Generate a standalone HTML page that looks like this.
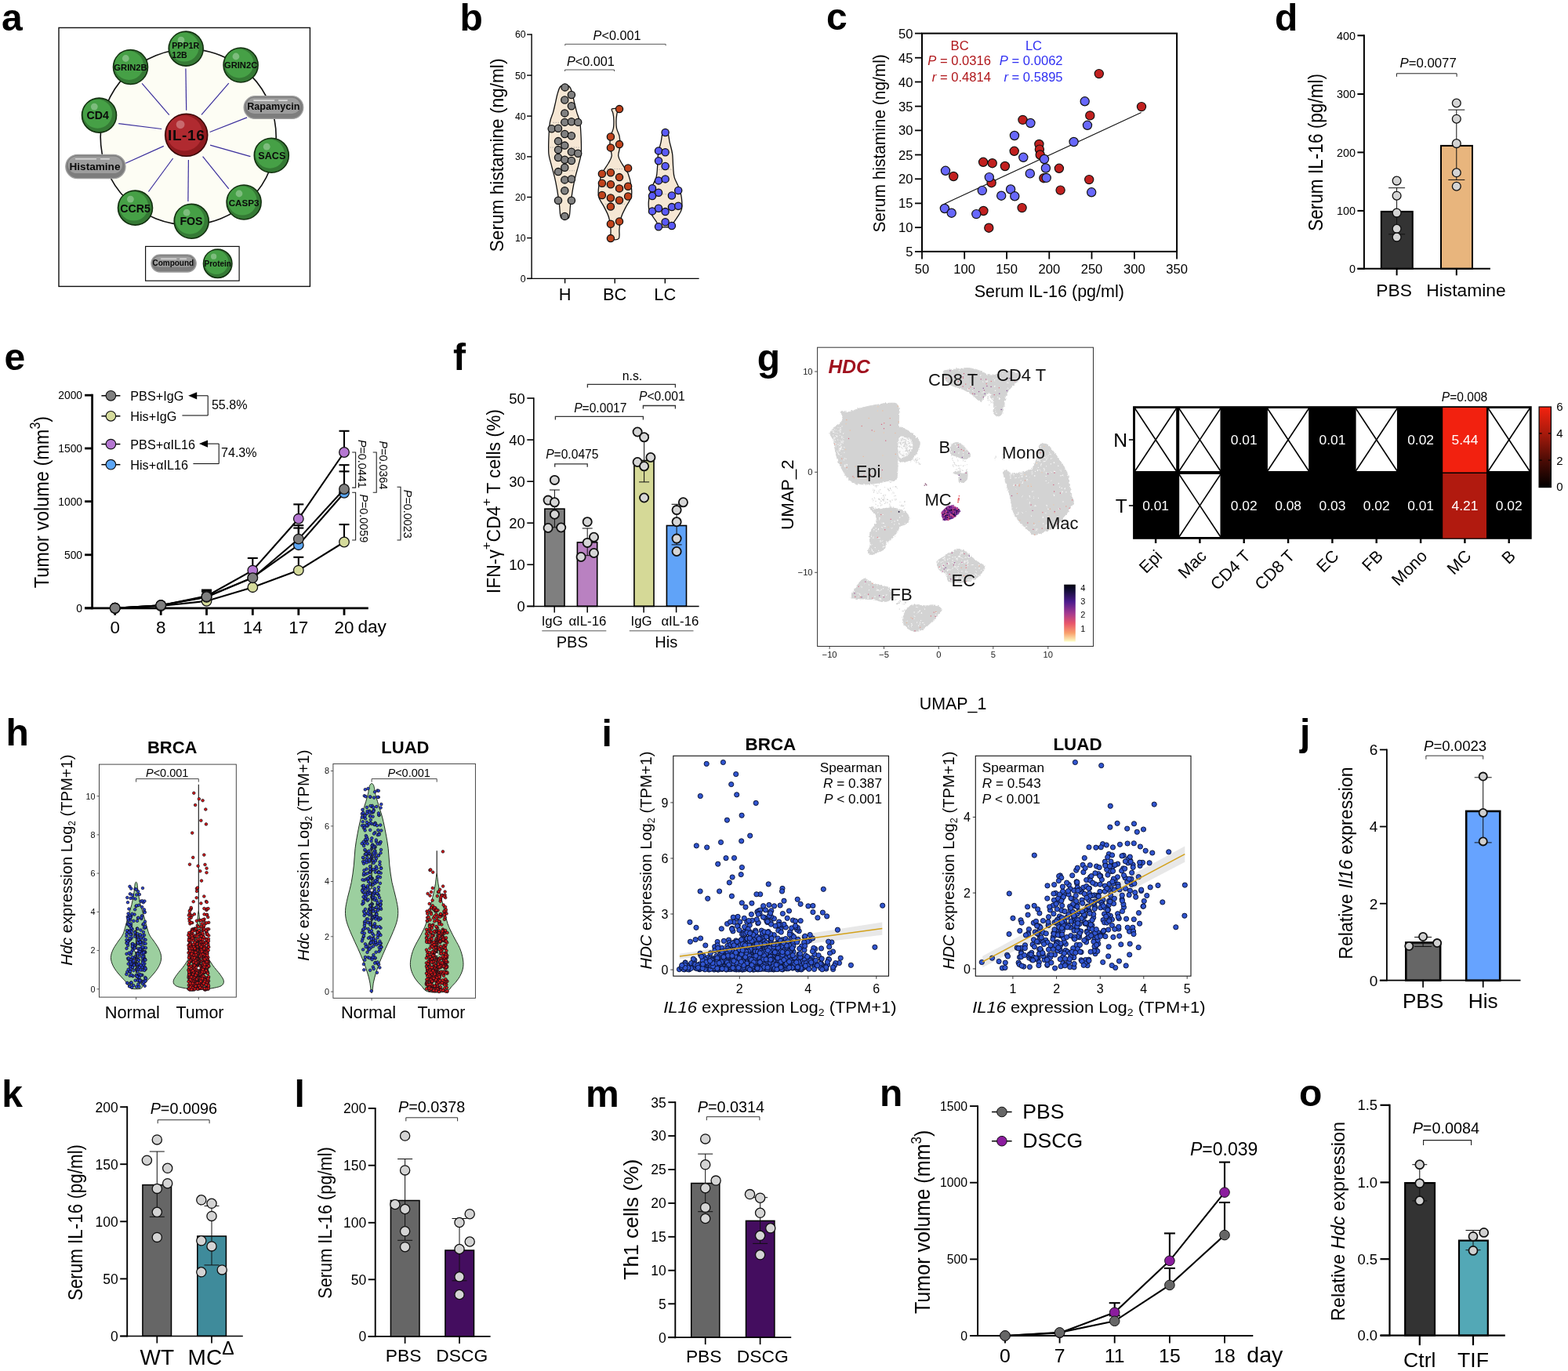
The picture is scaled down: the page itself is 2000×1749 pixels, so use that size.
<!DOCTYPE html>
<html lang="en">
<head>
<meta charset="utf-8">
<title>Figure</title>
<style>
html,body{margin:0;padding:0;background:#fff;}
body{width:2000px;height:1749px;overflow:hidden;}
svg{display:block;font-family:"Liberation Sans",sans-serif;}
svg text{white-space:pre;}
</style>
</head>
<body>
<svg width="2000" height="1749" viewBox="0 0 2000 1749">
<rect x="0" y="0" width="2000" height="1749" fill="#fff"/>
<!-- panel a -->
<g>
<text x="2" y="38.5" font-size="48" font-weight="bold">a</text>
<rect x="75" y="35.4" width="320.4" height="330" fill="none" stroke="#111" stroke-width="1.4"/>
<circle cx="240.2" cy="174.8" r="112" fill="#fdfdf4" stroke="#111" stroke-width="1.6"/>
<line x1="236.9" y1="87.5" x2="237.7" y2="140.8" stroke="#3a2e9c" stroke-width="1.2"/>
<line x1="181.1" y1="106.4" x2="215.8" y2="146.6" stroke="#3a2e9c" stroke-width="1.2"/>
<line x1="291.8" y1="106.1" x2="257" y2="146.4" stroke="#3a2e9c" stroke-width="1.2"/>
<line x1="315.1" y1="149.9" x2="267.6" y2="168.5" stroke="#3a2e9c" stroke-width="1.2"/>
<line x1="151.2" y1="157.7" x2="206.2" y2="164.5" stroke="#3a2e9c" stroke-width="1.2"/>
<line x1="268.1" y1="185.1" x2="319.4" y2="199.7" stroke="#3a2e9c" stroke-width="1.2"/>
<line x1="160.2" y1="208.2" x2="208.8" y2="186.4" stroke="#3a2e9c" stroke-width="1.2"/>
<line x1="189.4" y1="244.5" x2="220.6" y2="202" stroke="#3a2e9c" stroke-width="1.2"/>
<line x1="239.9" y1="257" x2="240.4" y2="204" stroke="#3a2e9c" stroke-width="1.2"/>
<line x1="291.8" y1="240.9" x2="258.6" y2="199.7" stroke="#3a2e9c" stroke-width="1.2"/>
<circle cx="237.2" cy="62.1" r="22" fill="#357a35" stroke="#12300f" stroke-width="1.6"/>
<circle cx="235.2" cy="60.1" r="18.48" fill="#46a046" stroke="none" stroke-width="0"/>
<circle cx="231" cy="51.1" r="4.4" fill="#fff" stroke="none" stroke-width="0" opacity="0.3"/>
<circle cx="166.5" cy="85.5" r="22" fill="#357a35" stroke="#12300f" stroke-width="1.6"/>
<circle cx="164.5" cy="83.5" r="18.48" fill="#46a046" stroke="none" stroke-width="0"/>
<circle cx="160.3" cy="74.5" r="4.4" fill="#fff" stroke="none" stroke-width="0" opacity="0.3"/>
<circle cx="307.1" cy="83" r="22" fill="#357a35" stroke="#12300f" stroke-width="1.6"/>
<circle cx="305.1" cy="81" r="18.48" fill="#46a046" stroke="none" stroke-width="0"/>
<circle cx="300.9" cy="72" r="4.4" fill="#fff" stroke="none" stroke-width="0" opacity="0.3"/>
<circle cx="126.5" cy="147.1" r="22" fill="#357a35" stroke="#12300f" stroke-width="1.6"/>
<circle cx="124.5" cy="145.2" r="18.48" fill="#46a046" stroke="none" stroke-width="0"/>
<circle cx="120.3" cy="136.1" r="4.4" fill="#fff" stroke="none" stroke-width="0" opacity="0.3"/>
<circle cx="346.3" cy="198.2" r="22" fill="#357a35" stroke="#12300f" stroke-width="1.6"/>
<circle cx="344.3" cy="196.2" r="18.48" fill="#46a046" stroke="none" stroke-width="0"/>
<circle cx="340.2" cy="187.2" r="4.4" fill="#fff" stroke="none" stroke-width="0" opacity="0.3"/>
<circle cx="311.1" cy="258" r="22" fill="#357a35" stroke="#12300f" stroke-width="1.6"/>
<circle cx="309.1" cy="256.1" r="18.48" fill="#46a046" stroke="none" stroke-width="0"/>
<circle cx="305" cy="247" r="4.4" fill="#fff" stroke="none" stroke-width="0" opacity="0.3"/>
<circle cx="244.2" cy="282.2" r="22" fill="#357a35" stroke="#12300f" stroke-width="1.6"/>
<circle cx="242.2" cy="280.2" r="18.48" fill="#46a046" stroke="none" stroke-width="0"/>
<circle cx="238.1" cy="271.2" r="4.4" fill="#fff" stroke="none" stroke-width="0" opacity="0.3"/>
<circle cx="172.5" cy="265.1" r="22" fill="#357a35" stroke="#12300f" stroke-width="1.6"/>
<circle cx="170.6" cy="263.1" r="18.48" fill="#46a046" stroke="none" stroke-width="0"/>
<circle cx="166.4" cy="254.1" r="4.4" fill="#fff" stroke="none" stroke-width="0" opacity="0.3"/>
<circle cx="237.7" cy="172.3" r="27" fill="#8f1b1f" stroke="#3a0808" stroke-width="1.6"/>
<circle cx="235.2" cy="169.9" r="22.68" fill="#b02a30" stroke="none" stroke-width="0"/>
<circle cx="230.1" cy="158.8" r="5.4" fill="#fff" stroke="none" stroke-width="0" opacity="0.3"/>
<rect x="311.1" y="122.7" width="75.7" height="28.7" rx="14.3" fill="#7d7d7d" stroke="#a0a0a0" stroke-width="1.3"/>
<rect x="314.1" y="124.7" width="68.7" height="20.2" rx="10.1" fill="#9d9d9d"/>
<rect x="323.1" y="127.3" width="27.3" height="1.6" rx="0.8" fill="#d9d9d9"/>
<rect x="354.9" y="127.3" width="12.1" height="1.6" rx="0.8" fill="#d9d9d9"/>
<rect x="83.8" y="197.4" width="76.2" height="30.2" rx="15.1" fill="#7d7d7d" stroke="#a0a0a0" stroke-width="1.3"/>
<rect x="86.8" y="199.4" width="69.2" height="21.7" rx="10.8" fill="#9d9d9d"/>
<rect x="95.8" y="202" width="27.4" height="1.6" rx="0.8" fill="#d9d9d9"/>
<rect x="127.8" y="202" width="12.2" height="1.6" rx="0.8" fill="#d9d9d9"/>
<rect x="185.6" y="314.4" width="119.5" height="43.8" fill="#fff" stroke="#111" stroke-width="1.2"/>
<rect x="192.9" y="324.9" width="57.3" height="22.1" rx="11.1" fill="#7d7d7d" stroke="#a0a0a0" stroke-width="1.3"/>
<rect x="195.9" y="326.9" width="50.3" height="13.6" rx="6.8" fill="#9d9d9d"/>
<rect x="204.9" y="329.5" width="20.6" height="1.6" rx="0.8" fill="#d9d9d9"/>
<rect x="229" y="329.5" width="9.2" height="1.6" rx="0.8" fill="#d9d9d9"/>
<circle cx="277.7" cy="336.3" r="18.2" fill="#357a35" stroke="#12300f" stroke-width="1.6"/>
<circle cx="276" cy="334.6" r="15.29" fill="#46a046" stroke="none" stroke-width="0"/>
<circle cx="272.6" cy="327.2" r="3.64" fill="#fff" stroke="none" stroke-width="0" opacity="0.3"/>
<text x="219.3" y="62.1" font-size="10.6" font-weight="bold" fill="#0a0a0a">PPP1R</text>
<text x="219.3" y="74.4" font-size="10.6" font-weight="bold" fill="#0a0a0a">12B</text>
<text x="166.5" y="90" font-size="11.2" text-anchor="middle" font-weight="bold" fill="#0a0a0a">GRIN2B</text>
<text x="307.1" y="87.3" font-size="11.2" text-anchor="middle" font-weight="bold" fill="#0a0a0a">GRIN2C</text>
<text x="124.7" y="152.4" font-size="14.2" text-anchor="middle" font-weight="bold" fill="#0a0a0a">CD4</text>
<text x="346.8" y="202.7" font-size="12.6" text-anchor="middle" font-weight="bold" fill="#0a0a0a">SACS</text>
<text x="311.1" y="262.8" font-size="11.6" text-anchor="middle" font-weight="bold" fill="#0a0a0a">CASP3</text>
<text x="244" y="287.2" font-size="14.2" text-anchor="middle" font-weight="bold" fill="#0a0a0a">FOS</text>
<text x="172.5" y="271.1" font-size="14.2" text-anchor="middle" font-weight="bold" fill="#0a0a0a">CCR5</text>
<text x="237.7" y="179.3" font-size="19" text-anchor="middle" font-weight="bold" fill="#0a0a0a" letter-spacing="0.6">IL-16</text>
<text x="348.8" y="140.3" font-size="12.6" text-anchor="middle" font-weight="bold" fill="#0a0a0a">Rapamycin</text>
<text x="121" y="216.5" font-size="13.6" text-anchor="middle" font-weight="bold" fill="#0a0a0a">Histamine</text>
<text x="220.8" y="339.3" font-size="10" text-anchor="middle" font-weight="bold" fill="#0a0a0a">Compound</text>
<text x="277.7" y="339.5" font-size="10" text-anchor="middle" font-weight="bold" fill="#0a0a0a">Protein</text>
</g>
<!-- panel b -->
<g>
<text x="586.5" y="38.5" font-size="48" font-weight="bold">b</text>
<path d="M715.5 109.9C713.2 111.3 712.7 114.7 711.5 118.2C710.3 121.7 709.5 126.6 708.5 130.8C707.5 135 706.7 139.2 705.5 143.4C704.3 147.6 702.4 150.5 701.5 155.9C700.5 161.4 700.2 169.3 699.9 176.1C699.7 182.8 699.4 190.3 699.9 196.2C700.5 202 702.2 206.2 703.5 211.3C704.7 216.3 706.3 221.3 707.5 226.4C708.7 231.4 709.5 235.6 710.5 241.4C711.5 247.3 712.7 255.5 713.5 261.6C714.4 267.6 713.8 275.2 715.8 277.9C717.8 280.6 723.4 280.6 725.4 277.9C727.3 275.2 726.7 267.6 727.6 261.6C728.5 255.5 729.6 247.3 730.6 241.4C731.6 235.6 732.5 231.4 733.7 226.4C734.8 221.3 736.4 216.3 737.7 211.3C738.9 206.2 740.6 202 741.2 196.2C741.8 190.3 741.4 182.8 741.2 176.1C740.9 169.3 740.6 161.4 739.7 155.9C738.8 150.5 736.8 147.6 735.7 143.4C734.5 139.2 733.7 135 732.6 130.8C731.6 126.6 730.8 121.7 729.6 118.2C728.5 114.7 728 111.3 725.6 109.9C723.3 108.5 717.9 108.5 715.5 109.9Z" fill="#f6e7d4" stroke="#111" stroke-width="1.3"/>
<path d="M780.4 139.1C779.3 140 781.5 142.2 781.9 144.6C782.4 147 782.9 150.3 782.9 153.4C783 156.6 783.1 160.1 782.4 163.5C781.8 166.8 779.7 169.8 778.9 173.5C778.2 177.3 777.7 181.9 777.9 186.1C778.1 190.3 780.6 194.9 780.2 198.7C779.8 202.5 777.7 205 775.7 208.8C773.6 212.5 769.9 216.3 767.9 221.3C765.8 226.4 764.3 233.9 763.6 238.9C762.9 244 762.7 247.3 763.8 251.5C765 255.7 768.5 259.9 770.6 264.1C772.7 268.3 775 272 776.4 276.7C777.8 281.3 778.4 287.1 778.9 291.8C779.5 296.4 778 302.2 779.7 304.3C781.4 306.4 787.5 306.4 789.2 304.3C791 302.2 789.4 296.4 790 291.8C790.5 287.1 791.1 281.3 792.5 276.7C793.9 272 796.2 268.3 798.3 264.1C800.4 259.9 803.9 255.7 805.1 251.5C806.3 247.3 806 244 805.3 238.9C804.7 233.9 803.1 226.4 801.1 221.3C799 216.3 795.3 212.5 793.3 208.8C791.2 205 789.1 202.5 788.7 198.7C788.4 194.9 790.8 190.3 791 186.1C791.2 181.9 790.7 177.3 790 173.5C789.2 169.8 787.1 166.8 786.5 163.5C785.8 160.1 785.9 156.6 786 153.4C786 150.3 786.6 147 787 144.6C787.4 142.2 789.6 140 788.5 139.1C787.4 138.2 781.5 138.2 780.4 139.1Z" fill="#f6e7d4" stroke="#111" stroke-width="1.3"/>
<path d="M845.6 169C844.1 171 844.1 176.6 843.1 181.1C842.1 185.6 840.3 190.7 839.5 196.2C838.8 201.6 839 208.8 838.5 213.8C838.1 218.8 838.2 222.2 837 226.4C835.8 230.5 833 234.7 831.5 238.9C830 243.1 828.6 246.9 828 251.5C827.3 256.1 826.9 262.4 827.7 266.6C828.6 270.8 831.3 273.7 833 276.7C834.7 279.6 837.1 282.1 838 284.2C839 286.3 835.1 288.4 838.5 289.2C842 290.1 855.2 290.1 858.7 289.2C862.1 288.4 858.2 286.3 859.2 284.2C860.1 282.1 862.5 279.6 864.2 276.7C865.9 273.7 868.6 270.8 869.5 266.6C870.3 262.4 869.8 256.1 869.2 251.5C868.6 246.9 867.2 243.1 865.7 238.9C864.2 234.7 861.3 230.5 860.2 226.4C859 222.2 859.1 218.8 858.7 213.8C858.2 208.8 858.4 201.6 857.6 196.2C856.9 190.7 855.1 185.6 854.1 181.1C853.1 176.6 853 171 851.6 169C850.2 167 847 167 845.6 169Z" fill="#f6e7d4" stroke="#111" stroke-width="1.3"/>
<line x1="705.5" y1="156.4" x2="735.7" y2="156.4" stroke="#999" stroke-width="0.7" stroke-dasharray="1.5 1.5"/>
<line x1="701.5" y1="188.1" x2="739.7" y2="188.1" stroke="#999" stroke-width="0.7" stroke-dasharray="1.5 1.5"/>
<line x1="708" y1="217.8" x2="733.1" y2="217.8" stroke="#999" stroke-width="0.7" stroke-dasharray="1.5 1.5"/>
<line x1="774.4" y1="215.5" x2="794.5" y2="215.5" stroke="#999" stroke-width="0.7" stroke-dasharray="1.5 1.5"/>
<line x1="766.9" y1="238.4" x2="802.1" y2="238.4" stroke="#999" stroke-width="0.7" stroke-dasharray="1.5 1.5"/>
<line x1="771.9" y1="260.3" x2="797" y2="260.3" stroke="#999" stroke-width="0.7" stroke-dasharray="1.5 1.5"/>
<line x1="840" y1="216.3" x2="857.1" y2="216.3" stroke="#999" stroke-width="0.7" stroke-dasharray="1.5 1.5"/>
<line x1="833.5" y1="247.7" x2="863.7" y2="247.7" stroke="#999" stroke-width="0.7" stroke-dasharray="1.5 1.5"/>
<line x1="831" y1="267.9" x2="866.2" y2="267.9" stroke="#999" stroke-width="0.7" stroke-dasharray="1.5 1.5"/>
<g fill="#808080" stroke="#111" stroke-width="1.3">
<circle cx="720.6" cy="111.4" r="4.6"/>
<circle cx="728.9" cy="121" r="4.6"/>
<circle cx="720.3" cy="127.5" r="4.6"/>
<circle cx="728.9" cy="135.3" r="4.6"/>
<circle cx="720.3" cy="144.4" r="4.6"/>
<circle cx="720.3" cy="155.9" r="4.6"/>
<circle cx="728.9" cy="155.2" r="4.6"/>
<circle cx="737.2" cy="155.9" r="4.6"/>
<circle cx="703.7" cy="164.2" r="4.6"/>
<circle cx="712" cy="163.7" r="4.6"/>
<circle cx="720.3" cy="171" r="4.6"/>
<circle cx="728.9" cy="173.3" r="4.6"/>
<circle cx="712" cy="180.1" r="4.6"/>
<circle cx="720.3" cy="185.6" r="4.6"/>
<circle cx="712" cy="191.1" r="4.6"/>
<circle cx="728.9" cy="193.7" r="4.6"/>
<circle cx="737.2" cy="195.7" r="4.6"/>
<circle cx="712" cy="201" r="4.6"/>
<circle cx="720.3" cy="203.7" r="4.6"/>
<circle cx="728.9" cy="205" r="4.6"/>
<circle cx="720.3" cy="213.8" r="4.6"/>
<circle cx="712" cy="219.1" r="4.6"/>
<circle cx="720.3" cy="229.4" r="4.6"/>
<circle cx="728.9" cy="228.4" r="4.6"/>
<circle cx="720.3" cy="243.2" r="4.6"/>
<circle cx="712" cy="255.8" r="4.6"/>
<circle cx="728.9" cy="255.8" r="4.6"/>
<circle cx="720.3" cy="275.9" r="4.6"/>
</g>
<g fill="#c0431c" stroke="#111" stroke-width="1.3">
<circle cx="790" cy="139.1" r="4.6"/>
<circle cx="778.9" cy="174.5" r="4.6"/>
<circle cx="790" cy="184.1" r="4.6"/>
<circle cx="778.9" cy="188.4" r="4.6"/>
<circle cx="801.1" cy="214.5" r="4.6"/>
<circle cx="767.9" cy="221.8" r="4.6"/>
<circle cx="778.9" cy="220.3" r="4.6"/>
<circle cx="790" cy="226.1" r="4.6"/>
<circle cx="767.9" cy="233.7" r="4.6"/>
<circle cx="778.9" cy="235.2" r="4.6"/>
<circle cx="790" cy="240.4" r="4.6"/>
<circle cx="801.1" cy="237.7" r="4.6"/>
<circle cx="767.9" cy="249" r="4.6"/>
<circle cx="778.9" cy="252.5" r="4.6"/>
<circle cx="790" cy="255.5" r="4.6"/>
<circle cx="801.1" cy="250.5" r="4.6"/>
<circle cx="778.9" cy="263.6" r="4.6"/>
<circle cx="790" cy="282.4" r="4.6"/>
<circle cx="778.9" cy="285.7" r="4.6"/>
<circle cx="778.9" cy="304.1" r="4.6"/>
</g>
<g fill="#5a5af7" stroke="#111" stroke-width="1.3">
<circle cx="848.6" cy="169" r="4.6"/>
<circle cx="840" cy="192.4" r="4.6"/>
<circle cx="848.6" cy="194.2" r="4.6"/>
<circle cx="840" cy="205.2" r="4.6"/>
<circle cx="848.6" cy="212" r="4.6"/>
<circle cx="840" cy="230.4" r="4.6"/>
<circle cx="848.6" cy="228.4" r="4.6"/>
<circle cx="832" cy="240.2" r="4.6"/>
<circle cx="840" cy="245.7" r="4.6"/>
<circle cx="865.2" cy="243" r="4.6"/>
<circle cx="832" cy="250" r="4.6"/>
<circle cx="856.9" cy="249.5" r="4.6"/>
<circle cx="832" cy="269.4" r="4.6"/>
<circle cx="840" cy="265.8" r="4.6"/>
<circle cx="848.6" cy="270.1" r="4.6"/>
<circle cx="856.9" cy="264.1" r="4.6"/>
<circle cx="865.2" cy="262.8" r="4.6"/>
<circle cx="848.6" cy="283.2" r="4.6"/>
<circle cx="840" cy="289.2" r="4.6"/>
<circle cx="856.9" cy="288" r="4.6"/>
</g>
<line x1="678.1" y1="43.3" x2="678.1" y2="356.1" stroke="#000" stroke-width="1.4"/>
<line x1="672.1" y1="44" x2="678.1" y2="44" stroke="#000" stroke-width="1.4"/>
<text x="670.6" y="48.4" font-size="12.3" text-anchor="end">60</text>
<line x1="672.1" y1="96.1" x2="678.1" y2="96.1" stroke="#000" stroke-width="1.4"/>
<text x="670.6" y="100.5" font-size="12.3" text-anchor="end">50</text>
<line x1="672.1" y1="148.1" x2="678.1" y2="148.1" stroke="#000" stroke-width="1.4"/>
<text x="670.6" y="152.6" font-size="12.3" text-anchor="end">40</text>
<line x1="672.1" y1="199.9" x2="678.1" y2="199.9" stroke="#000" stroke-width="1.4"/>
<text x="670.6" y="204.4" font-size="12.3" text-anchor="end">30</text>
<line x1="672.1" y1="251.5" x2="678.1" y2="251.5" stroke="#000" stroke-width="1.4"/>
<text x="670.6" y="255.9" font-size="12.3" text-anchor="end">20</text>
<line x1="672.1" y1="303.6" x2="678.1" y2="303.6" stroke="#000" stroke-width="1.4"/>
<text x="670.6" y="308" font-size="12.3" text-anchor="end">10</text>
<line x1="672.1" y1="355.4" x2="678.1" y2="355.4" stroke="#000" stroke-width="1.4"/>
<text x="670.6" y="359.8" font-size="12.3" text-anchor="end">0</text>
<line x1="672.1" y1="355.4" x2="891.6" y2="355.4" stroke="#000" stroke-width="1.4"/>
<line x1="720.6" y1="355.4" x2="720.6" y2="361.4" stroke="#000" stroke-width="1.4"/>
<line x1="784.2" y1="355.4" x2="784.2" y2="361.4" stroke="#000" stroke-width="1.4"/>
<line x1="848.3" y1="355.4" x2="848.3" y2="361.4" stroke="#000" stroke-width="1.4"/>
<text x="720.6" y="382.8" font-size="21.8" text-anchor="middle">H</text>
<text x="784.2" y="382.8" font-size="21.8" text-anchor="middle">BC</text>
<text x="848.3" y="382.8" font-size="21.8" text-anchor="middle">LC</text>
<text font-size="23.6" text-anchor="middle" transform="translate(641.6 197.9) rotate(-90) scale(0.96 1)">Serum histamine (ng/ml)</text>
<text x="787" y="51.1" font-size="16.2" text-anchor="middle"><tspan font-style="italic">P</tspan>&lt;0.001</text>
<polyline points="720.8,58.3 720.8,56.3 849.1,56.3 849.1,58.3" fill="none" stroke="#555" stroke-width="1"/>
<text x="753.3" y="84.3" font-size="16.2" text-anchor="middle"><tspan font-style="italic">P</tspan>&lt;0.001</text>
<polyline points="720.6,91 720.6,89 783.5,89 783.5,91" fill="none" stroke="#555" stroke-width="1"/>
</g>
<!-- panel c -->
<g>
<text x="1054" y="38" font-size="48" font-weight="bold">c</text>
<line x1="1204.9" y1="259.9" x2="1455.7" y2="143.6" stroke="#111" stroke-width="1.1"/>
<g fill="#c1201f" stroke="#111" stroke-width="1.2">
<circle cx="1401.8" cy="94.1" r="5.6"/>
<circle cx="1456" cy="136.1" r="5.6"/>
<circle cx="1390.3" cy="147.4" r="5.6"/>
<circle cx="1304.5" cy="152.9" r="5.6"/>
<circle cx="1325.4" cy="184" r="5.6"/>
<circle cx="1325.9" cy="190.6" r="5.6"/>
<circle cx="1326.7" cy="197.5" r="5.6"/>
<circle cx="1293.7" cy="192.8" r="5.6"/>
<circle cx="1254.1" cy="206.8" r="5.6"/>
<circle cx="1265.7" cy="208.2" r="5.6"/>
<circle cx="1281.9" cy="212" r="5.6"/>
<circle cx="1216.2" cy="225" r="5.6"/>
<circle cx="1350.9" cy="214.8" r="5.6"/>
<circle cx="1331.4" cy="227.2" r="5.6"/>
<circle cx="1264.6" cy="233.2" r="5.6"/>
<circle cx="1389.2" cy="229.1" r="5.6"/>
<circle cx="1352.6" cy="242.6" r="5.6"/>
<circle cx="1303.6" cy="265.1" r="5.6"/>
<circle cx="1254.4" cy="269" r="5.6"/>
<circle cx="1261.3" cy="290.7" r="5.6"/>
</g>
<g fill="#6868fb" stroke="#111" stroke-width="1.2">
<circle cx="1383.7" cy="129.3" r="5.6"/>
<circle cx="1387" cy="159.8" r="5.6"/>
<circle cx="1314.4" cy="157" r="5.6"/>
<circle cx="1294" cy="173" r="5.6"/>
<circle cx="1369.6" cy="181" r="5.6"/>
<circle cx="1305.3" cy="200.8" r="5.6"/>
<circle cx="1332" cy="203" r="5.6"/>
<circle cx="1333.9" cy="214.5" r="5.6"/>
<circle cx="1206" cy="217.8" r="5.6"/>
<circle cx="1313.8" cy="221.4" r="5.6"/>
<circle cx="1261.8" cy="226.1" r="5.6"/>
<circle cx="1334.7" cy="226.9" r="5.6"/>
<circle cx="1252.8" cy="243.1" r="5.6"/>
<circle cx="1289.1" cy="241.5" r="5.6"/>
<circle cx="1294.3" cy="250.3" r="5.6"/>
<circle cx="1277.2" cy="249.7" r="5.6"/>
<circle cx="1392.2" cy="245.3" r="5.6"/>
<circle cx="1204.9" cy="266" r="5.6"/>
<circle cx="1213.7" cy="271.7" r="5.6"/>
<circle cx="1245.3" cy="273.1" r="5.6"/>
</g>
<rect x="1176" y="42.6" width="325.1" height="278.3" fill="none" stroke="#000" stroke-width="2"/>
<line x1="1167" y1="42.6" x2="1176" y2="42.6" stroke="#000" stroke-width="1.8"/>
<text x="1164.5" y="48.6" font-size="16.6" text-anchor="end">50</text>
<line x1="1167" y1="73.7" x2="1176" y2="73.7" stroke="#000" stroke-width="1.8"/>
<text x="1164.5" y="79.7" font-size="16.6" text-anchor="end">45</text>
<line x1="1167" y1="104.5" x2="1176" y2="104.5" stroke="#000" stroke-width="1.8"/>
<text x="1164.5" y="110.5" font-size="16.6" text-anchor="end">40</text>
<line x1="1167" y1="135.6" x2="1176" y2="135.6" stroke="#000" stroke-width="1.8"/>
<text x="1164.5" y="141.6" font-size="16.6" text-anchor="end">35</text>
<line x1="1167" y1="166.4" x2="1176" y2="166.4" stroke="#000" stroke-width="1.8"/>
<text x="1164.5" y="172.4" font-size="16.6" text-anchor="end">30</text>
<line x1="1167" y1="197.5" x2="1176" y2="197.5" stroke="#000" stroke-width="1.8"/>
<text x="1164.5" y="203.5" font-size="16.6" text-anchor="end">25</text>
<line x1="1167" y1="228.3" x2="1176" y2="228.3" stroke="#000" stroke-width="1.8"/>
<text x="1164.5" y="234.3" font-size="16.6" text-anchor="end">20</text>
<line x1="1167" y1="259.4" x2="1176" y2="259.4" stroke="#000" stroke-width="1.8"/>
<text x="1164.5" y="265.4" font-size="16.6" text-anchor="end">15</text>
<line x1="1167" y1="290.2" x2="1176" y2="290.2" stroke="#000" stroke-width="1.8"/>
<text x="1164.5" y="296.2" font-size="16.6" text-anchor="end">10</text>
<line x1="1167" y1="321" x2="1176" y2="321" stroke="#000" stroke-width="1.8"/>
<text x="1164.5" y="327" font-size="16.6" text-anchor="end">5</text>
<line x1="1176" y1="321" x2="1176" y2="330.5" stroke="#000" stroke-width="1.8"/>
<text x="1176" y="348.7" font-size="16.6" text-anchor="middle">50</text>
<line x1="1230.2" y1="321" x2="1230.2" y2="330.5" stroke="#000" stroke-width="1.8"/>
<text x="1230.2" y="348.7" font-size="16.6" text-anchor="middle">100</text>
<line x1="1284.1" y1="321" x2="1284.1" y2="330.5" stroke="#000" stroke-width="1.8"/>
<text x="1284.1" y="348.7" font-size="16.6" text-anchor="middle">150</text>
<line x1="1338.3" y1="321" x2="1338.3" y2="330.5" stroke="#000" stroke-width="1.8"/>
<text x="1338.3" y="348.7" font-size="16.6" text-anchor="middle">200</text>
<line x1="1392.5" y1="321" x2="1392.5" y2="330.5" stroke="#000" stroke-width="1.8"/>
<text x="1392.5" y="348.7" font-size="16.6" text-anchor="middle">250</text>
<line x1="1446.9" y1="321" x2="1446.9" y2="330.5" stroke="#000" stroke-width="1.8"/>
<text x="1446.9" y="348.7" font-size="16.6" text-anchor="middle">300</text>
<line x1="1501.1" y1="321" x2="1501.1" y2="330.5" stroke="#000" stroke-width="1.8"/>
<text x="1501.1" y="348.7" font-size="16.6" text-anchor="middle">350</text>
<text x="1338.3" y="378.7" font-size="21.5" text-anchor="middle">Serum IL-16 (pg/ml)</text>
<text font-size="22" text-anchor="middle" transform="translate(1128.7 182.9) rotate(-90) scale(0.95 1)">Serum histamine (ng/ml)</text>
<text x="1224.1" y="64.4" font-size="16.6" text-anchor="middle" fill="#b0181c">BC</text>
<text x="1264" y="83.3" font-size="16.6" text-anchor="end" fill="#b0181c"><tspan font-style="italic">P</tspan> = 0.0316</text>
<text x="1264" y="104" font-size="16.6" text-anchor="end" fill="#b0181c"><tspan font-style="italic">r</tspan> = 0.4814</text>
<text x="1318.5" y="64.4" font-size="16.6" text-anchor="middle" fill="#3030f2">LC</text>
<text x="1355.6" y="83.3" font-size="16.6" text-anchor="end" fill="#3030f2"><tspan font-style="italic">P</tspan> = 0.0062</text>
<text x="1355.6" y="104" font-size="16.6" text-anchor="end" fill="#3030f2"><tspan font-style="italic">r</tspan> = 0.5895</text>
</g>
<!-- panel d -->
<g>
<text x="1626" y="38.5" font-size="48" font-weight="bold">d</text>
<rect x="1761.8" y="269.9" width="40" height="72.9" fill="#333333" stroke="#000" stroke-width="2"/>
<rect x="1838" y="185.9" width="40" height="156.9" fill="#e8b57d" stroke="#000" stroke-width="2"/>
<line x1="1781.6" y1="239.7" x2="1781.6" y2="298.8" stroke="#111" stroke-width="1"/>
<line x1="1771.1" y1="239.7" x2="1792.1" y2="239.7" stroke="#111" stroke-width="1"/>
<line x1="1771.1" y1="298.8" x2="1792.1" y2="298.8" stroke="#111" stroke-width="1"/>
<line x1="1857.8" y1="140.1" x2="1857.8" y2="229.4" stroke="#111" stroke-width="1"/>
<line x1="1847.3" y1="140.1" x2="1868.3" y2="140.1" stroke="#111" stroke-width="1"/>
<line x1="1847.3" y1="229.4" x2="1868.3" y2="229.4" stroke="#111" stroke-width="1"/>
<g fill="#d4d4d4" stroke="#111" stroke-width="1.3">
<circle cx="1781.6" cy="230.6" r="5.4"/>
<circle cx="1781.6" cy="249.7" r="5.4"/>
<circle cx="1781.6" cy="271.6" r="5.4"/>
<circle cx="1781.6" cy="291.8" r="5.4"/>
<circle cx="1781.6" cy="302.6" r="5.4"/>
</g>
<g fill="#d4d4d4" stroke="#111" stroke-width="1.3">
<circle cx="1857.8" cy="131.5" r="5.4"/>
<circle cx="1857.8" cy="151.7" r="5.4"/>
<circle cx="1857.8" cy="183.1" r="5.4"/>
<circle cx="1857.8" cy="220.3" r="5.4"/>
<circle cx="1857.8" cy="237.7" r="5.4"/>
</g>
<line x1="1739.9" y1="44.3" x2="1739.9" y2="343.8" stroke="#000" stroke-width="2"/>
<line x1="1731.4" y1="45.3" x2="1739.9" y2="45.3" stroke="#000" stroke-width="2"/>
<text x="1728.9" y="50.5" font-size="14.4" text-anchor="end">400</text>
<line x1="1731.4" y1="120" x2="1739.9" y2="120" stroke="#000" stroke-width="2"/>
<text x="1728.9" y="125.2" font-size="14.4" text-anchor="end">300</text>
<line x1="1731.4" y1="194.4" x2="1739.9" y2="194.4" stroke="#000" stroke-width="2"/>
<text x="1728.9" y="199.6" font-size="14.4" text-anchor="end">200</text>
<line x1="1731.4" y1="268.9" x2="1739.9" y2="268.9" stroke="#000" stroke-width="2"/>
<text x="1728.9" y="274" font-size="14.4" text-anchor="end">100</text>
<line x1="1731.4" y1="342.8" x2="1739.9" y2="342.8" stroke="#000" stroke-width="2"/>
<text x="1728.9" y="348" font-size="14.4" text-anchor="end">0</text>
<line x1="1731.4" y1="342.8" x2="1900.9" y2="342.8" stroke="#000" stroke-width="2"/>
<line x1="1781.6" y1="342.8" x2="1781.6" y2="351.3" stroke="#000" stroke-width="2"/>
<line x1="1857.8" y1="342.8" x2="1857.8" y2="351.3" stroke="#000" stroke-width="2"/>
<text x="1778.1" y="378" font-size="22.8" text-anchor="middle">PBS</text>
<text x="1869.9" y="378" font-size="22.8" text-anchor="middle">Histamine</text>
<text font-size="25.4" text-anchor="middle" transform="translate(1686.6 194.4) rotate(-90) scale(0.89 1)">Serum IL-16 (pg/ml)</text>
<text x="1821.6" y="86.3" font-size="16.8" text-anchor="middle"><tspan font-style="italic">P</tspan>=0.0077</text>
<polyline points="1781.4,97.8 1781.4,93.8 1858.1,93.8 1858.1,97.8" fill="none" stroke="#222" stroke-width="1"/>
</g>
<!-- panel e -->
<g>
<text x="5.5" y="472" font-size="48" font-weight="bold">e</text>
<line x1="263.5" y1="766.8" x2="263.5" y2="759" stroke="#000" stroke-width="2.1"/>
<line x1="257" y1="759" x2="270" y2="759" stroke="#000" stroke-width="2.1"/>
<line x1="322.3" y1="749.2" x2="322.3" y2="738" stroke="#000" stroke-width="2.1"/>
<line x1="315.8" y1="738" x2="328.8" y2="738" stroke="#000" stroke-width="2.1"/>
<line x1="380.8" y1="727.6" x2="380.8" y2="710.8" stroke="#000" stroke-width="2.1"/>
<line x1="374.3" y1="710.8" x2="387.3" y2="710.8" stroke="#000" stroke-width="2.1"/>
<line x1="439" y1="691.5" x2="439" y2="669.1" stroke="#000" stroke-width="2.1"/>
<line x1="432.5" y1="669.1" x2="445.5" y2="669.1" stroke="#000" stroke-width="2.1"/>
<line x1="263.5" y1="761.8" x2="263.5" y2="754.8" stroke="#000" stroke-width="2.1"/>
<line x1="257" y1="754.8" x2="270" y2="754.8" stroke="#000" stroke-width="2.1"/>
<line x1="380.8" y1="695.2" x2="380.8" y2="673.6" stroke="#000" stroke-width="2.1"/>
<line x1="374.3" y1="673.6" x2="387.3" y2="673.6" stroke="#000" stroke-width="2.1"/>
<line x1="439" y1="628.8" x2="439" y2="601.4" stroke="#000" stroke-width="2.1"/>
<line x1="432.5" y1="601.4" x2="445.5" y2="601.4" stroke="#000" stroke-width="2.1"/>
<line x1="263.5" y1="760.4" x2="263.5" y2="752.6" stroke="#000" stroke-width="2.1"/>
<line x1="257" y1="752.6" x2="270" y2="752.6" stroke="#000" stroke-width="2.1"/>
<line x1="322.3" y1="727.6" x2="322.3" y2="712" stroke="#000" stroke-width="2.1"/>
<line x1="315.8" y1="712" x2="328.8" y2="712" stroke="#000" stroke-width="2.1"/>
<line x1="380.8" y1="661.8" x2="380.8" y2="643.4" stroke="#000" stroke-width="2.1"/>
<line x1="374.3" y1="643.4" x2="387.3" y2="643.4" stroke="#000" stroke-width="2.1"/>
<line x1="439" y1="577" x2="439" y2="549.8" stroke="#000" stroke-width="2.1"/>
<line x1="432.5" y1="549.8" x2="445.5" y2="549.8" stroke="#000" stroke-width="2.1"/>
<line x1="263.5" y1="761.2" x2="263.5" y2="753.4" stroke="#000" stroke-width="2.1"/>
<line x1="257" y1="753.4" x2="270" y2="753.4" stroke="#000" stroke-width="2.1"/>
<line x1="380.8" y1="687.6" x2="380.8" y2="670.2" stroke="#000" stroke-width="2.1"/>
<line x1="374.3" y1="670.2" x2="387.3" y2="670.2" stroke="#000" stroke-width="2.1"/>
<line x1="439" y1="624" x2="439" y2="593.2" stroke="#000" stroke-width="2.1"/>
<line x1="432.5" y1="593.2" x2="445.5" y2="593.2" stroke="#000" stroke-width="2.1"/>
<polyline points="146.7,775.8 205.2,773 263.5,766.8 322.3,749.2 380.8,727.6 439,691.5" fill="none" stroke="#000" stroke-width="2.1"/>
<g fill="#d5db9b" stroke="#111" stroke-width="1.3">
<circle cx="146.7" cy="775.8" r="6.3"/>
<circle cx="205.2" cy="773" r="6.3"/>
<circle cx="263.5" cy="766.8" r="6.3"/>
<circle cx="322.3" cy="749.2" r="6.3"/>
<circle cx="380.8" cy="727.6" r="6.3"/>
<circle cx="439" cy="691.5" r="6.3"/>
</g>
<polyline points="146.7,775.8 205.2,772.2 263.5,761.8 322.3,736.6 380.8,695.2 439,628.8" fill="none" stroke="#000" stroke-width="2.1"/>
<g fill="#5ba6f6" stroke="#111" stroke-width="1.3">
<circle cx="146.7" cy="775.8" r="6.3"/>
<circle cx="205.2" cy="772.2" r="6.3"/>
<circle cx="263.5" cy="761.8" r="6.3"/>
<circle cx="322.3" cy="736.6" r="6.3"/>
<circle cx="380.8" cy="695.2" r="6.3"/>
<circle cx="439" cy="628.8" r="6.3"/>
</g>
<polyline points="146.7,775.8 205.2,772.2 263.5,760.4 322.3,727.6 380.8,661.8 439,577" fill="none" stroke="#000" stroke-width="2.1"/>
<g fill="#b577d2" stroke="#111" stroke-width="1.3">
<circle cx="146.7" cy="775.8" r="6.3"/>
<circle cx="205.2" cy="772.2" r="6.3"/>
<circle cx="263.5" cy="760.4" r="6.3"/>
<circle cx="322.3" cy="727.6" r="6.3"/>
<circle cx="380.8" cy="661.8" r="6.3"/>
<circle cx="439" cy="577" r="6.3"/>
</g>
<polyline points="146.7,775.8 205.2,772.2 263.5,761.2 322.3,737.2 380.8,687.6 439,624" fill="none" stroke="#000" stroke-width="2.1"/>
<g fill="#7f7f7f" stroke="#111" stroke-width="1.3">
<circle cx="146.7" cy="775.8" r="6.3"/>
<circle cx="205.2" cy="772.2" r="6.3"/>
<circle cx="263.5" cy="761.2" r="6.3"/>
<circle cx="322.3" cy="737.2" r="6.3"/>
<circle cx="380.8" cy="687.6" r="6.3"/>
<circle cx="439" cy="624" r="6.3"/>
</g>
<line x1="117.6" y1="502.8" x2="117.6" y2="777.2" stroke="#000" stroke-width="2.8"/>
<line x1="108.1" y1="504.2" x2="117.6" y2="504.2" stroke="#000" stroke-width="2.8"/>
<text x="105.1" y="509.2" font-size="13.9" text-anchor="end">2000</text>
<line x1="108.1" y1="572" x2="117.6" y2="572" stroke="#000" stroke-width="2.8"/>
<text x="105.1" y="577" font-size="13.9" text-anchor="end">1500</text>
<line x1="108.1" y1="639.7" x2="117.6" y2="639.7" stroke="#000" stroke-width="2.8"/>
<text x="105.1" y="644.7" font-size="13.9" text-anchor="end">1000</text>
<line x1="108.1" y1="707.8" x2="117.6" y2="707.8" stroke="#000" stroke-width="2.8"/>
<text x="105.1" y="712.8" font-size="13.9" text-anchor="end">500</text>
<line x1="108.1" y1="775.8" x2="117.6" y2="775.8" stroke="#000" stroke-width="2.8"/>
<text x="105.1" y="780.8" font-size="13.9" text-anchor="end">0</text>
<line x1="108.1" y1="775.8" x2="469.8" y2="775.8" stroke="#000" stroke-width="2.8"/>
<line x1="146.7" y1="775.8" x2="146.7" y2="784.8" stroke="#000" stroke-width="2.8"/>
<line x1="205.2" y1="775.8" x2="205.2" y2="784.8" stroke="#000" stroke-width="2.8"/>
<line x1="263.5" y1="775.8" x2="263.5" y2="784.8" stroke="#000" stroke-width="2.8"/>
<line x1="322.3" y1="775.8" x2="322.3" y2="784.8" stroke="#000" stroke-width="2.8"/>
<line x1="380.8" y1="775.8" x2="380.8" y2="784.8" stroke="#000" stroke-width="2.8"/>
<line x1="439" y1="775.8" x2="439" y2="784.8" stroke="#000" stroke-width="2.8"/>
<g fill="#7f7f7f" stroke="#111" stroke-width="1.3">
<circle cx="146.7" cy="775.8" r="6.3"/>
<circle cx="205.2" cy="772.2" r="6.3"/>
</g>
<text x="146.7" y="808.3" font-size="22.4" text-anchor="middle">0</text>
<text x="205.2" y="808.3" font-size="22.4" text-anchor="middle">8</text>
<text x="263.5" y="808.3" font-size="22.4" text-anchor="middle">11</text>
<text x="322.3" y="808.3" font-size="22.4" text-anchor="middle">14</text>
<text x="380.8" y="808.3" font-size="22.4" text-anchor="middle">17</text>
<text x="439" y="808.3" font-size="22.4" text-anchor="middle">20</text>
<text x="456.4" y="806.6" font-size="22.6">day</text>
<text font-size="26.4" text-anchor="middle" transform="translate(61.9 640.6) rotate(-90) scale(0.89 1)">Tumor volume (mm<tspan font-size="18" dy="-11">3</tspan><tspan dy="11">)</tspan></text>
<line x1="129.4" y1="504.8" x2="153.4" y2="504.8" stroke="#000" stroke-width="1.5"/>
<circle cx="141.4" cy="504.8" r="6.3" fill="#7f7f7f" stroke="#111" stroke-width="1.2"/>
<text x="166.3" y="510.6" font-size="16.2">PBS+IgG</text>
<line x1="129.4" y1="530.8" x2="153.4" y2="530.8" stroke="#000" stroke-width="1.5"/>
<circle cx="141.4" cy="530.8" r="6.3" fill="#d5db9b" stroke="#111" stroke-width="1.2"/>
<text x="166.3" y="536.7" font-size="16.2">His+IgG</text>
<line x1="129.4" y1="566.6" x2="153.4" y2="566.6" stroke="#000" stroke-width="1.5"/>
<circle cx="141.4" cy="566.6" r="6.3" fill="#b577d2" stroke="#111" stroke-width="1.2"/>
<text x="166.3" y="572.5" font-size="16.2">PBS+αIL16</text>
<line x1="129.4" y1="592.7" x2="153.4" y2="592.7" stroke="#000" stroke-width="1.5"/>
<circle cx="141.4" cy="592.7" r="6.3" fill="#5ba6f6" stroke="#111" stroke-width="1.2"/>
<text x="166.3" y="598.6" font-size="16.2">His+αIL16</text>
<polyline points="246.4,504.8 265.2,504.8 265.2,530 232.4,530" fill="none" stroke="#000" stroke-width="1"/>
<path d="M240.2 504.8 l11 -4.6 l0 9.2 z" fill="#000"/>
<text x="269.9" y="522.4" font-size="16.1">55.8%</text>
<polyline points="260.4,566.1 279.2,566.1 279.2,591.6 246.4,591.6" fill="none" stroke="#000" stroke-width="1"/>
<path d="M254 566.1 l11 -4.6 l0 9.2 z" fill="#000"/>
<text x="282" y="583.4" font-size="16.1">74.3%</text>
<polyline points="449.1,577 453.6,577 453.6,622.1 449.1,622.1" fill="none" stroke="#222" stroke-width="1.1"/>
<polyline points="449.1,628.2 453.6,628.2 453.6,689 449.1,689" fill="none" stroke="#222" stroke-width="1.1"/>
<polyline points="475.7,577 480.2,577 480.2,628.2 475.7,628.2" fill="none" stroke="#222" stroke-width="1.1"/>
<polyline points="506.5,621.2 511,621.2 511,689 506.5,689" fill="none" stroke="#222" stroke-width="1.1"/>
<text font-size="14.8" text-anchor="middle" transform="translate(457.2 591.8) rotate(90) scale(0.97 1)"><tspan font-style="italic">P</tspan>=0.0441</text>
<text font-size="14.8" text-anchor="middle" transform="translate(483.6 593.5) rotate(90) scale(0.97 1)"><tspan font-style="italic">P</tspan>=0.0364</text>
<text font-size="14.8" text-anchor="middle" transform="translate(458.9 661.3) rotate(90) scale(0.97 1)"><tspan font-style="italic">P</tspan>=0.0059</text>
<text font-size="14.8" text-anchor="middle" transform="translate(514.9 655.7) rotate(90) scale(0.97 1)"><tspan font-style="italic">P</tspan>=0.0023</text>
</g>
<!-- panel f -->
<g>
<text x="578" y="471.5" font-size="48" font-weight="bold">f</text>
<rect x="694.9" y="649.2" width="25.1" height="124.2" fill="#7f7f7f" stroke="#000" stroke-width="1.6"/>
<rect x="736.4" y="691.9" width="25.3" height="81.5" fill="#b981c1" stroke="#000" stroke-width="1.6"/>
<rect x="808.9" y="587.5" width="25.1" height="185.9" fill="#d5d997" stroke="#000" stroke-width="1.6"/>
<rect x="850.4" y="670.5" width="25.1" height="102.8" fill="#60a3f8" stroke="#000" stroke-width="1.6"/>
<line x1="707.4" y1="625" x2="707.4" y2="672.8" stroke="#111" stroke-width="1"/>
<line x1="700.9" y1="625" x2="713.9" y2="625" stroke="#111" stroke-width="1"/>
<line x1="700.9" y1="672.8" x2="713.9" y2="672.8" stroke="#111" stroke-width="1"/>
<line x1="749.2" y1="674" x2="749.2" y2="708.7" stroke="#111" stroke-width="1"/>
<line x1="742.7" y1="674" x2="755.7" y2="674" stroke="#111" stroke-width="1"/>
<line x1="742.7" y1="708.7" x2="755.7" y2="708.7" stroke="#111" stroke-width="1"/>
<line x1="821.6" y1="555" x2="821.6" y2="614.9" stroke="#111" stroke-width="1"/>
<line x1="815.1" y1="555" x2="828.1" y2="555" stroke="#111" stroke-width="1"/>
<line x1="815.1" y1="614.9" x2="828.1" y2="614.9" stroke="#111" stroke-width="1"/>
<line x1="863.1" y1="643.3" x2="863.1" y2="694.9" stroke="#111" stroke-width="1"/>
<line x1="856.6" y1="643.3" x2="869.6" y2="643.3" stroke="#111" stroke-width="1"/>
<line x1="856.6" y1="694.9" x2="869.6" y2="694.9" stroke="#111" stroke-width="1"/>
<g fill="#d6d6d6" stroke="#111" stroke-width="1.8">
<circle cx="707.4" cy="612.4" r="5.6"/>
<circle cx="699.1" cy="638.1" r="5.6"/>
<circle cx="707.4" cy="640.8" r="5.6"/>
<circle cx="707.4" cy="656.2" r="5.6"/>
<circle cx="699.1" cy="673.5" r="5.6"/>
<circle cx="715.7" cy="673" r="5.6"/>
</g>
<g fill="#d6d6d6" stroke="#111" stroke-width="1.8">
<circle cx="749.2" cy="665.7" r="5.6"/>
<circle cx="757.5" cy="685.3" r="5.6"/>
<circle cx="749.2" cy="692.4" r="5.6"/>
<circle cx="757.5" cy="705.5" r="5.6"/>
<circle cx="741.1" cy="710.5" r="5.6"/>
</g>
<g fill="#d6d6d6" stroke="#111" stroke-width="1.8">
<circle cx="813.1" cy="551" r="5.6"/>
<circle cx="821.6" cy="557.8" r="5.6"/>
<circle cx="829.9" cy="583.5" r="5.6"/>
<circle cx="813.1" cy="589.5" r="5.6"/>
<circle cx="821.6" cy="594.8" r="5.6"/>
<circle cx="821.6" cy="635" r="5.6"/>
</g>
<g fill="#d6d6d6" stroke="#111" stroke-width="1.8">
<circle cx="871.4" cy="640.8" r="5.6"/>
<circle cx="863.1" cy="650.6" r="5.6"/>
<circle cx="863.1" cy="665.7" r="5.6"/>
<circle cx="863.1" cy="687.1" r="5.6"/>
<circle cx="863.1" cy="703.5" r="5.6"/>
</g>
<line x1="680.8" y1="507.2" x2="680.8" y2="774.2" stroke="#000" stroke-width="1.6"/>
<line x1="672.3" y1="508" x2="680.8" y2="508" stroke="#000" stroke-width="1.6"/>
<text x="669.8" y="514.6" font-size="18.4" text-anchor="end">50</text>
<line x1="672.3" y1="561.1" x2="680.8" y2="561.1" stroke="#000" stroke-width="1.6"/>
<text x="669.8" y="567.7" font-size="18.4" text-anchor="end">40</text>
<line x1="672.3" y1="614.2" x2="680.8" y2="614.2" stroke="#000" stroke-width="1.6"/>
<text x="669.8" y="620.8" font-size="18.4" text-anchor="end">30</text>
<line x1="672.3" y1="667.2" x2="680.8" y2="667.2" stroke="#000" stroke-width="1.6"/>
<text x="669.8" y="673.9" font-size="18.4" text-anchor="end">20</text>
<line x1="672.3" y1="720.3" x2="680.8" y2="720.3" stroke="#000" stroke-width="1.6"/>
<text x="669.8" y="726.9" font-size="18.4" text-anchor="end">10</text>
<line x1="672.3" y1="773.4" x2="680.8" y2="773.4" stroke="#000" stroke-width="1.6"/>
<text x="669.8" y="780" font-size="18.4" text-anchor="end">0</text>
<line x1="672.3" y1="773.4" x2="891.6" y2="773.4" stroke="#000" stroke-width="1.5"/>
<line x1="707.2" y1="773.4" x2="707.2" y2="781.4" stroke="#000" stroke-width="1.5"/>
<line x1="749.2" y1="773.4" x2="749.2" y2="781.4" stroke="#000" stroke-width="1.5"/>
<line x1="821.1" y1="773.4" x2="821.1" y2="781.4" stroke="#000" stroke-width="1.5"/>
<line x1="862.6" y1="773.4" x2="862.6" y2="781.4" stroke="#000" stroke-width="1.5"/>
<text x="704.2" y="797.5" font-size="16.8" text-anchor="middle">IgG</text>
<text x="749.4" y="797.5" font-size="16.8" text-anchor="middle">αIL-16</text>
<text x="818.1" y="797.5" font-size="16.8" text-anchor="middle">IgG</text>
<text x="867.4" y="797.5" font-size="16.8" text-anchor="middle">αIL-16</text>
<line x1="691.3" y1="804.8" x2="773.3" y2="804.8" stroke="#444" stroke-width="0.9"/>
<line x1="802.8" y1="804.8" x2="884.5" y2="804.8" stroke="#444" stroke-width="0.9"/>
<text x="729.8" y="825.5" font-size="20" text-anchor="middle">PBS</text>
<text x="849.8" y="825.5" font-size="20" text-anchor="middle">His</text>
<text font-size="23.4" text-anchor="middle" transform="translate(637.5 639.6) rotate(-90) scale(0.98 1)">IFN-γ<tspan font-size="17" dy="-12">+</tspan><tspan dy="12">CD4</tspan><tspan font-size="17" dy="-12">+</tspan><tspan dy="12"> T cells (%)</tspan></text>
<text font-size="16.6" text-anchor="middle" transform="translate(806.5 485.3) scale(0.95 1)">n.s.</text>
<polyline points="749.4,494.4 749.4,490.4 861.4,490.4 861.4,494.4" fill="none" stroke="#333" stroke-width="1.3"/>
<text font-size="16.8" text-anchor="middle" transform="translate(844.3 511.3) scale(0.93 1)"><tspan font-style="italic">P</tspan>&lt;0.001</text>
<polyline points="820.4,521.5 820.4,517.5 861.4,517.5 861.4,521.5" fill="none" stroke="#333" stroke-width="1.3"/>
<text font-size="16.8" text-anchor="middle" transform="translate(765.8 525.6) scale(0.93 1)"><tspan font-style="italic">P</tspan>=0.0017</text>
<polyline points="708.4,535.4 708.4,531.4 820.4,531.4 820.4,535.4" fill="none" stroke="#333" stroke-width="1.3"/>
<text font-size="16.8" text-anchor="middle" transform="translate(729.8 585.2) scale(0.93 1)"><tspan font-style="italic">P</tspan>=0.0475</text>
<polyline points="707.7,595.8 707.7,591.8 749.2,591.8 749.2,595.8" fill="none" stroke="#333" stroke-width="1.3"/>
</g>
<!-- panel g -->
<g>
<text x="965.8" y="472.5" font-size="48" font-weight="bold">g</text>
<defs><filter id="rg" x="-5%" y="-5%" width="110%" height="110%"><feTurbulence type="fractalNoise" baseFrequency="0.35" numOctaves="2" seed="3" result="n"/><feDisplacementMap in="SourceGraphic" in2="n" scale="3.2" xChannelSelector="R" yChannelSelector="G"/></filter><linearGradient id="mg" x1="0" y1="0" x2="0" y2="1"><stop offset="0" stop-color="#04030f"/><stop offset="0.1" stop-color="#120d35"/><stop offset="0.3" stop-color="#4b1a8c"/><stop offset="0.5" stop-color="#a2388f"/><stop offset="0.68" stop-color="#e8556a"/><stop offset="0.85" stop-color="#f9a06c"/><stop offset="1" stop-color="#fcfdc4"/></linearGradient></defs>
<g filter="url(#rg)">
<g fill="#d3d3d3" stroke="#d3d3d3" stroke-width="1" stroke-linejoin="round">
<path d="M1072.4 524.6C1073.4 523.6 1077.8 526.5 1081.4 526C1085 525.6 1088.9 523.3 1094 521.9C1099.1 520.5 1104.8 518.7 1112 517.4C1119.2 516.1 1131.6 514.2 1137.2 514.2C1142.7 514.2 1143.7 514.2 1145.3 517.4C1146.9 520.6 1146.6 525.5 1146.6 533.6C1146.5 541.7 1145.2 553.4 1144.8 566C1144.3 578.6 1145.9 601.3 1144 609.2C1142.2 617.1 1138.9 611.8 1133.6 613.2C1128.3 614.5 1118.6 616.6 1112 617.3C1105.4 618 1098.8 618.2 1094 617.3C1089.2 616.4 1086.2 614.4 1083.2 611.9C1080.2 609.3 1078.4 606 1076 602C1073.6 597.9 1070.6 592.4 1068.8 587.6C1067 582.8 1066.1 577.4 1065.2 573.2C1064.3 569 1064.4 565.8 1063.4 562.4C1062.3 558.9 1058.6 555.5 1058.9 552.5C1059.2 549.5 1062.8 546.8 1065.2 544.4C1067.6 542 1071.6 540.2 1073.3 538.1C1074.9 536 1075.2 534 1075.1 531.8C1074.9 529.5 1071.3 525.6 1072.4 524.6Z"/>
<path d="M1204.7 473.3C1207.2 471.7 1214.7 471.6 1220 471C1225.2 470.4 1231.1 469.3 1236.2 469.7C1241.3 470.1 1246.4 471.8 1250.6 473.3C1254.8 474.8 1257.8 477.9 1261.4 478.7C1265 479.4 1269.8 478.5 1272.2 477.8C1274.6 477 1273.4 474.9 1275.8 474.2C1278.2 473.4 1283 473 1286.6 473.3C1290.2 473.6 1295 474.5 1297.4 476C1299.8 477.5 1301.3 480.2 1301 482.3C1300.7 484.4 1297.7 486.3 1295.6 488.6C1293.5 490.8 1290.5 493.1 1288.4 495.8C1286.3 498.5 1284.3 501.2 1283 504.8C1281.6 508.4 1281.2 513.5 1280.3 517.4C1279.4 521.3 1278.9 525.9 1277.6 528.2C1276.2 530.4 1273.9 531.2 1272.2 530.9C1270.5 530.6 1267.9 528.9 1267.2 526.4C1266.4 523.8 1268.1 518.9 1267.7 515.6C1267.3 512.3 1266.2 509.1 1265 506.6C1263.8 504 1262 500.3 1260.5 500.3C1259 500.3 1257.6 504.6 1256 506.6C1254.3 508.5 1252.7 512 1250.6 512C1248.5 512 1245.5 508.2 1243.4 506.6C1241.3 504.9 1240.7 503.8 1238 502.1C1235.3 500.4 1230.9 497.7 1227.2 496.2C1223.4 494.6 1218.9 494.3 1215.5 492.6C1212.1 490.8 1208.8 487.9 1207 485.9C1205.2 483.9 1205.1 482.6 1204.7 480.5C1204.3 478.4 1202.1 474.9 1204.7 473.3Z"/>
<path d="M1215.5 566C1217.3 564.9 1220.7 563.9 1223.6 565.1C1226.4 566.3 1230.2 570.5 1232.6 573.2C1235 575.9 1238.3 579.2 1238 581.3C1237.7 583.4 1233.8 585.6 1230.8 585.8C1227.8 585.9 1223 583.2 1220 582.2C1217 581.1 1214 581.3 1212.8 579.5C1211.6 577.7 1212.3 573.6 1212.8 571.4C1213.2 569.1 1213.7 567 1215.5 566Z"/>
<path d="M1221.8 602C1223.9 602.2 1227 604.3 1229 604.2C1230.9 604 1232.7 600 1233.5 601.1C1234.2 602.2 1234.2 608.6 1233.5 611C1232.7 613.4 1230.8 615 1229 615.5C1227.2 615.9 1223.6 615 1222.7 613.7C1221.8 612.3 1224.6 609.2 1223.6 607.4C1222.5 605.6 1216.7 603.8 1216.4 602.9C1216.1 602 1219.7 601.8 1221.8 602Z"/>
<path d="M1326.2 567.8C1328.2 565.8 1332.2 565.4 1335.2 566.9C1338.2 568.4 1341.2 573 1344.2 576.8C1347.2 580.5 1350.5 585.2 1353.2 589.4C1355.9 593.6 1358.6 597.5 1360.4 602C1362.2 606.5 1363.1 611.6 1364 616.4C1364.9 621.2 1364.9 626.9 1365.8 630.8C1366.7 634.7 1369.7 636.7 1369.4 639.9C1369.1 643.1 1366.1 646.3 1364 649.8C1361.9 653.2 1359.8 657 1356.8 660.6C1353.8 664.2 1350.2 668.4 1346 671.4C1341.8 674.4 1336.1 676.8 1331.6 678.6C1327.1 680.4 1322.6 682.8 1319 682.2C1315.4 681.6 1313.3 678 1310 675C1306.7 672 1302.2 668.1 1299.2 664.2C1296.2 660.3 1293.7 656.1 1292 651.6C1290.3 647.1 1290.2 641.3 1289.3 637.2C1288.4 633.1 1287.8 631.3 1286.6 627.2C1285.4 623.1 1283.1 617.3 1282.1 612.8C1281 608.3 1278.6 601.7 1280.3 600.2C1282 598.7 1288 603.5 1292 603.8C1296 604.1 1300.7 602.9 1304.6 602C1308.5 601.1 1312.7 600.5 1315.4 598.4C1318.1 596.3 1319.5 592.7 1320.8 589.4C1322.1 586.1 1322.6 582.2 1323.5 578.6C1324.4 575 1324.2 569.8 1326.2 567.8Z"/>
<path d="M1109.3 647.1C1110.8 646.8 1116.9 649.6 1121 649.8C1125 649.9 1129.1 648 1133.6 648C1138.1 648 1144.1 648.6 1148 649.8C1151.9 651 1155 653.1 1157 655.2C1158.9 657.3 1160 660.1 1159.7 662.4C1159.4 664.6 1157.1 667.2 1155.2 668.7C1153.2 670.2 1149.8 669.7 1148 671.4C1146.2 673 1146.2 675.9 1144.4 678.6C1142.6 681.3 1139.6 685.2 1137.2 687.6C1134.8 690 1131.5 690.9 1130 693C1128.5 695.1 1129.7 698.4 1128.2 700.2C1126.7 702 1123.7 702.6 1121 703.8C1118.3 705 1114.2 707.4 1112 707.4C1109.7 707.4 1107.8 705.9 1107.5 703.8C1107.2 701.7 1109.9 698.1 1110.2 694.8C1110.5 691.5 1109 687.3 1109.3 684C1109.6 680.7 1110.6 677.7 1112 675C1113.3 672.3 1116.5 670.8 1117.4 667.8C1118.3 664.8 1118.3 659.7 1117.4 657C1116.5 654.3 1113.3 653.2 1112 651.6C1110.6 649.9 1107.8 647.4 1109.3 647.1Z"/>
<path d="M1195.7 715.5C1197.3 713.7 1202.1 711.3 1205.6 709.2C1209 707.1 1212.8 704.1 1216.4 702.9C1220 701.7 1223.9 701.2 1227.2 702C1230.5 702.7 1233.2 705.1 1236.2 707.4C1239.2 709.6 1241.9 712.9 1245.2 715.5C1248.5 718 1254.8 720.1 1256 722.7C1257.2 725.2 1253.9 728.5 1252.4 730.8C1250.9 733 1248.8 734.8 1247 736.2C1245.2 737.5 1244.3 737.8 1241.6 738.9C1238.9 739.9 1235 741.9 1230.8 742.5C1226.6 743.1 1220 742.8 1216.4 742.5C1212.8 742.2 1210.7 742.3 1209.2 740.7C1207.7 739 1209.2 734.8 1207.4 732.6C1205.6 730.3 1200.3 729.3 1198.4 727.2C1196.4 725.1 1196.1 721.9 1195.7 720C1195.2 718 1194 717.3 1195.7 715.5Z"/>
<path d="M1085.9 761.4C1086.2 759 1089.9 752.4 1092.2 748.8C1094.4 745.2 1097.3 741.4 1099.4 739.8C1101.5 738.1 1102.7 738.3 1104.8 738.9C1106.9 739.5 1109 742 1112 743.4C1115 744.7 1119.2 745.9 1122.8 747C1126.4 748 1131.2 748.2 1133.6 749.7C1136 751.2 1136.9 753.4 1137.2 756C1137.5 758.5 1137.2 763 1135.4 765C1133.6 766.9 1129.7 767.7 1126.4 767.7C1123.1 767.7 1119.8 765.6 1115.6 765C1111.4 764.4 1105.4 764.4 1101.2 764.1C1097 763.8 1092.9 763.6 1090.4 763.2C1087.8 762.7 1085.6 763.8 1085.9 761.4Z"/>
<path d="M1151.6 790.2C1152 787.5 1153.4 782.4 1155.2 779.4C1157 776.4 1159.7 773.4 1162.4 772.2C1165.1 771 1168.1 772 1171.4 772.2C1174.7 772.3 1178.6 773.1 1182.2 773.1C1185.8 773.1 1189.8 771.4 1193 772.2C1196.1 772.9 1200.8 775.2 1201.1 777.6C1201.4 780 1197.3 783.6 1194.8 786.6C1192.2 789.6 1188.8 792.9 1185.8 795.6C1182.8 798.3 1180.1 801.1 1176.8 802.8C1173.5 804.4 1169.3 805.8 1166 805.5C1162.7 805.2 1159.2 802.6 1157 801C1154.7 799.3 1153.4 797.4 1152.5 795.6C1151.6 793.8 1151.1 792.9 1151.6 790.2Z"/>
<path d="M1145.8 548C1147.4 542 1151.8 546.8 1155.2 548C1158.6 549.2 1163 552.5 1166 555.2C1169 557.9 1172.6 560.6 1173.2 564.2C1173.8 567.8 1171.4 573.2 1169.6 576.8C1167.8 580.4 1165.4 583.7 1162.4 585.8C1159.4 587.9 1154.4 589.7 1151.6 589.4C1148.8 589.1 1146.8 590.9 1145.8 584C1144.9 577.1 1144.3 554 1145.8 548Z"/>
</g>
<path d="M1146.6 558.8C1148.3 554.7 1154.1 557 1157 557.9C1159.9 558.8 1163.3 561.3 1164.2 564.2C1165.1 567 1163.9 572 1162.4 575C1160.9 578 1157.8 581 1155.2 582.2C1152.6 583.4 1148 586.1 1146.6 582.2C1145.1 578.3 1144.8 562.8 1146.6 558.8Z" fill="#fafafa"/>
<g fill="#d3d3d3">
<rect x="1123.7" y="616.9" width="1.2" height="1.2"/>
<rect x="1135.4" y="614.8" width="1.2" height="1.2"/>
<rect x="1131.3" y="622.7" width="1.2" height="1.2"/>
<rect x="1114.1" y="626.6" width="1.2" height="1.2"/>
<rect x="1113.3" y="624.6" width="1.2" height="1.2"/>
<rect x="1127.3" y="635.3" width="1.2" height="1.2"/>
<rect x="1116.5" y="618.9" width="1.2" height="1.2"/>
<rect x="1134.6" y="638.6" width="1.2" height="1.2"/>
<rect x="1132.8" y="623.6" width="1.2" height="1.2"/>
<rect x="1142.9" y="620.7" width="1.2" height="1.2"/>
<rect x="1123.1" y="635" width="1.2" height="1.2"/>
<rect x="1118.5" y="628.6" width="1.2" height="1.2"/>
<rect x="1135" y="622.9" width="1.2" height="1.2"/>
<rect x="1114.1" y="618.4" width="1.2" height="1.2"/>
<rect x="1136.5" y="624.4" width="1.2" height="1.2"/>
<rect x="1123.3" y="628.7" width="1.2" height="1.2"/>
<rect x="1128.3" y="620.9" width="1.2" height="1.2"/>
<rect x="1140.6" y="631.8" width="1.2" height="1.2"/>
<rect x="1120.8" y="628.4" width="1.2" height="1.2"/>
<rect x="1130.9" y="636.6" width="1.2" height="1.2"/>
<rect x="1138.3" y="620.6" width="1.2" height="1.2"/>
<rect x="1127.1" y="633.4" width="1.2" height="1.2"/>
<rect x="1117.5" y="626.1" width="1.2" height="1.2"/>
<rect x="1139.5" y="628.4" width="1.2" height="1.2"/>
<rect x="1143.5" y="621.3" width="1.2" height="1.2"/>
<rect x="1137" y="629" width="1.2" height="1.2"/>
<rect x="1132.9" y="625.2" width="1.2" height="1.2"/>
<rect x="1129.1" y="630.9" width="1.2" height="1.2"/>
<rect x="1135.3" y="639.8" width="1.2" height="1.2"/>
<rect x="1141.6" y="620.5" width="1.2" height="1.2"/>
<rect x="1125.9" y="631" width="1.2" height="1.2"/>
<rect x="1116.7" y="619.5" width="1.2" height="1.2"/>
<rect x="1126.1" y="636.5" width="1.2" height="1.2"/>
<rect x="1114.9" y="625" width="1.2" height="1.2"/>
<rect x="1131.8" y="636.8" width="1.2" height="1.2"/>
<rect x="1141.5" y="636.3" width="1.2" height="1.2"/>
<rect x="1122" y="624.1" width="1.2" height="1.2"/>
<rect x="1124.9" y="636.8" width="1.2" height="1.2"/>
<rect x="1118.3" y="619.1" width="1.2" height="1.2"/>
<rect x="1120.4" y="626" width="1.2" height="1.2"/>
<rect x="1137.4" y="637.4" width="1.2" height="1.2"/>
<rect x="1112.2" y="639.6" width="1.2" height="1.2"/>
<rect x="1128" y="641.8" width="1.2" height="1.2"/>
<rect x="1153.2" y="643.5" width="1.2" height="1.2"/>
<rect x="1134.3" y="642.5" width="1.2" height="1.2"/>
<rect x="1150.9" y="644.8" width="1.2" height="1.2"/>
<rect x="1149.8" y="645.1" width="1.2" height="1.2"/>
<rect x="1129" y="639.3" width="1.2" height="1.2"/>
<rect x="1116.5" y="642.7" width="1.2" height="1.2"/>
<rect x="1114.7" y="634.6" width="1.2" height="1.2"/>
<rect x="1121" y="635.9" width="1.2" height="1.2"/>
<rect x="1112" y="635.8" width="1.2" height="1.2"/>
<rect x="1116.4" y="638.8" width="1.2" height="1.2"/>
<rect x="1113.1" y="646.2" width="1.2" height="1.2"/>
<rect x="1122.9" y="638.6" width="1.2" height="1.2"/>
<rect x="1132.1" y="640.6" width="1.2" height="1.2"/>
<rect x="1115.7" y="635.1" width="1.2" height="1.2"/>
<rect x="1126.8" y="637.4" width="1.2" height="1.2"/>
<rect x="1149.3" y="643.6" width="1.2" height="1.2"/>
<rect x="1123.3" y="638.9" width="1.2" height="1.2"/>
<rect x="1119.2" y="644.7" width="1.2" height="1.2"/>
<rect x="1135" y="644.8" width="1.2" height="1.2"/>
<rect x="1126.2" y="636.8" width="1.2" height="1.2"/>
<rect x="1148.8" y="645.2" width="1.2" height="1.2"/>
<rect x="1147.4" y="644.3" width="1.2" height="1.2"/>
<rect x="1121.8" y="641.1" width="1.2" height="1.2"/>
<rect x="1113.2" y="637.6" width="1.2" height="1.2"/>
<rect x="1123.2" y="643.6" width="1.2" height="1.2"/>
<rect x="1153.3" y="640" width="1.2" height="1.2"/>
<rect x="1152.5" y="647.8" width="1.2" height="1.2"/>
<rect x="1153.3" y="638.9" width="1.2" height="1.2"/>
<rect x="1121.5" y="636.9" width="1.2" height="1.2"/>
<rect x="1120.5" y="636.5" width="1.2" height="1.2"/>
<rect x="1139" y="646.6" width="1.2" height="1.2"/>
<rect x="1148.3" y="640.5" width="1.2" height="1.2"/>
<rect x="1226.3" y="598.4" width="1.2" height="1.2"/>
<rect x="1232.3" y="598.1" width="1.2" height="1.2"/>
<rect x="1228.6" y="592.6" width="1.2" height="1.2"/>
<rect x="1218.8" y="598.4" width="1.2" height="1.2"/>
<rect x="1220.4" y="601" width="1.2" height="1.2"/>
<rect x="1228" y="587.1" width="1.2" height="1.2"/>
<rect x="1214" y="586.7" width="1.2" height="1.2"/>
<rect x="1232.2" y="598.5" width="1.2" height="1.2"/>
<rect x="1219.2" y="593.9" width="1.2" height="1.2"/>
<rect x="1214.1" y="584.3" width="1.2" height="1.2"/>
<rect x="1223.3" y="600.8" width="1.2" height="1.2"/>
<rect x="1221.1" y="599.7" width="1.2" height="1.2"/>
<rect x="1230.3" y="587.8" width="1.2" height="1.2"/>
<rect x="1216.9" y="589.3" width="1.2" height="1.2"/>
<rect x="1216.6" y="594.6" width="1.2" height="1.2"/>
<rect x="1217.1" y="591.5" width="1.2" height="1.2"/>
<rect x="1219.3" y="592.2" width="1.2" height="1.2"/>
<rect x="1224.6" y="600.3" width="1.2" height="1.2"/>
<rect x="1220.8" y="600.5" width="1.2" height="1.2"/>
<rect x="1222.7" y="593.6" width="1.2" height="1.2"/>
<rect x="1221.3" y="587.3" width="1.2" height="1.2"/>
<rect x="1215" y="592.5" width="1.2" height="1.2"/>
<rect x="1228" y="594" width="1.2" height="1.2"/>
<rect x="1218.6" y="593.3" width="1.2" height="1.2"/>
<rect x="1224" y="598.1" width="1.2" height="1.2"/>
<rect x="1216.8" y="589" width="1.2" height="1.2"/>
<rect x="1229.1" y="593.1" width="1.2" height="1.2"/>
<rect x="1224.1" y="597.7" width="1.2" height="1.2"/>
<rect x="1232.4" y="592" width="1.2" height="1.2"/>
<rect x="1225.3" y="593.1" width="1.2" height="1.2"/>
<rect x="1223" y="596.5" width="1.2" height="1.2"/>
<rect x="1221.6" y="593.6" width="1.2" height="1.2"/>
<rect x="1222.2" y="600.9" width="1.2" height="1.2"/>
<rect x="1227.4" y="599.8" width="1.2" height="1.2"/>
<rect x="1224.1" y="601" width="1.2" height="1.2"/>
<rect x="1160.8" y="586.2" width="1.2" height="1.2"/>
<rect x="1160" y="584.4" width="1.2" height="1.2"/>
<rect x="1171.5" y="590.3" width="1.2" height="1.2"/>
<rect x="1161.3" y="588.6" width="1.2" height="1.2"/>
<rect x="1169.5" y="583.5" width="1.2" height="1.2"/>
<rect x="1173.1" y="590.9" width="1.2" height="1.2"/>
<rect x="1165.3" y="586.6" width="1.2" height="1.2"/>
<rect x="1161.4" y="586.1" width="1.2" height="1.2"/>
<rect x="1167.2" y="585.3" width="1.2" height="1.2"/>
<rect x="1162" y="585.1" width="1.2" height="1.2"/>
<rect x="1167.8" y="586.2" width="1.2" height="1.2"/>
<rect x="1168.9" y="586.8" width="1.2" height="1.2"/>
<rect x="1160.5" y="584.6" width="1.2" height="1.2"/>
<rect x="1163.2" y="583.4" width="1.2" height="1.2"/>
<rect x="1172.1" y="584.5" width="1.2" height="1.2"/>
<rect x="1168" y="588.5" width="1.2" height="1.2"/>
<rect x="1160.2" y="582.7" width="1.2" height="1.2"/>
<rect x="1169.9" y="586" width="1.2" height="1.2"/>
<rect x="1169.1" y="589.4" width="1.2" height="1.2"/>
<rect x="1166.2" y="585.3" width="1.2" height="1.2"/>
<rect x="1163.1" y="583.4" width="1.2" height="1.2"/>
<rect x="1167.3" y="584.3" width="1.2" height="1.2"/>
<rect x="1160.6" y="583.7" width="1.2" height="1.2"/>
<rect x="1159.6" y="584" width="1.2" height="1.2"/>
<rect x="1163.9" y="584.9" width="1.2" height="1.2"/>
<rect x="1264.2" y="506.4" width="1.2" height="1.2"/>
<rect x="1261.4" y="504.4" width="1.2" height="1.2"/>
<rect x="1259.7" y="501.5" width="1.2" height="1.2"/>
<rect x="1258.7" y="501.5" width="1.2" height="1.2"/>
<rect x="1263.9" y="511.1" width="1.2" height="1.2"/>
<rect x="1266.1" y="503.1" width="1.2" height="1.2"/>
<rect x="1264.8" y="509" width="1.2" height="1.2"/>
<rect x="1261.3" y="516.2" width="1.2" height="1.2"/>
<rect x="1260.2" y="510.3" width="1.2" height="1.2"/>
<rect x="1263.6" y="512.6" width="1.2" height="1.2"/>
<rect x="1260.4" y="507.5" width="1.2" height="1.2"/>
<rect x="1256.6" y="503.5" width="1.2" height="1.2"/>
<rect x="1258.8" y="504.1" width="1.2" height="1.2"/>
<rect x="1265.4" y="513.3" width="1.2" height="1.2"/>
<rect x="1259" y="505.6" width="1.2" height="1.2"/>
<rect x="1259.2" y="509.5" width="1.2" height="1.2"/>
<rect x="1266.5" y="511" width="1.2" height="1.2"/>
<rect x="1259.3" y="507.6" width="1.2" height="1.2"/>
<rect x="1261.1" y="510.2" width="1.2" height="1.2"/>
<rect x="1256.4" y="501.6" width="1.2" height="1.2"/>
<rect x="1151.9" y="563.6" width="1.2" height="1.2"/>
<rect x="1156.9" y="570.8" width="1.2" height="1.2"/>
<rect x="1159.8" y="573.9" width="1.2" height="1.2"/>
<rect x="1153.4" y="565.8" width="1.2" height="1.2"/>
<rect x="1159.3" y="573.5" width="1.2" height="1.2"/>
<rect x="1147.3" y="578.2" width="1.2" height="1.2"/>
<rect x="1162.3" y="573.1" width="1.2" height="1.2"/>
<rect x="1159.5" y="577.6" width="1.2" height="1.2"/>
<rect x="1149" y="570.6" width="1.2" height="1.2"/>
<rect x="1155.5" y="578.2" width="1.2" height="1.2"/>
<rect x="1156.9" y="579.6" width="1.2" height="1.2"/>
<rect x="1158.6" y="574.7" width="1.2" height="1.2"/>
<rect x="1150.6" y="558.7" width="1.2" height="1.2"/>
<rect x="1148.9" y="566.7" width="1.2" height="1.2"/>
<rect x="1148.4" y="578.2" width="1.2" height="1.2"/>
<rect x="1156.4" y="573.2" width="1.2" height="1.2"/>
<rect x="1157.6" y="574.4" width="1.2" height="1.2"/>
<rect x="1160.6" y="576.1" width="1.2" height="1.2"/>
<rect x="1155.4" y="570.9" width="1.2" height="1.2"/>
<rect x="1158.2" y="559.5" width="1.2" height="1.2"/>
<rect x="1159.6" y="564" width="1.2" height="1.2"/>
<rect x="1147.9" y="564.4" width="1.2" height="1.2"/>
<rect x="1159.4" y="562.9" width="1.2" height="1.2"/>
<rect x="1155.3" y="567.2" width="1.2" height="1.2"/>
<rect x="1155" y="574.5" width="1.2" height="1.2"/>
<rect x="1160.1" y="572.9" width="1.2" height="1.2"/>
<rect x="1157.9" y="559.8" width="1.2" height="1.2"/>
<rect x="1149.2" y="564.1" width="1.2" height="1.2"/>
<rect x="1159.7" y="565.3" width="1.2" height="1.2"/>
<rect x="1156.6" y="558.2" width="1.2" height="1.2"/>
<rect x="1147.6" y="564.4" width="1.2" height="1.2"/>
<rect x="1158.4" y="574.7" width="1.2" height="1.2"/>
<rect x="1158.5" y="565" width="1.2" height="1.2"/>
<rect x="1155.7" y="569.2" width="1.2" height="1.2"/>
<rect x="1154.8" y="560.8" width="1.2" height="1.2"/>
<rect x="1162.3" y="562.7" width="1.2" height="1.2"/>
<rect x="1146.9" y="569.1" width="1.2" height="1.2"/>
<rect x="1154.5" y="564.4" width="1.2" height="1.2"/>
<rect x="1150.3" y="580.9" width="1.2" height="1.2"/>
<rect x="1150.3" y="572" width="1.2" height="1.2"/>
<rect x="1149.1" y="570.6" width="1.2" height="1.2"/>
<rect x="1161" y="570.3" width="1.2" height="1.2"/>
<rect x="1162.2" y="575" width="1.2" height="1.2"/>
<rect x="1150.6" y="579.7" width="1.2" height="1.2"/>
<rect x="1155.1" y="558.5" width="1.2" height="1.2"/>
<rect x="1146.6" y="569.8" width="1.2" height="1.2"/>
<rect x="1154.5" y="565.2" width="1.2" height="1.2"/>
<rect x="1149" y="566.3" width="1.2" height="1.2"/>
<rect x="1152.1" y="578.3" width="1.2" height="1.2"/>
<rect x="1146.6" y="576.1" width="1.2" height="1.2"/>
<rect x="1162.5" y="564.9" width="1.2" height="1.2"/>
<rect x="1153.1" y="567.4" width="1.2" height="1.2"/>
<rect x="1152.9" y="568.3" width="1.2" height="1.2"/>
<rect x="1151.4" y="559.1" width="1.2" height="1.2"/>
<rect x="1148.4" y="578.2" width="1.2" height="1.2"/>
<rect x="1151.6" y="580.6" width="1.2" height="1.2"/>
<rect x="1151" y="564.4" width="1.2" height="1.2"/>
<rect x="1155.6" y="562.5" width="1.2" height="1.2"/>
<rect x="1153.1" y="581.1" width="1.2" height="1.2"/>
<rect x="1159.5" y="568.9" width="1.2" height="1.2"/>
<rect x="1159.8" y="573.6" width="1.2" height="1.2"/>
<rect x="1151.6" y="559.1" width="1.2" height="1.2"/>
<rect x="1154.9" y="566.2" width="1.2" height="1.2"/>
<rect x="1151.8" y="575.9" width="1.2" height="1.2"/>
<rect x="1163.8" y="564.2" width="1.2" height="1.2"/>
<rect x="1158.1" y="565.2" width="1.2" height="1.2"/>
<rect x="1156.4" y="567.5" width="1.2" height="1.2"/>
<rect x="1149.5" y="561.8" width="1.2" height="1.2"/>
<rect x="1150.2" y="579.9" width="1.2" height="1.2"/>
<rect x="1155.3" y="563.2" width="1.2" height="1.2"/>
<rect x="1154.5" y="561.3" width="1.2" height="1.2"/>
<rect x="1150" y="560.1" width="1.2" height="1.2"/>
<rect x="1152.6" y="560.1" width="1.2" height="1.2"/>
<rect x="1150.8" y="564.2" width="1.2" height="1.2"/>
<rect x="1156.6" y="579.5" width="1.2" height="1.2"/>
<rect x="1159.8" y="567.9" width="1.2" height="1.2"/>
<rect x="1153.9" y="570.6" width="1.2" height="1.2"/>
<rect x="1153.2" y="566.1" width="1.2" height="1.2"/>
<rect x="1147.7" y="564.6" width="1.2" height="1.2"/>
<rect x="1155.4" y="573.2" width="1.2" height="1.2"/>
<rect x="1161.8" y="563.1" width="1.2" height="1.2"/>
<rect x="1151.3" y="563.9" width="1.2" height="1.2"/>
<rect x="1153.6" y="568.7" width="1.2" height="1.2"/>
<rect x="1147.1" y="575.1" width="1.2" height="1.2"/>
<rect x="1162.4" y="569.4" width="1.2" height="1.2"/>
<rect x="1153.5" y="580.4" width="1.2" height="1.2"/>
<rect x="1163.7" y="563.9" width="1.2" height="1.2"/>
<rect x="1148.5" y="561.7" width="1.2" height="1.2"/>
<rect x="1155.8" y="574.5" width="1.2" height="1.2"/>
<rect x="1158" y="576.5" width="1.2" height="1.2"/>
<rect x="1154.6" y="571.3" width="1.2" height="1.2"/>
<rect x="1147.3" y="576.9" width="1.2" height="1.2"/>
<rect x="1150.7" y="580.3" width="1.2" height="1.2"/>
<rect x="1157.9" y="565.3" width="1.2" height="1.2"/>
<rect x="1148.8" y="564" width="1.2" height="1.2"/>
<rect x="1157.8" y="574.9" width="1.2" height="1.2"/>
<rect x="1148.5" y="559.6" width="1.2" height="1.2"/>
<rect x="1155.8" y="572.1" width="1.2" height="1.2"/>
<rect x="1153.4" y="563.3" width="1.2" height="1.2"/>
<rect x="1157.2" y="558.2" width="1.2" height="1.2"/>
<rect x="1151.9" y="569.1" width="1.2" height="1.2"/>
<rect x="1162.1" y="569.4" width="1.2" height="1.2"/>
<rect x="1150.7" y="563.9" width="1.2" height="1.2"/>
<rect x="1152" y="558.4" width="1.2" height="1.2"/>
<rect x="1155.3" y="574.3" width="1.2" height="1.2"/>
<rect x="1154" y="564.2" width="1.2" height="1.2"/>
<rect x="1150.6" y="558.7" width="1.2" height="1.2"/>
<rect x="1152.5" y="568.1" width="1.2" height="1.2"/>
<rect x="1158.6" y="562.7" width="1.2" height="1.2"/>
<rect x="1160.6" y="575.9" width="1.2" height="1.2"/>
<rect x="1148.1" y="766.5" width="1.2" height="1.2"/>
<rect x="1154.8" y="768.2" width="1.2" height="1.2"/>
<rect x="1152.6" y="766.9" width="1.2" height="1.2"/>
<rect x="1147.9" y="766.2" width="1.2" height="1.2"/>
<rect x="1144" y="770" width="1.2" height="1.2"/>
<rect x="1150.4" y="778.6" width="1.2" height="1.2"/>
<rect x="1142.8" y="764" width="1.2" height="1.2"/>
<rect x="1153.7" y="777.5" width="1.2" height="1.2"/>
<rect x="1151.4" y="779.4" width="1.2" height="1.2"/>
<rect x="1154.2" y="768.5" width="1.2" height="1.2"/>
<rect x="1150.4" y="769.3" width="1.2" height="1.2"/>
<rect x="1146.2" y="768.6" width="1.2" height="1.2"/>
<rect x="1144.8" y="768.9" width="1.2" height="1.2"/>
<rect x="1152.6" y="770.2" width="1.2" height="1.2"/>
<rect x="1143.6" y="769.1" width="1.2" height="1.2"/>
<rect x="1146.7" y="776.4" width="1.2" height="1.2"/>
<rect x="1141.3" y="764.2" width="1.2" height="1.2"/>
<rect x="1154" y="767.4" width="1.2" height="1.2"/>
<rect x="1151.6" y="777.8" width="1.2" height="1.2"/>
<rect x="1145.7" y="767.6" width="1.2" height="1.2"/>
<rect x="1278.8" y="585.3" width="1.2" height="1.2"/>
<rect x="1268.8" y="586.3" width="1.2" height="1.2"/>
<rect x="1269.6" y="581.6" width="1.2" height="1.2"/>
<rect x="1278.2" y="585.4" width="1.2" height="1.2"/>
<rect x="1278.6" y="578.9" width="1.2" height="1.2"/>
<rect x="1268.4" y="583.7" width="1.2" height="1.2"/>
</g>
<g fill="#fff" opacity="0.8">
<rect x="1219" y="712.2" width="1.3" height="1.3"/>
<rect x="1221.6" y="722" width="1.3" height="1.3"/>
<rect x="1244.1" y="731.9" width="1.3" height="1.3"/>
<rect x="1245.3" y="733.3" width="1.3" height="1.3"/>
<rect x="1232.3" y="715.3" width="1.3" height="1.3"/>
<rect x="1215" y="716.7" width="1.3" height="1.3"/>
<rect x="1207.6" y="732.5" width="1.3" height="1.3"/>
<rect x="1197.7" y="724.4" width="1.3" height="1.3"/>
<rect x="1215.3" y="741.7" width="1.3" height="1.3"/>
<rect x="1201.5" y="722.2" width="1.3" height="1.3"/>
<rect x="1238.5" y="720.1" width="1.3" height="1.3"/>
<rect x="1209.8" y="718.9" width="1.3" height="1.3"/>
<rect x="1233.1" y="729.3" width="1.3" height="1.3"/>
<rect x="1240.8" y="736.3" width="1.3" height="1.3"/>
<rect x="1229.9" y="717.1" width="1.3" height="1.3"/>
<rect x="1210.6" y="711.9" width="1.3" height="1.3"/>
<rect x="1230.6" y="715.2" width="1.3" height="1.3"/>
<rect x="1219.6" y="742.2" width="1.3" height="1.3"/>
<rect x="1226.3" y="711.4" width="1.3" height="1.3"/>
<rect x="1244.4" y="728.5" width="1.3" height="1.3"/>
<rect x="1224.3" y="735.2" width="1.3" height="1.3"/>
<rect x="1254.4" y="725.6" width="1.3" height="1.3"/>
<rect x="1247.9" y="720.2" width="1.3" height="1.3"/>
<rect x="1211.4" y="733.5" width="1.3" height="1.3"/>
<rect x="1231.6" y="727.1" width="1.3" height="1.3"/>
<rect x="1208.8" y="716.9" width="1.3" height="1.3"/>
<rect x="1204.2" y="710.3" width="1.3" height="1.3"/>
<rect x="1211.1" y="726.3" width="1.3" height="1.3"/>
<rect x="1235" y="710.2" width="1.3" height="1.3"/>
<rect x="1196.4" y="715.3" width="1.3" height="1.3"/>
<rect x="1236.6" y="709.5" width="1.3" height="1.3"/>
<rect x="1214.5" y="710.2" width="1.3" height="1.3"/>
<rect x="1243.7" y="724.2" width="1.3" height="1.3"/>
<rect x="1219.5" y="724.3" width="1.3" height="1.3"/>
<rect x="1205.6" y="730.2" width="1.3" height="1.3"/>
<rect x="1220.4" y="713.5" width="1.3" height="1.3"/>
<rect x="1214.2" y="740.6" width="1.3" height="1.3"/>
<rect x="1214.5" y="724.9" width="1.3" height="1.3"/>
<rect x="1217.2" y="718.9" width="1.3" height="1.3"/>
<rect x="1217.6" y="710" width="1.3" height="1.3"/>
<rect x="1221.3" y="735.2" width="1.3" height="1.3"/>
<rect x="1220.2" y="737.8" width="1.3" height="1.3"/>
<rect x="1223.5" y="708.6" width="1.3" height="1.3"/>
<rect x="1234.3" y="738.8" width="1.3" height="1.3"/>
<rect x="1201.1" y="727.2" width="1.3" height="1.3"/>
<rect x="1218.1" y="722.4" width="1.3" height="1.3"/>
<rect x="1204.5" y="713.5" width="1.3" height="1.3"/>
<rect x="1227.1" y="739.5" width="1.3" height="1.3"/>
<rect x="1202.3" y="721.9" width="1.3" height="1.3"/>
<rect x="1224.8" y="704.2" width="1.3" height="1.3"/>
<rect x="1250.2" y="727.1" width="1.3" height="1.3"/>
<rect x="1220.1" y="736.3" width="1.3" height="1.3"/>
<rect x="1208.9" y="718.2" width="1.3" height="1.3"/>
<rect x="1226.9" y="717.5" width="1.3" height="1.3"/>
<rect x="1203.1" y="712" width="1.3" height="1.3"/>
<rect x="1239.4" y="738.3" width="1.3" height="1.3"/>
<rect x="1198.2" y="724.8" width="1.3" height="1.3"/>
<rect x="1231.8" y="724.3" width="1.3" height="1.3"/>
<rect x="1233.5" y="714.4" width="1.3" height="1.3"/>
<rect x="1221" y="725.6" width="1.3" height="1.3"/>
<rect x="1221.4" y="728.7" width="1.3" height="1.3"/>
<rect x="1222.6" y="719.8" width="1.3" height="1.3"/>
<rect x="1225.2" y="711.5" width="1.3" height="1.3"/>
<rect x="1241.7" y="733.6" width="1.3" height="1.3"/>
<rect x="1223.3" y="709.3" width="1.3" height="1.3"/>
<rect x="1224.2" y="706.3" width="1.3" height="1.3"/>
<rect x="1203.4" y="719.4" width="1.3" height="1.3"/>
<rect x="1201.2" y="719.9" width="1.3" height="1.3"/>
<rect x="1226.5" y="703.7" width="1.3" height="1.3"/>
<rect x="1239.9" y="733.5" width="1.3" height="1.3"/>
<rect x="1226.5" y="704.2" width="1.3" height="1.3"/>
<rect x="1226.1" y="717.3" width="1.3" height="1.3"/>
<rect x="1239.8" y="735" width="1.3" height="1.3"/>
<rect x="1225.4" y="740.7" width="1.3" height="1.3"/>
<rect x="1199.6" y="716.2" width="1.3" height="1.3"/>
<rect x="1226" y="739.3" width="1.3" height="1.3"/>
<rect x="1208.3" y="712.6" width="1.3" height="1.3"/>
<rect x="1226.2" y="714.9" width="1.3" height="1.3"/>
<rect x="1236.7" y="738.3" width="1.3" height="1.3"/>
<rect x="1202.6" y="723.5" width="1.3" height="1.3"/>
<rect x="1234.1" y="716.6" width="1.3" height="1.3"/>
<rect x="1248.3" y="724.5" width="1.3" height="1.3"/>
<rect x="1230.7" y="737.7" width="1.3" height="1.3"/>
<rect x="1233.7" y="718" width="1.3" height="1.3"/>
<rect x="1217.4" y="733" width="1.3" height="1.3"/>
<rect x="1222.4" y="709.2" width="1.3" height="1.3"/>
<rect x="1231" y="728.9" width="1.3" height="1.3"/>
<rect x="1232.8" y="719.5" width="1.3" height="1.3"/>
<rect x="1226.6" y="738.3" width="1.3" height="1.3"/>
<rect x="1203.7" y="711.2" width="1.3" height="1.3"/>
<rect x="1195.9" y="716.4" width="1.3" height="1.3"/>
<rect x="1202.1" y="716.5" width="1.3" height="1.3"/>
<rect x="1209.2" y="725.6" width="1.3" height="1.3"/>
<rect x="1231.2" y="710.3" width="1.3" height="1.3"/>
<rect x="1233.3" y="721.2" width="1.3" height="1.3"/>
<rect x="1210.4" y="708" width="1.3" height="1.3"/>
<rect x="1201.5" y="727.8" width="1.3" height="1.3"/>
<rect x="1248.2" y="733.7" width="1.3" height="1.3"/>
<rect x="1219.9" y="712.7" width="1.3" height="1.3"/>
<rect x="1229.6" y="716.2" width="1.3" height="1.3"/>
<rect x="1234.6" y="720" width="1.3" height="1.3"/>
<rect x="1210.7" y="738.6" width="1.3" height="1.3"/>
<rect x="1198.4" y="723.5" width="1.3" height="1.3"/>
<rect x="1220.2" y="711.6" width="1.3" height="1.3"/>
<rect x="1207.7" y="726.6" width="1.3" height="1.3"/>
<rect x="1226.3" y="728" width="1.3" height="1.3"/>
<rect x="1214.4" y="714.2" width="1.3" height="1.3"/>
<rect x="1242.9" y="731" width="1.3" height="1.3"/>
<rect x="1240.6" y="720.8" width="1.3" height="1.3"/>
<rect x="1240.4" y="720.3" width="1.3" height="1.3"/>
<rect x="1119.3" y="653.4" width="1.3" height="1.3"/>
<rect x="1125" y="692.3" width="1.3" height="1.3"/>
<rect x="1144.6" y="663.1" width="1.3" height="1.3"/>
<rect x="1136.4" y="673.4" width="1.3" height="1.3"/>
<rect x="1121.3" y="685.8" width="1.3" height="1.3"/>
<rect x="1157.9" y="660.2" width="1.3" height="1.3"/>
<rect x="1121.1" y="661.3" width="1.3" height="1.3"/>
<rect x="1146.4" y="666.8" width="1.3" height="1.3"/>
<rect x="1153.4" y="666.9" width="1.3" height="1.3"/>
<rect x="1120" y="701.8" width="1.3" height="1.3"/>
<rect x="1130.3" y="690.8" width="1.3" height="1.3"/>
<rect x="1137.3" y="665.7" width="1.3" height="1.3"/>
<rect x="1118.6" y="684.6" width="1.3" height="1.3"/>
<rect x="1111.6" y="702" width="1.3" height="1.3"/>
<rect x="1115" y="648.7" width="1.3" height="1.3"/>
<rect x="1113.1" y="703.1" width="1.3" height="1.3"/>
<rect x="1125.5" y="655.7" width="1.3" height="1.3"/>
<rect x="1110.9" y="682.7" width="1.3" height="1.3"/>
<rect x="1126.5" y="696.4" width="1.3" height="1.3"/>
<rect x="1110.9" y="699.4" width="1.3" height="1.3"/>
<rect x="1113.3" y="649.2" width="1.3" height="1.3"/>
<rect x="1140.5" y="664.4" width="1.3" height="1.3"/>
<rect x="1147" y="659.5" width="1.3" height="1.3"/>
<rect x="1124.2" y="672.7" width="1.3" height="1.3"/>
<rect x="1122.3" y="690.3" width="1.3" height="1.3"/>
<rect x="1126.7" y="666.4" width="1.3" height="1.3"/>
<rect x="1125.6" y="689.6" width="1.3" height="1.3"/>
<rect x="1135.6" y="660.2" width="1.3" height="1.3"/>
<rect x="1152.5" y="652.6" width="1.3" height="1.3"/>
<rect x="1150.3" y="657.4" width="1.3" height="1.3"/>
<rect x="1117.1" y="676.9" width="1.3" height="1.3"/>
<rect x="1125.6" y="697.3" width="1.3" height="1.3"/>
<rect x="1122.3" y="660" width="1.3" height="1.3"/>
<rect x="1144" y="677.1" width="1.3" height="1.3"/>
<rect x="1113.2" y="685.5" width="1.3" height="1.3"/>
<rect x="1111.7" y="694.6" width="1.3" height="1.3"/>
<rect x="1140.3" y="668.5" width="1.3" height="1.3"/>
<rect x="1128.4" y="670.9" width="1.3" height="1.3"/>
<rect x="1118.3" y="663" width="1.3" height="1.3"/>
<rect x="1127.3" y="700.4" width="1.3" height="1.3"/>
<rect x="1119.7" y="674.9" width="1.3" height="1.3"/>
<rect x="1125.7" y="666.8" width="1.3" height="1.3"/>
<rect x="1115.6" y="697.9" width="1.3" height="1.3"/>
<rect x="1116.3" y="673.6" width="1.3" height="1.3"/>
<rect x="1114.1" y="675" width="1.3" height="1.3"/>
<rect x="1095.7" y="747.6" width="1.3" height="1.3"/>
<rect x="1122" y="763.2" width="1.3" height="1.3"/>
<rect x="1098.6" y="748.3" width="1.3" height="1.3"/>
<rect x="1102.7" y="744.4" width="1.3" height="1.3"/>
<rect x="1135.9" y="759.9" width="1.3" height="1.3"/>
<rect x="1123.5" y="751.4" width="1.3" height="1.3"/>
<rect x="1096" y="757.3" width="1.3" height="1.3"/>
<rect x="1105.8" y="739.9" width="1.3" height="1.3"/>
<rect x="1106.4" y="761.7" width="1.3" height="1.3"/>
<rect x="1121.5" y="753.3" width="1.3" height="1.3"/>
<rect x="1118.3" y="752.2" width="1.3" height="1.3"/>
<rect x="1093.2" y="756.3" width="1.3" height="1.3"/>
<rect x="1106.7" y="760.2" width="1.3" height="1.3"/>
<rect x="1132.5" y="751.3" width="1.3" height="1.3"/>
<rect x="1115.3" y="760.5" width="1.3" height="1.3"/>
<rect x="1107.5" y="745.5" width="1.3" height="1.3"/>
<rect x="1122.9" y="764.2" width="1.3" height="1.3"/>
<rect x="1125.6" y="759.1" width="1.3" height="1.3"/>
<rect x="1129.6" y="758.5" width="1.3" height="1.3"/>
<rect x="1118.8" y="752" width="1.3" height="1.3"/>
<rect x="1102" y="757" width="1.3" height="1.3"/>
<rect x="1126" y="759.4" width="1.3" height="1.3"/>
<rect x="1118.2" y="746.1" width="1.3" height="1.3"/>
<rect x="1107.6" y="752" width="1.3" height="1.3"/>
<rect x="1117.8" y="750.7" width="1.3" height="1.3"/>
<rect x="1120.5" y="765.7" width="1.3" height="1.3"/>
<rect x="1095.3" y="757.7" width="1.3" height="1.3"/>
<rect x="1125.8" y="750.1" width="1.3" height="1.3"/>
<rect x="1094.2" y="761.4" width="1.3" height="1.3"/>
<rect x="1134.2" y="753.9" width="1.3" height="1.3"/>
<rect x="1156.6" y="791.3" width="1.3" height="1.3"/>
<rect x="1178.4" y="796.1" width="1.3" height="1.3"/>
<rect x="1177" y="793.5" width="1.3" height="1.3"/>
<rect x="1171.9" y="803.8" width="1.3" height="1.3"/>
<rect x="1162" y="795" width="1.3" height="1.3"/>
<rect x="1171" y="797.6" width="1.3" height="1.3"/>
<rect x="1169.2" y="774.1" width="1.3" height="1.3"/>
<rect x="1165.2" y="785.5" width="1.3" height="1.3"/>
<rect x="1172.4" y="795.5" width="1.3" height="1.3"/>
<rect x="1169" y="781" width="1.3" height="1.3"/>
<rect x="1162.7" y="796.9" width="1.3" height="1.3"/>
<rect x="1162.4" y="798.9" width="1.3" height="1.3"/>
<rect x="1171" y="779.3" width="1.3" height="1.3"/>
<rect x="1158" y="798.1" width="1.3" height="1.3"/>
<rect x="1174.8" y="790.9" width="1.3" height="1.3"/>
<rect x="1169.1" y="793.5" width="1.3" height="1.3"/>
<rect x="1174.8" y="782" width="1.3" height="1.3"/>
<rect x="1178.7" y="776.4" width="1.3" height="1.3"/>
<rect x="1192.9" y="784" width="1.3" height="1.3"/>
<rect x="1193.7" y="781.1" width="1.3" height="1.3"/>
<rect x="1170.2" y="780.6" width="1.3" height="1.3"/>
<rect x="1172.7" y="778.4" width="1.3" height="1.3"/>
<rect x="1165.5" y="780.4" width="1.3" height="1.3"/>
<rect x="1166.5" y="788.2" width="1.3" height="1.3"/>
<rect x="1172.8" y="793.4" width="1.3" height="1.3"/>
<rect x="1268.2" y="491.9" width="1.3" height="1.3"/>
<rect x="1267.9" y="485" width="1.3" height="1.3"/>
<rect x="1214.5" y="478.4" width="1.3" height="1.3"/>
<rect x="1238.1" y="479" width="1.3" height="1.3"/>
<rect x="1269.1" y="524.4" width="1.3" height="1.3"/>
<rect x="1258.2" y="485.9" width="1.3" height="1.3"/>
<rect x="1227.2" y="478.2" width="1.3" height="1.3"/>
<rect x="1249.7" y="478.5" width="1.3" height="1.3"/>
<rect x="1252" y="500.2" width="1.3" height="1.3"/>
<rect x="1249.8" y="504.1" width="1.3" height="1.3"/>
<rect x="1268.8" y="521.1" width="1.3" height="1.3"/>
<rect x="1240.8" y="495.3" width="1.3" height="1.3"/>
<rect x="1266" y="508.6" width="1.3" height="1.3"/>
<rect x="1270.4" y="526.7" width="1.3" height="1.3"/>
<rect x="1253.9" y="499.4" width="1.3" height="1.3"/>
<rect x="1273.9" y="508" width="1.3" height="1.3"/>
<rect x="1240" y="498.7" width="1.3" height="1.3"/>
<rect x="1245.4" y="503.6" width="1.3" height="1.3"/>
<rect x="1284.3" y="487.6" width="1.3" height="1.3"/>
<rect x="1284.4" y="494.4" width="1.3" height="1.3"/>
<rect x="1253.2" y="486.3" width="1.3" height="1.3"/>
<rect x="1267.7" y="518.2" width="1.3" height="1.3"/>
<rect x="1236.6" y="489.1" width="1.3" height="1.3"/>
<rect x="1205.3" y="481.3" width="1.3" height="1.3"/>
<rect x="1268.1" y="518" width="1.3" height="1.3"/>
<rect x="1271.8" y="506.2" width="1.3" height="1.3"/>
<rect x="1270.3" y="482.7" width="1.3" height="1.3"/>
<rect x="1268.9" y="497.7" width="1.3" height="1.3"/>
<rect x="1278.1" y="475.9" width="1.3" height="1.3"/>
<rect x="1222.2" y="472" width="1.3" height="1.3"/>
<rect x="1267.8" y="492.3" width="1.3" height="1.3"/>
<rect x="1258.8" y="485.5" width="1.3" height="1.3"/>
<rect x="1233.8" y="495.5" width="1.3" height="1.3"/>
<rect x="1235.4" y="496.1" width="1.3" height="1.3"/>
<rect x="1208.5" y="477" width="1.3" height="1.3"/>
<rect x="1282.7" y="504.9" width="1.3" height="1.3"/>
<rect x="1244.4" y="475.9" width="1.3" height="1.3"/>
<rect x="1266.8" y="482.7" width="1.3" height="1.3"/>
<rect x="1274" y="484.5" width="1.3" height="1.3"/>
<rect x="1275.3" y="481.2" width="1.3" height="1.3"/>
<rect x="1343.9" y="665.5" width="1.3" height="1.3"/>
<rect x="1336.3" y="648.7" width="1.3" height="1.3"/>
<rect x="1321.3" y="674.4" width="1.3" height="1.3"/>
<rect x="1308" y="651" width="1.3" height="1.3"/>
<rect x="1313.1" y="633.2" width="1.3" height="1.3"/>
<rect x="1319.4" y="644.9" width="1.3" height="1.3"/>
<rect x="1312.7" y="641.3" width="1.3" height="1.3"/>
<rect x="1336.4" y="615.1" width="1.3" height="1.3"/>
<rect x="1314.7" y="657.6" width="1.3" height="1.3"/>
<rect x="1330.8" y="600.6" width="1.3" height="1.3"/>
<rect x="1343" y="662.3" width="1.3" height="1.3"/>
<rect x="1309.9" y="636.8" width="1.3" height="1.3"/>
<rect x="1333.9" y="602.5" width="1.3" height="1.3"/>
<rect x="1318.5" y="669.3" width="1.3" height="1.3"/>
<rect x="1313.9" y="645.9" width="1.3" height="1.3"/>
<rect x="1333.9" y="670.2" width="1.3" height="1.3"/>
<rect x="1352.2" y="599.6" width="1.3" height="1.3"/>
<rect x="1317.9" y="634.5" width="1.3" height="1.3"/>
<rect x="1331.3" y="598.5" width="1.3" height="1.3"/>
<rect x="1356.1" y="660" width="1.3" height="1.3"/>
<rect x="1341.3" y="672.3" width="1.3" height="1.3"/>
<rect x="1329.6" y="658.8" width="1.3" height="1.3"/>
<rect x="1298.2" y="653.4" width="1.3" height="1.3"/>
<rect x="1334.4" y="645" width="1.3" height="1.3"/>
<rect x="1321.8" y="590.7" width="1.3" height="1.3"/>
<rect x="1303" y="653.5" width="1.3" height="1.3"/>
<rect x="1350.8" y="619.9" width="1.3" height="1.3"/>
<rect x="1349.1" y="593.7" width="1.3" height="1.3"/>
<rect x="1331.9" y="670.3" width="1.3" height="1.3"/>
<rect x="1359.2" y="627.1" width="1.3" height="1.3"/>
<rect x="1322.8" y="634.8" width="1.3" height="1.3"/>
<rect x="1296.4" y="647.7" width="1.3" height="1.3"/>
<rect x="1312.6" y="632" width="1.3" height="1.3"/>
<rect x="1316.2" y="626.5" width="1.3" height="1.3"/>
<rect x="1333.5" y="606.7" width="1.3" height="1.3"/>
<rect x="1326.6" y="569.3" width="1.3" height="1.3"/>
<rect x="1357.5" y="623" width="1.3" height="1.3"/>
<rect x="1330.8" y="597.1" width="1.3" height="1.3"/>
<rect x="1349.7" y="616" width="1.3" height="1.3"/>
<rect x="1330" y="667.3" width="1.3" height="1.3"/>
<rect x="1321.1" y="676.1" width="1.3" height="1.3"/>
<rect x="1333.6" y="612.7" width="1.3" height="1.3"/>
<rect x="1303.2" y="632" width="1.3" height="1.3"/>
<rect x="1340" y="612.2" width="1.3" height="1.3"/>
<rect x="1303.1" y="607.5" width="1.3" height="1.3"/>
<rect x="1350.4" y="648.7" width="1.3" height="1.3"/>
<rect x="1340.6" y="601.4" width="1.3" height="1.3"/>
<rect x="1333" y="654.3" width="1.3" height="1.3"/>
<rect x="1289.7" y="604.2" width="1.3" height="1.3"/>
<rect x="1323.2" y="586.3" width="1.3" height="1.3"/>
<rect x="1344.2" y="589.4" width="1.3" height="1.3"/>
<rect x="1292.8" y="618.5" width="1.3" height="1.3"/>
<rect x="1355.3" y="639.4" width="1.3" height="1.3"/>
<rect x="1320.6" y="606.1" width="1.3" height="1.3"/>
<rect x="1353.6" y="622" width="1.3" height="1.3"/>
<rect x="1336.3" y="583.4" width="1.3" height="1.3"/>
<rect x="1343.9" y="630.7" width="1.3" height="1.3"/>
<rect x="1304" y="614.4" width="1.3" height="1.3"/>
<rect x="1355.1" y="605.5" width="1.3" height="1.3"/>
<rect x="1295.3" y="623.5" width="1.3" height="1.3"/>
<rect x="1308.6" y="671" width="1.3" height="1.3"/>
<rect x="1339.8" y="591.2" width="1.3" height="1.3"/>
<rect x="1322.8" y="599.9" width="1.3" height="1.3"/>
<rect x="1345" y="600.7" width="1.3" height="1.3"/>
<rect x="1352.2" y="606.2" width="1.3" height="1.3"/>
<rect x="1354.5" y="627.6" width="1.3" height="1.3"/>
<rect x="1296.9" y="617.1" width="1.3" height="1.3"/>
<rect x="1331.2" y="582.8" width="1.3" height="1.3"/>
<rect x="1296.3" y="655.7" width="1.3" height="1.3"/>
<rect x="1343.7" y="589.6" width="1.3" height="1.3"/>
<rect x="1228.1" y="575.4" width="1.3" height="1.3"/>
<rect x="1219.7" y="569.4" width="1.3" height="1.3"/>
<rect x="1228.2" y="579.7" width="1.3" height="1.3"/>
<rect x="1233.3" y="577.2" width="1.3" height="1.3"/>
<rect x="1217.9" y="566.5" width="1.3" height="1.3"/>
<rect x="1231.3" y="573.5" width="1.3" height="1.3"/>
<rect x="1234" y="583" width="1.3" height="1.3"/>
<rect x="1222" y="568.5" width="1.3" height="1.3"/>
<rect x="1222.2" y="577.4" width="1.3" height="1.3"/>
<rect x="1212.9" y="575.9" width="1.3" height="1.3"/>
<rect x="1069.4" y="572.4" width="1.1" height="1.1"/>
<rect x="1077.4" y="593.8" width="1.1" height="1.1"/>
<rect x="1070.9" y="573.3" width="1.1" height="1.1"/>
<rect x="1063.7" y="547.1" width="1.1" height="1.1"/>
<rect x="1074.9" y="552.7" width="1.1" height="1.1"/>
<rect x="1072.3" y="572.8" width="1.1" height="1.1"/>
<rect x="1078.6" y="584.7" width="1.1" height="1.1"/>
<rect x="1060.8" y="548.3" width="1.1" height="1.1"/>
<rect x="1070.5" y="571.4" width="1.1" height="1.1"/>
<rect x="1065.8" y="548.3" width="1.1" height="1.1"/>
<rect x="1068.6" y="549.2" width="1.1" height="1.1"/>
<rect x="1068.2" y="566.5" width="1.1" height="1.1"/>
<rect x="1065" y="561.3" width="1.1" height="1.1"/>
<rect x="1077.4" y="592.7" width="1.1" height="1.1"/>
<rect x="1080.5" y="598" width="1.1" height="1.1"/>
<rect x="1065.2" y="566.6" width="1.1" height="1.1"/>
<rect x="1073.5" y="563.1" width="1.1" height="1.1"/>
<rect x="1071.3" y="545" width="1.1" height="1.1"/>
<rect x="1069.2" y="571.7" width="1.1" height="1.1"/>
<rect x="1060.2" y="549.3" width="1.1" height="1.1"/>
<rect x="1077.3" y="594.9" width="1.1" height="1.1"/>
<rect x="1073.7" y="557.1" width="1.1" height="1.1"/>
<rect x="1074.5" y="557.5" width="1.1" height="1.1"/>
<rect x="1073.2" y="556.1" width="1.1" height="1.1"/>
<rect x="1071" y="567.3" width="1.1" height="1.1"/>
<rect x="1065.6" y="569.3" width="1.1" height="1.1"/>
<rect x="1071.3" y="549.9" width="1.1" height="1.1"/>
<rect x="1062.5" y="548.8" width="1.1" height="1.1"/>
<rect x="1066.1" y="565.7" width="1.1" height="1.1"/>
<rect x="1066" y="555.7" width="1.1" height="1.1"/>
<rect x="1072.1" y="580.6" width="1.1" height="1.1"/>
<rect x="1069.8" y="574.3" width="1.1" height="1.1"/>
<rect x="1073" y="569.5" width="1.1" height="1.1"/>
<rect x="1066.5" y="555.6" width="1.1" height="1.1"/>
<rect x="1068.1" y="576.6" width="1.1" height="1.1"/>
<rect x="1071.8" y="570.9" width="1.1" height="1.1"/>
<rect x="1062.2" y="554.6" width="1.1" height="1.1"/>
<rect x="1063.1" y="561.4" width="1.1" height="1.1"/>
<rect x="1075.8" y="586.3" width="1.1" height="1.1"/>
<rect x="1076.2" y="569.9" width="1.1" height="1.1"/>
<rect x="1076.8" y="584.2" width="1.1" height="1.1"/>
<rect x="1076.3" y="576.7" width="1.1" height="1.1"/>
<rect x="1072.2" y="566.4" width="1.1" height="1.1"/>
<rect x="1076.7" y="594.2" width="1.1" height="1.1"/>
<rect x="1072.9" y="564" width="1.1" height="1.1"/>
<rect x="1069.6" y="568.8" width="1.1" height="1.1"/>
<rect x="1075.4" y="558.7" width="1.1" height="1.1"/>
<rect x="1068.2" y="574.8" width="1.1" height="1.1"/>
<rect x="1068.1" y="560.5" width="1.1" height="1.1"/>
<rect x="1076.8" y="592.8" width="1.1" height="1.1"/>
<rect x="1070.6" y="568" width="1.1" height="1.1"/>
<rect x="1063.8" y="559.4" width="1.1" height="1.1"/>
<rect x="1072.4" y="546.2" width="1.1" height="1.1"/>
<rect x="1078" y="592.1" width="1.1" height="1.1"/>
<rect x="1072" y="571.2" width="1.1" height="1.1"/>
<rect x="1071" y="572.5" width="1.1" height="1.1"/>
<rect x="1074.6" y="564.6" width="1.1" height="1.1"/>
<rect x="1067.5" y="577.2" width="1.1" height="1.1"/>
<rect x="1074.4" y="572.9" width="1.1" height="1.1"/>
<rect x="1068.5" y="575.2" width="1.1" height="1.1"/>
<rect x="1069.3" y="579" width="1.1" height="1.1"/>
<rect x="1063.5" y="560.3" width="1.1" height="1.1"/>
<rect x="1070.9" y="547.6" width="1.1" height="1.1"/>
<rect x="1063.2" y="558.5" width="1.1" height="1.1"/>
<rect x="1070.9" y="571.7" width="1.1" height="1.1"/>
<rect x="1063.9" y="552" width="1.1" height="1.1"/>
<rect x="1073.4" y="577.7" width="1.1" height="1.1"/>
<rect x="1073.5" y="543.4" width="1.1" height="1.1"/>
<rect x="1074.2" y="552.8" width="1.1" height="1.1"/>
<rect x="1070.6" y="574.7" width="1.1" height="1.1"/>
<rect x="1072.2" y="566" width="1.1" height="1.1"/>
<rect x="1062.4" y="550.4" width="1.1" height="1.1"/>
<rect x="1062" y="551.2" width="1.1" height="1.1"/>
<rect x="1075.3" y="562.5" width="1.1" height="1.1"/>
<rect x="1063.5" y="557.1" width="1.1" height="1.1"/>
<rect x="1072.4" y="562.2" width="1.1" height="1.1"/>
<rect x="1069.5" y="564.4" width="1.1" height="1.1"/>
<rect x="1069.3" y="578.8" width="1.1" height="1.1"/>
<rect x="1079.9" y="593.1" width="1.1" height="1.1"/>
<rect x="1065" y="564.7" width="1.1" height="1.1"/>
<rect x="1065.1" y="551.4" width="1.1" height="1.1"/>
<rect x="1067.5" y="552.2" width="1.1" height="1.1"/>
<rect x="1071.9" y="547.8" width="1.1" height="1.1"/>
<rect x="1071.3" y="564.4" width="1.1" height="1.1"/>
<rect x="1068.5" y="544.8" width="1.1" height="1.1"/>
<rect x="1067.4" y="555.8" width="1.1" height="1.1"/>
<rect x="1063.9" y="558.2" width="1.1" height="1.1"/>
<rect x="1074.1" y="561.7" width="1.1" height="1.1"/>
<rect x="1070.7" y="554.7" width="1.1" height="1.1"/>
<rect x="1069.6" y="548.8" width="1.1" height="1.1"/>
<rect x="1325.7" y="580.9" width="1.1" height="1.1"/>
<rect x="1336.2" y="574.9" width="1.1" height="1.1"/>
<rect x="1298.2" y="602.9" width="1.1" height="1.1"/>
<rect x="1292.4" y="606.4" width="1.1" height="1.1"/>
<rect x="1323" y="584.8" width="1.1" height="1.1"/>
<rect x="1325.3" y="580.3" width="1.1" height="1.1"/>
<rect x="1334.5" y="584.8" width="1.1" height="1.1"/>
<rect x="1288.5" y="609" width="1.1" height="1.1"/>
<rect x="1327.4" y="600.4" width="1.1" height="1.1"/>
<rect x="1334.1" y="594.2" width="1.1" height="1.1"/>
<rect x="1326.3" y="580.6" width="1.1" height="1.1"/>
<rect x="1288.2" y="603.8" width="1.1" height="1.1"/>
<rect x="1294.4" y="609.1" width="1.1" height="1.1"/>
<rect x="1325" y="586.6" width="1.1" height="1.1"/>
<rect x="1320.8" y="589.2" width="1.1" height="1.1"/>
<rect x="1325.7" y="598.6" width="1.1" height="1.1"/>
<rect x="1340.2" y="584.8" width="1.1" height="1.1"/>
<rect x="1300.1" y="607.8" width="1.1" height="1.1"/>
<rect x="1302.2" y="604.8" width="1.1" height="1.1"/>
<rect x="1315.7" y="602.5" width="1.1" height="1.1"/>
<rect x="1282.9" y="603.1" width="1.1" height="1.1"/>
<rect x="1334.1" y="582.4" width="1.1" height="1.1"/>
<rect x="1291.8" y="603.5" width="1.1" height="1.1"/>
<rect x="1333.2" y="583.4" width="1.1" height="1.1"/>
<rect x="1304.5" y="605.5" width="1.1" height="1.1"/>
<rect x="1316.9" y="596.7" width="1.1" height="1.1"/>
<rect x="1309.1" y="611.5" width="1.1" height="1.1"/>
<rect x="1330.8" y="588" width="1.1" height="1.1"/>
<rect x="1338.1" y="576.7" width="1.1" height="1.1"/>
<rect x="1323.8" y="595.9" width="1.1" height="1.1"/>
<rect x="1302.8" y="607.8" width="1.1" height="1.1"/>
<rect x="1324" y="588.9" width="1.1" height="1.1"/>
<rect x="1288.3" y="606.8" width="1.1" height="1.1"/>
<rect x="1308.9" y="606.9" width="1.1" height="1.1"/>
<rect x="1315.9" y="600.5" width="1.1" height="1.1"/>
<rect x="1287.6" y="605.5" width="1.1" height="1.1"/>
<rect x="1330" y="575.5" width="1.1" height="1.1"/>
<rect x="1325.8" y="588" width="1.1" height="1.1"/>
<rect x="1291.8" y="601.8" width="1.1" height="1.1"/>
<rect x="1302.7" y="602.6" width="1.1" height="1.1"/>
<rect x="1315.8" y="604.3" width="1.1" height="1.1"/>
<rect x="1288.3" y="609.6" width="1.1" height="1.1"/>
<rect x="1323.7" y="580.6" width="1.1" height="1.1"/>
<rect x="1288.2" y="604.2" width="1.1" height="1.1"/>
<rect x="1312.8" y="607.3" width="1.1" height="1.1"/>
<rect x="1292.7" y="604.9" width="1.1" height="1.1"/>
<rect x="1324" y="586.6" width="1.1" height="1.1"/>
<rect x="1334.4" y="586.6" width="1.1" height="1.1"/>
<rect x="1294.8" y="608.2" width="1.1" height="1.1"/>
<rect x="1310.1" y="612.2" width="1.1" height="1.1"/>
<rect x="1323.5" y="581.4" width="1.1" height="1.1"/>
<rect x="1316.5" y="602.9" width="1.1" height="1.1"/>
<rect x="1321.1" y="597" width="1.1" height="1.1"/>
<rect x="1300.3" y="602.6" width="1.1" height="1.1"/>
<rect x="1327.8" y="591.6" width="1.1" height="1.1"/>
<rect x="1301.6" y="612.3" width="1.1" height="1.1"/>
<rect x="1327" y="593.4" width="1.1" height="1.1"/>
<rect x="1340.3" y="584.3" width="1.1" height="1.1"/>
<rect x="1303.7" y="603.1" width="1.1" height="1.1"/>
<rect x="1308.2" y="607.1" width="1.1" height="1.1"/>
<rect x="1337.8" y="581.5" width="1.1" height="1.1"/>
<rect x="1325.6" y="579" width="1.1" height="1.1"/>
<rect x="1319.2" y="606.9" width="1.1" height="1.1"/>
<rect x="1339.3" y="578.8" width="1.1" height="1.1"/>
<rect x="1301.8" y="602" width="1.1" height="1.1"/>
<rect x="1322.1" y="587.1" width="1.1" height="1.1"/>
<rect x="1324" y="584.2" width="1.1" height="1.1"/>
<rect x="1319.9" y="600.9" width="1.1" height="1.1"/>
<rect x="1332.5" y="587.9" width="1.1" height="1.1"/>
<rect x="1316.2" y="598" width="1.1" height="1.1"/>
</g>
</g>
<rect x="1111.6" y="548.3" width="1.2" height="1.2" fill="#d6456c" opacity="0.8"/>
<rect x="1123.9" y="540.8" width="1.2" height="1.2" fill="#d6456c" opacity="0.8"/>
<rect x="1121.3" y="592.9" width="1.2" height="1.2" fill="#f4a07a" opacity="0.8"/>
<rect x="1126.9" y="546.1" width="1.2" height="1.2" fill="#d6456c" opacity="0.8"/>
<rect x="1098.6" y="542.9" width="1.2" height="1.2" fill="#e8606e" opacity="0.8"/>
<rect x="1104.8" y="611.2" width="1.2" height="1.2" fill="#f3c6a0" opacity="0.8"/>
<rect x="1100.6" y="581.8" width="1.2" height="1.2" fill="#f6b38a" opacity="0.8"/>
<rect x="1126.8" y="551.5" width="1.2" height="1.2" fill="#f3c6a0" opacity="0.8"/>
<rect x="1145.6" y="537.7" width="1.2" height="1.2" fill="#f6b38a" opacity="0.8"/>
<rect x="1125.2" y="523.4" width="1.2" height="1.2" fill="#f6b38a" opacity="0.8"/>
<rect x="1064.2" y="565.9" width="1.2" height="1.2" fill="#ef8a72" opacity="0.8"/>
<rect x="1107.6" y="532.9" width="1.2" height="1.2" fill="#f6b38a" opacity="0.8"/>
<rect x="1141.3" y="551.9" width="1.2" height="1.2" fill="#f6b38a" opacity="0.8"/>
<rect x="1123.6" y="609.2" width="1.2" height="1.2" fill="#f6b38a" opacity="0.8"/>
<rect x="1127.1" y="539.2" width="1.2" height="1.2" fill="#e8606e" opacity="0.8"/>
<rect x="1114.7" y="549.7" width="1.2" height="1.2" fill="#f4a07a" opacity="0.8"/>
<rect x="1129.1" y="561.6" width="1.2" height="1.2" fill="#d6456c" opacity="0.8"/>
<rect x="1087.3" y="607.3" width="1.2" height="1.2" fill="#e8606e" opacity="0.8"/>
<rect x="1094.1" y="603.3" width="1.2" height="1.2" fill="#f6b38a" opacity="0.8"/>
<rect x="1094.8" y="609" width="1.2" height="1.2" fill="#f4a07a" opacity="0.8"/>
<rect x="1141.7" y="578.8" width="1.2" height="1.2" fill="#f4a07a" opacity="0.8"/>
<rect x="1078.5" y="540.1" width="1.2" height="1.2" fill="#f3c6a0" opacity="0.8"/>
<rect x="1081.9" y="558.9" width="1.2" height="1.2" fill="#d6456c" opacity="0.8"/>
<rect x="1079.2" y="535.1" width="1.2" height="1.2" fill="#f4a07a" opacity="0.8"/>
<rect x="1125.4" y="580.4" width="1.2" height="1.2" fill="#f3c6a0" opacity="0.8"/>
<rect x="1077.9" y="572.9" width="1.2" height="1.2" fill="#f3c6a0" opacity="0.8"/>
<rect x="1135.1" y="541.7" width="1.2" height="1.2" fill="#d6456c" opacity="0.8"/>
<rect x="1124.8" y="599" width="1.2" height="1.2" fill="#d6456c" opacity="0.8"/>
<rect x="1083.7" y="548.4" width="1.2" height="1.2" fill="#f6b38a" opacity="0.8"/>
<rect x="1101.5" y="606.1" width="1.2" height="1.2" fill="#d6456c" opacity="0.8"/>
<rect x="1073.1" y="584.6" width="1.2" height="1.2" fill="#ef8a72" opacity="0.8"/>
<rect x="1111.3" y="560.9" width="1.2" height="1.2" fill="#f0d0b0" opacity="0.8"/>
<rect x="1109.7" y="605.2" width="1.2" height="1.2" fill="#e8606e" opacity="0.8"/>
<rect x="1090.5" y="594.6" width="1.2" height="1.2" fill="#f6b38a" opacity="0.8"/>
<rect x="1134.6" y="533" width="1.2" height="1.2" fill="#ef8a72" opacity="0.8"/>
<rect x="1072.1" y="590.1" width="1.2" height="1.2" fill="#f4a07a" opacity="0.8"/>
<rect x="1118.8" y="523.5" width="1.2" height="1.2" fill="#f0d0b0" opacity="0.8"/>
<rect x="1088.7" y="608.9" width="1.2" height="1.2" fill="#f4a07a" opacity="0.8"/>
<rect x="1121.7" y="605.1" width="1.2" height="1.2" fill="#f3c6a0" opacity="0.8"/>
<rect x="1144.8" y="517.6" width="1.2" height="1.2" fill="#f6b38a" opacity="0.8"/>
<rect x="1079.5" y="595.9" width="1.2" height="1.2" fill="#ef8a72" opacity="0.8"/>
<rect x="1119.3" y="518.1" width="1.2" height="1.2" fill="#f3c6a0" opacity="0.8"/>
<rect x="1221.8" y="485.9" width="1.2" height="1.2" fill="#e8606e" opacity="0.8"/>
<rect x="1211.3" y="472.3" width="1.2" height="1.2" fill="#8c2981" opacity="0.8"/>
<rect x="1253.7" y="494.7" width="1.2" height="1.2" fill="#6a1f86" opacity="0.8"/>
<rect x="1258.3" y="491.9" width="1.2" height="1.2" fill="#8c2981" opacity="0.8"/>
<rect x="1267.6" y="503" width="1.2" height="1.2" fill="#d6456c" opacity="0.8"/>
<rect x="1273.8" y="494.1" width="1.2" height="1.2" fill="#e8606e" opacity="0.8"/>
<rect x="1235.3" y="495.4" width="1.2" height="1.2" fill="#e8606e" opacity="0.8"/>
<rect x="1241.8" y="494.8" width="1.2" height="1.2" fill="#8c2981" opacity="0.8"/>
<rect x="1293.9" y="485.3" width="1.2" height="1.2" fill="#d6456c" opacity="0.8"/>
<rect x="1263.5" y="492.8" width="1.2" height="1.2" fill="#8c2981" opacity="0.8"/>
<rect x="1227.9" y="481.8" width="1.2" height="1.2" fill="#e8606e" opacity="0.8"/>
<rect x="1257.6" y="489" width="1.2" height="1.2" fill="#e8606e" opacity="0.8"/>
<rect x="1276.6" y="521.9" width="1.2" height="1.2" fill="#6a1f86" opacity="0.8"/>
<rect x="1253.8" y="505.9" width="1.2" height="1.2" fill="#8c2981" opacity="0.8"/>
<rect x="1242.6" y="501.9" width="1.2" height="1.2" fill="#8c2981" opacity="0.8"/>
<rect x="1257" y="483.4" width="1.2" height="1.2" fill="#b5367a" opacity="0.8"/>
<rect x="1263.7" y="485.9" width="1.2" height="1.2" fill="#e8606e" opacity="0.8"/>
<rect x="1274.2" y="501.6" width="1.2" height="1.2" fill="#6a1f86" opacity="0.8"/>
<rect x="1250.6" y="483.2" width="1.2" height="1.2" fill="#b5367a" opacity="0.8"/>
<rect x="1255.6" y="501.8" width="1.2" height="1.2" fill="#6a1f86" opacity="0.8"/>
<rect x="1227.7" y="480.2" width="1.2" height="1.2" fill="#b5367a" opacity="0.8"/>
<rect x="1283.8" y="497.9" width="1.2" height="1.2" fill="#6a1f86" opacity="0.8"/>
<rect x="1216.5" y="479.1" width="1.2" height="1.2" fill="#8c2981" opacity="0.8"/>
<rect x="1228.9" y="476" width="1.2" height="1.2" fill="#d6456c" opacity="0.8"/>
<rect x="1254.9" y="497.4" width="1.2" height="1.2" fill="#b5367a" opacity="0.8"/>
<rect x="1248" y="499" width="1.2" height="1.2" fill="#8c2981" opacity="0.8"/>
<rect x="1240" y="501.6" width="1.2" height="1.2" fill="#d6456c" opacity="0.8"/>
<rect x="1227.6" y="492.4" width="1.2" height="1.2" fill="#d6456c" opacity="0.8"/>
<rect x="1237.4" y="493" width="1.2" height="1.2" fill="#e8606e" opacity="0.8"/>
<rect x="1206.4" y="482" width="1.2" height="1.2" fill="#e8606e" opacity="0.8"/>
<rect x="1231.1" y="489.5" width="1.2" height="1.2" fill="#e8606e" opacity="0.8"/>
<rect x="1287.4" y="482" width="1.2" height="1.2" fill="#6a1f86" opacity="0.8"/>
<rect x="1317.3" y="674.8" width="1.2" height="1.2" fill="#d6456c" opacity="0.8"/>
<rect x="1337.6" y="658.2" width="1.2" height="1.2" fill="#f3c6a0" opacity="0.8"/>
<rect x="1289.9" y="631.9" width="1.2" height="1.2" fill="#b5367a" opacity="0.8"/>
<rect x="1363.6" y="647.7" width="1.2" height="1.2" fill="#e8606e" opacity="0.8"/>
<rect x="1319.2" y="681.6" width="1.2" height="1.2" fill="#ef8a72" opacity="0.8"/>
<rect x="1328.6" y="673.6" width="1.2" height="1.2" fill="#e8606e" opacity="0.8"/>
<rect x="1306.5" y="605" width="1.2" height="1.2" fill="#f0d0b0" opacity="0.8"/>
<rect x="1314.8" y="619.9" width="1.2" height="1.2" fill="#f6b38a" opacity="0.8"/>
<rect x="1331.2" y="568.7" width="1.2" height="1.2" fill="#f3c6a0" opacity="0.8"/>
<rect x="1324.6" y="664.7" width="1.2" height="1.2" fill="#f0d0b0" opacity="0.8"/>
<rect x="1299.5" y="619.3" width="1.2" height="1.2" fill="#ef8a72" opacity="0.8"/>
<rect x="1310.2" y="666.4" width="1.2" height="1.2" fill="#d6456c" opacity="0.8"/>
<rect x="1329.3" y="653.1" width="1.2" height="1.2" fill="#e8606e" opacity="0.8"/>
<rect x="1336.1" y="603.9" width="1.2" height="1.2" fill="#b5367a" opacity="0.8"/>
<rect x="1296.9" y="629" width="1.2" height="1.2" fill="#f4a07a" opacity="0.8"/>
<rect x="1326.6" y="576.9" width="1.2" height="1.2" fill="#e8606e" opacity="0.8"/>
<rect x="1314.5" y="643.5" width="1.2" height="1.2" fill="#d6456c" opacity="0.8"/>
<rect x="1306.9" y="612.4" width="1.2" height="1.2" fill="#ef8a72" opacity="0.8"/>
<rect x="1359.2" y="645.4" width="1.2" height="1.2" fill="#ef8a72" opacity="0.8"/>
<rect x="1314.2" y="617.2" width="1.2" height="1.2" fill="#f0d0b0" opacity="0.8"/>
<rect x="1328.4" y="602.1" width="1.2" height="1.2" fill="#f3c6a0" opacity="0.8"/>
<rect x="1338.4" y="674.4" width="1.2" height="1.2" fill="#f0d0b0" opacity="0.8"/>
<rect x="1338.8" y="648.7" width="1.2" height="1.2" fill="#f4a07a" opacity="0.8"/>
<rect x="1310.8" y="619.5" width="1.2" height="1.2" fill="#f6b38a" opacity="0.8"/>
<rect x="1343.3" y="643.4" width="1.2" height="1.2" fill="#f3c6a0" opacity="0.8"/>
<rect x="1299.9" y="617.5" width="1.2" height="1.2" fill="#f4a07a" opacity="0.8"/>
<rect x="1367" y="637.3" width="1.2" height="1.2" fill="#e8606e" opacity="0.8"/>
<rect x="1316.5" y="650.8" width="1.2" height="1.2" fill="#b5367a" opacity="0.8"/>
<rect x="1344.6" y="651.9" width="1.2" height="1.2" fill="#b5367a" opacity="0.8"/>
<rect x="1344.5" y="653.2" width="1.2" height="1.2" fill="#f4a07a" opacity="0.8"/>
<rect x="1351.8" y="628.5" width="1.2" height="1.2" fill="#d6456c" opacity="0.8"/>
<rect x="1344" y="626.4" width="1.2" height="1.2" fill="#d6456c" opacity="0.8"/>
<rect x="1321.8" y="590.1" width="1.2" height="1.2" fill="#f3c6a0" opacity="0.8"/>
<rect x="1300.2" y="663" width="1.2" height="1.2" fill="#f6b38a" opacity="0.8"/>
<rect x="1343.2" y="617.9" width="1.2" height="1.2" fill="#d6456c" opacity="0.8"/>
<rect x="1318.1" y="667" width="1.2" height="1.2" fill="#f4a07a" opacity="0.8"/>
<rect x="1294.6" y="618.4" width="1.2" height="1.2" fill="#e8606e" opacity="0.8"/>
<rect x="1347.9" y="667.8" width="1.2" height="1.2" fill="#d6456c" opacity="0.8"/>
<rect x="1351.3" y="648.4" width="1.2" height="1.2" fill="#d6456c" opacity="0.8"/>
<rect x="1344.4" y="602.6" width="1.2" height="1.2" fill="#d6456c" opacity="0.8"/>
<rect x="1231.7" y="723.9" width="1.2" height="1.2" fill="#e8606e" opacity="0.8"/>
<rect x="1212.1" y="738.2" width="1.2" height="1.2" fill="#8c2981" opacity="0.8"/>
<rect x="1231.8" y="741.2" width="1.2" height="1.2" fill="#e8606e" opacity="0.8"/>
<rect x="1216.5" y="740.2" width="1.2" height="1.2" fill="#e8606e" opacity="0.8"/>
<rect x="1215.8" y="720.2" width="1.2" height="1.2" fill="#b5367a" opacity="0.8"/>
<rect x="1210.6" y="732.1" width="1.2" height="1.2" fill="#d6456c" opacity="0.8"/>
<rect x="1213.7" y="704.8" width="1.2" height="1.2" fill="#b5367a" opacity="0.8"/>
<rect x="1229.4" y="705.9" width="1.2" height="1.2" fill="#d6456c" opacity="0.8"/>
<rect x="1229" y="733.9" width="1.2" height="1.2" fill="#ef8a72" opacity="0.8"/>
<rect x="1231.6" y="720.7" width="1.2" height="1.2" fill="#e8606e" opacity="0.8"/>
<rect x="1197.7" y="722.8" width="1.2" height="1.2" fill="#e8606e" opacity="0.8"/>
<rect x="1201.6" y="728.2" width="1.2" height="1.2" fill="#b5367a" opacity="0.8"/>
<rect x="1203.7" y="725.4" width="1.2" height="1.2" fill="#8c2981" opacity="0.8"/>
<rect x="1217" y="717.2" width="1.2" height="1.2" fill="#8c2981" opacity="0.8"/>
<rect x="1235.7" y="708.6" width="1.2" height="1.2" fill="#6a1f86" opacity="0.8"/>
<rect x="1215.7" y="736.1" width="1.2" height="1.2" fill="#d6456c" opacity="0.8"/>
<rect x="1248.4" y="721.4" width="1.2" height="1.2" fill="#f4a07a" opacity="0.8"/>
<rect x="1225.6" y="723.7" width="1.2" height="1.2" fill="#f4a07a" opacity="0.8"/>
<rect x="1202.8" y="720.9" width="1.2" height="1.2" fill="#b5367a" opacity="0.8"/>
<rect x="1205.6" y="723.7" width="1.2" height="1.2" fill="#6a1f86" opacity="0.8"/>
<rect x="1226.3" y="716.9" width="1.2" height="1.2" fill="#b5367a" opacity="0.8"/>
<rect x="1207.6" y="718.3" width="1.2" height="1.2" fill="#b5367a" opacity="0.8"/>
<rect x="1098.4" y="761.2" width="1.2" height="1.2" fill="#8c2981" opacity="0.8"/>
<rect x="1112.2" y="762.5" width="1.2" height="1.2" fill="#e8606e" opacity="0.8"/>
<rect x="1103.2" y="741.7" width="1.2" height="1.2" fill="#b5367a" opacity="0.8"/>
<rect x="1096.9" y="761.2" width="1.2" height="1.2" fill="#ef8a72" opacity="0.8"/>
<rect x="1094.9" y="747.6" width="1.2" height="1.2" fill="#d6456c" opacity="0.8"/>
<rect x="1090.2" y="760.8" width="1.2" height="1.2" fill="#d6456c" opacity="0.8"/>
<rect x="1112.1" y="743.7" width="1.2" height="1.2" fill="#ef8a72" opacity="0.8"/>
<rect x="1126.8" y="761.1" width="1.2" height="1.2" fill="#b5367a" opacity="0.8"/>
<rect x="1121.1" y="759.3" width="1.2" height="1.2" fill="#8c2981" opacity="0.8"/>
<rect x="1112.9" y="748.4" width="1.2" height="1.2" fill="#d6456c" opacity="0.8"/>
<rect x="1089.4" y="756.3" width="1.2" height="1.2" fill="#8c2981" opacity="0.8"/>
<rect x="1107" y="757.6" width="1.2" height="1.2" fill="#d6456c" opacity="0.8"/>
<rect x="1173.1" y="799.7" width="1.2" height="1.2" fill="#ef8a72" opacity="0.8"/>
<rect x="1166.4" y="804.2" width="1.2" height="1.2" fill="#d6456c" opacity="0.8"/>
<rect x="1190.6" y="780.6" width="1.2" height="1.2" fill="#e8606e" opacity="0.8"/>
<rect x="1193.1" y="779.9" width="1.2" height="1.2" fill="#ef8a72" opacity="0.8"/>
<rect x="1161.4" y="787.4" width="1.2" height="1.2" fill="#f6b38a" opacity="0.8"/>
<rect x="1163.3" y="788.6" width="1.2" height="1.2" fill="#ef8a72" opacity="0.8"/>
<rect x="1186.8" y="785.3" width="1.2" height="1.2" fill="#e8606e" opacity="0.8"/>
<rect x="1192.5" y="785.7" width="1.2" height="1.2" fill="#d6456c" opacity="0.8"/>
<rect x="1155.9" y="793.9" width="1.2" height="1.2" fill="#f6b38a" opacity="0.8"/>
<rect x="1132.3" y="671.9" width="1.2" height="1.2" fill="#f3c6a0" opacity="0.8"/>
<rect x="1123.1" y="655.9" width="1.2" height="1.2" fill="#e8606e" opacity="0.8"/>
<rect x="1136" y="652.1" width="1.2" height="1.2" fill="#f3c6a0" opacity="0.8"/>
<rect x="1128.1" y="675.2" width="1.2" height="1.2" fill="#d6456c" opacity="0.8"/>
<rect x="1135.6" y="661.7" width="1.2" height="1.2" fill="#d6456c" opacity="0.8"/>
<rect x="1118.8" y="684.9" width="1.2" height="1.2" fill="#e8606e" opacity="0.8"/>
<rect x="1221.9" y="569.7" width="1.2" height="1.2" fill="#8c2981" opacity="0.8"/>
<rect x="1235.2" y="577.7" width="1.2" height="1.2" fill="#8c2981" opacity="0.8"/>
<rect x="1216.9" y="576" width="1.2" height="1.2" fill="#8c2981" opacity="0.8"/>
<rect x="1221.7" y="567.2" width="1.2" height="1.2" fill="#e8606e" opacity="0.8"/>
<rect x="1226.7" y="582.9" width="1.2" height="1.2" fill="#6a1f86" opacity="0.8"/>
<rect x="1225.7" y="572.9" width="1.2" height="1.2" fill="#d6456c" opacity="0.8"/>
<rect x="1228.5" y="574.3" width="1.2" height="1.2" fill="#e8606e" opacity="0.8"/>
<rect x="1224.8" y="611.1" width="1.2" height="1.2" fill="#6a1f86" opacity="0.8"/>
<rect x="1231.6" y="602.8" width="1.2" height="1.2" fill="#b5367a" opacity="0.8"/>
<rect x="1222.8" y="605.6" width="1.2" height="1.2" fill="#6a1f86" opacity="0.8"/>
<path d="M1199.8 654.8C1200.4 653.2 1202.7 650.7 1204.7 648.9C1206.7 647.1 1209.8 644.5 1211.9 644C1214 643.5 1215.6 645.2 1217.3 645.8C1219 646.5 1221 647 1222.2 648C1223.3 649 1224.3 650.5 1224 652C1223.6 653.5 1221.9 655.5 1220 657C1218.1 658.5 1215 659.8 1212.8 661C1210.5 662.1 1208.2 663.6 1206.5 663.8C1204.8 664.1 1203.3 663.2 1202.4 662.4C1201.5 661.6 1201.5 660.1 1201.1 658.8C1200.7 657.5 1199.2 656.5 1199.8 654.8Z" fill="#8e3296" filter="url(#rg)"/>
<rect x="1203.3" y="655.7" width="1.6" height="1.6" fill="#6a1f86"/>
<rect x="1213.8" y="645" width="1.6" height="1.6" fill="#a2388f"/>
<rect x="1209.3" y="658.8" width="1.6" height="1.6" fill="#c43c7e"/>
<rect x="1215.3" y="649.6" width="1.6" height="1.6" fill="#4b1a8c"/>
<rect x="1218.2" y="649.8" width="1.6" height="1.6" fill="#4b1a8c"/>
<rect x="1213" y="652.4" width="1.6" height="1.6" fill="#7a2a94"/>
<rect x="1217" y="657.7" width="1.6" height="1.6" fill="#7a2a94"/>
<rect x="1213.7" y="660.4" width="1.6" height="1.6" fill="#a2388f"/>
<rect x="1219" y="650.9" width="1.6" height="1.6" fill="#2a0f5a"/>
<rect x="1203.2" y="654.3" width="1.6" height="1.6" fill="#b04a9a"/>
<rect x="1217.6" y="647.4" width="1.6" height="1.6" fill="#3b0f70"/>
<rect x="1207" y="651.6" width="1.6" height="1.6" fill="#b04a9a"/>
<rect x="1204.4" y="650.2" width="1.6" height="1.6" fill="#3b0f70"/>
<rect x="1207.6" y="652.7" width="1.6" height="1.6" fill="#7a2a94"/>
<rect x="1209.3" y="651.7" width="1.6" height="1.6" fill="#3b0f70"/>
<rect x="1204.8" y="662" width="1.6" height="1.6" fill="#b04a9a"/>
<rect x="1210.7" y="660.6" width="1.6" height="1.6" fill="#6a1f86"/>
<rect x="1215.2" y="659.5" width="1.6" height="1.6" fill="#7a2a94"/>
<rect x="1218.1" y="653.4" width="1.6" height="1.6" fill="#e0608a"/>
<rect x="1213.3" y="657.3" width="1.6" height="1.6" fill="#2a0f5a"/>
<rect x="1218" y="649.5" width="1.6" height="1.6" fill="#c43c7e"/>
<rect x="1208.6" y="662.2" width="1.6" height="1.6" fill="#2a0f5a"/>
<rect x="1212.6" y="649.7" width="1.6" height="1.6" fill="#14092e"/>
<rect x="1215" y="649.2" width="1.6" height="1.6" fill="#c43c7e"/>
<rect x="1219.8" y="655.3" width="1.6" height="1.6" fill="#3b0f70"/>
<rect x="1208.4" y="662.7" width="1.6" height="1.6" fill="#c43c7e"/>
<rect x="1206.2" y="648.9" width="1.6" height="1.6" fill="#2a0f5a"/>
<rect x="1201.5" y="654.9" width="1.6" height="1.6" fill="#6a1f86"/>
<rect x="1218" y="657.5" width="1.6" height="1.6" fill="#3b0f70"/>
<rect x="1209.8" y="660" width="1.6" height="1.6" fill="#e0608a"/>
<rect x="1215.1" y="657.7" width="1.6" height="1.6" fill="#7a2a94"/>
<rect x="1218.5" y="651.9" width="1.6" height="1.6" fill="#4b1a8c"/>
<rect x="1208.1" y="651.8" width="1.6" height="1.6" fill="#7a2a94"/>
<rect x="1219.3" y="651" width="1.6" height="1.6" fill="#6a1f86"/>
<rect x="1204.3" y="661.3" width="1.6" height="1.6" fill="#3b0f70"/>
<rect x="1212.7" y="654.4" width="1.6" height="1.6" fill="#a2388f"/>
<rect x="1212" y="660.9" width="1.6" height="1.6" fill="#7a2a94"/>
<rect x="1215.9" y="655.5" width="1.6" height="1.6" fill="#2a0f5a"/>
<rect x="1209.6" y="655.4" width="1.6" height="1.6" fill="#6a1f86"/>
<rect x="1206.4" y="660.8" width="1.6" height="1.6" fill="#a2388f"/>
<rect x="1203.5" y="657.3" width="1.6" height="1.6" fill="#c43c7e"/>
<rect x="1218" y="654" width="1.6" height="1.6" fill="#e0608a"/>
<rect x="1203" y="658" width="1.6" height="1.6" fill="#6a1f86"/>
<rect x="1216.8" y="656.2" width="1.6" height="1.6" fill="#4b1a8c"/>
<rect x="1206.4" y="648.3" width="1.6" height="1.6" fill="#14092e"/>
<rect x="1219.2" y="651.2" width="1.6" height="1.6" fill="#3b0f70"/>
<rect x="1220.1" y="650.5" width="1.6" height="1.6" fill="#2a0f5a"/>
<rect x="1213.2" y="660" width="1.6" height="1.6" fill="#3b0f70"/>
<rect x="1215" y="650.8" width="1.6" height="1.6" fill="#c43c7e"/>
<rect x="1207.8" y="655.3" width="1.6" height="1.6" fill="#7a2a94"/>
<rect x="1205.1" y="659.8" width="1.6" height="1.6" fill="#6a1f86"/>
<rect x="1204.9" y="660.7" width="1.6" height="1.6" fill="#4b1a8c"/>
<rect x="1219.3" y="654.7" width="1.6" height="1.6" fill="#7a2a94"/>
<rect x="1200.5" y="654" width="1.6" height="1.6" fill="#c43c7e"/>
<rect x="1210.1" y="645.3" width="1.6" height="1.6" fill="#b04a9a"/>
<rect x="1215" y="658.4" width="1.6" height="1.6" fill="#7a2a94"/>
<rect x="1213.9" y="652" width="1.6" height="1.6" fill="#6a1f86"/>
<rect x="1212.2" y="655.7" width="1.6" height="1.6" fill="#e0608a"/>
<rect x="1205.3" y="661.2" width="1.6" height="1.6" fill="#6a1f86"/>
<rect x="1223" y="650.6" width="1.6" height="1.6" fill="#6a1f86"/>
<rect x="1211.4" y="646.7" width="1.6" height="1.6" fill="#7a2a94"/>
<rect x="1210.8" y="657.6" width="1.6" height="1.6" fill="#6a1f86"/>
<rect x="1216.9" y="653" width="1.6" height="1.6" fill="#a2388f"/>
<rect x="1208.1" y="647.8" width="1.6" height="1.6" fill="#7a2a94"/>
<rect x="1209.6" y="649.6" width="1.6" height="1.6" fill="#a2388f"/>
<rect x="1204.5" y="658.6" width="1.6" height="1.6" fill="#6a1f86"/>
<rect x="1212.3" y="652.7" width="1.6" height="1.6" fill="#c43c7e"/>
<rect x="1204.6" y="658" width="1.6" height="1.6" fill="#3b0f70"/>
<rect x="1204.6" y="649.3" width="1.6" height="1.6" fill="#14092e"/>
<rect x="1213.4" y="657.9" width="1.6" height="1.6" fill="#2a0f5a"/>
<rect x="1217.3" y="658.3" width="1.6" height="1.6" fill="#c43c7e"/>
<rect x="1217.3" y="656.5" width="1.6" height="1.6" fill="#14092e"/>
<rect x="1206.2" y="651.1" width="1.6" height="1.6" fill="#3b0f70"/>
<rect x="1203.8" y="656.6" width="1.6" height="1.6" fill="#e0608a"/>
<rect x="1208.4" y="661.8" width="1.6" height="1.6" fill="#c43c7e"/>
<rect x="1219.2" y="653" width="1.6" height="1.6" fill="#2a0f5a"/>
<rect x="1203.6" y="659.4" width="1.6" height="1.6" fill="#6a1f86"/>
<rect x="1211.3" y="660.3" width="1.6" height="1.6" fill="#3b0f70"/>
<rect x="1213.4" y="654.1" width="1.6" height="1.6" fill="#2a0f5a"/>
<rect x="1204.9" y="649" width="1.6" height="1.6" fill="#e0608a"/>
<rect x="1217.5" y="651.6" width="1.6" height="1.6" fill="#a2388f"/>
<rect x="1205" y="655.6" width="1.6" height="1.6" fill="#e0608a"/>
<rect x="1211" y="644.9" width="1.6" height="1.6" fill="#7a2a94"/>
<rect x="1221.3" y="654.6" width="1.6" height="1.6" fill="#7a2a94"/>
<rect x="1211.5" y="656.7" width="1.6" height="1.6" fill="#b04a9a"/>
<rect x="1204.8" y="648.9" width="1.6" height="1.6" fill="#b04a9a"/>
<rect x="1221.7" y="651.6" width="1.6" height="1.6" fill="#14092e"/>
<rect x="1202.3" y="655.7" width="1.6" height="1.6" fill="#2a0f5a"/>
<rect x="1210.8" y="655.6" width="1.6" height="1.6" fill="#a2388f"/>
<rect x="1215.2" y="658" width="1.6" height="1.6" fill="#6a1f86"/>
<rect x="1210.4" y="645.4" width="1.6" height="1.6" fill="#b04a9a"/>
<rect x="1211.2" y="652" width="1.6" height="1.6" fill="#4b1a8c"/>
<rect x="1216.1" y="658.2" width="1.6" height="1.6" fill="#a2388f"/>
<rect x="1205.6" y="656.9" width="1.6" height="1.6" fill="#14092e"/>
<rect x="1216.5" y="653.4" width="1.6" height="1.6" fill="#2a0f5a"/>
<rect x="1203.3" y="662" width="1.6" height="1.6" fill="#2a0f5a"/>
<rect x="1214.3" y="645.3" width="1.6" height="1.6" fill="#b04a9a"/>
<rect x="1205.4" y="651.8" width="1.6" height="1.6" fill="#2a0f5a"/>
<rect x="1215.1" y="658.7" width="1.6" height="1.6" fill="#e0608a"/>
<rect x="1205.6" y="662.5" width="1.6" height="1.6" fill="#c43c7e"/>
<rect x="1205.1" y="657.3" width="1.6" height="1.6" fill="#3b0f70"/>
<rect x="1222" y="649.2" width="1.6" height="1.6" fill="#2a0f5a"/>
<rect x="1204.3" y="660" width="1.6" height="1.6" fill="#6a1f86"/>
<rect x="1203.8" y="654.2" width="1.6" height="1.6" fill="#14092e"/>
<rect x="1202.4" y="659.6" width="1.6" height="1.6" fill="#2a0f5a"/>
<rect x="1213.2" y="660.3" width="1.6" height="1.6" fill="#4b1a8c"/>
<rect x="1212" y="656.3" width="1.6" height="1.6" fill="#e0608a"/>
<rect x="1214.2" y="659.9" width="1.6" height="1.6" fill="#7a2a94"/>
<rect x="1213" y="649.8" width="1.6" height="1.6" fill="#14092e"/>
<rect x="1210.9" y="646.5" width="1.6" height="1.6" fill="#a2388f"/>
<rect x="1215.5" y="648.1" width="1.6" height="1.6" fill="#e0608a"/>
<rect x="1210.2" y="646.2" width="1.6" height="1.6" fill="#6a1f86"/>
<rect x="1208.7" y="650" width="1.6" height="1.6" fill="#2a0f5a"/>
<rect x="1218.2" y="647" width="1.6" height="1.6" fill="#a2388f"/>
<rect x="1216.5" y="655.9" width="1.6" height="1.6" fill="#14092e"/>
<rect x="1212.4" y="653.1" width="1.6" height="1.6" fill="#4b1a8c"/>
<rect x="1209.7" y="656.1" width="1.6" height="1.6" fill="#3b0f70"/>
<rect x="1210.2" y="661.4" width="1.6" height="1.6" fill="#14092e"/>
<rect x="1204.2" y="662.7" width="1.6" height="1.6" fill="#4b1a8c"/>
<rect x="1210.5" y="658" width="1.6" height="1.6" fill="#3b0f70"/>
<rect x="1205.9" y="650" width="1.6" height="1.6" fill="#a2388f"/>
<rect x="1208.2" y="650.5" width="1.6" height="1.6" fill="#4b1a8c"/>
<rect x="1202.1" y="652.8" width="1.6" height="1.6" fill="#a2388f"/>
<rect x="1218" y="649.5" width="1.6" height="1.6" fill="#2a0f5a"/>
<rect x="1205.9" y="652.2" width="1.6" height="1.6" fill="#2a0f5a"/>
<rect x="1207.8" y="659.3" width="1.6" height="1.6" fill="#14092e"/>
<rect x="1219" y="654.6" width="1.6" height="1.6" fill="#4b1a8c"/>
<rect x="1202.4" y="660.4" width="1.6" height="1.6" fill="#b04a9a"/>
<rect x="1207.4" y="656.5" width="1.6" height="1.6" fill="#14092e"/>
<rect x="1208.7" y="654.7" width="1.6" height="1.6" fill="#a2388f"/>
<rect x="1212.6" y="656.9" width="1.6" height="1.6" fill="#b04a9a"/>
<rect x="1209.7" y="662.1" width="1.6" height="1.6" fill="#e0608a"/>
<rect x="1206.8" y="662" width="1.6" height="1.6" fill="#4b1a8c"/>
<rect x="1204.1" y="652.7" width="1.6" height="1.6" fill="#7a2a94"/>
<rect x="1216.4" y="657.7" width="1.6" height="1.6" fill="#6a1f86"/>
<rect x="1205.8" y="649.1" width="1.6" height="1.6" fill="#7a2a94"/>
<rect x="1204.9" y="649.2" width="1.6" height="1.6" fill="#b04a9a"/>
<rect x="1214.1" y="657" width="1.6" height="1.6" fill="#e0608a"/>
<rect x="1214.3" y="657.8" width="1.6" height="1.6" fill="#c43c7e"/>
<rect x="1208.6" y="646.9" width="1.6" height="1.6" fill="#b04a9a"/>
<rect x="1202.6" y="653.8" width="1.6" height="1.6" fill="#b04a9a"/>
<rect x="1206.4" y="659.3" width="1.6" height="1.6" fill="#6a1f86"/>
<rect x="1207.2" y="652.1" width="1.6" height="1.6" fill="#14092e"/>
<rect x="1216.5" y="652.8" width="1.6" height="1.6" fill="#4b1a8c"/>
<rect x="1217.4" y="645.9" width="1.6" height="1.6" fill="#e0608a"/>
<rect x="1222.3" y="650.8" width="1.6" height="1.6" fill="#a2388f"/>
<rect x="1219.8" y="648.5" width="1.6" height="1.6" fill="#e0608a"/>
<rect x="1216" y="649.5" width="1.6" height="1.6" fill="#14092e"/>
<rect x="1215.7" y="655.7" width="1.6" height="1.6" fill="#2a0f5a"/>
<rect x="1215.8" y="647.6" width="1.6" height="1.6" fill="#a2388f"/>
<rect x="1223.5" y="651.6" width="1.6" height="1.6" fill="#6a1f86"/>
<rect x="1215.6" y="655.3" width="1.6" height="1.6" fill="#14092e"/>
<rect x="1208.6" y="658.3" width="1.6" height="1.6" fill="#c43c7e"/>
<rect x="1203.2" y="659.6" width="1.6" height="1.6" fill="#b04a9a"/>
<rect x="1205.9" y="651.3" width="1.6" height="1.6" fill="#a2388f"/>
<rect x="1212.5" y="646.2" width="1.6" height="1.6" fill="#4b1a8c"/>
<rect x="1205.8" y="659.8" width="1.6" height="1.6" fill="#3b0f70"/>
<rect x="1206.7" y="651.6" width="1.6" height="1.6" fill="#e0608a"/>
<rect x="1218.3" y="648.5" width="1.6" height="1.6" fill="#7a2a94"/>
<rect x="1209.1" y="651.3" width="1.6" height="1.6" fill="#6a1f86"/>
<rect x="1215.3" y="653.4" width="1.6" height="1.6" fill="#c43c7e"/>
<rect x="1210.4" y="646.3" width="1.6" height="1.6" fill="#3b0f70"/>
<rect x="1210.9" y="658.1" width="1.6" height="1.6" fill="#7a2a94"/>
<rect x="1211.4" y="647.5" width="1.6" height="1.6" fill="#7a2a94"/>
<rect x="1205.4" y="652.8" width="1.6" height="1.6" fill="#c43c7e"/>
<rect x="1208.5" y="653.3" width="1.6" height="1.6" fill="#2a0f5a"/>
<rect x="1217.8" y="655.2" width="1.6" height="1.6" fill="#7a2a94"/>
<rect x="1220.7" y="648.2" width="1.6" height="1.6" fill="#c43c7e"/>
<rect x="1222.1" y="653.2" width="1.6" height="1.6" fill="#6a1f86"/>
<rect x="1210.8" y="650.3" width="1.6" height="1.6" fill="#14092e"/>
<rect x="1221.8" y="636.3" width="1.5" height="1.5" fill="#e8606e"/>
<rect x="1221.1" y="640" width="1.5" height="1.5" fill="#f4a07a"/>
<rect x="1221.1" y="637.4" width="1.5" height="1.5" fill="#f4a07a"/>
<rect x="1222.2" y="637.1" width="1.5" height="1.5" fill="#d6456c"/>
<rect x="1221.8" y="635.6" width="1.5" height="1.5" fill="#f4a07a"/>
<rect x="1222.6" y="635.2" width="1.5" height="1.5" fill="#f4a07a"/>
<rect x="1222.1" y="635" width="1.5" height="1.5" fill="#d6456c"/>
<rect x="1221.4" y="639.5" width="1.5" height="1.5" fill="#e8606e"/>
<rect x="1222.7" y="632" width="1.5" height="1.5" fill="#e8606e"/>
<rect x="1180.4" y="617.3" width="1.3" height="1.3" fill="#8c5a7a"/>
<rect x="1179.7" y="616.4" width="1.3" height="1.3" fill="#8c5a7a"/>
<rect x="1181.1" y="618.2" width="1.3" height="1.3" fill="#8c5a7a"/>
<rect x="1178.6" y="618.6" width="1.3" height="1.3" fill="#8c5a7a"/>
<rect x="1145.8" y="652.1" width="1.6" height="1.6" fill="#14092e"/>
<rect x="1042.6" y="443.2" width="351.9" height="381.3" fill="none" stroke="#333" stroke-width="1"/>
<line x1="1039.1" y1="474" x2="1042.6" y2="474" stroke="#333" stroke-width="0.9"/>
<text x="1036.6" y="477.6" font-size="11.2" text-anchor="end" fill="#222">10</text>
<line x1="1039.1" y1="602.3" x2="1042.6" y2="602.3" stroke="#333" stroke-width="0.9"/>
<text x="1036.6" y="605.9" font-size="11.2" text-anchor="end" fill="#222">0</text>
<line x1="1039.1" y1="730.3" x2="1042.6" y2="730.3" stroke="#333" stroke-width="0.9"/>
<text x="1036.6" y="733.9" font-size="11.2" text-anchor="end" fill="#222">−10</text>
<line x1="1058.1" y1="824.4" x2="1058.1" y2="827.9" stroke="#333" stroke-width="0.9"/>
<text x="1058.1" y="838.7" font-size="11.2" text-anchor="middle" fill="#222">−10</text>
<line x1="1127.5" y1="824.4" x2="1127.5" y2="827.9" stroke="#333" stroke-width="0.9"/>
<text x="1127.5" y="838.7" font-size="11.2" text-anchor="middle" fill="#222">−5</text>
<line x1="1197.3" y1="824.4" x2="1197.3" y2="827.9" stroke="#333" stroke-width="0.9"/>
<text x="1197.3" y="838.7" font-size="11.2" text-anchor="middle" fill="#222">0</text>
<line x1="1266.8" y1="824.4" x2="1266.8" y2="827.9" stroke="#333" stroke-width="0.9"/>
<text x="1266.8" y="838.7" font-size="11.2" text-anchor="middle" fill="#222">5</text>
<line x1="1336.8" y1="824.4" x2="1336.8" y2="827.9" stroke="#333" stroke-width="0.9"/>
<text x="1336.8" y="838.7" font-size="11.2" text-anchor="middle" fill="#222">10</text>
<text font-size="22.4" text-anchor="middle" transform="translate(1011.8 631.1) rotate(-90)">UMAP_2</text>
<text x="1215.5" y="905.4" font-size="21.4" text-anchor="middle">UMAP_1</text>
<text x="1056.6" y="475.7" font-size="24.6" font-weight="bold" font-style="italic" fill="#a0121f">HDC</text>
<text x="1184.1" y="492.2" font-size="22" fill="#111">CD8 T</text>
<text x="1271" y="485.5" font-size="22" fill="#111">CD4 T</text>
<text x="1197.6" y="577.9" font-size="22" fill="#111">B</text>
<text x="1278" y="584.9" font-size="22" fill="#111">Mono</text>
<text x="1091.7" y="609.3" font-size="22" fill="#111">Epi</text>
<text x="1179.4" y="645.2" font-size="22" fill="#111">MC</text>
<text x="1334" y="674.6" font-size="22" fill="#111">Mac</text>
<text x="1213.5" y="748" font-size="22" fill="#111">EC</text>
<text x="1135.6" y="766.2" font-size="22" fill="#111">FB</text>
<rect x="1357.2" y="745.7" width="14.6" height="72.8" fill="url(#mg)"/>
<text x="1378.3" y="754" font-size="11" fill="#111">4</text>
<text x="1378.3" y="770.8" font-size="11" fill="#111">3</text>
<text x="1378.3" y="788.2" font-size="11" fill="#111">2</text>
<text x="1378.3" y="805.6" font-size="11" fill="#111">1</text>
</g>
<!-- panel g2 -->
<g>
<defs><linearGradient id="hg" x1="0" y1="0" x2="0" y2="1"><stop offset="0" stop-color="#f5220f"/><stop offset="0.33" stop-color="#a81a0c"/><stop offset="0.66" stop-color="#4d0c05"/><stop offset="1" stop-color="#000"/></linearGradient></defs>
<rect x="1445.9" y="519" width="507" height="168" fill="#000" stroke="#000" stroke-width="1.6"/>
<rect x="1447.1" y="520.2" width="53.9" height="81.6" fill="#fff" stroke="#000" stroke-width="1.6"/>
<line x1="1447.1" y1="520.2" x2="1501" y2="601.8" stroke="#000" stroke-width="1.6"/>
<line x1="1447.1" y1="601.8" x2="1501" y2="520.2" stroke="#000" stroke-width="1.6"/>
<rect x="1503.4" y="520.2" width="53.9" height="81.6" fill="#fff" stroke="#000" stroke-width="1.6"/>
<line x1="1503.4" y1="520.2" x2="1557.4" y2="601.8" stroke="#000" stroke-width="1.6"/>
<line x1="1503.4" y1="601.8" x2="1557.4" y2="520.2" stroke="#000" stroke-width="1.6"/>
<text x="1586.7" y="567.2" font-size="17.4" text-anchor="middle" fill="#fff">0.01</text>
<rect x="1616.1" y="520.2" width="53.9" height="81.6" fill="#fff" stroke="#000" stroke-width="1.6"/>
<line x1="1616.1" y1="520.2" x2="1670" y2="601.8" stroke="#000" stroke-width="1.6"/>
<line x1="1616.1" y1="601.8" x2="1670" y2="520.2" stroke="#000" stroke-width="1.6"/>
<text x="1699.4" y="567.2" font-size="17.4" text-anchor="middle" fill="#fff">0.01</text>
<rect x="1728.8" y="520.2" width="53.9" height="81.6" fill="#fff" stroke="#000" stroke-width="1.6"/>
<line x1="1728.8" y1="520.2" x2="1782.7" y2="601.8" stroke="#000" stroke-width="1.6"/>
<line x1="1728.8" y1="601.8" x2="1782.7" y2="520.2" stroke="#000" stroke-width="1.6"/>
<text x="1812.1" y="567.2" font-size="17.4" text-anchor="middle" fill="#fff">0.02</text>
<rect x="1840.2" y="520" width="55.8" height="82.5" fill="#f2210f"/>
<text x="1868.4" y="567.2" font-size="17.4" text-anchor="middle" fill="#fff">5.44</text>
<rect x="1897.8" y="520.2" width="53.9" height="81.6" fill="#fff" stroke="#000" stroke-width="1.6"/>
<line x1="1897.8" y1="520.2" x2="1951.7" y2="601.8" stroke="#000" stroke-width="1.6"/>
<line x1="1897.8" y1="601.8" x2="1951.7" y2="520.2" stroke="#000" stroke-width="1.6"/>
<text x="1474.1" y="651.2" font-size="17.4" text-anchor="middle" fill="#fff">0.01</text>
<rect x="1503.4" y="604.2" width="53.9" height="81.6" fill="#fff" stroke="#000" stroke-width="1.6"/>
<line x1="1503.4" y1="604.2" x2="1557.4" y2="685.8" stroke="#000" stroke-width="1.6"/>
<line x1="1503.4" y1="685.8" x2="1557.4" y2="604.2" stroke="#000" stroke-width="1.6"/>
<text x="1586.7" y="651.2" font-size="17.4" text-anchor="middle" fill="#fff">0.02</text>
<text x="1643.1" y="651.2" font-size="17.4" text-anchor="middle" fill="#fff">0.08</text>
<text x="1699.4" y="651.2" font-size="17.4" text-anchor="middle" fill="#fff">0.03</text>
<text x="1755.7" y="651.2" font-size="17.4" text-anchor="middle" fill="#fff">0.02</text>
<text x="1812.1" y="651.2" font-size="17.4" text-anchor="middle" fill="#fff">0.01</text>
<rect x="1840.2" y="604" width="55.8" height="82.5" fill="#b11a0f"/>
<text x="1868.4" y="651.2" font-size="17.4" text-anchor="middle" fill="#fff">4.21</text>
<text x="1924.7" y="651.2" font-size="17.4" text-anchor="middle" fill="#fff">0.02</text>
<line x1="1474.1" y1="687" x2="1474.1" y2="693" stroke="#000" stroke-width="2.4"/>
<line x1="1530.4" y1="687" x2="1530.4" y2="693" stroke="#000" stroke-width="2.4"/>
<line x1="1586.7" y1="687" x2="1586.7" y2="693" stroke="#000" stroke-width="2.4"/>
<line x1="1643.1" y1="687" x2="1643.1" y2="693" stroke="#000" stroke-width="2.4"/>
<line x1="1699.4" y1="687" x2="1699.4" y2="693" stroke="#000" stroke-width="2.4"/>
<line x1="1755.7" y1="687" x2="1755.7" y2="693" stroke="#000" stroke-width="2.4"/>
<line x1="1812.1" y1="687" x2="1812.1" y2="693" stroke="#000" stroke-width="2.4"/>
<line x1="1868.4" y1="687" x2="1868.4" y2="693" stroke="#000" stroke-width="2.4"/>
<line x1="1924.7" y1="687" x2="1924.7" y2="693" stroke="#000" stroke-width="2.4"/>
<text font-size="21.4" text-anchor="end" transform="translate(1483.7 710.6) rotate(-45)">Epi</text>
<text font-size="21.4" text-anchor="end" transform="translate(1540 710.6) rotate(-45)">Mac</text>
<text font-size="21.4" text-anchor="end" transform="translate(1596.3 710.6) rotate(-45)">CD4 T</text>
<text font-size="21.4" text-anchor="end" transform="translate(1652.7 710.6) rotate(-45)">CD8 T</text>
<text font-size="21.4" text-anchor="end" transform="translate(1709 710.6) rotate(-45)">EC</text>
<text font-size="21.4" text-anchor="end" transform="translate(1765.3 710.6) rotate(-45)">FB</text>
<text font-size="21.4" text-anchor="end" transform="translate(1821.7 710.6) rotate(-45)">Mono</text>
<text font-size="21.4" text-anchor="end" transform="translate(1878 710.6) rotate(-45)">MC</text>
<text font-size="21.4" text-anchor="end" transform="translate(1934.3 710.6) rotate(-45)">B</text>
<line x1="1439.9" y1="561" x2="1445.9" y2="561" stroke="#000" stroke-width="1.6"/>
<text x="1437.9" y="569.8" font-size="24.6" text-anchor="end">N</text>
<line x1="1439.9" y1="645" x2="1445.9" y2="645" stroke="#000" stroke-width="1.6"/>
<text x="1437.9" y="653.8" font-size="24.6" text-anchor="end">T</text>
<text x="1868" y="511.5" font-size="15.6" text-anchor="middle"><tspan font-style="italic">P</tspan>=0.008</text>
<rect x="1963.1" y="519" width="15.3" height="102.6" fill="url(#hg)" stroke="#000" stroke-width="1.2"/>
<text x="1985.3" y="524.4" font-size="15">6</text>
<text x="1985.3" y="558.3" font-size="15">4</text>
<text x="1985.3" y="592.5" font-size="15">2</text>
<text x="1985.3" y="626.4" font-size="15">0</text>
<line x1="1963.1" y1="552.9" x2="1966.6" y2="552.9" stroke="#000" stroke-width="1.2"/>
<line x1="1974.9" y1="552.9" x2="1978.4" y2="552.9" stroke="#000" stroke-width="1.2"/>
<line x1="1963.1" y1="587.1" x2="1966.6" y2="587.1" stroke="#000" stroke-width="1.2"/>
<line x1="1974.9" y1="587.1" x2="1978.4" y2="587.1" stroke="#000" stroke-width="1.2"/>
</g>
<!-- panel h -->
<g>
<text x="7.6" y="951" font-size="48" font-weight="bold">h</text>
<text x="219.7" y="960.5" font-size="22" text-anchor="middle" font-weight="bold">BRCA</text>
<path d="M172.4 1126.9C171.7 1129.1 171.4 1135.5 170.7 1140.1C169.9 1144.7 169 1149.7 167.8 1154.5C166.6 1159.3 164.8 1164.1 163.5 1168.9C162.1 1173.7 160.8 1179.3 159.6 1183.3C158.4 1187.3 158 1189.7 156.3 1192.9C154.6 1196.1 151.6 1199.3 149.6 1202.5C147.5 1205.7 145.2 1208.9 143.8 1212.1C142.4 1215.3 141.4 1218.5 141.4 1221.7C141.4 1224.9 142.4 1228.1 143.8 1231.3C145.2 1234.5 147.6 1237.7 150 1240.9C152.5 1244.1 156.2 1247.7 158.7 1250.5C161.2 1253.3 163.4 1255.9 164.9 1257.7C166.4 1259.5 165.4 1260.7 167.8 1261.3C170.2 1261.9 176.9 1261.9 179.3 1261.3C181.7 1260.7 180.7 1259.5 182.2 1257.7C183.7 1255.9 186 1253.3 188.4 1250.5C190.9 1247.7 194.6 1244.1 197.1 1240.9C199.6 1237.7 201.9 1234.5 203.3 1231.3C204.8 1228.1 205.7 1224.9 205.7 1221.7C205.7 1218.5 204.7 1215.3 203.3 1212.1C202 1208.9 199.7 1205.7 197.6 1202.5C195.5 1199.3 192.5 1196.1 190.8 1192.9C189.2 1189.7 188.7 1187.3 187.5 1183.3C186.3 1179.3 185 1173.7 183.6 1168.9C182.3 1164.1 180.5 1159.3 179.3 1154.5C178.1 1149.7 177.2 1144.7 176.4 1140.1C175.7 1135.5 175.4 1129.1 174.8 1126.9C174.1 1124.7 173 1124.7 172.4 1126.9Z" fill="#9ccf9f" stroke="#101810" stroke-width="0.9"/>
<g fill="#2b42d2" stroke="#0c0c14" stroke-width="0.7">
<circle cx="166.3" cy="1232.5" r="1.8"/>
<circle cx="182.6" cy="1201.8" r="1.8"/>
<circle cx="184" cy="1193" r="1.8"/>
<circle cx="179.1" cy="1231.7" r="1.8"/>
<circle cx="178.5" cy="1200.6" r="1.8"/>
<circle cx="166.3" cy="1173.5" r="1.8"/>
<circle cx="185.6" cy="1236.5" r="1.8"/>
<circle cx="163.6" cy="1187.8" r="1.8"/>
<circle cx="182.1" cy="1225.5" r="1.8"/>
<circle cx="173.6" cy="1156" r="1.8"/>
<circle cx="181.3" cy="1237.5" r="1.8"/>
<circle cx="184.4" cy="1163.2" r="1.8"/>
<circle cx="162.8" cy="1169.6" r="1.8"/>
<circle cx="169.2" cy="1245.1" r="1.8"/>
<circle cx="175.6" cy="1195.7" r="1.8"/>
<circle cx="181.4" cy="1243.9" r="1.8"/>
<circle cx="172.6" cy="1134.2" r="1.8"/>
<circle cx="174.5" cy="1231.1" r="1.8"/>
<circle cx="183.4" cy="1251.5" r="1.8"/>
<circle cx="182.4" cy="1179.5" r="1.8"/>
<circle cx="171.6" cy="1166.6" r="1.8"/>
<circle cx="178.2" cy="1219.8" r="1.8"/>
<circle cx="162.9" cy="1188.8" r="1.8"/>
<circle cx="168.9" cy="1234.2" r="1.8"/>
<circle cx="167.3" cy="1168.6" r="1.8"/>
<circle cx="172.1" cy="1208.2" r="1.8"/>
<circle cx="178.3" cy="1202.1" r="1.8"/>
<circle cx="181.9" cy="1222.2" r="1.8"/>
<circle cx="168" cy="1192.1" r="1.8"/>
<circle cx="161.8" cy="1202.5" r="1.8"/>
<circle cx="183.6" cy="1219.7" r="1.8"/>
<circle cx="185.9" cy="1248.3" r="1.8"/>
<circle cx="174.4" cy="1243.6" r="1.8"/>
<circle cx="184.7" cy="1223.2" r="1.8"/>
<circle cx="163.6" cy="1165.5" r="1.8"/>
<circle cx="163.7" cy="1229.6" r="1.8"/>
<circle cx="172.2" cy="1160.3" r="1.8"/>
<circle cx="166.1" cy="1192.1" r="1.8"/>
<circle cx="166" cy="1186.9" r="1.8"/>
<circle cx="164.3" cy="1223" r="1.8"/>
<circle cx="163.1" cy="1222.7" r="1.8"/>
<circle cx="184.7" cy="1223.9" r="1.8"/>
<circle cx="170.5" cy="1238" r="1.8"/>
<circle cx="179.1" cy="1237.4" r="1.8"/>
<circle cx="184.2" cy="1215.2" r="1.8"/>
<circle cx="165.5" cy="1181.4" r="1.8"/>
<circle cx="170.5" cy="1222" r="1.8"/>
<circle cx="172.6" cy="1146.7" r="1.8"/>
<circle cx="176.8" cy="1243.9" r="1.8"/>
<circle cx="178.2" cy="1192.9" r="1.8"/>
<circle cx="165.5" cy="1130.9" r="1.8"/>
<circle cx="166.4" cy="1233.7" r="1.8"/>
<circle cx="161.4" cy="1199.4" r="1.8"/>
<circle cx="169" cy="1212.1" r="1.8"/>
<circle cx="161.3" cy="1242.9" r="1.8"/>
<circle cx="166.4" cy="1198" r="1.8"/>
<circle cx="176.2" cy="1137.3" r="1.8"/>
<circle cx="176.8" cy="1203.8" r="1.8"/>
<circle cx="167.5" cy="1188.3" r="1.8"/>
<circle cx="181.3" cy="1213.6" r="1.8"/>
<circle cx="168.6" cy="1204.4" r="1.8"/>
<circle cx="182" cy="1133" r="1.8"/>
<circle cx="180.5" cy="1212.6" r="1.8"/>
<circle cx="174.8" cy="1245.8" r="1.8"/>
<circle cx="172.9" cy="1192.4" r="1.8"/>
<circle cx="170.2" cy="1257" r="1.8"/>
<circle cx="182.3" cy="1226.8" r="1.8"/>
<circle cx="181.8" cy="1193.8" r="1.8"/>
<circle cx="164.5" cy="1200" r="1.8"/>
<circle cx="165.8" cy="1237.4" r="1.8"/>
<circle cx="174.2" cy="1141.5" r="1.8"/>
<circle cx="170.1" cy="1209.5" r="1.8"/>
<circle cx="174.3" cy="1222.6" r="1.8"/>
<circle cx="178.6" cy="1211.2" r="1.8"/>
<circle cx="184.2" cy="1237.9" r="1.8"/>
<circle cx="164.1" cy="1224.3" r="1.8"/>
<circle cx="176.3" cy="1255.6" r="1.8"/>
<circle cx="170.9" cy="1231.1" r="1.8"/>
<circle cx="178.5" cy="1200" r="1.8"/>
<circle cx="167.9" cy="1196.4" r="1.8"/>
<circle cx="167.1" cy="1178.5" r="1.8"/>
<circle cx="184.4" cy="1229.4" r="1.8"/>
<circle cx="164.3" cy="1222.5" r="1.8"/>
<circle cx="180.9" cy="1210" r="1.8"/>
<circle cx="167.3" cy="1133.6" r="1.8"/>
<circle cx="173.3" cy="1212.8" r="1.8"/>
<circle cx="183.7" cy="1203.9" r="1.8"/>
<circle cx="185.6" cy="1198.9" r="1.8"/>
<circle cx="165.6" cy="1244.8" r="1.8"/>
<circle cx="177.3" cy="1217" r="1.8"/>
<circle cx="185" cy="1175.7" r="1.8"/>
<circle cx="181.2" cy="1211.1" r="1.8"/>
<circle cx="185.3" cy="1183.4" r="1.8"/>
<circle cx="183.1" cy="1178.6" r="1.8"/>
<circle cx="174.2" cy="1258.9" r="1.8"/>
<circle cx="182.1" cy="1255.1" r="1.8"/>
<circle cx="176.4" cy="1210.2" r="1.8"/>
<circle cx="161.5" cy="1216.9" r="1.8"/>
<circle cx="174.3" cy="1215.9" r="1.8"/>
<circle cx="173" cy="1219.7" r="1.8"/>
<circle cx="175.4" cy="1191.2" r="1.8"/>
<circle cx="182.2" cy="1233.7" r="1.8"/>
<circle cx="167.8" cy="1223.4" r="1.8"/>
<circle cx="172.6" cy="1250.8" r="1.8"/>
<circle cx="162.3" cy="1239.8" r="1.8"/>
<circle cx="180.4" cy="1172" r="1.8"/>
<circle cx="175.3" cy="1238.9" r="1.8"/>
<circle cx="165.7" cy="1240" r="1.8"/>
<circle cx="174.5" cy="1222" r="1.8"/>
<circle cx="166.4" cy="1170.3" r="1.8"/>
<circle cx="162.9" cy="1179.2" r="1.8"/>
<circle cx="177" cy="1224.6" r="1.8"/>
<circle cx="177" cy="1248.1" r="1.8"/>
<circle cx="166.6" cy="1224.7" r="1.8"/>
<circle cx="166.9" cy="1254.2" r="1.8"/>
<circle cx="163.2" cy="1206.1" r="1.8"/>
<circle cx="163.1" cy="1203.4" r="1.8"/>
<circle cx="180.8" cy="1215.1" r="1.8"/>
<circle cx="183" cy="1231.2" r="1.8"/>
<circle cx="171.5" cy="1207.1" r="1.8"/>
<circle cx="185" cy="1234.2" r="1.8"/>
<circle cx="161.5" cy="1209.9" r="1.8"/>
<circle cx="179.5" cy="1205" r="1.8"/>
<circle cx="162.6" cy="1254.4" r="1.8"/>
<circle cx="162.2" cy="1253.9" r="1.8"/>
<circle cx="176.7" cy="1233.9" r="1.8"/>
<circle cx="185.3" cy="1224.7" r="1.8"/>
<circle cx="175.1" cy="1223.9" r="1.8"/>
<circle cx="164.6" cy="1188.9" r="1.8"/>
<circle cx="185.3" cy="1214.9" r="1.8"/>
<circle cx="176.4" cy="1250.3" r="1.8"/>
<circle cx="183.1" cy="1197.3" r="1.8"/>
<circle cx="184.7" cy="1257.8" r="1.8"/>
<circle cx="169.4" cy="1145.6" r="1.8"/>
<circle cx="163" cy="1201.2" r="1.8"/>
<circle cx="176.7" cy="1199.9" r="1.8"/>
<circle cx="183.9" cy="1160.4" r="1.8"/>
<circle cx="167.3" cy="1216.8" r="1.8"/>
<circle cx="181.2" cy="1210" r="1.8"/>
<circle cx="168.5" cy="1165.8" r="1.8"/>
<circle cx="184.8" cy="1214.1" r="1.8"/>
<circle cx="171.1" cy="1228.5" r="1.8"/>
<circle cx="179.5" cy="1209.7" r="1.8"/>
<circle cx="177.7" cy="1242.6" r="1.8"/>
<circle cx="179.3" cy="1197.4" r="1.8"/>
<circle cx="164" cy="1174.2" r="1.8"/>
<circle cx="173.1" cy="1193.6" r="1.8"/>
<circle cx="185.3" cy="1224.5" r="1.8"/>
<circle cx="176.2" cy="1212.7" r="1.8"/>
<circle cx="176.1" cy="1236.3" r="1.8"/>
<circle cx="183.8" cy="1183.7" r="1.8"/>
<circle cx="167.3" cy="1253.5" r="1.8"/>
<circle cx="176.1" cy="1245.8" r="1.8"/>
<circle cx="181.2" cy="1157.1" r="1.8"/>
<circle cx="181" cy="1168.3" r="1.8"/>
<circle cx="172.4" cy="1188.7" r="1.8"/>
<circle cx="183.6" cy="1209" r="1.8"/>
<circle cx="169.9" cy="1204.5" r="1.8"/>
<circle cx="165.6" cy="1167.8" r="1.8"/>
<circle cx="176.7" cy="1197.3" r="1.8"/>
<circle cx="182.9" cy="1189.1" r="1.8"/>
<circle cx="178.1" cy="1234" r="1.8"/>
<circle cx="179.4" cy="1202" r="1.8"/>
<circle cx="176" cy="1250.7" r="1.8"/>
<circle cx="162" cy="1187.2" r="1.8"/>
<circle cx="183.7" cy="1214.2" r="1.8"/>
<circle cx="168.7" cy="1185.3" r="1.8"/>
<circle cx="179.5" cy="1149.7" r="1.8"/>
<circle cx="184.7" cy="1164" r="1.8"/>
<circle cx="173.7" cy="1230.3" r="1.8"/>
<circle cx="176.4" cy="1230.2" r="1.8"/>
<circle cx="179.5" cy="1186.6" r="1.8"/>
<circle cx="182.8" cy="1151.3" r="1.8"/>
<circle cx="177" cy="1154.8" r="1.8"/>
<circle cx="182.5" cy="1217.7" r="1.8"/>
<circle cx="164.4" cy="1159.5" r="1.8"/>
<circle cx="166" cy="1198.4" r="1.8"/>
<circle cx="175" cy="1184.5" r="1.8"/>
<circle cx="173.6" cy="1228.5" r="1.8"/>
<circle cx="173.7" cy="1134.6" r="1.8"/>
<circle cx="174" cy="1155.4" r="1.8"/>
<circle cx="169.4" cy="1231" r="1.8"/>
<circle cx="165.9" cy="1140.4" r="1.8"/>
<circle cx="178.7" cy="1252.6" r="1.8"/>
<circle cx="178.6" cy="1250.7" r="1.8"/>
<circle cx="168.3" cy="1229.6" r="1.8"/>
<circle cx="166.5" cy="1236" r="1.8"/>
<circle cx="176" cy="1171.1" r="1.8"/>
<circle cx="170" cy="1227" r="1.8"/>
<circle cx="169.6" cy="1245.1" r="1.8"/>
<circle cx="165.5" cy="1196.9" r="1.8"/>
<circle cx="174" cy="1229.4" r="1.8"/>
<circle cx="163.3" cy="1178.1" r="1.8"/>
<circle cx="168.2" cy="1259.6" r="1.8"/>
<circle cx="171.1" cy="1231.3" r="1.8"/>
<circle cx="170.5" cy="1225.7" r="1.8"/>
<circle cx="177.6" cy="1247" r="1.8"/>
<circle cx="174.5" cy="1224.2" r="1.8"/>
<circle cx="174.8" cy="1230.5" r="1.8"/>
<circle cx="161.5" cy="1194.5" r="1.8"/>
<circle cx="172.2" cy="1189.5" r="1.8"/>
<circle cx="173.9" cy="1236.4" r="1.8"/>
<circle cx="179.7" cy="1251" r="1.8"/>
<circle cx="176.8" cy="1198.8" r="1.8"/>
<circle cx="177" cy="1224.8" r="1.8"/>
<circle cx="161.6" cy="1203.3" r="1.8"/>
<circle cx="167.5" cy="1243.8" r="1.8"/>
<circle cx="183.5" cy="1253" r="1.8"/>
<circle cx="178.8" cy="1201.8" r="1.8"/>
<circle cx="167" cy="1181" r="1.8"/>
<circle cx="164" cy="1170" r="1.8"/>
<circle cx="165.9" cy="1226.9" r="1.8"/>
<circle cx="185.6" cy="1203.8" r="1.8"/>
<circle cx="173.9" cy="1244.3" r="1.8"/>
<circle cx="167.1" cy="1229.5" r="1.8"/>
<circle cx="166" cy="1239.3" r="1.8"/>
<circle cx="165.9" cy="1217.5" r="1.8"/>
<circle cx="165.1" cy="1258.1" r="1.8"/>
<circle cx="178.6" cy="1252.3" r="1.8"/>
<circle cx="169.2" cy="1204.1" r="1.8"/>
<circle cx="175.4" cy="1216.9" r="1.8"/>
<circle cx="177.1" cy="1229.3" r="1.8"/>
<circle cx="185.2" cy="1247" r="1.8"/>
<circle cx="176.4" cy="1170.8" r="1.8"/>
<circle cx="169.1" cy="1233.9" r="1.8"/>
<circle cx="186" cy="1248.4" r="1.8"/>
<circle cx="167.5" cy="1253.6" r="1.8"/>
<circle cx="168.9" cy="1221.2" r="1.8"/>
<circle cx="175" cy="1174.8" r="1.8"/>
<circle cx="182" cy="1208.4" r="1.8"/>
<circle cx="185.9" cy="1209.2" r="1.8"/>
<circle cx="185.2" cy="1182.3" r="1.8"/>
<circle cx="166.4" cy="1170.5" r="1.8"/>
<circle cx="178.9" cy="1192.4" r="1.8"/>
<circle cx="175.6" cy="1202.7" r="1.8"/>
<circle cx="177.4" cy="1258.7" r="1.8"/>
<circle cx="174.9" cy="1246" r="1.8"/>
<circle cx="175.4" cy="1184.9" r="1.8"/>
<circle cx="163.3" cy="1172.1" r="1.8"/>
<circle cx="172.3" cy="1194.7" r="1.8"/>
<circle cx="172.1" cy="1209.5" r="1.8"/>
<circle cx="181.1" cy="1216.2" r="1.8"/>
<circle cx="166.6" cy="1145.9" r="1.8"/>
<circle cx="180.5" cy="1170.5" r="1.8"/>
<circle cx="178.3" cy="1213.7" r="1.8"/>
<circle cx="182.4" cy="1220.4" r="1.8"/>
<circle cx="167.5" cy="1183.8" r="1.8"/>
<circle cx="165.3" cy="1258.3" r="1.8"/>
<circle cx="180.2" cy="1243.9" r="1.8"/>
<circle cx="165.8" cy="1181.6" r="1.8"/>
<circle cx="169" cy="1208.2" r="1.8"/>
<circle cx="179.5" cy="1243.9" r="1.8"/>
<circle cx="181.4" cy="1233.7" r="1.8"/>
<circle cx="183.2" cy="1215.3" r="1.8"/>
<circle cx="185.6" cy="1251.5" r="1.8"/>
<circle cx="170.4" cy="1174.9" r="1.8"/>
<circle cx="181.4" cy="1149.3" r="1.8"/>
<circle cx="168.8" cy="1207.1" r="1.8"/>
<circle cx="164.6" cy="1189.2" r="1.8"/>
<circle cx="178.4" cy="1250.8" r="1.8"/>
<circle cx="163.7" cy="1236.8" r="1.8"/>
<circle cx="178.8" cy="1210.9" r="1.8"/>
<circle cx="164.4" cy="1179.5" r="1.8"/>
<circle cx="182.1" cy="1228.6" r="1.8"/>
<circle cx="162.3" cy="1145.1" r="1.8"/>
<circle cx="179.6" cy="1231.5" r="1.8"/>
<circle cx="164.6" cy="1215.6" r="1.8"/>
<circle cx="184.4" cy="1149.6" r="1.8"/>
<circle cx="166.2" cy="1227.2" r="1.8"/>
<circle cx="167.6" cy="1214.4" r="1.8"/>
<circle cx="173.1" cy="1205.6" r="1.8"/>
<circle cx="168.8" cy="1141.7" r="1.8"/>
<circle cx="161.6" cy="1191.3" r="1.8"/>
<circle cx="177.9" cy="1141.1" r="1.8"/>
<circle cx="163" cy="1151.2" r="1.8"/>
<circle cx="185.6" cy="1235.5" r="1.8"/>
</g>
<line x1="173.6" y1="1183.3" x2="173.6" y2="1240.9" stroke="#1a1a1a" stroke-width="1.2"/>
<circle cx="173.6" cy="1212.6" r="1.7" fill="#fff" stroke="#333" stroke-width="0.4"/>
<line x1="253.3" y1="1000.8" x2="253.3" y2="1166.5" stroke="#111" stroke-width="1.1"/>
<path d="M252.9 1164.1C252.6 1166.1 252 1172.1 251.6 1176.1C251.2 1180.1 251 1183.7 250.4 1188.1C249.8 1192.5 249.1 1197.7 248 1202.5C246.9 1207.3 245.8 1212.1 243.7 1216.9C241.5 1221.7 238.3 1226.9 235.3 1231.3C232.3 1235.7 228 1239.9 225.7 1243.3C223.3 1246.7 221.3 1249.3 221.1 1251.7C220.9 1254.1 221.9 1256.2 224.5 1257.7C227 1259.2 232.1 1260 236.5 1260.8C240.8 1261.6 247.1 1262.2 250.4 1262.5C253.7 1262.8 252.9 1262.8 256.1 1262.5C259.4 1262.2 265.7 1261.6 270.1 1260.8C274.4 1260 279.5 1259.2 282.1 1257.7C284.6 1256.2 285.6 1254.1 285.4 1251.7C285.2 1249.3 283.2 1246.7 280.9 1243.3C278.5 1239.9 274.3 1235.7 271.3 1231.3C268.3 1226.9 265 1221.7 262.9 1216.9C260.7 1212.1 259.7 1207.3 258.5 1202.5C257.4 1197.7 256.7 1192.5 256.1 1188.1C255.5 1183.7 255.4 1180.1 254.9 1176.1C254.5 1172.1 254 1166.1 253.6 1164.1C253.3 1162.1 253.2 1162.1 252.9 1164.1Z" fill="#9ccf9f" stroke="#101810" stroke-width="0.9"/>
<g fill="#d81818" stroke="#0c0c14" stroke-width="0.7">
<circle cx="245.6" cy="1185.4" r="1.8"/>
<circle cx="261.7" cy="1233.3" r="1.8"/>
<circle cx="253.1" cy="1260.2" r="1.8"/>
<circle cx="261.4" cy="1213.8" r="1.8"/>
<circle cx="244.8" cy="1259.6" r="1.8"/>
<circle cx="247.4" cy="1246.8" r="1.8"/>
<circle cx="249.2" cy="1195.1" r="1.8"/>
<circle cx="244.7" cy="1262.4" r="1.8"/>
<circle cx="245.7" cy="1256.3" r="1.8"/>
<circle cx="248" cy="1244" r="1.8"/>
<circle cx="257.8" cy="1178.4" r="1.8"/>
<circle cx="241.7" cy="1204.1" r="1.8"/>
<circle cx="262.4" cy="1225.5" r="1.8"/>
<circle cx="255.6" cy="1254.5" r="1.8"/>
<circle cx="256.2" cy="1243.5" r="1.8"/>
<circle cx="243.8" cy="1159.2" r="1.8"/>
<circle cx="264.9" cy="1232.2" r="1.8"/>
<circle cx="243.7" cy="1157.9" r="1.8"/>
<circle cx="264.5" cy="1249.8" r="1.8"/>
<circle cx="241.5" cy="1215.2" r="1.8"/>
<circle cx="242.1" cy="1261.8" r="1.8"/>
<circle cx="245.6" cy="1262.3" r="1.8"/>
<circle cx="253.7" cy="1211.8" r="1.8"/>
<circle cx="244.3" cy="1247.4" r="1.8"/>
<circle cx="264.5" cy="1261.5" r="1.8"/>
<circle cx="250.5" cy="1259.8" r="1.8"/>
<circle cx="246.4" cy="1258.5" r="1.8"/>
<circle cx="254.2" cy="1203.8" r="1.8"/>
<circle cx="246.8" cy="1216.6" r="1.8"/>
<circle cx="261.5" cy="1253.9" r="1.8"/>
<circle cx="258.2" cy="1209.6" r="1.8"/>
<circle cx="248.1" cy="1241.8" r="1.8"/>
<circle cx="257" cy="1123.6" r="1.8"/>
<circle cx="245.7" cy="1256.2" r="1.8"/>
<circle cx="245.5" cy="1247" r="1.8"/>
<circle cx="255" cy="1200" r="1.8"/>
<circle cx="251.2" cy="1253.8" r="1.8"/>
<circle cx="253.8" cy="1245.4" r="1.8"/>
<circle cx="252" cy="1232.6" r="1.8"/>
<circle cx="254.8" cy="1217.2" r="1.8"/>
<circle cx="246.3" cy="1262.3" r="1.8"/>
<circle cx="249.2" cy="1221.6" r="1.8"/>
<circle cx="251.2" cy="1259.7" r="1.8"/>
<circle cx="246.8" cy="1228.1" r="1.8"/>
<circle cx="244" cy="1208.9" r="1.8"/>
<circle cx="263.9" cy="1237.5" r="1.8"/>
<circle cx="253.8" cy="1250" r="1.8"/>
<circle cx="250.8" cy="1233.8" r="1.8"/>
<circle cx="241.8" cy="1240.9" r="1.8"/>
<circle cx="241" cy="1192.8" r="1.8"/>
<circle cx="256.2" cy="1236.9" r="1.8"/>
<circle cx="245.1" cy="1232.6" r="1.8"/>
<circle cx="254.4" cy="1226.8" r="1.8"/>
<circle cx="263.9" cy="1202.3" r="1.8"/>
<circle cx="243.9" cy="1241.2" r="1.8"/>
<circle cx="264.7" cy="1210.3" r="1.8"/>
<circle cx="247" cy="1217.4" r="1.8"/>
<circle cx="253.8" cy="1203.7" r="1.8"/>
<circle cx="245" cy="1223.8" r="1.8"/>
<circle cx="254.9" cy="1237.9" r="1.8"/>
<circle cx="242.7" cy="1254.2" r="1.8"/>
<circle cx="253.8" cy="1229.9" r="1.8"/>
<circle cx="244.9" cy="1168" r="1.8"/>
<circle cx="266.2" cy="1233" r="1.8"/>
<circle cx="254.8" cy="1215.7" r="1.8"/>
<circle cx="266.2" cy="1176.9" r="1.8"/>
<circle cx="251" cy="1136.9" r="1.8"/>
<circle cx="256.3" cy="1254.1" r="1.8"/>
<circle cx="242" cy="1227.8" r="1.8"/>
<circle cx="257.3" cy="1248.1" r="1.8"/>
<circle cx="259.4" cy="1225.7" r="1.8"/>
<circle cx="251" cy="1250.9" r="1.8"/>
<circle cx="243" cy="1210.8" r="1.8"/>
<circle cx="263.2" cy="1247.5" r="1.8"/>
<circle cx="249.8" cy="1228.5" r="1.8"/>
<circle cx="245.6" cy="1210" r="1.8"/>
<circle cx="251.2" cy="1210.3" r="1.8"/>
<circle cx="255.6" cy="1226" r="1.8"/>
<circle cx="255.5" cy="1236" r="1.8"/>
<circle cx="254.4" cy="1256.2" r="1.8"/>
<circle cx="260.2" cy="1253.8" r="1.8"/>
<circle cx="257.1" cy="1217.4" r="1.8"/>
<circle cx="240.7" cy="1247.4" r="1.8"/>
<circle cx="250.7" cy="1226.3" r="1.8"/>
<circle cx="260.3" cy="1090.6" r="1.8"/>
<circle cx="241.2" cy="1190.9" r="1.8"/>
<circle cx="262.9" cy="1262.1" r="1.8"/>
<circle cx="263.5" cy="1200.3" r="1.8"/>
<circle cx="246.5" cy="1238.9" r="1.8"/>
<circle cx="244.9" cy="1186.1" r="1.8"/>
<circle cx="249.1" cy="1255" r="1.8"/>
<circle cx="249.7" cy="1185.7" r="1.8"/>
<circle cx="263.2" cy="1239" r="1.8"/>
<circle cx="242" cy="1196.5" r="1.8"/>
<circle cx="255.7" cy="1238.9" r="1.8"/>
<circle cx="258.8" cy="1186.9" r="1.8"/>
<circle cx="259" cy="1194.6" r="1.8"/>
<circle cx="243.9" cy="1215.9" r="1.8"/>
<circle cx="262.9" cy="1253.7" r="1.8"/>
<circle cx="256.3" cy="1231.9" r="1.8"/>
<circle cx="244" cy="1247" r="1.8"/>
<circle cx="248.6" cy="1237.2" r="1.8"/>
<circle cx="240.9" cy="1210.7" r="1.8"/>
<circle cx="244.3" cy="1243.6" r="1.8"/>
<circle cx="264.3" cy="1255.7" r="1.8"/>
<circle cx="260.8" cy="1215.5" r="1.8"/>
<circle cx="259.2" cy="1186.7" r="1.8"/>
<circle cx="247.4" cy="1221.7" r="1.8"/>
<circle cx="257.4" cy="1206.3" r="1.8"/>
<circle cx="247.3" cy="1212.7" r="1.8"/>
<circle cx="242.7" cy="1262.5" r="1.8"/>
<circle cx="248.2" cy="1217" r="1.8"/>
<circle cx="248.2" cy="1247.4" r="1.8"/>
<circle cx="265.4" cy="1230.2" r="1.8"/>
<circle cx="263.2" cy="1210.3" r="1.8"/>
<circle cx="258" cy="1248" r="1.8"/>
<circle cx="244.5" cy="1241.1" r="1.8"/>
<circle cx="255.1" cy="1191.1" r="1.8"/>
<circle cx="240.8" cy="1231.4" r="1.8"/>
<circle cx="265.9" cy="1258.8" r="1.8"/>
<circle cx="250" cy="1225.1" r="1.8"/>
<circle cx="258.3" cy="1256.9" r="1.8"/>
<circle cx="263.1" cy="1238.8" r="1.8"/>
<circle cx="243.3" cy="1244.3" r="1.8"/>
<circle cx="256.4" cy="1152.4" r="1.8"/>
<circle cx="244.2" cy="1241" r="1.8"/>
<circle cx="252" cy="1219.6" r="1.8"/>
<circle cx="247.2" cy="1246" r="1.8"/>
<circle cx="243" cy="1213.5" r="1.8"/>
<circle cx="259.9" cy="1174.7" r="1.8"/>
<circle cx="244.2" cy="1233.3" r="1.8"/>
<circle cx="242.1" cy="1238" r="1.8"/>
<circle cx="246.2" cy="1257.1" r="1.8"/>
<circle cx="250.8" cy="1174.8" r="1.8"/>
<circle cx="262.5" cy="1234.8" r="1.8"/>
<circle cx="243.1" cy="1255.6" r="1.8"/>
<circle cx="253" cy="1249" r="1.8"/>
<circle cx="254.4" cy="1173.8" r="1.8"/>
<circle cx="260" cy="1212.6" r="1.8"/>
<circle cx="256.4" cy="1244.2" r="1.8"/>
<circle cx="242.9" cy="1192.2" r="1.8"/>
<circle cx="260.9" cy="1262.4" r="1.8"/>
<circle cx="265.6" cy="1207" r="1.8"/>
<circle cx="264.2" cy="1192.2" r="1.8"/>
<circle cx="244.2" cy="1210.6" r="1.8"/>
<circle cx="257.1" cy="1250.1" r="1.8"/>
<circle cx="261.2" cy="1252.1" r="1.8"/>
<circle cx="258.3" cy="1258.3" r="1.8"/>
<circle cx="250.2" cy="1244.6" r="1.8"/>
<circle cx="264.3" cy="1216.3" r="1.8"/>
<circle cx="257.6" cy="1204.3" r="1.8"/>
<circle cx="247.3" cy="1011.7" r="1.8"/>
<circle cx="259" cy="1221.9" r="1.8"/>
<circle cx="256.7" cy="1245.4" r="1.8"/>
<circle cx="263.9" cy="1213.4" r="1.8"/>
<circle cx="246.4" cy="1211.4" r="1.8"/>
<circle cx="254.4" cy="1207.1" r="1.8"/>
<circle cx="247.9" cy="1166.2" r="1.8"/>
<circle cx="241.1" cy="1197.5" r="1.8"/>
<circle cx="243.4" cy="1189.1" r="1.8"/>
<circle cx="241.5" cy="1218.7" r="1.8"/>
<circle cx="259.5" cy="1218.5" r="1.8"/>
<circle cx="241.5" cy="1250.8" r="1.8"/>
<circle cx="263.2" cy="1230.7" r="1.8"/>
<circle cx="263.3" cy="1227.5" r="1.8"/>
<circle cx="265.5" cy="1204.5" r="1.8"/>
<circle cx="257.8" cy="1217.3" r="1.8"/>
<circle cx="258.2" cy="1201" r="1.8"/>
<circle cx="258.6" cy="1021.2" r="1.8"/>
<circle cx="260.8" cy="1235.9" r="1.8"/>
<circle cx="254.8" cy="1239.7" r="1.8"/>
<circle cx="242.3" cy="1210.9" r="1.8"/>
<circle cx="261.2" cy="1225.8" r="1.8"/>
<circle cx="251.5" cy="1203.1" r="1.8"/>
<circle cx="255.7" cy="1218.4" r="1.8"/>
<circle cx="248.7" cy="1229.5" r="1.8"/>
<circle cx="259.6" cy="1205.3" r="1.8"/>
<circle cx="249.8" cy="1255.3" r="1.8"/>
<circle cx="253.6" cy="1228.4" r="1.8"/>
<circle cx="252.8" cy="1250.6" r="1.8"/>
<circle cx="259.3" cy="1245.9" r="1.8"/>
<circle cx="247" cy="1245.2" r="1.8"/>
<circle cx="253" cy="1246.5" r="1.8"/>
<circle cx="240.4" cy="1261.4" r="1.8"/>
<circle cx="252.4" cy="1233.4" r="1.8"/>
<circle cx="263.3" cy="1253.7" r="1.8"/>
<circle cx="253.9" cy="1212.3" r="1.8"/>
<circle cx="260.4" cy="1221.1" r="1.8"/>
<circle cx="262.9" cy="1261.8" r="1.8"/>
<circle cx="266" cy="1251.6" r="1.8"/>
<circle cx="263.5" cy="1210.8" r="1.8"/>
<circle cx="249.8" cy="1258.1" r="1.8"/>
<circle cx="248.5" cy="1240.6" r="1.8"/>
<circle cx="255.2" cy="1251.2" r="1.8"/>
<circle cx="264.9" cy="1253.6" r="1.8"/>
<circle cx="247.2" cy="1253.6" r="1.8"/>
<circle cx="256.3" cy="1246.8" r="1.8"/>
<circle cx="242" cy="1208.9" r="1.8"/>
<circle cx="257.1" cy="1244.9" r="1.8"/>
<circle cx="254.3" cy="1187.6" r="1.8"/>
<circle cx="245.1" cy="1213" r="1.8"/>
<circle cx="244.3" cy="1245.9" r="1.8"/>
<circle cx="246.4" cy="1192.1" r="1.8"/>
<circle cx="244" cy="1225.9" r="1.8"/>
<circle cx="251.7" cy="1256.1" r="1.8"/>
<circle cx="253.4" cy="1247.7" r="1.8"/>
<circle cx="244.8" cy="1252.4" r="1.8"/>
<circle cx="264.6" cy="1224.1" r="1.8"/>
<circle cx="257.7" cy="1212.2" r="1.8"/>
<circle cx="265.1" cy="1241.8" r="1.8"/>
<circle cx="263.6" cy="1255.3" r="1.8"/>
<circle cx="257.9" cy="1249.3" r="1.8"/>
<circle cx="252.1" cy="1202.2" r="1.8"/>
<circle cx="247.9" cy="1184.8" r="1.8"/>
<circle cx="263.6" cy="1197.9" r="1.8"/>
<circle cx="243" cy="1221" r="1.8"/>
<circle cx="248.5" cy="1194.6" r="1.8"/>
<circle cx="248.2" cy="1204.2" r="1.8"/>
<circle cx="240.9" cy="1200.2" r="1.8"/>
<circle cx="257.2" cy="1235.5" r="1.8"/>
<circle cx="249.4" cy="1240.3" r="1.8"/>
<circle cx="242" cy="1240.8" r="1.8"/>
<circle cx="257.1" cy="1217.3" r="1.8"/>
<circle cx="243.3" cy="1214.6" r="1.8"/>
<circle cx="243.3" cy="1239.3" r="1.8"/>
<circle cx="258.6" cy="1184.7" r="1.8"/>
<circle cx="266.2" cy="1208.2" r="1.8"/>
<circle cx="261.7" cy="1248.7" r="1.8"/>
<circle cx="263.3" cy="1238.1" r="1.8"/>
<circle cx="253.5" cy="1244.2" r="1.8"/>
<circle cx="241.6" cy="1222.1" r="1.8"/>
<circle cx="249.4" cy="1242.6" r="1.8"/>
<circle cx="250.4" cy="1243.4" r="1.8"/>
<circle cx="246.6" cy="1196.7" r="1.8"/>
<circle cx="246.6" cy="1237.3" r="1.8"/>
<circle cx="246.5" cy="1253.6" r="1.8"/>
<circle cx="245.5" cy="1225.3" r="1.8"/>
<circle cx="247.7" cy="1213.2" r="1.8"/>
<circle cx="243.5" cy="1244.6" r="1.8"/>
<circle cx="247.6" cy="1262.5" r="1.8"/>
<circle cx="246.7" cy="1197.5" r="1.8"/>
<circle cx="247.4" cy="1209.3" r="1.8"/>
<circle cx="245.8" cy="1260.1" r="1.8"/>
<circle cx="255.4" cy="1243.3" r="1.8"/>
<circle cx="254.3" cy="1259.1" r="1.8"/>
<circle cx="265.3" cy="1254.9" r="1.8"/>
<circle cx="245.2" cy="1187.7" r="1.8"/>
<circle cx="264.9" cy="1240.2" r="1.8"/>
<circle cx="253.6" cy="1215.1" r="1.8"/>
<circle cx="262.8" cy="1238.6" r="1.8"/>
<circle cx="256.2" cy="1260.5" r="1.8"/>
<circle cx="262.9" cy="1051.4" r="1.8"/>
<circle cx="251.2" cy="1199.4" r="1.8"/>
<circle cx="253.3" cy="1201.9" r="1.8"/>
<circle cx="251" cy="1133.6" r="1.8"/>
<circle cx="245.8" cy="1221.2" r="1.8"/>
<circle cx="246.2" cy="1093.9" r="1.8"/>
<circle cx="248" cy="1206.6" r="1.8"/>
<circle cx="252.7" cy="1189.3" r="1.8"/>
<circle cx="248.1" cy="1226.7" r="1.8"/>
<circle cx="249" cy="1252.6" r="1.8"/>
<circle cx="256.6" cy="1182.1" r="1.8"/>
<circle cx="251.9" cy="1132.5" r="1.8"/>
<circle cx="253.6" cy="1191.5" r="1.8"/>
<circle cx="255.6" cy="1248.3" r="1.8"/>
<circle cx="254.9" cy="1203.5" r="1.8"/>
<circle cx="248.4" cy="1202.3" r="1.8"/>
<circle cx="265.5" cy="1250.9" r="1.8"/>
<circle cx="259" cy="1201.4" r="1.8"/>
<circle cx="256.4" cy="1219.1" r="1.8"/>
<circle cx="243.9" cy="1259.8" r="1.8"/>
<circle cx="250.3" cy="1220.3" r="1.8"/>
<circle cx="248.1" cy="1236.2" r="1.8"/>
<circle cx="246.2" cy="1199.6" r="1.8"/>
<circle cx="261" cy="1240.4" r="1.8"/>
<circle cx="246" cy="1253" r="1.8"/>
<circle cx="261.9" cy="1232.6" r="1.8"/>
<circle cx="246.9" cy="1242.5" r="1.8"/>
<circle cx="242.3" cy="1253.2" r="1.8"/>
<circle cx="261.6" cy="1253.3" r="1.8"/>
<circle cx="261.3" cy="1249.4" r="1.8"/>
<circle cx="245.6" cy="1225.6" r="1.8"/>
<circle cx="262.3" cy="1032.5" r="1.8"/>
<circle cx="259.5" cy="1241.5" r="1.8"/>
<circle cx="262" cy="1261.3" r="1.8"/>
<circle cx="249.3" cy="1241.6" r="1.8"/>
<circle cx="245.4" cy="1245.8" r="1.8"/>
<circle cx="260.1" cy="1214" r="1.8"/>
<circle cx="258.9" cy="1233.4" r="1.8"/>
<circle cx="250.6" cy="1242.2" r="1.8"/>
<circle cx="262.3" cy="1230" r="1.8"/>
<circle cx="263.1" cy="1228.1" r="1.8"/>
<circle cx="250.1" cy="1243.9" r="1.8"/>
<circle cx="242.7" cy="1225.4" r="1.8"/>
<circle cx="249.4" cy="1241.9" r="1.8"/>
<circle cx="242" cy="1165.5" r="1.8"/>
<circle cx="262" cy="1262.5" r="1.8"/>
<circle cx="259.1" cy="1210" r="1.8"/>
<circle cx="244.6" cy="1207" r="1.8"/>
<circle cx="256" cy="1258.4" r="1.8"/>
<circle cx="248.3" cy="1234" r="1.8"/>
<circle cx="251.7" cy="1191.3" r="1.8"/>
<circle cx="254.8" cy="1205.4" r="1.8"/>
<circle cx="261.2" cy="1223.6" r="1.8"/>
<circle cx="249.9" cy="1244.7" r="1.8"/>
<circle cx="245.9" cy="1253" r="1.8"/>
<circle cx="257.6" cy="1243.7" r="1.8"/>
<circle cx="246.6" cy="1210.3" r="1.8"/>
<circle cx="254" cy="1222.9" r="1.8"/>
<circle cx="254.4" cy="1248.8" r="1.8"/>
<circle cx="258.1" cy="1245.2" r="1.8"/>
<circle cx="245.1" cy="1254" r="1.8"/>
<circle cx="243.7" cy="1192.4" r="1.8"/>
<circle cx="252.6" cy="1104.7" r="1.8"/>
<circle cx="240.7" cy="1246" r="1.8"/>
<circle cx="248.4" cy="1222.9" r="1.8"/>
<circle cx="254.4" cy="1210" r="1.8"/>
<circle cx="260" cy="1229.9" r="1.8"/>
<circle cx="247.8" cy="1218.1" r="1.8"/>
<circle cx="254.9" cy="1261" r="1.8"/>
<circle cx="246" cy="1215.9" r="1.8"/>
<circle cx="258.5" cy="1217.4" r="1.8"/>
<circle cx="264" cy="1239" r="1.8"/>
<circle cx="249" cy="1211.5" r="1.8"/>
<circle cx="245.7" cy="1256.9" r="1.8"/>
<circle cx="241.7" cy="1175.1" r="1.8"/>
<circle cx="248.3" cy="1232.5" r="1.8"/>
<circle cx="255.8" cy="1195" r="1.8"/>
<circle cx="263.4" cy="1161" r="1.8"/>
<circle cx="260.2" cy="1220.5" r="1.8"/>
<circle cx="262" cy="1224.1" r="1.8"/>
<circle cx="260.3" cy="1143.5" r="1.8"/>
<circle cx="256.9" cy="1215.1" r="1.8"/>
<circle cx="263.2" cy="1189.8" r="1.8"/>
<circle cx="248" cy="1208.2" r="1.8"/>
<circle cx="255.7" cy="1208.8" r="1.8"/>
<circle cx="242" cy="1220.8" r="1.8"/>
<circle cx="256.4" cy="1210.9" r="1.8"/>
<circle cx="241.7" cy="1219.9" r="1.8"/>
<circle cx="257.2" cy="1260.7" r="1.8"/>
<circle cx="264.6" cy="1202.4" r="1.8"/>
<circle cx="255.3" cy="1208.1" r="1.8"/>
<circle cx="243.4" cy="1207.6" r="1.8"/>
<circle cx="256.1" cy="1206.4" r="1.8"/>
<circle cx="250" cy="1216.5" r="1.8"/>
<circle cx="245.8" cy="1216.4" r="1.8"/>
<circle cx="248.6" cy="1223.4" r="1.8"/>
<circle cx="260.5" cy="1203.7" r="1.8"/>
<circle cx="262.1" cy="1221.9" r="1.8"/>
<circle cx="252.7" cy="1228.7" r="1.8"/>
<circle cx="245.3" cy="1177.2" r="1.8"/>
<circle cx="262.3" cy="1219.3" r="1.8"/>
<circle cx="263.8" cy="1192.1" r="1.8"/>
<circle cx="255.2" cy="1204.2" r="1.8"/>
<circle cx="245.7" cy="1221.6" r="1.8"/>
<circle cx="247.3" cy="1225.7" r="1.8"/>
<circle cx="248.7" cy="1214" r="1.8"/>
<circle cx="265.9" cy="1247" r="1.8"/>
<circle cx="264.1" cy="1229.8" r="1.8"/>
<circle cx="264.1" cy="1250.4" r="1.8"/>
<circle cx="247.4" cy="1221.1" r="1.8"/>
<circle cx="242.2" cy="1212.9" r="1.8"/>
<circle cx="244.4" cy="1189.2" r="1.8"/>
<circle cx="243.7" cy="1210.4" r="1.8"/>
<circle cx="256.9" cy="1194.3" r="1.8"/>
<circle cx="256.2" cy="1174.2" r="1.8"/>
<circle cx="263.1" cy="1235.8" r="1.8"/>
<circle cx="257.6" cy="1205.6" r="1.8"/>
<circle cx="254.3" cy="1222.1" r="1.8"/>
<circle cx="260.5" cy="1253.3" r="1.8"/>
<circle cx="241" cy="1209.1" r="1.8"/>
<circle cx="258.2" cy="1231.4" r="1.8"/>
<circle cx="259.6" cy="1205.2" r="1.8"/>
<circle cx="263.6" cy="1214.7" r="1.8"/>
<circle cx="265.4" cy="1221.3" r="1.8"/>
<circle cx="241.7" cy="1214.4" r="1.8"/>
<circle cx="253" cy="1261.5" r="1.8"/>
<circle cx="261.2" cy="1261" r="1.8"/>
<circle cx="249.6" cy="1261.2" r="1.8"/>
<circle cx="244.3" cy="1238" r="1.8"/>
<circle cx="259.5" cy="1229.9" r="1.8"/>
<circle cx="260.2" cy="1218.4" r="1.8"/>
<circle cx="252.3" cy="1222.9" r="1.8"/>
<circle cx="249.7" cy="1194.2" r="1.8"/>
<circle cx="264.6" cy="1223.7" r="1.8"/>
<circle cx="263.8" cy="1253.6" r="1.8"/>
<circle cx="255.9" cy="1199.6" r="1.8"/>
<circle cx="248.7" cy="1239.8" r="1.8"/>
<circle cx="253.2" cy="1207" r="1.8"/>
<circle cx="249.8" cy="1228.1" r="1.8"/>
<circle cx="240.5" cy="1206.1" r="1.8"/>
<circle cx="264" cy="1257.8" r="1.8"/>
<circle cx="258.5" cy="1211.5" r="1.8"/>
<circle cx="245.2" cy="1223.3" r="1.8"/>
<circle cx="260.8" cy="1234.3" r="1.8"/>
<circle cx="265.3" cy="1170.1" r="1.8"/>
<circle cx="261.5" cy="1103" r="1.8"/>
<circle cx="242.5" cy="1239.7" r="1.8"/>
<circle cx="255.5" cy="1249.2" r="1.8"/>
<circle cx="243.4" cy="1257.8" r="1.8"/>
<circle cx="242.6" cy="1259.8" r="1.8"/>
<circle cx="245.6" cy="1211.7" r="1.8"/>
<circle cx="254.3" cy="1239" r="1.8"/>
<circle cx="250.3" cy="1239.2" r="1.8"/>
<circle cx="254.3" cy="1231.3" r="1.8"/>
<circle cx="266.2" cy="1185.3" r="1.8"/>
<circle cx="255.3" cy="1111.3" r="1.8"/>
<circle cx="261.1" cy="1247.8" r="1.8"/>
<circle cx="265.2" cy="1201.6" r="1.8"/>
<circle cx="259.7" cy="1182.4" r="1.8"/>
<circle cx="253.8" cy="1234.3" r="1.8"/>
<circle cx="242.3" cy="1236.9" r="1.8"/>
<circle cx="245.6" cy="1255" r="1.8"/>
<circle cx="257.1" cy="1245.9" r="1.8"/>
<circle cx="251.8" cy="1232.1" r="1.8"/>
<circle cx="244.8" cy="1213.7" r="1.8"/>
<circle cx="244.1" cy="1196.7" r="1.8"/>
<circle cx="249.2" cy="1249.8" r="1.8"/>
<circle cx="246.5" cy="1254.6" r="1.8"/>
<circle cx="256.2" cy="1219.2" r="1.8"/>
<circle cx="251.7" cy="1233" r="1.8"/>
<circle cx="247.9" cy="1209.6" r="1.8"/>
<circle cx="254.7" cy="1233.6" r="1.8"/>
<circle cx="243.6" cy="1170.8" r="1.8"/>
<circle cx="263.4" cy="1198.5" r="1.8"/>
<circle cx="242" cy="1102.7" r="1.8"/>
<circle cx="251.7" cy="1229.2" r="1.8"/>
<circle cx="246.2" cy="1219.5" r="1.8"/>
<circle cx="260.6" cy="1218.3" r="1.8"/>
<circle cx="245.1" cy="1234.3" r="1.8"/>
<circle cx="251.3" cy="1235.4" r="1.8"/>
<circle cx="240.9" cy="1244.3" r="1.8"/>
<circle cx="245.8" cy="1248" r="1.8"/>
<circle cx="240.7" cy="1236.9" r="1.8"/>
<circle cx="244.7" cy="1251.4" r="1.8"/>
<circle cx="260.4" cy="1246.4" r="1.8"/>
<circle cx="255.9" cy="1201.4" r="1.8"/>
<circle cx="258.6" cy="1217.3" r="1.8"/>
<circle cx="251" cy="1223.7" r="1.8"/>
<circle cx="241.7" cy="1194.6" r="1.8"/>
<circle cx="247.1" cy="1214.6" r="1.8"/>
<circle cx="260.8" cy="1246.2" r="1.8"/>
<circle cx="246.9" cy="1208" r="1.8"/>
<circle cx="243" cy="1202.7" r="1.8"/>
<circle cx="263.1" cy="1222.5" r="1.8"/>
<circle cx="254.3" cy="1228.3" r="1.8"/>
<circle cx="261" cy="1215" r="1.8"/>
<circle cx="241.8" cy="1262.5" r="1.8"/>
<circle cx="244.9" cy="1206.9" r="1.8"/>
<circle cx="248.3" cy="1187.2" r="1.8"/>
<circle cx="252.7" cy="1253.3" r="1.8"/>
<circle cx="253.5" cy="1203.1" r="1.8"/>
<circle cx="257.3" cy="1257" r="1.8"/>
<circle cx="243.1" cy="1256.9" r="1.8"/>
<circle cx="265.5" cy="1228.4" r="1.8"/>
<circle cx="261.3" cy="1240.8" r="1.8"/>
<circle cx="251.3" cy="1240.3" r="1.8"/>
<circle cx="261.8" cy="1249.7" r="1.8"/>
<circle cx="252" cy="1215.4" r="1.8"/>
<circle cx="246.7" cy="1150.2" r="1.8"/>
<circle cx="246.9" cy="1227" r="1.8"/>
<circle cx="252.3" cy="1210.7" r="1.8"/>
<circle cx="243.2" cy="1245.5" r="1.8"/>
<circle cx="251.9" cy="1261.7" r="1.8"/>
<circle cx="251.8" cy="1180.7" r="1.8"/>
<circle cx="264.2" cy="1257.3" r="1.8"/>
<circle cx="263.8" cy="1159.5" r="1.8"/>
<circle cx="265.9" cy="1197.7" r="1.8"/>
<circle cx="245.5" cy="1238" r="1.8"/>
<circle cx="250.6" cy="1254.3" r="1.8"/>
<circle cx="250.7" cy="1145.3" r="1.8"/>
<circle cx="258.2" cy="1231.2" r="1.8"/>
<circle cx="244" cy="1259.9" r="1.8"/>
<circle cx="262.2" cy="1261.1" r="1.8"/>
<circle cx="248.6" cy="1209" r="1.8"/>
<circle cx="246.7" cy="1261.5" r="1.8"/>
<circle cx="240.8" cy="1256.9" r="1.8"/>
<circle cx="258.8" cy="1224.6" r="1.8"/>
<circle cx="245.3" cy="1220.6" r="1.8"/>
<circle cx="246.9" cy="1241.9" r="1.8"/>
<circle cx="246.6" cy="1209.8" r="1.8"/>
<circle cx="253.7" cy="1220.6" r="1.8"/>
<circle cx="259.1" cy="1253.9" r="1.8"/>
<circle cx="264.3" cy="1185.3" r="1.8"/>
<circle cx="263.6" cy="1212.8" r="1.8"/>
<circle cx="263" cy="1150" r="1.8"/>
<circle cx="250.9" cy="1212.9" r="1.8"/>
<circle cx="266.2" cy="1193.5" r="1.8"/>
<circle cx="260.4" cy="1185.2" r="1.8"/>
<circle cx="260.6" cy="1172.5" r="1.8"/>
<circle cx="242.8" cy="1252.6" r="1.8"/>
<circle cx="245.2" cy="1062.6" r="1.8"/>
<circle cx="261.2" cy="1204.9" r="1.8"/>
<circle cx="253.7" cy="1225.2" r="1.8"/>
<circle cx="259.6" cy="1233.9" r="1.8"/>
<circle cx="254.1" cy="1240.4" r="1.8"/>
<circle cx="255.7" cy="1259" r="1.8"/>
<circle cx="246.8" cy="1218.4" r="1.8"/>
<circle cx="258.3" cy="1236.9" r="1.8"/>
<circle cx="241.2" cy="1242.6" r="1.8"/>
<circle cx="251" cy="1250.1" r="1.8"/>
<circle cx="254.5" cy="1232.5" r="1.8"/>
<circle cx="240.5" cy="1215.5" r="1.8"/>
<circle cx="256.2" cy="1215.4" r="1.8"/>
<circle cx="247.4" cy="1224" r="1.8"/>
<circle cx="249" cy="1215.4" r="1.8"/>
<circle cx="263.1" cy="1202.4" r="1.8"/>
<circle cx="243.4" cy="1256.1" r="1.8"/>
<circle cx="264.8" cy="1234.2" r="1.8"/>
<circle cx="261.6" cy="1208.3" r="1.8"/>
<circle cx="256.5" cy="1198.5" r="1.8"/>
<circle cx="250.8" cy="1204.8" r="1.8"/>
<circle cx="259.1" cy="1192.1" r="1.8"/>
<circle cx="261.5" cy="1254.6" r="1.8"/>
<circle cx="251.1" cy="1214.1" r="1.8"/>
<circle cx="253.4" cy="1218.7" r="1.8"/>
<circle cx="245.8" cy="1250.5" r="1.8"/>
<circle cx="249.3" cy="1215.8" r="1.8"/>
<circle cx="247" cy="1232.6" r="1.8"/>
<circle cx="247.3" cy="1218.6" r="1.8"/>
<circle cx="246" cy="1260.3" r="1.8"/>
<circle cx="254.8" cy="1243" r="1.8"/>
<circle cx="241.2" cy="1189.9" r="1.8"/>
<circle cx="246.7" cy="1234.3" r="1.8"/>
<circle cx="244.4" cy="1216.7" r="1.8"/>
<circle cx="264.3" cy="1215" r="1.8"/>
<circle cx="263.9" cy="1233.3" r="1.8"/>
<circle cx="244.7" cy="1213.7" r="1.8"/>
<circle cx="243.2" cy="1204" r="1.8"/>
<circle cx="255.6" cy="1252.9" r="1.8"/>
<circle cx="260" cy="1223.4" r="1.8"/>
<circle cx="264.7" cy="1259.8" r="1.8"/>
<circle cx="262.5" cy="1256.5" r="1.8"/>
<circle cx="249" cy="1184.6" r="1.8"/>
<circle cx="264.1" cy="1166.9" r="1.8"/>
<circle cx="251.9" cy="1188.8" r="1.8"/>
<circle cx="243.8" cy="1239.3" r="1.8"/>
<circle cx="242.8" cy="1257.1" r="1.8"/>
<circle cx="260.5" cy="1208.7" r="1.8"/>
<circle cx="248.7" cy="1236.5" r="1.8"/>
<circle cx="252.1" cy="1189.1" r="1.8"/>
<circle cx="249.7" cy="1229" r="1.8"/>
<circle cx="262.2" cy="1177.9" r="1.8"/>
<circle cx="249" cy="1260.6" r="1.8"/>
<circle cx="261" cy="1249.6" r="1.8"/>
<circle cx="265.6" cy="1256.6" r="1.8"/>
<circle cx="259.9" cy="1254" r="1.8"/>
<circle cx="249.5" cy="1239.8" r="1.8"/>
<circle cx="258.8" cy="1173.2" r="1.8"/>
<circle cx="244.5" cy="1220.1" r="1.8"/>
<circle cx="242.1" cy="1240.3" r="1.8"/>
<circle cx="263.6" cy="1188.1" r="1.8"/>
<circle cx="253" cy="1216.6" r="1.8"/>
<circle cx="258.5" cy="1246.6" r="1.8"/>
<circle cx="245" cy="1208.3" r="1.8"/>
<circle cx="250.1" cy="1233.2" r="1.8"/>
<circle cx="247.8" cy="1247.1" r="1.8"/>
<circle cx="245.7" cy="1260" r="1.8"/>
<circle cx="256.3" cy="1220.4" r="1.8"/>
<circle cx="251.5" cy="1242.2" r="1.8"/>
<circle cx="254.1" cy="1199.7" r="1.8"/>
<circle cx="246.1" cy="1242.7" r="1.8"/>
<circle cx="252.5" cy="1234.5" r="1.8"/>
<circle cx="250.9" cy="1224.7" r="1.8"/>
<circle cx="242.5" cy="1245.9" r="1.8"/>
<circle cx="253.1" cy="1242.1" r="1.8"/>
<circle cx="265.6" cy="1261.8" r="1.8"/>
<circle cx="242.4" cy="1178.4" r="1.8"/>
<circle cx="257.2" cy="1239.1" r="1.8"/>
<circle cx="249.4" cy="1225.5" r="1.8"/>
<circle cx="243.6" cy="1208.6" r="1.8"/>
<circle cx="254.6" cy="1251.3" r="1.8"/>
<circle cx="246.2" cy="1248.7" r="1.8"/>
<circle cx="250.2" cy="1218.2" r="1.8"/>
<circle cx="249.1" cy="1027" r="1.8"/>
<circle cx="254.7" cy="1213.6" r="1.8"/>
<circle cx="266" cy="1227.1" r="1.8"/>
<circle cx="251.6" cy="1223.3" r="1.8"/>
<circle cx="258.8" cy="1254.6" r="1.8"/>
<circle cx="247.6" cy="1210.5" r="1.8"/>
<circle cx="262.1" cy="1214.9" r="1.8"/>
<circle cx="248.6" cy="1239.7" r="1.8"/>
<circle cx="263.5" cy="1260.7" r="1.8"/>
<circle cx="242" cy="1213.7" r="1.8"/>
<circle cx="264.7" cy="1213.2" r="1.8"/>
<circle cx="253.1" cy="1223.8" r="1.8"/>
<circle cx="259.2" cy="1230.7" r="1.8"/>
<circle cx="260.6" cy="1196.7" r="1.8"/>
<circle cx="258.3" cy="1198.5" r="1.8"/>
<circle cx="252.5" cy="1192.5" r="1.8"/>
<circle cx="254.1" cy="1228.1" r="1.8"/>
<circle cx="248.5" cy="1261.4" r="1.8"/>
<circle cx="246.9" cy="1227.3" r="1.8"/>
<circle cx="244.7" cy="1249.4" r="1.8"/>
<circle cx="265.6" cy="1159.1" r="1.8"/>
<circle cx="241.3" cy="1172" r="1.8"/>
<circle cx="262.6" cy="1234.5" r="1.8"/>
<circle cx="248.7" cy="1221" r="1.8"/>
<circle cx="257.4" cy="1241.6" r="1.8"/>
<circle cx="249" cy="1185.2" r="1.8"/>
<circle cx="253.9" cy="1199.3" r="1.8"/>
<circle cx="263.7" cy="1215" r="1.8"/>
<circle cx="261.9" cy="1224.9" r="1.8"/>
<circle cx="246.7" cy="1231.1" r="1.8"/>
<circle cx="243.3" cy="1199.3" r="1.8"/>
<circle cx="263.9" cy="1234" r="1.8"/>
<circle cx="254.6" cy="1213.3" r="1.8"/>
<circle cx="251.3" cy="1207.7" r="1.8"/>
<circle cx="256.8" cy="1211.8" r="1.8"/>
<circle cx="260.2" cy="1240.2" r="1.8"/>
<circle cx="244.8" cy="1238.3" r="1.8"/>
<circle cx="243.8" cy="1257.3" r="1.8"/>
<circle cx="252.6" cy="1212.6" r="1.8"/>
<circle cx="264.3" cy="1216.9" r="1.8"/>
<circle cx="251.7" cy="1204.2" r="1.8"/>
<circle cx="251" cy="1237.3" r="1.8"/>
<circle cx="251.1" cy="1249.1" r="1.8"/>
<circle cx="251.5" cy="1194.4" r="1.8"/>
<circle cx="263.7" cy="1167" r="1.8"/>
<circle cx="261.6" cy="1250.5" r="1.8"/>
<circle cx="252.5" cy="1228.7" r="1.8"/>
<circle cx="250.4" cy="1234.2" r="1.8"/>
<circle cx="244.7" cy="1194" r="1.8"/>
<circle cx="260.2" cy="1238.8" r="1.8"/>
<circle cx="252.8" cy="1198.1" r="1.8"/>
<circle cx="264.9" cy="1227" r="1.8"/>
<circle cx="260.9" cy="1252.2" r="1.8"/>
<circle cx="253.1" cy="1219.5" r="1.8"/>
<circle cx="264.3" cy="1240" r="1.8"/>
<circle cx="243.7" cy="1238.4" r="1.8"/>
<circle cx="247.4" cy="1240.1" r="1.8"/>
<circle cx="247.3" cy="1255.3" r="1.8"/>
<circle cx="245.6" cy="1188.1" r="1.8"/>
<circle cx="243.9" cy="1176.9" r="1.8"/>
<circle cx="253.8" cy="1257.6" r="1.8"/>
<circle cx="255.6" cy="1248.4" r="1.8"/>
<circle cx="252.8" cy="1212.4" r="1.8"/>
<circle cx="263.8" cy="1150.9" r="1.8"/>
<circle cx="262.9" cy="1203" r="1.8"/>
<circle cx="242.6" cy="1167.7" r="1.8"/>
<circle cx="240.5" cy="1237.9" r="1.8"/>
<circle cx="261.8" cy="1262" r="1.8"/>
<circle cx="265.7" cy="1212.2" r="1.8"/>
<circle cx="245.4" cy="1196.7" r="1.8"/>
<circle cx="260.3" cy="1180.5" r="1.8"/>
<circle cx="242" cy="1261" r="1.8"/>
<circle cx="241.2" cy="1261.3" r="1.8"/>
<circle cx="245.1" cy="1252.5" r="1.8"/>
<circle cx="258.1" cy="1245.5" r="1.8"/>
<circle cx="259.4" cy="1245.2" r="1.8"/>
<circle cx="245.7" cy="1221.9" r="1.8"/>
<circle cx="249.9" cy="1255.2" r="1.8"/>
<circle cx="249.8" cy="1244.9" r="1.8"/>
<circle cx="256.4" cy="1046.8" r="1.8"/>
<circle cx="240.5" cy="1230.3" r="1.8"/>
<circle cx="241.9" cy="1242" r="1.8"/>
<circle cx="255.5" cy="1253.5" r="1.8"/>
<circle cx="259.9" cy="1195.5" r="1.8"/>
<circle cx="265.7" cy="1260.6" r="1.8"/>
<circle cx="241.4" cy="1243.4" r="1.8"/>
<circle cx="243.7" cy="1235.7" r="1.8"/>
<circle cx="253.9" cy="1019.2" r="1.8"/>
<circle cx="244.2" cy="1262.3" r="1.8"/>
<circle cx="262.9" cy="1187.1" r="1.8"/>
<circle cx="246.7" cy="1240.2" r="1.8"/>
<circle cx="249.5" cy="1215" r="1.8"/>
<circle cx="241.3" cy="1227" r="1.8"/>
<circle cx="260.4" cy="1210.3" r="1.8"/>
<circle cx="263.6" cy="1227.1" r="1.8"/>
<circle cx="242.6" cy="1251.2" r="1.8"/>
<circle cx="254.2" cy="1253.4" r="1.8"/>
<circle cx="243.4" cy="1232.6" r="1.8"/>
<circle cx="261.1" cy="1228.5" r="1.8"/>
<circle cx="244.7" cy="1210.1" r="1.8"/>
<circle cx="264.4" cy="1218.9" r="1.8"/>
<circle cx="247.2" cy="1251.9" r="1.8"/>
<circle cx="266" cy="1257.6" r="1.8"/>
<circle cx="258" cy="1248.4" r="1.8"/>
<circle cx="251" cy="1241.4" r="1.8"/>
<circle cx="259.8" cy="1254.6" r="1.8"/>
<circle cx="260.3" cy="1240" r="1.8"/>
<circle cx="258.9" cy="1235.5" r="1.8"/>
<circle cx="263" cy="1261.2" r="1.8"/>
<circle cx="253.2" cy="1227.6" r="1.8"/>
<circle cx="253.6" cy="1225.7" r="1.8"/>
<circle cx="253.2" cy="1237.6" r="1.8"/>
<circle cx="241.1" cy="1240" r="1.8"/>
<circle cx="244.7" cy="1238.8" r="1.8"/>
<circle cx="259.2" cy="1228" r="1.8"/>
<circle cx="240.9" cy="1221.7" r="1.8"/>
<circle cx="253.1" cy="1247.6" r="1.8"/>
<circle cx="245.8" cy="1251.7" r="1.8"/>
<circle cx="249.2" cy="1258.7" r="1.8"/>
<circle cx="254.5" cy="1205.8" r="1.8"/>
<circle cx="250.3" cy="1228.4" r="1.8"/>
<circle cx="255.1" cy="1259.8" r="1.8"/>
<circle cx="256" cy="1218.6" r="1.8"/>
<circle cx="242.6" cy="1249" r="1.8"/>
<circle cx="253" cy="1227.1" r="1.8"/>
<circle cx="266.1" cy="1246.1" r="1.8"/>
<circle cx="247.6" cy="1232.9" r="1.8"/>
<circle cx="246" cy="1238.3" r="1.8"/>
<circle cx="250.1" cy="1257.3" r="1.8"/>
<circle cx="243.9" cy="1217.9" r="1.8"/>
<circle cx="261.5" cy="1233.3" r="1.8"/>
<circle cx="240.8" cy="1167.7" r="1.8"/>
<circle cx="248" cy="1231.6" r="1.8"/>
<circle cx="248.2" cy="1209.5" r="1.8"/>
<circle cx="263.5" cy="1113.2" r="1.8"/>
<circle cx="259.5" cy="1228.7" r="1.8"/>
<circle cx="242.2" cy="1210.7" r="1.8"/>
<circle cx="242" cy="1249.5" r="1.8"/>
<circle cx="243.9" cy="1253.8" r="1.8"/>
<circle cx="250.1" cy="1184.9" r="1.8"/>
<circle cx="260.9" cy="1261" r="1.8"/>
<circle cx="245.5" cy="1254.6" r="1.8"/>
<circle cx="240.6" cy="1252.2" r="1.8"/>
<circle cx="260.5" cy="1233.4" r="1.8"/>
<circle cx="246.7" cy="1204.8" r="1.8"/>
<circle cx="260.4" cy="1159" r="1.8"/>
<circle cx="242.7" cy="1160.8" r="1.8"/>
<circle cx="241.1" cy="1199.3" r="1.8"/>
<circle cx="256.1" cy="1251.8" r="1.8"/>
<circle cx="247.3" cy="1208" r="1.8"/>
<circle cx="253.1" cy="1182.2" r="1.8"/>
<circle cx="256.8" cy="1207.7" r="1.8"/>
<circle cx="257.4" cy="1213.7" r="1.8"/>
<circle cx="260.6" cy="1166.4" r="1.8"/>
<circle cx="244" cy="1251" r="1.8"/>
<circle cx="261.1" cy="1230.5" r="1.8"/>
<circle cx="242.8" cy="1246.6" r="1.8"/>
<circle cx="241.4" cy="1234.2" r="1.8"/>
<circle cx="241.8" cy="1162.2" r="1.8"/>
<circle cx="242.5" cy="1254.4" r="1.8"/>
<circle cx="253" cy="1238.4" r="1.8"/>
<circle cx="242.2" cy="1205.2" r="1.8"/>
<circle cx="255.5" cy="1197.7" r="1.8"/>
<circle cx="263.4" cy="1177.4" r="1.8"/>
<circle cx="265.1" cy="1241.9" r="1.8"/>
<circle cx="242.8" cy="1249.7" r="1.8"/>
<circle cx="249.5" cy="1258" r="1.8"/>
<circle cx="244.5" cy="1216.9" r="1.8"/>
<circle cx="263" cy="1238" r="1.8"/>
<circle cx="258.1" cy="1239.8" r="1.8"/>
<circle cx="262.9" cy="1256.4" r="1.8"/>
<circle cx="261.2" cy="1223.6" r="1.8"/>
<circle cx="240.4" cy="1193.1" r="1.8"/>
<circle cx="258.8" cy="1236.9" r="1.8"/>
<circle cx="249.6" cy="1244.1" r="1.8"/>
<circle cx="247.9" cy="1222" r="1.8"/>
<circle cx="248.5" cy="1210.1" r="1.8"/>
<circle cx="265.9" cy="1200.4" r="1.8"/>
<circle cx="242.9" cy="1259.3" r="1.8"/>
<circle cx="251.6" cy="1254" r="1.8"/>
<circle cx="242.3" cy="1213.2" r="1.8"/>
<circle cx="258.2" cy="1190.2" r="1.8"/>
<circle cx="263.6" cy="1107.7" r="1.8"/>
<circle cx="252.4" cy="1207.7" r="1.8"/>
<circle cx="244.2" cy="1246.4" r="1.8"/>
<circle cx="254" cy="1187" r="1.8"/>
<circle cx="264.6" cy="1191.4" r="1.8"/>
<circle cx="266.2" cy="1232.2" r="1.8"/>
<circle cx="265.4" cy="1248.6" r="1.8"/>
<circle cx="254.2" cy="1220" r="1.8"/>
</g>
<line x1="253.3" y1="1200.1" x2="253.3" y2="1252.9" stroke="#1a1a1a" stroke-width="1.2"/>
<circle cx="253.3" cy="1234.9" r="1.7" fill="#fff" stroke="#333" stroke-width="0.4"/>
<rect x="126.5" y="975.1" width="174.8" height="297" fill="none" stroke="#333" stroke-width="0.9"/>
<line x1="123.5" y1="1015.7" x2="126.5" y2="1015.7" stroke="#333" stroke-width="0.8"/>
<text x="121.5" y="1019.5" font-size="10.8" text-anchor="end" fill="#111">10</text>
<line x1="123.5" y1="1064.9" x2="126.5" y2="1064.9" stroke="#333" stroke-width="0.8"/>
<text x="121.5" y="1068.7" font-size="10.8" text-anchor="end" fill="#111">8</text>
<line x1="123.5" y1="1114.1" x2="126.5" y2="1114.1" stroke="#333" stroke-width="0.8"/>
<text x="121.5" y="1117.9" font-size="10.8" text-anchor="end" fill="#111">6</text>
<line x1="123.5" y1="1163.3" x2="126.5" y2="1163.3" stroke="#333" stroke-width="0.8"/>
<text x="121.5" y="1167.1" font-size="10.8" text-anchor="end" fill="#111">4</text>
<line x1="123.5" y1="1212.6" x2="126.5" y2="1212.6" stroke="#333" stroke-width="0.8"/>
<text x="121.5" y="1216.4" font-size="10.8" text-anchor="end" fill="#111">2</text>
<line x1="123.5" y1="1261.8" x2="126.5" y2="1261.8" stroke="#333" stroke-width="0.8"/>
<text x="121.5" y="1265.6" font-size="10.8" text-anchor="end" fill="#111">0</text>
<line x1="173.6" y1="1272.1" x2="173.6" y2="1275.1" stroke="#333" stroke-width="0.8"/>
<line x1="253.3" y1="1272.1" x2="253.3" y2="1275.1" stroke="#333" stroke-width="0.8"/>
<text x="168.8" y="1299" font-size="21.8" text-anchor="middle">Normal</text>
<text x="254.9" y="1299" font-size="21.4" text-anchor="middle">Tumor</text>
<text font-size="21" text-anchor="middle" transform="translate(91.9 1097.1) rotate(-90) scale(0.96 1)"><tspan font-style="italic">Hdc</tspan> expression Log<tspan font-size="12" dy="4">2</tspan><tspan dy="-4"> (TPM+1)</tspan></text>
<text x="213.2" y="990.7" font-size="14.5" text-anchor="middle"><tspan font-style="italic">P</tspan>&lt;0.001</text>
<polyline points="173.6,997.6 173.6,993.6 253.3,993.6 253.3,997.6" fill="none" stroke="#333" stroke-width="0.9"/>
<text x="516.9" y="960.5" font-size="22" text-anchor="middle" font-weight="bold">LUAD</text>
<path d="M472 1001.3C470.7 1003.6 470.1 1010.5 468.8 1015.2C467.6 1020 466 1024.8 464.5 1029.6C463.1 1034.4 461.6 1038.4 460.2 1044C458.8 1049.6 457.3 1056.8 456.1 1063.2C454.9 1069.6 453.8 1075.6 453 1082.4C452.2 1089.2 452.1 1096.9 451.3 1104.1C450.5 1111.3 449.5 1118.9 448.2 1125.7C446.9 1132.5 444.7 1138.9 443.4 1144.9C442.1 1150.9 440.7 1156.5 440.5 1161.7C440.3 1166.9 440.8 1170.9 442.2 1176.1C443.6 1181.3 446.3 1187.3 448.7 1192.9C451 1198.5 453.9 1204.1 456.4 1209.7C458.8 1215.3 461.5 1221.3 463.6 1226.5C465.6 1231.7 467.2 1236.5 468.6 1240.9C470 1245.3 470.9 1248.8 471.7 1252.9C472.5 1256.9 472.9 1263.1 473.4 1265.1C473.9 1267.2 474.3 1267.2 474.8 1265.1C475.4 1263.1 475.7 1256.9 476.5 1252.9C477.3 1248.8 478.3 1245.3 479.6 1240.9C481 1236.5 482.6 1231.7 484.7 1226.5C486.7 1221.3 489.4 1215.3 491.9 1209.7C494.4 1204.1 497.2 1198.5 499.6 1192.9C501.9 1187.3 504.7 1181.3 506 1176.1C507.4 1170.9 507.9 1166.9 507.7 1161.7C507.5 1156.5 506.1 1150.9 504.8 1144.9C503.6 1138.9 501.4 1132.5 500 1125.7C498.7 1118.9 497.7 1111.3 496.9 1104.1C496.1 1096.9 496 1089.2 495.2 1082.4C494.4 1075.6 493.3 1069.6 492.1 1063.2C490.9 1056.8 489.4 1049.6 488 1044C486.6 1038.4 485.2 1034.4 483.7 1029.6C482.3 1024.8 480.6 1020 479.4 1015.2C478.2 1010.5 477.5 1003.6 476.3 1001.3C475 999 473.2 999 472 1001.3Z" fill="#9ccf9f" stroke="#101810" stroke-width="0.9"/>
<g fill="#2b42d2" stroke="#0c0c14" stroke-width="0.7">
<circle cx="485.4" cy="1172.4" r="1.8"/>
<circle cx="477.7" cy="1179.6" r="1.8"/>
<circle cx="479.1" cy="1163.1" r="1.8"/>
<circle cx="478.4" cy="1085.3" r="1.8"/>
<circle cx="462.3" cy="1153.4" r="1.8"/>
<circle cx="474.9" cy="1120.6" r="1.8"/>
<circle cx="471.2" cy="1034.6" r="1.8"/>
<circle cx="466.9" cy="1132.8" r="1.8"/>
<circle cx="484.4" cy="1154.8" r="1.8"/>
<circle cx="463.1" cy="1138.4" r="1.8"/>
<circle cx="480" cy="1205.2" r="1.8"/>
<circle cx="462.8" cy="1134.5" r="1.8"/>
<circle cx="464.6" cy="1168" r="1.8"/>
<circle cx="471.5" cy="1188.6" r="1.8"/>
<circle cx="466.6" cy="1071.7" r="1.8"/>
<circle cx="477.9" cy="1170.3" r="1.8"/>
<circle cx="475" cy="1153.4" r="1.8"/>
<circle cx="484.4" cy="1075.6" r="1.8"/>
<circle cx="483" cy="1173.6" r="1.8"/>
<circle cx="485.6" cy="1183.7" r="1.8"/>
<circle cx="471.3" cy="1177" r="1.8"/>
<circle cx="467" cy="1147.3" r="1.8"/>
<circle cx="476.8" cy="1033.6" r="1.8"/>
<circle cx="465.6" cy="1084.8" r="1.8"/>
<circle cx="476.6" cy="1100.9" r="1.8"/>
<circle cx="466.8" cy="1066.1" r="1.8"/>
<circle cx="480.9" cy="1240.8" r="1.8"/>
<circle cx="478" cy="1168.7" r="1.8"/>
<circle cx="475.7" cy="1160.6" r="1.8"/>
<circle cx="485" cy="1119.1" r="1.8"/>
<circle cx="467.2" cy="1121.5" r="1.8"/>
<circle cx="481.7" cy="1196.2" r="1.8"/>
<circle cx="484.9" cy="1074.7" r="1.8"/>
<circle cx="464.7" cy="1132.5" r="1.8"/>
<circle cx="469.6" cy="1221.4" r="1.8"/>
<circle cx="461.8" cy="1189.8" r="1.8"/>
<circle cx="484.3" cy="1191.9" r="1.8"/>
<circle cx="464.8" cy="1015.2" r="1.8"/>
<circle cx="474.9" cy="1198" r="1.8"/>
<circle cx="467.8" cy="1072.4" r="1.8"/>
<circle cx="471.9" cy="1041.2" r="1.8"/>
<circle cx="470.3" cy="1162.2" r="1.8"/>
<circle cx="476.4" cy="1218.1" r="1.8"/>
<circle cx="476.4" cy="1146.6" r="1.8"/>
<circle cx="484.5" cy="1099.5" r="1.8"/>
<circle cx="474.3" cy="1069.3" r="1.8"/>
<circle cx="461.8" cy="1038.1" r="1.8"/>
<circle cx="463.1" cy="1211.4" r="1.8"/>
<circle cx="482.9" cy="1091.2" r="1.8"/>
<circle cx="474" cy="1028.7" r="1.8"/>
<circle cx="484" cy="1145.2" r="1.8"/>
<circle cx="464.3" cy="1237.3" r="1.8"/>
<circle cx="483.5" cy="1213.8" r="1.8"/>
<circle cx="464.1" cy="1162.6" r="1.8"/>
<circle cx="482.8" cy="1141.9" r="1.8"/>
<circle cx="478.3" cy="1062.1" r="1.8"/>
<circle cx="475.1" cy="1181.8" r="1.8"/>
<circle cx="484.9" cy="1154.8" r="1.8"/>
<circle cx="484.3" cy="1234.4" r="1.8"/>
<circle cx="469.4" cy="1121.8" r="1.8"/>
<circle cx="463.9" cy="1116.3" r="1.8"/>
<circle cx="482.1" cy="1229.7" r="1.8"/>
<circle cx="472" cy="1112.7" r="1.8"/>
<circle cx="465.2" cy="1075.8" r="1.8"/>
<circle cx="464.5" cy="1110.2" r="1.8"/>
<circle cx="463.1" cy="1099.2" r="1.8"/>
<circle cx="472" cy="1154.9" r="1.8"/>
<circle cx="478.6" cy="1222.4" r="1.8"/>
<circle cx="485.7" cy="1153.4" r="1.8"/>
<circle cx="472.1" cy="1105.2" r="1.8"/>
<circle cx="474.6" cy="1157.9" r="1.8"/>
<circle cx="461.9" cy="1053.3" r="1.8"/>
<circle cx="479.6" cy="1214.7" r="1.8"/>
<circle cx="472.1" cy="1237.8" r="1.8"/>
<circle cx="465" cy="1145.9" r="1.8"/>
<circle cx="470.9" cy="1099.2" r="1.8"/>
<circle cx="463.5" cy="1094.6" r="1.8"/>
<circle cx="485.6" cy="1074.1" r="1.8"/>
<circle cx="465.9" cy="1143.6" r="1.8"/>
<circle cx="464.5" cy="1122.8" r="1.8"/>
<circle cx="473" cy="1166.2" r="1.8"/>
<circle cx="463.6" cy="1137.8" r="1.8"/>
<circle cx="483.8" cy="1192.8" r="1.8"/>
<circle cx="482.5" cy="1113.2" r="1.8"/>
<circle cx="475.2" cy="1036.2" r="1.8"/>
<circle cx="483.5" cy="1040" r="1.8"/>
<circle cx="469.5" cy="1006" r="1.8"/>
<circle cx="484.4" cy="1076.6" r="1.8"/>
<circle cx="486.3" cy="1059.5" r="1.8"/>
<circle cx="479.2" cy="1157.9" r="1.8"/>
<circle cx="476.1" cy="1182.4" r="1.8"/>
<circle cx="465" cy="1176.4" r="1.8"/>
<circle cx="480.6" cy="1124.8" r="1.8"/>
<circle cx="467.9" cy="1138.4" r="1.8"/>
<circle cx="472.2" cy="1058.9" r="1.8"/>
<circle cx="476.4" cy="1170.5" r="1.8"/>
<circle cx="479.5" cy="1183.5" r="1.8"/>
<circle cx="475.5" cy="1127.7" r="1.8"/>
<circle cx="476.6" cy="1137.1" r="1.8"/>
<circle cx="478.4" cy="1080.9" r="1.8"/>
<circle cx="479.9" cy="1073.6" r="1.8"/>
<circle cx="479.7" cy="1105.6" r="1.8"/>
<circle cx="467.2" cy="1071" r="1.8"/>
<circle cx="478.3" cy="1221.8" r="1.8"/>
<circle cx="471.6" cy="1119.8" r="1.8"/>
<circle cx="466" cy="1159.8" r="1.8"/>
<circle cx="480.6" cy="1182.3" r="1.8"/>
<circle cx="475.6" cy="1128.9" r="1.8"/>
<circle cx="466.1" cy="1145.7" r="1.8"/>
<circle cx="464.7" cy="1042.8" r="1.8"/>
<circle cx="466.2" cy="1115.1" r="1.8"/>
<circle cx="481.6" cy="1076.6" r="1.8"/>
<circle cx="463.9" cy="1230" r="1.8"/>
<circle cx="469.8" cy="1089.4" r="1.8"/>
<circle cx="478.8" cy="1112.7" r="1.8"/>
<circle cx="481.5" cy="1140.3" r="1.8"/>
<circle cx="471.1" cy="1159.5" r="1.8"/>
<circle cx="465.6" cy="1175.5" r="1.8"/>
<circle cx="478" cy="1178.2" r="1.8"/>
<circle cx="477.1" cy="1017.6" r="1.8"/>
<circle cx="470.4" cy="1120" r="1.8"/>
<circle cx="482.4" cy="1203.7" r="1.8"/>
<circle cx="485.2" cy="1052.6" r="1.8"/>
<circle cx="482.8" cy="1017" r="1.8"/>
<circle cx="478.5" cy="1080.3" r="1.8"/>
<circle cx="478.5" cy="1049.8" r="1.8"/>
<circle cx="474.1" cy="1153.3" r="1.8"/>
<circle cx="481.2" cy="1118.9" r="1.8"/>
<circle cx="482.5" cy="1188.8" r="1.8"/>
<circle cx="474" cy="1144.2" r="1.8"/>
<circle cx="481.4" cy="1153.6" r="1.8"/>
<circle cx="467.3" cy="1097.2" r="1.8"/>
<circle cx="467.6" cy="1108.6" r="1.8"/>
<circle cx="477.5" cy="1203.4" r="1.8"/>
<circle cx="475" cy="1190.9" r="1.8"/>
<circle cx="471.4" cy="1222.1" r="1.8"/>
<circle cx="478.3" cy="1126.8" r="1.8"/>
<circle cx="465.3" cy="1224.7" r="1.8"/>
<circle cx="477.4" cy="1124.5" r="1.8"/>
<circle cx="479.5" cy="1171.6" r="1.8"/>
<circle cx="478.9" cy="1201.4" r="1.8"/>
<circle cx="468" cy="1089.9" r="1.8"/>
<circle cx="468.7" cy="1076.3" r="1.8"/>
<circle cx="471.7" cy="1112.2" r="1.8"/>
<circle cx="465.6" cy="1090" r="1.8"/>
<circle cx="474.7" cy="1027.9" r="1.8"/>
<circle cx="478.8" cy="1228" r="1.8"/>
<circle cx="486" cy="1107.2" r="1.8"/>
<circle cx="476.2" cy="1202.3" r="1.8"/>
<circle cx="473.9" cy="1162.2" r="1.8"/>
<circle cx="485.2" cy="1154.5" r="1.8"/>
<circle cx="462.4" cy="1032.9" r="1.8"/>
<circle cx="482.9" cy="1131.9" r="1.8"/>
<circle cx="482.8" cy="1190.5" r="1.8"/>
<circle cx="468.9" cy="1208.5" r="1.8"/>
<circle cx="474.3" cy="1051" r="1.8"/>
<circle cx="478.8" cy="1098.2" r="1.8"/>
<circle cx="484.3" cy="1200.7" r="1.8"/>
<circle cx="485.4" cy="1209.4" r="1.8"/>
<circle cx="478" cy="1140.2" r="1.8"/>
<circle cx="478.7" cy="1109.1" r="1.8"/>
<circle cx="478.1" cy="1168.9" r="1.8"/>
<circle cx="467.8" cy="1172.3" r="1.8"/>
<circle cx="483.5" cy="1190.4" r="1.8"/>
<circle cx="469.1" cy="1131.3" r="1.8"/>
<circle cx="466.6" cy="1165.7" r="1.8"/>
<circle cx="467.9" cy="1048.9" r="1.8"/>
<circle cx="461.7" cy="1076.1" r="1.8"/>
<circle cx="465.6" cy="1059.4" r="1.8"/>
<circle cx="474.9" cy="1146.3" r="1.8"/>
<circle cx="468.8" cy="1148.8" r="1.8"/>
<circle cx="480.3" cy="1029" r="1.8"/>
<circle cx="476.2" cy="1197.1" r="1.8"/>
<circle cx="478" cy="1010.3" r="1.8"/>
<circle cx="479.2" cy="1088.4" r="1.8"/>
<circle cx="471.7" cy="1204.1" r="1.8"/>
<circle cx="470.9" cy="1088.5" r="1.8"/>
<circle cx="478.2" cy="1228.7" r="1.8"/>
<circle cx="482.1" cy="1152.8" r="1.8"/>
<circle cx="472.4" cy="1112.2" r="1.8"/>
<circle cx="474.5" cy="1110" r="1.8"/>
<circle cx="466.6" cy="1134.2" r="1.8"/>
<circle cx="472.7" cy="1155.3" r="1.8"/>
<circle cx="480.5" cy="1148.9" r="1.8"/>
<circle cx="472.5" cy="1049.8" r="1.8"/>
<circle cx="480" cy="1165.4" r="1.8"/>
<circle cx="465.8" cy="1007.2" r="1.8"/>
<circle cx="473.2" cy="1208.7" r="1.8"/>
<circle cx="477.3" cy="1138.9" r="1.8"/>
<circle cx="465.9" cy="1221" r="1.8"/>
<circle cx="472.4" cy="1016.7" r="1.8"/>
<circle cx="486.1" cy="1159.8" r="1.8"/>
<circle cx="477" cy="1063.6" r="1.8"/>
<circle cx="468.5" cy="1214.9" r="1.8"/>
<circle cx="472.7" cy="1095.4" r="1.8"/>
<circle cx="467.7" cy="1088.3" r="1.8"/>
<circle cx="474.3" cy="1222.4" r="1.8"/>
<circle cx="471.9" cy="1195.5" r="1.8"/>
<circle cx="485.7" cy="1113.8" r="1.8"/>
<circle cx="465.1" cy="1039.6" r="1.8"/>
<circle cx="470.8" cy="1167.1" r="1.8"/>
<circle cx="483" cy="1136" r="1.8"/>
<circle cx="477.7" cy="1052" r="1.8"/>
<circle cx="466.1" cy="1070.9" r="1.8"/>
<circle cx="484.9" cy="1126.8" r="1.8"/>
<circle cx="463.7" cy="1152" r="1.8"/>
<circle cx="475.6" cy="1041.7" r="1.8"/>
<circle cx="474.2" cy="1172.8" r="1.8"/>
<circle cx="468.6" cy="1034.9" r="1.8"/>
<circle cx="464" cy="1101.7" r="1.8"/>
<circle cx="461.9" cy="1136.2" r="1.8"/>
<circle cx="463.7" cy="1073.7" r="1.8"/>
<circle cx="486.1" cy="1107.9" r="1.8"/>
<circle cx="476.3" cy="1030.1" r="1.8"/>
<circle cx="481.6" cy="1227.5" r="1.8"/>
<circle cx="486" cy="1084" r="1.8"/>
<circle cx="461.8" cy="1042.6" r="1.8"/>
<circle cx="468.8" cy="1088.4" r="1.8"/>
<circle cx="475.3" cy="1077.4" r="1.8"/>
<circle cx="482.7" cy="1159.7" r="1.8"/>
<circle cx="465.5" cy="1084" r="1.8"/>
<circle cx="462.7" cy="1048.3" r="1.8"/>
<circle cx="485.9" cy="1149.6" r="1.8"/>
<circle cx="482.5" cy="1170.7" r="1.8"/>
<circle cx="471.1" cy="1097.2" r="1.8"/>
<circle cx="469.8" cy="1147.5" r="1.8"/>
<circle cx="465.3" cy="1099.2" r="1.8"/>
<circle cx="470" cy="1124.9" r="1.8"/>
<circle cx="465.9" cy="1204.3" r="1.8"/>
<circle cx="478.7" cy="1050.4" r="1.8"/>
<circle cx="465.2" cy="1178.5" r="1.8"/>
<circle cx="473.9" cy="1120.6" r="1.8"/>
<circle cx="472.5" cy="1028" r="1.8"/>
<circle cx="473.7" cy="1167.6" r="1.8"/>
<circle cx="462.5" cy="1130.3" r="1.8"/>
<circle cx="473.7" cy="1036.5" r="1.8"/>
<circle cx="473.2" cy="1201.4" r="1.8"/>
<circle cx="468.4" cy="1207.1" r="1.8"/>
<circle cx="462.6" cy="1197.7" r="1.8"/>
<circle cx="474.7" cy="1170.5" r="1.8"/>
<circle cx="472.7" cy="1177.4" r="1.8"/>
<circle cx="482.1" cy="1161.3" r="1.8"/>
<circle cx="485.5" cy="1193" r="1.8"/>
<circle cx="470.2" cy="1137.4" r="1.8"/>
<circle cx="483.1" cy="1112.1" r="1.8"/>
<circle cx="480.2" cy="1169.6" r="1.8"/>
<circle cx="475.9" cy="1036.1" r="1.8"/>
<circle cx="484.9" cy="1211.6" r="1.8"/>
<circle cx="477.3" cy="1145.3" r="1.8"/>
<circle cx="464.1" cy="1114.1" r="1.8"/>
<circle cx="463.7" cy="1194.8" r="1.8"/>
<circle cx="472.6" cy="1128.4" r="1.8"/>
<circle cx="480.2" cy="1157.4" r="1.8"/>
<circle cx="485.6" cy="1207.2" r="1.8"/>
<circle cx="464.8" cy="1190.6" r="1.8"/>
<circle cx="479.1" cy="1201.9" r="1.8"/>
<circle cx="463.3" cy="1036.8" r="1.8"/>
<circle cx="483.3" cy="1113" r="1.8"/>
<circle cx="483.1" cy="1230.3" r="1.8"/>
<circle cx="464.3" cy="1053.1" r="1.8"/>
<circle cx="468.6" cy="1114.2" r="1.8"/>
<circle cx="464.1" cy="1079.1" r="1.8"/>
<circle cx="475.8" cy="1141.9" r="1.8"/>
<circle cx="464.8" cy="1180.9" r="1.8"/>
<circle cx="485.6" cy="1030.5" r="1.8"/>
<circle cx="486.3" cy="1208.3" r="1.8"/>
<circle cx="486.3" cy="1026" r="1.8"/>
<circle cx="469.3" cy="1139.1" r="1.8"/>
<circle cx="481.7" cy="1016.8" r="1.8"/>
<circle cx="472.8" cy="1045.8" r="1.8"/>
<circle cx="465.7" cy="1184.2" r="1.8"/>
<circle cx="474.6" cy="1224.1" r="1.8"/>
<circle cx="476.4" cy="1034.8" r="1.8"/>
<circle cx="461.8" cy="1200.5" r="1.8"/>
<circle cx="484" cy="1182.2" r="1.8"/>
<circle cx="465.7" cy="1040.6" r="1.8"/>
<circle cx="476.3" cy="1197.7" r="1.8"/>
<circle cx="464" cy="1194" r="1.8"/>
<circle cx="468.3" cy="1093.9" r="1.8"/>
<circle cx="483.2" cy="1039.6" r="1.8"/>
<circle cx="479.3" cy="1172.4" r="1.8"/>
<circle cx="469.1" cy="1132.5" r="1.8"/>
<circle cx="473.2" cy="1090.8" r="1.8"/>
<circle cx="469.4" cy="1165" r="1.8"/>
<circle cx="484.4" cy="1103" r="1.8"/>
<circle cx="477.6" cy="1079.6" r="1.8"/>
<circle cx="481.2" cy="1122" r="1.8"/>
<circle cx="466.6" cy="1207.9" r="1.8"/>
<circle cx="475.8" cy="1233.5" r="1.8"/>
<circle cx="469.4" cy="1086.5" r="1.8"/>
<circle cx="473.7" cy="1197.8" r="1.8"/>
<circle cx="470" cy="1196.7" r="1.8"/>
<circle cx="466.9" cy="1143.4" r="1.8"/>
<circle cx="470.6" cy="1051.2" r="1.8"/>
<circle cx="485.4" cy="1158.1" r="1.8"/>
<circle cx="464.1" cy="1056.5" r="1.8"/>
<circle cx="475.3" cy="1144.7" r="1.8"/>
<circle cx="469.3" cy="1177.1" r="1.8"/>
<circle cx="473.5" cy="1072.9" r="1.8"/>
<circle cx="482.8" cy="1091.4" r="1.8"/>
<circle cx="473.7" cy="1264.2" r="1.8"/>
<circle cx="481.7" cy="1192.6" r="1.8"/>
<circle cx="469.6" cy="1140.8" r="1.8"/>
<circle cx="483.7" cy="1208.9" r="1.8"/>
<circle cx="477.8" cy="1148.1" r="1.8"/>
<circle cx="473.9" cy="1187.3" r="1.8"/>
<circle cx="473.4" cy="1120.4" r="1.8"/>
<circle cx="475.7" cy="1079.6" r="1.8"/>
<circle cx="485.8" cy="1203.4" r="1.8"/>
<circle cx="477.6" cy="1090.6" r="1.8"/>
<circle cx="466.5" cy="1016.2" r="1.8"/>
<circle cx="479.8" cy="1071.6" r="1.8"/>
<circle cx="472.7" cy="1203.5" r="1.8"/>
<circle cx="479.2" cy="1093.7" r="1.8"/>
<circle cx="474" cy="1082.8" r="1.8"/>
<circle cx="467.7" cy="1100.4" r="1.8"/>
<circle cx="462.5" cy="1122.4" r="1.8"/>
<circle cx="475.8" cy="1162.6" r="1.8"/>
<circle cx="471.2" cy="1188.8" r="1.8"/>
<circle cx="472.5" cy="1041.1" r="1.8"/>
<circle cx="475.1" cy="1097.8" r="1.8"/>
<circle cx="475.4" cy="1159" r="1.8"/>
<circle cx="469.3" cy="1172.5" r="1.8"/>
<circle cx="480.8" cy="1125" r="1.8"/>
<circle cx="472.4" cy="1179.8" r="1.8"/>
<circle cx="468.8" cy="1053.6" r="1.8"/>
<circle cx="467.7" cy="1067.9" r="1.8"/>
<circle cx="470.3" cy="1211.6" r="1.8"/>
<circle cx="476.3" cy="1109" r="1.8"/>
<circle cx="463" cy="1093.9" r="1.8"/>
<circle cx="473.3" cy="1139.5" r="1.8"/>
<circle cx="481.8" cy="1151.8" r="1.8"/>
<circle cx="481.8" cy="1065.2" r="1.8"/>
<circle cx="463.3" cy="1149.6" r="1.8"/>
<circle cx="476.5" cy="1080.6" r="1.8"/>
<circle cx="474.5" cy="1094.3" r="1.8"/>
<circle cx="485.5" cy="1088.2" r="1.8"/>
<circle cx="485.2" cy="1171.3" r="1.8"/>
<circle cx="469.6" cy="1120.3" r="1.8"/>
<circle cx="464.2" cy="1132.1" r="1.8"/>
<circle cx="484.6" cy="1203.6" r="1.8"/>
<circle cx="464.9" cy="1164.4" r="1.8"/>
<circle cx="469.6" cy="1185" r="1.8"/>
<circle cx="472.1" cy="1139.7" r="1.8"/>
<circle cx="477.8" cy="1085.8" r="1.8"/>
<circle cx="478.8" cy="1123.4" r="1.8"/>
<circle cx="483.6" cy="1063.3" r="1.8"/>
<circle cx="465.5" cy="1141.3" r="1.8"/>
<circle cx="471.9" cy="1016.5" r="1.8"/>
<circle cx="462.9" cy="1186.5" r="1.8"/>
<circle cx="479.1" cy="1199.7" r="1.8"/>
<circle cx="477.7" cy="1051.9" r="1.8"/>
<circle cx="476.7" cy="1235.9" r="1.8"/>
<circle cx="472.3" cy="1159.8" r="1.8"/>
<circle cx="468" cy="1029.9" r="1.8"/>
<circle cx="482.6" cy="1118.2" r="1.8"/>
<circle cx="477.8" cy="1133.6" r="1.8"/>
<circle cx="473.8" cy="1120.3" r="1.8"/>
<circle cx="465.3" cy="1055.7" r="1.8"/>
<circle cx="471.4" cy="1036.4" r="1.8"/>
<circle cx="481.4" cy="1008.5" r="1.8"/>
<circle cx="480.6" cy="1169.5" r="1.8"/>
<circle cx="471.9" cy="1135.4" r="1.8"/>
<circle cx="476.8" cy="1088.2" r="1.8"/>
<circle cx="481" cy="1053.2" r="1.8"/>
<circle cx="486.3" cy="1208.2" r="1.8"/>
<circle cx="463.5" cy="1144.2" r="1.8"/>
<circle cx="468.2" cy="1037.7" r="1.8"/>
<circle cx="478.8" cy="1145.7" r="1.8"/>
<circle cx="482.3" cy="1059" r="1.8"/>
<circle cx="476.1" cy="1207.2" r="1.8"/>
<circle cx="463.6" cy="1185.3" r="1.8"/>
<circle cx="482.9" cy="1037.4" r="1.8"/>
<circle cx="481.1" cy="1139.9" r="1.8"/>
<circle cx="480" cy="1095.2" r="1.8"/>
<circle cx="476.6" cy="1193" r="1.8"/>
<circle cx="466.9" cy="1089.2" r="1.8"/>
<circle cx="471.4" cy="1210.6" r="1.8"/>
<circle cx="480.2" cy="1166.9" r="1.8"/>
<circle cx="472.4" cy="1127.4" r="1.8"/>
<circle cx="472.3" cy="1118.1" r="1.8"/>
<circle cx="473.2" cy="1202.8" r="1.8"/>
<circle cx="463.9" cy="1129.7" r="1.8"/>
<circle cx="474.4" cy="1079.1" r="1.8"/>
<circle cx="472.2" cy="1108.6" r="1.8"/>
<circle cx="470.6" cy="1085.6" r="1.8"/>
<circle cx="483.6" cy="1064.8" r="1.8"/>
<circle cx="468.7" cy="1070.4" r="1.8"/>
<circle cx="482.8" cy="1008.8" r="1.8"/>
<circle cx="480.4" cy="1166.3" r="1.8"/>
<circle cx="475.7" cy="1221.2" r="1.8"/>
<circle cx="466.1" cy="1044.3" r="1.8"/>
<circle cx="469" cy="1130.2" r="1.8"/>
<circle cx="478.1" cy="1137.2" r="1.8"/>
<circle cx="467.7" cy="1052.8" r="1.8"/>
<circle cx="480.7" cy="1107.8" r="1.8"/>
<circle cx="473.1" cy="1159.4" r="1.8"/>
<circle cx="474.3" cy="1093" r="1.8"/>
</g>
<line x1="474.1" y1="1078.8" x2="474.1" y2="1185.7" stroke="#1a1a1a" stroke-width="1.2"/>
<circle cx="474.1" cy="1135.7" r="1.7" fill="#fff" stroke="#333" stroke-width="0.4"/>
<line x1="557.2" y1="1085.3" x2="557.2" y2="1118.5" stroke="#111" stroke-width="1.1"/>
<path d="M556.8 1116.1C556.4 1118.1 555.9 1124.1 555.3 1128.1C554.6 1132.1 554.1 1134.9 552.9 1140.1C551.7 1145.3 549.7 1152.9 548.1 1159.3C546.5 1165.7 545.1 1172.9 543.3 1178.5C541.4 1184.1 539.3 1187.7 536.8 1192.9C534.2 1198.1 530.1 1204.5 527.9 1209.7C525.7 1214.9 524.5 1219.7 523.8 1224.1C523.2 1228.5 523.1 1232.1 524.1 1236.1C525 1240.1 527.1 1244.5 529.3 1248.1C531.6 1251.7 534.7 1254.9 537.5 1257.7C540.3 1260.5 541 1263.9 546.1 1265.1C551.3 1266.4 563.1 1266.4 568.2 1265.1C573.3 1263.9 574.1 1260.5 576.9 1257.7C579.7 1254.9 582.8 1251.7 585 1248.1C587.3 1244.5 589.4 1240.1 590.3 1236.1C591.2 1232.1 591.2 1228.5 590.5 1224.1C589.9 1219.7 588.6 1214.9 586.5 1209.7C584.3 1204.5 580.1 1198.1 577.6 1192.9C575 1187.7 573 1184.1 571.1 1178.5C569.2 1172.9 567.9 1165.7 566.3 1159.3C564.7 1152.9 562.7 1145.3 561.5 1140.1C560.3 1134.9 559.8 1132.1 559.1 1128.1C558.4 1124.1 557.9 1118.1 557.5 1116.1C557.2 1114.1 557.2 1114.1 556.8 1116.1Z" fill="#9ccf9f" stroke="#101810" stroke-width="0.9"/>
<g fill="#d81818" stroke="#0c0c14" stroke-width="0.7">
<circle cx="569.9" cy="1260" r="1.8"/>
<circle cx="565.5" cy="1199.3" r="1.8"/>
<circle cx="551.8" cy="1132.9" r="1.8"/>
<circle cx="559" cy="1223.6" r="1.8"/>
<circle cx="559" cy="1138" r="1.8"/>
<circle cx="552.8" cy="1225.5" r="1.8"/>
<circle cx="550.8" cy="1224.6" r="1.8"/>
<circle cx="563.7" cy="1231" r="1.8"/>
<circle cx="556.5" cy="1215.2" r="1.8"/>
<circle cx="569.6" cy="1165.5" r="1.8"/>
<circle cx="559.2" cy="1240.9" r="1.8"/>
<circle cx="551.9" cy="1205.6" r="1.8"/>
<circle cx="554" cy="1233.8" r="1.8"/>
<circle cx="543.9" cy="1254.6" r="1.8"/>
<circle cx="554" cy="1215.6" r="1.8"/>
<circle cx="554.8" cy="1217.2" r="1.8"/>
<circle cx="561.1" cy="1229.7" r="1.8"/>
<circle cx="566.5" cy="1163.5" r="1.8"/>
<circle cx="552.3" cy="1258.7" r="1.8"/>
<circle cx="558.2" cy="1255.4" r="1.8"/>
<circle cx="556.3" cy="1200.2" r="1.8"/>
<circle cx="552" cy="1228.2" r="1.8"/>
<circle cx="565.1" cy="1223.3" r="1.8"/>
<circle cx="567.7" cy="1207.2" r="1.8"/>
<circle cx="568.4" cy="1231.5" r="1.8"/>
<circle cx="561.1" cy="1134.8" r="1.8"/>
<circle cx="544.9" cy="1188.8" r="1.8"/>
<circle cx="553.4" cy="1240" r="1.8"/>
<circle cx="555.4" cy="1162.3" r="1.8"/>
<circle cx="545.3" cy="1220.3" r="1.8"/>
<circle cx="564.1" cy="1193.5" r="1.8"/>
<circle cx="548.7" cy="1200.6" r="1.8"/>
<circle cx="556" cy="1214.4" r="1.8"/>
<circle cx="545.1" cy="1170.6" r="1.8"/>
<circle cx="548.5" cy="1142.6" r="1.8"/>
<circle cx="555.5" cy="1216.1" r="1.8"/>
<circle cx="559.5" cy="1189.7" r="1.8"/>
<circle cx="563.1" cy="1168.4" r="1.8"/>
<circle cx="570" cy="1221.7" r="1.8"/>
<circle cx="560.9" cy="1175.8" r="1.8"/>
<circle cx="565.6" cy="1263.3" r="1.8"/>
<circle cx="548.9" cy="1224.6" r="1.8"/>
<circle cx="558.3" cy="1200.6" r="1.8"/>
<circle cx="563.3" cy="1179.5" r="1.8"/>
<circle cx="548" cy="1179.8" r="1.8"/>
<circle cx="556.6" cy="1236.9" r="1.8"/>
<circle cx="544.4" cy="1252.7" r="1.8"/>
<circle cx="555.5" cy="1226.3" r="1.8"/>
<circle cx="563.7" cy="1232.5" r="1.8"/>
<circle cx="545.3" cy="1175.1" r="1.8"/>
<circle cx="546.9" cy="1227.7" r="1.8"/>
<circle cx="548" cy="1224.7" r="1.8"/>
<circle cx="550.7" cy="1215.7" r="1.8"/>
<circle cx="565.6" cy="1251.2" r="1.8"/>
<circle cx="566" cy="1196.9" r="1.8"/>
<circle cx="565" cy="1195.3" r="1.8"/>
<circle cx="555.5" cy="1216.7" r="1.8"/>
<circle cx="546.1" cy="1215.8" r="1.8"/>
<circle cx="561.6" cy="1149.6" r="1.8"/>
<circle cx="570.5" cy="1251.9" r="1.8"/>
<circle cx="551.8" cy="1257.9" r="1.8"/>
<circle cx="568.9" cy="1240.3" r="1.8"/>
<circle cx="557.9" cy="1183.8" r="1.8"/>
<circle cx="549.1" cy="1190.1" r="1.8"/>
<circle cx="544.7" cy="1231.7" r="1.8"/>
<circle cx="559.7" cy="1259.8" r="1.8"/>
<circle cx="558.3" cy="1240.6" r="1.8"/>
<circle cx="553.9" cy="1245.2" r="1.8"/>
<circle cx="556.5" cy="1251.1" r="1.8"/>
<circle cx="543.9" cy="1222.2" r="1.8"/>
<circle cx="568" cy="1197.6" r="1.8"/>
<circle cx="566.7" cy="1254.1" r="1.8"/>
<circle cx="551.5" cy="1207" r="1.8"/>
<circle cx="556.8" cy="1247" r="1.8"/>
<circle cx="563.9" cy="1192.7" r="1.8"/>
<circle cx="554.2" cy="1248.9" r="1.8"/>
<circle cx="547.9" cy="1263.2" r="1.8"/>
<circle cx="551.9" cy="1219.1" r="1.8"/>
<circle cx="547.4" cy="1219.8" r="1.8"/>
<circle cx="560" cy="1262.2" r="1.8"/>
<circle cx="544.7" cy="1250" r="1.8"/>
<circle cx="559.5" cy="1250.4" r="1.8"/>
<circle cx="548.9" cy="1239.8" r="1.8"/>
<circle cx="570.6" cy="1227.4" r="1.8"/>
<circle cx="568.5" cy="1162.5" r="1.8"/>
<circle cx="564.1" cy="1141.8" r="1.8"/>
<circle cx="564.9" cy="1086.4" r="1.8"/>
<circle cx="556.5" cy="1166.6" r="1.8"/>
<circle cx="555.4" cy="1187.6" r="1.8"/>
<circle cx="549.6" cy="1244.5" r="1.8"/>
<circle cx="556.4" cy="1241.1" r="1.8"/>
<circle cx="567.9" cy="1188.6" r="1.8"/>
<circle cx="560.7" cy="1259.6" r="1.8"/>
<circle cx="551.8" cy="1221.3" r="1.8"/>
<circle cx="560.3" cy="1250.6" r="1.8"/>
<circle cx="559.5" cy="1241.1" r="1.8"/>
<circle cx="560.6" cy="1222.9" r="1.8"/>
<circle cx="551.7" cy="1225.4" r="1.8"/>
<circle cx="546.7" cy="1257.9" r="1.8"/>
<circle cx="554" cy="1221.4" r="1.8"/>
<circle cx="557.2" cy="1239.6" r="1.8"/>
<circle cx="556.6" cy="1260.2" r="1.8"/>
<circle cx="546.5" cy="1226.4" r="1.8"/>
<circle cx="545.4" cy="1250.3" r="1.8"/>
<circle cx="544.2" cy="1195.7" r="1.8"/>
<circle cx="545.6" cy="1201.8" r="1.8"/>
<circle cx="557" cy="1237.2" r="1.8"/>
<circle cx="557.5" cy="1233.6" r="1.8"/>
<circle cx="545" cy="1237.9" r="1.8"/>
<circle cx="558.6" cy="1209.4" r="1.8"/>
<circle cx="556.8" cy="1162.3" r="1.8"/>
<circle cx="567.2" cy="1232.6" r="1.8"/>
<circle cx="560.6" cy="1247.2" r="1.8"/>
<circle cx="568.7" cy="1231.2" r="1.8"/>
<circle cx="558" cy="1188.5" r="1.8"/>
<circle cx="545.4" cy="1254.9" r="1.8"/>
<circle cx="568.1" cy="1200.7" r="1.8"/>
<circle cx="556" cy="1236.5" r="1.8"/>
<circle cx="543.9" cy="1255.7" r="1.8"/>
<circle cx="547.6" cy="1185.2" r="1.8"/>
<circle cx="548.5" cy="1260.3" r="1.8"/>
<circle cx="559.4" cy="1197.8" r="1.8"/>
<circle cx="568.8" cy="1216.1" r="1.8"/>
<circle cx="550.8" cy="1225.9" r="1.8"/>
<circle cx="556.9" cy="1235" r="1.8"/>
<circle cx="558.6" cy="1193.6" r="1.8"/>
<circle cx="566.4" cy="1233.4" r="1.8"/>
<circle cx="563" cy="1192.8" r="1.8"/>
<circle cx="568.7" cy="1231.3" r="1.8"/>
<circle cx="550.9" cy="1202" r="1.8"/>
<circle cx="552.9" cy="1193.6" r="1.8"/>
<circle cx="565.9" cy="1226.2" r="1.8"/>
<circle cx="568.7" cy="1216.2" r="1.8"/>
<circle cx="560.6" cy="1242.5" r="1.8"/>
<circle cx="562.1" cy="1167.6" r="1.8"/>
<circle cx="567.9" cy="1253.6" r="1.8"/>
<circle cx="565.4" cy="1223.3" r="1.8"/>
<circle cx="550" cy="1236.2" r="1.8"/>
<circle cx="553.6" cy="1232.3" r="1.8"/>
<circle cx="556.1" cy="1246" r="1.8"/>
<circle cx="562" cy="1194.3" r="1.8"/>
<circle cx="550.1" cy="1137.9" r="1.8"/>
<circle cx="564.5" cy="1195.9" r="1.8"/>
<circle cx="555.9" cy="1206.5" r="1.8"/>
<circle cx="563.4" cy="1231.3" r="1.8"/>
<circle cx="554.5" cy="1259.3" r="1.8"/>
<circle cx="567.1" cy="1196.9" r="1.8"/>
<circle cx="568.9" cy="1221.3" r="1.8"/>
<circle cx="552" cy="1220.2" r="1.8"/>
<circle cx="554.7" cy="1189.7" r="1.8"/>
<circle cx="560.5" cy="1240.2" r="1.8"/>
<circle cx="547.7" cy="1152.9" r="1.8"/>
<circle cx="568.2" cy="1145.1" r="1.8"/>
<circle cx="545.5" cy="1201.9" r="1.8"/>
<circle cx="549.9" cy="1246" r="1.8"/>
<circle cx="567" cy="1209.5" r="1.8"/>
<circle cx="543.9" cy="1197" r="1.8"/>
<circle cx="544" cy="1233" r="1.8"/>
<circle cx="568" cy="1220.7" r="1.8"/>
<circle cx="562" cy="1240.6" r="1.8"/>
<circle cx="557.4" cy="1253.2" r="1.8"/>
<circle cx="556.6" cy="1199.2" r="1.8"/>
<circle cx="551.8" cy="1264" r="1.8"/>
<circle cx="544.7" cy="1174.6" r="1.8"/>
<circle cx="546" cy="1239.4" r="1.8"/>
<circle cx="553.3" cy="1248.5" r="1.8"/>
<circle cx="564.9" cy="1254.4" r="1.8"/>
<circle cx="544.7" cy="1256.5" r="1.8"/>
<circle cx="550.5" cy="1258.4" r="1.8"/>
<circle cx="562.8" cy="1166.6" r="1.8"/>
<circle cx="567.3" cy="1228.7" r="1.8"/>
<circle cx="556" cy="1237.5" r="1.8"/>
<circle cx="557" cy="1198.1" r="1.8"/>
<circle cx="549.5" cy="1252.4" r="1.8"/>
<circle cx="547" cy="1249.9" r="1.8"/>
<circle cx="559.2" cy="1243.7" r="1.8"/>
<circle cx="546.8" cy="1244.3" r="1.8"/>
<circle cx="562.2" cy="1216.6" r="1.8"/>
<circle cx="562.4" cy="1222.8" r="1.8"/>
<circle cx="569.1" cy="1250.6" r="1.8"/>
<circle cx="545.1" cy="1214.4" r="1.8"/>
<circle cx="553" cy="1171.1" r="1.8"/>
<circle cx="554.2" cy="1239.2" r="1.8"/>
<circle cx="557.7" cy="1205.2" r="1.8"/>
<circle cx="550.2" cy="1248" r="1.8"/>
<circle cx="554.2" cy="1203.4" r="1.8"/>
<circle cx="557.9" cy="1242.2" r="1.8"/>
<circle cx="570.5" cy="1241.8" r="1.8"/>
<circle cx="548" cy="1231.1" r="1.8"/>
<circle cx="557.9" cy="1246.6" r="1.8"/>
<circle cx="556.7" cy="1263.1" r="1.8"/>
<circle cx="562" cy="1233.8" r="1.8"/>
<circle cx="569.3" cy="1240.6" r="1.8"/>
<circle cx="568.6" cy="1254.8" r="1.8"/>
<circle cx="560.2" cy="1234.1" r="1.8"/>
<circle cx="563.9" cy="1198.4" r="1.8"/>
<circle cx="568.3" cy="1249.1" r="1.8"/>
<circle cx="558.9" cy="1168.7" r="1.8"/>
<circle cx="565.7" cy="1228.6" r="1.8"/>
<circle cx="568.5" cy="1226" r="1.8"/>
<circle cx="552.6" cy="1226.9" r="1.8"/>
<circle cx="557.1" cy="1248.6" r="1.8"/>
<circle cx="566.5" cy="1206.1" r="1.8"/>
<circle cx="566.6" cy="1162.2" r="1.8"/>
<circle cx="553.8" cy="1218.5" r="1.8"/>
<circle cx="563.5" cy="1142.3" r="1.8"/>
<circle cx="549.4" cy="1225.3" r="1.8"/>
<circle cx="569.8" cy="1234.2" r="1.8"/>
<circle cx="567.6" cy="1170.1" r="1.8"/>
<circle cx="564.9" cy="1185.6" r="1.8"/>
<circle cx="562" cy="1259.3" r="1.8"/>
<circle cx="562" cy="1254.5" r="1.8"/>
<circle cx="553.9" cy="1230.2" r="1.8"/>
<circle cx="563.7" cy="1211.9" r="1.8"/>
<circle cx="556.2" cy="1217" r="1.8"/>
<circle cx="560.2" cy="1249.9" r="1.8"/>
<circle cx="551.4" cy="1257.4" r="1.8"/>
<circle cx="569.5" cy="1212.8" r="1.8"/>
<circle cx="556.5" cy="1261.7" r="1.8"/>
<circle cx="555.9" cy="1216.9" r="1.8"/>
<circle cx="544.9" cy="1253.6" r="1.8"/>
<circle cx="551.6" cy="1241.6" r="1.8"/>
<circle cx="562.2" cy="1213.7" r="1.8"/>
<circle cx="569" cy="1226.7" r="1.8"/>
<circle cx="566.7" cy="1190.7" r="1.8"/>
<circle cx="548.3" cy="1201.2" r="1.8"/>
<circle cx="567.5" cy="1141.8" r="1.8"/>
<circle cx="544.6" cy="1162.6" r="1.8"/>
<circle cx="549.5" cy="1261.7" r="1.8"/>
<circle cx="557.7" cy="1259.4" r="1.8"/>
<circle cx="559.5" cy="1137.5" r="1.8"/>
<circle cx="549.4" cy="1243.5" r="1.8"/>
<circle cx="548.1" cy="1246.2" r="1.8"/>
<circle cx="553" cy="1250.2" r="1.8"/>
<circle cx="567.1" cy="1200.5" r="1.8"/>
<circle cx="568.8" cy="1160.4" r="1.8"/>
<circle cx="546.6" cy="1170" r="1.8"/>
<circle cx="558" cy="1236.5" r="1.8"/>
<circle cx="547.7" cy="1215.1" r="1.8"/>
<circle cx="554.3" cy="1175.3" r="1.8"/>
<circle cx="544" cy="1185.8" r="1.8"/>
<circle cx="557.6" cy="1231.9" r="1.8"/>
<circle cx="562.7" cy="1233.4" r="1.8"/>
<circle cx="552.7" cy="1205.8" r="1.8"/>
<circle cx="555.5" cy="1218.2" r="1.8"/>
<circle cx="570.5" cy="1189.9" r="1.8"/>
<circle cx="559.4" cy="1209.2" r="1.8"/>
<circle cx="568.2" cy="1252.6" r="1.8"/>
<circle cx="556.3" cy="1245.7" r="1.8"/>
<circle cx="559.7" cy="1262.7" r="1.8"/>
<circle cx="560.6" cy="1194.1" r="1.8"/>
<circle cx="561.2" cy="1169.7" r="1.8"/>
<circle cx="566.5" cy="1225" r="1.8"/>
<circle cx="544.3" cy="1200.2" r="1.8"/>
<circle cx="545" cy="1235.4" r="1.8"/>
<circle cx="570.4" cy="1265" r="1.8"/>
<circle cx="548.4" cy="1110.1" r="1.8"/>
<circle cx="564.3" cy="1200" r="1.8"/>
<circle cx="557" cy="1212" r="1.8"/>
<circle cx="569.1" cy="1227.2" r="1.8"/>
<circle cx="561.8" cy="1166.6" r="1.8"/>
<circle cx="561.3" cy="1191.8" r="1.8"/>
<circle cx="560.7" cy="1222.4" r="1.8"/>
<circle cx="569.6" cy="1232.2" r="1.8"/>
<circle cx="570.2" cy="1202.5" r="1.8"/>
<circle cx="546.7" cy="1220.8" r="1.8"/>
<circle cx="556.7" cy="1236.1" r="1.8"/>
<circle cx="567" cy="1217" r="1.8"/>
<circle cx="544.2" cy="1201.8" r="1.8"/>
<circle cx="545.3" cy="1244" r="1.8"/>
<circle cx="561.3" cy="1227.3" r="1.8"/>
<circle cx="551.8" cy="1155.4" r="1.8"/>
<circle cx="548.8" cy="1187.7" r="1.8"/>
<circle cx="545.3" cy="1218.2" r="1.8"/>
<circle cx="547" cy="1242.6" r="1.8"/>
<circle cx="557.3" cy="1248.3" r="1.8"/>
<circle cx="549.8" cy="1206.6" r="1.8"/>
<circle cx="566" cy="1244.8" r="1.8"/>
<circle cx="554.5" cy="1214.6" r="1.8"/>
<circle cx="547.9" cy="1245.1" r="1.8"/>
<circle cx="568.4" cy="1231.5" r="1.8"/>
<circle cx="553.8" cy="1221.5" r="1.8"/>
<circle cx="555.2" cy="1162" r="1.8"/>
<circle cx="568.5" cy="1264.8" r="1.8"/>
<circle cx="567" cy="1223.2" r="1.8"/>
<circle cx="562.1" cy="1165.9" r="1.8"/>
<circle cx="557.1" cy="1258.4" r="1.8"/>
<circle cx="545.4" cy="1245.3" r="1.8"/>
<circle cx="564.1" cy="1198.4" r="1.8"/>
<circle cx="561.6" cy="1210.4" r="1.8"/>
<circle cx="555.5" cy="1158.5" r="1.8"/>
<circle cx="558.3" cy="1244.1" r="1.8"/>
<circle cx="561.5" cy="1243" r="1.8"/>
<circle cx="548.8" cy="1259.1" r="1.8"/>
<circle cx="546.4" cy="1238.1" r="1.8"/>
<circle cx="553.2" cy="1209.7" r="1.8"/>
<circle cx="552.4" cy="1213.8" r="1.8"/>
<circle cx="558.5" cy="1161.2" r="1.8"/>
<circle cx="569.1" cy="1196.4" r="1.8"/>
<circle cx="550.7" cy="1261.5" r="1.8"/>
<circle cx="558.1" cy="1231.6" r="1.8"/>
<circle cx="566" cy="1199.1" r="1.8"/>
<circle cx="552.3" cy="1179.8" r="1.8"/>
<circle cx="545.9" cy="1248.7" r="1.8"/>
<circle cx="549.4" cy="1236.5" r="1.8"/>
<circle cx="555.8" cy="1261.5" r="1.8"/>
<circle cx="566.7" cy="1261.3" r="1.8"/>
<circle cx="555.8" cy="1231.5" r="1.8"/>
<circle cx="567" cy="1241.7" r="1.8"/>
<circle cx="554.1" cy="1234.6" r="1.8"/>
<circle cx="549.9" cy="1252.4" r="1.8"/>
<circle cx="554.5" cy="1264.2" r="1.8"/>
<circle cx="557.3" cy="1171.9" r="1.8"/>
<circle cx="566.5" cy="1230" r="1.8"/>
<circle cx="550.2" cy="1158.1" r="1.8"/>
<circle cx="566.7" cy="1221.7" r="1.8"/>
<circle cx="556.7" cy="1256.4" r="1.8"/>
<circle cx="547.9" cy="1181.7" r="1.8"/>
<circle cx="564.9" cy="1241.9" r="1.8"/>
<circle cx="548.9" cy="1255.4" r="1.8"/>
<circle cx="565.6" cy="1208.7" r="1.8"/>
<circle cx="564.8" cy="1220.4" r="1.8"/>
<circle cx="566.7" cy="1143.6" r="1.8"/>
<circle cx="549.7" cy="1164.3" r="1.8"/>
<circle cx="557" cy="1202.6" r="1.8"/>
<circle cx="561.1" cy="1244.4" r="1.8"/>
<circle cx="558.6" cy="1198.1" r="1.8"/>
<circle cx="568.1" cy="1187" r="1.8"/>
<circle cx="557.6" cy="1174.3" r="1.8"/>
<circle cx="552.2" cy="1233.7" r="1.8"/>
<circle cx="566.2" cy="1252.5" r="1.8"/>
<circle cx="545.3" cy="1255.1" r="1.8"/>
<circle cx="557.8" cy="1261.3" r="1.8"/>
<circle cx="551.5" cy="1234.7" r="1.8"/>
<circle cx="564.9" cy="1189.9" r="1.8"/>
<circle cx="568.5" cy="1205.7" r="1.8"/>
<circle cx="559.2" cy="1224.5" r="1.8"/>
<circle cx="562.2" cy="1232.2" r="1.8"/>
<circle cx="558.3" cy="1251.6" r="1.8"/>
<circle cx="566.3" cy="1230.7" r="1.8"/>
<circle cx="551.5" cy="1203.4" r="1.8"/>
<circle cx="552.8" cy="1159.7" r="1.8"/>
<circle cx="557.3" cy="1255.1" r="1.8"/>
<circle cx="553.3" cy="1158.6" r="1.8"/>
<circle cx="559.6" cy="1195.9" r="1.8"/>
<circle cx="556.6" cy="1258.9" r="1.8"/>
<circle cx="569.3" cy="1256.3" r="1.8"/>
<circle cx="562.8" cy="1239.6" r="1.8"/>
<circle cx="545.6" cy="1260.8" r="1.8"/>
<circle cx="562.3" cy="1213.1" r="1.8"/>
<circle cx="565.8" cy="1216.1" r="1.8"/>
<circle cx="568.2" cy="1235.8" r="1.8"/>
<circle cx="560.4" cy="1177.4" r="1.8"/>
<circle cx="551.4" cy="1180.9" r="1.8"/>
<circle cx="560.8" cy="1234.6" r="1.8"/>
<circle cx="548.7" cy="1220.6" r="1.8"/>
<circle cx="561" cy="1200.6" r="1.8"/>
<circle cx="559.8" cy="1244.4" r="1.8"/>
<circle cx="551.1" cy="1242.9" r="1.8"/>
<circle cx="568.1" cy="1157.1" r="1.8"/>
<circle cx="561.9" cy="1146.8" r="1.8"/>
<circle cx="560.3" cy="1179" r="1.8"/>
<circle cx="544" cy="1211.7" r="1.8"/>
<circle cx="562" cy="1200.5" r="1.8"/>
<circle cx="546.3" cy="1229.9" r="1.8"/>
<circle cx="547.8" cy="1161" r="1.8"/>
<circle cx="557.3" cy="1246.7" r="1.8"/>
<circle cx="562.2" cy="1262.2" r="1.8"/>
<circle cx="566.3" cy="1208.4" r="1.8"/>
<circle cx="547.4" cy="1202.4" r="1.8"/>
<circle cx="550.2" cy="1189.1" r="1.8"/>
<circle cx="551.4" cy="1193.1" r="1.8"/>
<circle cx="557" cy="1222.9" r="1.8"/>
<circle cx="549" cy="1224.6" r="1.8"/>
<circle cx="548.6" cy="1233.7" r="1.8"/>
<circle cx="565.4" cy="1239.7" r="1.8"/>
<circle cx="567" cy="1255.4" r="1.8"/>
<circle cx="550" cy="1224.2" r="1.8"/>
<circle cx="551.9" cy="1240.8" r="1.8"/>
<circle cx="559.5" cy="1252.9" r="1.8"/>
<circle cx="553.8" cy="1240.3" r="1.8"/>
<circle cx="543.9" cy="1228.5" r="1.8"/>
<circle cx="554" cy="1188" r="1.8"/>
<circle cx="556.2" cy="1208.8" r="1.8"/>
<circle cx="550.7" cy="1234.2" r="1.8"/>
<circle cx="563.9" cy="1189.6" r="1.8"/>
<circle cx="545.2" cy="1165.6" r="1.8"/>
<circle cx="547.7" cy="1262.9" r="1.8"/>
<circle cx="548.6" cy="1259.5" r="1.8"/>
<circle cx="548.6" cy="1173.5" r="1.8"/>
<circle cx="545.9" cy="1229.8" r="1.8"/>
<circle cx="547.9" cy="1257.3" r="1.8"/>
<circle cx="570.4" cy="1219.1" r="1.8"/>
<circle cx="547.4" cy="1201.5" r="1.8"/>
<circle cx="544.1" cy="1261.4" r="1.8"/>
<circle cx="551.4" cy="1252.2" r="1.8"/>
<circle cx="555.6" cy="1250.3" r="1.8"/>
<circle cx="549.6" cy="1261.6" r="1.8"/>
<circle cx="552.3" cy="1238.1" r="1.8"/>
<circle cx="556" cy="1204.9" r="1.8"/>
<circle cx="565.1" cy="1230.2" r="1.8"/>
<circle cx="557.6" cy="1257.8" r="1.8"/>
<circle cx="567.2" cy="1234.3" r="1.8"/>
<circle cx="570.3" cy="1233.1" r="1.8"/>
<circle cx="559.2" cy="1233.6" r="1.8"/>
<circle cx="551" cy="1223.1" r="1.8"/>
<circle cx="560.2" cy="1187.5" r="1.8"/>
<circle cx="547.8" cy="1198.6" r="1.8"/>
<circle cx="562.3" cy="1263.3" r="1.8"/>
<circle cx="555.3" cy="1257.8" r="1.8"/>
<circle cx="556.3" cy="1198.9" r="1.8"/>
<circle cx="556.8" cy="1182.6" r="1.8"/>
<circle cx="554.3" cy="1168.7" r="1.8"/>
<circle cx="569" cy="1225.2" r="1.8"/>
<circle cx="555.1" cy="1251.2" r="1.8"/>
<circle cx="544.5" cy="1241.6" r="1.8"/>
<circle cx="554.5" cy="1258.4" r="1.8"/>
<circle cx="549.7" cy="1249.8" r="1.8"/>
<circle cx="566.7" cy="1240.1" r="1.8"/>
<circle cx="550.8" cy="1217.2" r="1.8"/>
<circle cx="557.3" cy="1247.3" r="1.8"/>
<circle cx="565.1" cy="1263.6" r="1.8"/>
<circle cx="550.1" cy="1254.8" r="1.8"/>
<circle cx="566.1" cy="1251.7" r="1.8"/>
<circle cx="546.9" cy="1242.6" r="1.8"/>
<circle cx="561.4" cy="1202.2" r="1.8"/>
<circle cx="554.6" cy="1242.7" r="1.8"/>
<circle cx="553.3" cy="1201.8" r="1.8"/>
<circle cx="551.9" cy="1247.6" r="1.8"/>
<circle cx="553.6" cy="1219.2" r="1.8"/>
<circle cx="552.2" cy="1112.7" r="1.8"/>
<circle cx="556" cy="1249.8" r="1.8"/>
<circle cx="560.6" cy="1233.3" r="1.8"/>
<circle cx="548.3" cy="1238" r="1.8"/>
<circle cx="564.9" cy="1187.1" r="1.8"/>
<circle cx="563.8" cy="1253.8" r="1.8"/>
<circle cx="545.1" cy="1235.2" r="1.8"/>
<circle cx="552.2" cy="1238.4" r="1.8"/>
<circle cx="547.6" cy="1258.7" r="1.8"/>
<circle cx="550.6" cy="1256.2" r="1.8"/>
<circle cx="570.4" cy="1264.1" r="1.8"/>
<circle cx="548.4" cy="1209.7" r="1.8"/>
<circle cx="547.4" cy="1240.1" r="1.8"/>
<circle cx="565.1" cy="1130.6" r="1.8"/>
<circle cx="570.4" cy="1240.4" r="1.8"/>
<circle cx="558.7" cy="1228.5" r="1.8"/>
<circle cx="561.1" cy="1251.1" r="1.8"/>
<circle cx="546" cy="1256.1" r="1.8"/>
<circle cx="569.3" cy="1234" r="1.8"/>
<circle cx="551.2" cy="1251.8" r="1.8"/>
<circle cx="556.9" cy="1224.7" r="1.8"/>
<circle cx="546" cy="1193.4" r="1.8"/>
<circle cx="567.6" cy="1137.6" r="1.8"/>
<circle cx="566.7" cy="1166.9" r="1.8"/>
<circle cx="560.3" cy="1246.2" r="1.8"/>
<circle cx="544.5" cy="1249.4" r="1.8"/>
<circle cx="551.6" cy="1148.6" r="1.8"/>
<circle cx="553.7" cy="1205.2" r="1.8"/>
<circle cx="555.8" cy="1231.9" r="1.8"/>
<circle cx="547.2" cy="1260.5" r="1.8"/>
<circle cx="549.6" cy="1240.6" r="1.8"/>
<circle cx="550.8" cy="1184.1" r="1.8"/>
<circle cx="556.4" cy="1263.8" r="1.8"/>
<circle cx="560.8" cy="1202" r="1.8"/>
<circle cx="552.4" cy="1219" r="1.8"/>
<circle cx="555.7" cy="1161.5" r="1.8"/>
<circle cx="566.4" cy="1232.5" r="1.8"/>
<circle cx="568.6" cy="1218" r="1.8"/>
<circle cx="553.3" cy="1159.4" r="1.8"/>
<circle cx="562.6" cy="1216.4" r="1.8"/>
<circle cx="549.6" cy="1196.6" r="1.8"/>
<circle cx="564.6" cy="1250.4" r="1.8"/>
<circle cx="568.4" cy="1220.4" r="1.8"/>
<circle cx="558.9" cy="1230.2" r="1.8"/>
<circle cx="566.9" cy="1172.9" r="1.8"/>
<circle cx="569.1" cy="1200.6" r="1.8"/>
<circle cx="548.6" cy="1255.7" r="1.8"/>
<circle cx="569.1" cy="1241.2" r="1.8"/>
<circle cx="565.3" cy="1198.4" r="1.8"/>
<circle cx="553.3" cy="1248" r="1.8"/>
<circle cx="557.1" cy="1187.8" r="1.8"/>
<circle cx="565.7" cy="1154.6" r="1.8"/>
<circle cx="559.8" cy="1190" r="1.8"/>
<circle cx="554.4" cy="1257.9" r="1.8"/>
<circle cx="550.8" cy="1197.8" r="1.8"/>
<circle cx="551" cy="1193.7" r="1.8"/>
<circle cx="565.8" cy="1232.6" r="1.8"/>
<circle cx="543.9" cy="1191.4" r="1.8"/>
<circle cx="544" cy="1241.8" r="1.8"/>
<circle cx="560.4" cy="1210.9" r="1.8"/>
<circle cx="553.1" cy="1263.5" r="1.8"/>
<circle cx="563.9" cy="1228.4" r="1.8"/>
<circle cx="554.4" cy="1157.9" r="1.8"/>
<circle cx="564.3" cy="1187.8" r="1.8"/>
<circle cx="551.3" cy="1207.5" r="1.8"/>
<circle cx="556.1" cy="1212.9" r="1.8"/>
<circle cx="560.5" cy="1194.1" r="1.8"/>
<circle cx="551.4" cy="1214.5" r="1.8"/>
<circle cx="567.3" cy="1256.8" r="1.8"/>
<circle cx="545.6" cy="1140" r="1.8"/>
<circle cx="560.1" cy="1175.4" r="1.8"/>
<circle cx="556.3" cy="1212.3" r="1.8"/>
<circle cx="556.6" cy="1197.2" r="1.8"/>
<circle cx="561.3" cy="1201" r="1.8"/>
<circle cx="549.2" cy="1109.5" r="1.8"/>
<circle cx="562.1" cy="1207.2" r="1.8"/>
<circle cx="550.3" cy="1227.3" r="1.8"/>
<circle cx="556.7" cy="1161.1" r="1.8"/>
<circle cx="568" cy="1209.8" r="1.8"/>
<circle cx="560" cy="1265.1" r="1.8"/>
<circle cx="562.4" cy="1144.5" r="1.8"/>
<circle cx="549.9" cy="1166.2" r="1.8"/>
<circle cx="557.8" cy="1143.1" r="1.8"/>
<circle cx="556.5" cy="1182.1" r="1.8"/>
</g>
<line x1="557.2" y1="1185.7" x2="557.2" y2="1243.3" stroke="#1a1a1a" stroke-width="1.2"/>
<circle cx="557.2" cy="1217.4" r="1.7" fill="#fff" stroke="#333" stroke-width="0.4"/>
<rect x="424.9" y="974.4" width="181.5" height="298.9" fill="none" stroke="#333" stroke-width="0.9"/>
<line x1="421.9" y1="983.5" x2="424.9" y2="983.5" stroke="#333" stroke-width="0.8"/>
<text x="419.9" y="987.3" font-size="10.8" text-anchor="end" fill="#111">8</text>
<line x1="421.9" y1="1053.9" x2="424.9" y2="1053.9" stroke="#333" stroke-width="0.8"/>
<text x="419.9" y="1057.7" font-size="10.8" text-anchor="end" fill="#111">6</text>
<line x1="421.9" y1="1124.5" x2="424.9" y2="1124.5" stroke="#333" stroke-width="0.8"/>
<text x="419.9" y="1128.3" font-size="10.8" text-anchor="end" fill="#111">4</text>
<line x1="421.9" y1="1194.8" x2="424.9" y2="1194.8" stroke="#333" stroke-width="0.8"/>
<text x="419.9" y="1198.6" font-size="10.8" text-anchor="end" fill="#111">2</text>
<line x1="421.9" y1="1265.1" x2="424.9" y2="1265.1" stroke="#333" stroke-width="0.8"/>
<text x="419.9" y="1268.9" font-size="10.8" text-anchor="end" fill="#111">0</text>
<line x1="474.1" y1="1273.3" x2="474.1" y2="1276.3" stroke="#333" stroke-width="0.8"/>
<line x1="557.2" y1="1273.3" x2="557.2" y2="1276.3" stroke="#333" stroke-width="0.8"/>
<text x="470" y="1299" font-size="21.8" text-anchor="middle">Normal</text>
<text x="562.9" y="1299" font-size="21.4" text-anchor="middle">Tumor</text>
<text font-size="21" text-anchor="middle" transform="translate(393.9 1091.1) rotate(-90) scale(0.96 1)"><tspan font-style="italic">Hdc</tspan> expression Log<tspan font-size="12" dy="4">2</tspan><tspan dy="-4"> (TPM+1)</tspan></text>
<text x="521.7" y="990.7" font-size="14.5" text-anchor="middle"><tspan font-style="italic">P</tspan>&lt;0.001</text>
<polyline points="474.1,997.6 474.1,993.6 557.2,993.6 557.2,997.6" fill="none" stroke="#333" stroke-width="0.9"/>
</g>
<!-- panel i -->
<g>
<text x="767.6" y="951.5" font-size="48" font-weight="bold">i</text>
<text x="982.9" y="956.7" font-size="22.4" text-anchor="middle" font-weight="bold">BRCA</text>
<path d="M866.9 1216.7 L1125.3 1176.4 L1125.3 1192.7 L866.9 1223.4 Z" fill="#d8d8d8" opacity="0.6"/>
<g fill="#3055d0" stroke="#0a1234" stroke-width="0.95">
<circle cx="958.4" cy="1166.4" r="3.1"/>
<circle cx="923.2" cy="1225" r="3.1"/>
<circle cx="982.1" cy="1164.4" r="3.1"/>
<circle cx="1011.7" cy="1226.2" r="3.1"/>
<circle cx="998.5" cy="1216.6" r="3.1"/>
<circle cx="1005.1" cy="1232.2" r="3.1"/>
<circle cx="967.4" cy="1236.3" r="3.1"/>
<circle cx="866.4" cy="1236.6" r="3.1"/>
<circle cx="1062.6" cy="1236.5" r="3.1"/>
<circle cx="967.2" cy="1202" r="3.1"/>
<circle cx="912.2" cy="1210.7" r="3.1"/>
<circle cx="998.1" cy="1236.9" r="3.1"/>
<circle cx="951.3" cy="1213.6" r="3.1"/>
<circle cx="908.2" cy="1233" r="3.1"/>
<circle cx="1000.6" cy="1223.8" r="3.1"/>
<circle cx="948.7" cy="1229.2" r="3.1"/>
<circle cx="915.9" cy="1231" r="3.1"/>
<circle cx="1012.4" cy="1221.4" r="3.1"/>
<circle cx="900.3" cy="1226.4" r="3.1"/>
<circle cx="1008" cy="1233.8" r="3.1"/>
<circle cx="927.4" cy="1046.2" r="3.1"/>
<circle cx="949.4" cy="1232.9" r="3.1"/>
<circle cx="996.7" cy="1223" r="3.1"/>
<circle cx="943.8" cy="1234" r="3.1"/>
<circle cx="956.8" cy="1189" r="3.1"/>
<circle cx="954.1" cy="1232.9" r="3.1"/>
<circle cx="896" cy="1234.9" r="3.1"/>
<circle cx="958.8" cy="1233.4" r="3.1"/>
<circle cx="934.6" cy="1218.7" r="3.1"/>
<circle cx="951.6" cy="1185.5" r="3.1"/>
<circle cx="929.5" cy="1199.1" r="3.1"/>
<circle cx="930.5" cy="1218.1" r="3.1"/>
<circle cx="1018.9" cy="1217.3" r="3.1"/>
<circle cx="966.8" cy="1236.8" r="3.1"/>
<circle cx="937.2" cy="1221.3" r="3.1"/>
<circle cx="983.2" cy="1199.4" r="3.1"/>
<circle cx="984.9" cy="1232.3" r="3.1"/>
<circle cx="910.9" cy="1237" r="3.1"/>
<circle cx="978.3" cy="1235.2" r="3.1"/>
<circle cx="921.4" cy="1216.8" r="3.1"/>
<circle cx="896.3" cy="1224.2" r="3.1"/>
<circle cx="999.6" cy="1216.5" r="3.1"/>
<circle cx="962.1" cy="1228.5" r="3.1"/>
<circle cx="1006.4" cy="1230.1" r="3.1"/>
<circle cx="990.7" cy="1235.2" r="3.1"/>
<circle cx="949.3" cy="1171.4" r="3.1"/>
<circle cx="917.4" cy="1222.1" r="3.1"/>
<circle cx="990.6" cy="1209.9" r="3.1"/>
<circle cx="934.1" cy="1219.7" r="3.1"/>
<circle cx="961.8" cy="1207.8" r="3.1"/>
<circle cx="1011.4" cy="1174" r="3.1"/>
<circle cx="893.3" cy="1015.5" r="3.1"/>
<circle cx="1009.3" cy="1195.2" r="3.1"/>
<circle cx="930.6" cy="1227.8" r="3.1"/>
<circle cx="892.5" cy="1233" r="3.1"/>
<circle cx="914" cy="1219.6" r="3.1"/>
<circle cx="1003.2" cy="1210.5" r="3.1"/>
<circle cx="997.5" cy="1220.7" r="3.1"/>
<circle cx="979.4" cy="1209.1" r="3.1"/>
<circle cx="931.2" cy="1228.2" r="3.1"/>
<circle cx="908.5" cy="1222.5" r="3.1"/>
<circle cx="964.7" cy="1207.6" r="3.1"/>
<circle cx="907.2" cy="1235.5" r="3.1"/>
<circle cx="925.2" cy="1227.9" r="3.1"/>
<circle cx="997.8" cy="1198.8" r="3.1"/>
<circle cx="971.3" cy="1194.6" r="3.1"/>
<circle cx="963.1" cy="1233.3" r="3.1"/>
<circle cx="939.2" cy="1229.1" r="3.1"/>
<circle cx="919.5" cy="1074.5" r="3.1"/>
<circle cx="918.3" cy="1235.5" r="3.1"/>
<circle cx="919.7" cy="1228.5" r="3.1"/>
<circle cx="979" cy="1203.8" r="3.1"/>
<circle cx="991.1" cy="1212.7" r="3.1"/>
<circle cx="952.3" cy="1226.9" r="3.1"/>
<circle cx="940" cy="1229.2" r="3.1"/>
<circle cx="952.4" cy="1235.1" r="3.1"/>
<circle cx="933.4" cy="1233.3" r="3.1"/>
<circle cx="916.5" cy="1227" r="3.1"/>
<circle cx="941.3" cy="1180.9" r="3.1"/>
<circle cx="969.7" cy="1140.8" r="3.1"/>
<circle cx="963.1" cy="1211.5" r="3.1"/>
<circle cx="1005.4" cy="1234.5" r="3.1"/>
<circle cx="920" cy="1232.9" r="3.1"/>
<circle cx="947.8" cy="1236.5" r="3.1"/>
<circle cx="986.9" cy="1207.6" r="3.1"/>
<circle cx="1068.4" cy="1186.2" r="3.1"/>
<circle cx="1013" cy="1228.9" r="3.1"/>
<circle cx="932.3" cy="1223.5" r="3.1"/>
<circle cx="1009.1" cy="1208.1" r="3.1"/>
<circle cx="946.2" cy="1223.4" r="3.1"/>
<circle cx="1022.8" cy="1233.2" r="3.1"/>
<circle cx="951.3" cy="1224.4" r="3.1"/>
<circle cx="989" cy="1223.9" r="3.1"/>
<circle cx="976.5" cy="1221" r="3.1"/>
<circle cx="951.3" cy="1225.5" r="3.1"/>
<circle cx="946.1" cy="1221.8" r="3.1"/>
<circle cx="981.4" cy="1218" r="3.1"/>
<circle cx="938.9" cy="1220.2" r="3.1"/>
<circle cx="977.8" cy="1218.9" r="3.1"/>
<circle cx="916.6" cy="1211.9" r="3.1"/>
<circle cx="1027.3" cy="1218.8" r="3.1"/>
<circle cx="921.2" cy="1236.3" r="3.1"/>
<circle cx="977.9" cy="1213.7" r="3.1"/>
<circle cx="1009.8" cy="1202.2" r="3.1"/>
<circle cx="968.7" cy="1220.3" r="3.1"/>
<circle cx="1017.5" cy="1236.9" r="3.1"/>
<circle cx="1019.2" cy="1187.8" r="3.1"/>
<circle cx="1022.7" cy="1236.1" r="3.1"/>
<circle cx="963.3" cy="1219" r="3.1"/>
<circle cx="965.2" cy="1216.6" r="3.1"/>
<circle cx="967.3" cy="1230" r="3.1"/>
<circle cx="960.9" cy="1220.2" r="3.1"/>
<circle cx="893.1" cy="1230.3" r="3.1"/>
<circle cx="1012" cy="1214.2" r="3.1"/>
<circle cx="1000.6" cy="1205.6" r="3.1"/>
<circle cx="977.5" cy="1216.5" r="3.1"/>
<circle cx="1021.9" cy="1230" r="3.1"/>
<circle cx="985.1" cy="1208" r="3.1"/>
<circle cx="935.7" cy="1202.5" r="3.1"/>
<circle cx="937.5" cy="1235" r="3.1"/>
<circle cx="941.3" cy="1232.7" r="3.1"/>
<circle cx="953.1" cy="1210.5" r="3.1"/>
<circle cx="920.8" cy="1209.4" r="3.1"/>
<circle cx="982.4" cy="1218.7" r="3.1"/>
<circle cx="939.4" cy="1171.5" r="3.1"/>
<circle cx="922.4" cy="972.5" r="3.1"/>
<circle cx="965" cy="1222.7" r="3.1"/>
<circle cx="936.1" cy="1230.8" r="3.1"/>
<circle cx="913.3" cy="1224.3" r="3.1"/>
<circle cx="1018.7" cy="1224.7" r="3.1"/>
<circle cx="953.7" cy="1198.9" r="3.1"/>
<circle cx="959.5" cy="1201.3" r="3.1"/>
<circle cx="990.2" cy="1235" r="3.1"/>
<circle cx="1000.3" cy="1228.6" r="3.1"/>
<circle cx="981" cy="1233.7" r="3.1"/>
<circle cx="958" cy="1218.8" r="3.1"/>
<circle cx="1032.7" cy="1199.5" r="3.1"/>
<circle cx="946.9" cy="1198.2" r="3.1"/>
<circle cx="966.7" cy="1217.3" r="3.1"/>
<circle cx="922.9" cy="1231.5" r="3.1"/>
<circle cx="1010.1" cy="1219.9" r="3.1"/>
<circle cx="960.9" cy="1227.5" r="3.1"/>
<circle cx="944.7" cy="1212" r="3.1"/>
<circle cx="993.6" cy="1235.8" r="3.1"/>
<circle cx="892.4" cy="1236.6" r="3.1"/>
<circle cx="912.4" cy="1228.6" r="3.1"/>
<circle cx="997.4" cy="1211.6" r="3.1"/>
<circle cx="944.4" cy="1228.3" r="3.1"/>
<circle cx="977.8" cy="1218.3" r="3.1"/>
<circle cx="942.8" cy="1230.2" r="3.1"/>
<circle cx="955.7" cy="1220" r="3.1"/>
<circle cx="957.7" cy="1215.1" r="3.1"/>
<circle cx="927.5" cy="1178.5" r="3.1"/>
<circle cx="986.7" cy="1229.7" r="3.1"/>
<circle cx="903.7" cy="1226.3" r="3.1"/>
<circle cx="948.4" cy="1234.9" r="3.1"/>
<circle cx="1010.3" cy="1193" r="3.1"/>
<circle cx="1001.6" cy="1234.8" r="3.1"/>
<circle cx="1017.2" cy="1147.3" r="3.1"/>
<circle cx="1021.1" cy="1221.4" r="3.1"/>
<circle cx="965.9" cy="1163.2" r="3.1"/>
<circle cx="948.5" cy="1198.6" r="3.1"/>
<circle cx="983.2" cy="1197.2" r="3.1"/>
<circle cx="880.4" cy="1201.3" r="3.1"/>
<circle cx="880" cy="1231.5" r="3.1"/>
<circle cx="921.3" cy="1235.4" r="3.1"/>
<circle cx="899.7" cy="1232.6" r="3.1"/>
<circle cx="1039" cy="1217.4" r="3.1"/>
<circle cx="983.5" cy="1210.5" r="3.1"/>
<circle cx="971.8" cy="1196.8" r="3.1"/>
<circle cx="976.5" cy="1225.8" r="3.1"/>
<circle cx="938.7" cy="1236.4" r="3.1"/>
<circle cx="879.3" cy="1231.9" r="3.1"/>
<circle cx="956.4" cy="1229.4" r="3.1"/>
<circle cx="948.4" cy="1233.5" r="3.1"/>
<circle cx="1011.4" cy="1223.7" r="3.1"/>
<circle cx="935.6" cy="1216" r="3.1"/>
<circle cx="939.1" cy="1226.1" r="3.1"/>
<circle cx="927.5" cy="1226.6" r="3.1"/>
<circle cx="903.9" cy="1236.7" r="3.1"/>
<circle cx="945.3" cy="1232.1" r="3.1"/>
<circle cx="904.6" cy="1236.9" r="3.1"/>
<circle cx="980.9" cy="1154.4" r="3.1"/>
<circle cx="956.9" cy="1236.9" r="3.1"/>
<circle cx="983.1" cy="1229.1" r="3.1"/>
<circle cx="941.3" cy="1233.3" r="3.1"/>
<circle cx="964.2" cy="1223.2" r="3.1"/>
<circle cx="929.8" cy="1210.7" r="3.1"/>
<circle cx="968.8" cy="1205.4" r="3.1"/>
<circle cx="972.1" cy="1201.9" r="3.1"/>
<circle cx="950.2" cy="1232.7" r="3.1"/>
<circle cx="961.1" cy="1226.2" r="3.1"/>
<circle cx="961.7" cy="1199.2" r="3.1"/>
<circle cx="893.7" cy="1234.8" r="3.1"/>
<circle cx="978.4" cy="1203.5" r="3.1"/>
<circle cx="922.1" cy="1235.7" r="3.1"/>
<circle cx="915.3" cy="1234" r="3.1"/>
<circle cx="1000.8" cy="1214.1" r="3.1"/>
<circle cx="1013.6" cy="1234" r="3.1"/>
<circle cx="971.3" cy="1187.1" r="3.1"/>
<circle cx="932.5" cy="1212.2" r="3.1"/>
<circle cx="1022.6" cy="1207" r="3.1"/>
<circle cx="930.7" cy="1207.5" r="3.1"/>
<circle cx="948.7" cy="1230.1" r="3.1"/>
<circle cx="944.2" cy="1220.7" r="3.1"/>
<circle cx="1019.8" cy="1210.1" r="3.1"/>
<circle cx="946.5" cy="1191.7" r="3.1"/>
<circle cx="963" cy="1211.8" r="3.1"/>
<circle cx="935.3" cy="1235.3" r="3.1"/>
<circle cx="952.5" cy="1214.7" r="3.1"/>
<circle cx="939.7" cy="1013.8" r="3.1"/>
<circle cx="921.9" cy="1221.6" r="3.1"/>
<circle cx="1036.9" cy="1163.6" r="3.1"/>
<circle cx="937" cy="1222.3" r="3.1"/>
<circle cx="968.1" cy="1224.7" r="3.1"/>
<circle cx="963.6" cy="1187.1" r="3.1"/>
<circle cx="919.5" cy="1236" r="3.1"/>
<circle cx="931" cy="1213.3" r="3.1"/>
<circle cx="1062.5" cy="1214" r="3.1"/>
<circle cx="960.6" cy="1234.8" r="3.1"/>
<circle cx="923.5" cy="1232.4" r="3.1"/>
<circle cx="997.5" cy="1219.3" r="3.1"/>
<circle cx="945.7" cy="1072.9" r="3.1"/>
<circle cx="959.5" cy="1233.5" r="3.1"/>
<circle cx="977.3" cy="1211.2" r="3.1"/>
<circle cx="944.9" cy="1216.4" r="3.1"/>
<circle cx="1023.5" cy="1226.2" r="3.1"/>
<circle cx="1052.5" cy="1232.5" r="3.1"/>
<circle cx="905.6" cy="1231.9" r="3.1"/>
<circle cx="997" cy="1232.8" r="3.1"/>
<circle cx="915.1" cy="1201.5" r="3.1"/>
<circle cx="987.3" cy="1192.7" r="3.1"/>
<circle cx="982.8" cy="1213.5" r="3.1"/>
<circle cx="960.1" cy="1226.7" r="3.1"/>
<circle cx="958.1" cy="1229.7" r="3.1"/>
<circle cx="899.8" cy="1235.1" r="3.1"/>
<circle cx="973.2" cy="1212" r="3.1"/>
<circle cx="1005.4" cy="1220.6" r="3.1"/>
<circle cx="972.5" cy="1190.4" r="3.1"/>
<circle cx="953" cy="1221.8" r="3.1"/>
<circle cx="958.9" cy="1152.2" r="3.1"/>
<circle cx="897.2" cy="1227" r="3.1"/>
<circle cx="876.1" cy="1233.7" r="3.1"/>
<circle cx="995.9" cy="1234.8" r="3.1"/>
<circle cx="1009.4" cy="1232.1" r="3.1"/>
<circle cx="1006.5" cy="1162" r="3.1"/>
<circle cx="977.5" cy="1234.9" r="3.1"/>
<circle cx="932.6" cy="1236.4" r="3.1"/>
<circle cx="952.3" cy="1197.3" r="3.1"/>
<circle cx="918.7" cy="1217.6" r="3.1"/>
<circle cx="981.3" cy="1227.9" r="3.1"/>
<circle cx="1026.5" cy="1224.4" r="3.1"/>
<circle cx="985.2" cy="1217.1" r="3.1"/>
<circle cx="913.3" cy="1226" r="3.1"/>
<circle cx="1034.7" cy="1229.6" r="3.1"/>
<circle cx="972.8" cy="1233.2" r="3.1"/>
<circle cx="953.7" cy="1236" r="3.1"/>
<circle cx="941.3" cy="1230.2" r="3.1"/>
<circle cx="948.1" cy="1236.3" r="3.1"/>
<circle cx="956.3" cy="1180.2" r="3.1"/>
<circle cx="955.6" cy="1235.4" r="3.1"/>
<circle cx="978.8" cy="1176.6" r="3.1"/>
<circle cx="943.1" cy="1217.5" r="3.1"/>
<circle cx="961" cy="1237.1" r="3.1"/>
<circle cx="947.9" cy="1229.4" r="3.1"/>
<circle cx="976.4" cy="1160.9" r="3.1"/>
<circle cx="943.8" cy="1176" r="3.1"/>
<circle cx="1006.4" cy="1231.5" r="3.1"/>
<circle cx="939.3" cy="1236.9" r="3.1"/>
<circle cx="961.7" cy="1234" r="3.1"/>
<circle cx="907.8" cy="1232.6" r="3.1"/>
<circle cx="949.6" cy="1182.5" r="3.1"/>
<circle cx="934.7" cy="1226.1" r="3.1"/>
<circle cx="996.8" cy="1180.5" r="3.1"/>
<circle cx="969.5" cy="1213.5" r="3.1"/>
<circle cx="944.5" cy="1224.7" r="3.1"/>
<circle cx="1026" cy="1212" r="3.1"/>
<circle cx="981.1" cy="1169.8" r="3.1"/>
<circle cx="987" cy="1210.3" r="3.1"/>
<circle cx="926.5" cy="1213.1" r="3.1"/>
<circle cx="882.8" cy="1229.7" r="3.1"/>
<circle cx="1017.1" cy="1227.2" r="3.1"/>
<circle cx="1015.5" cy="1228.6" r="3.1"/>
<circle cx="1056.8" cy="1223.7" r="3.1"/>
<circle cx="975.8" cy="1215" r="3.1"/>
<circle cx="947" cy="1215.7" r="3.1"/>
<circle cx="1070.5" cy="1228.5" r="3.1"/>
<circle cx="1000.7" cy="1230.4" r="3.1"/>
<circle cx="937.6" cy="1229.4" r="3.1"/>
<circle cx="913.2" cy="1235.7" r="3.1"/>
<circle cx="948.7" cy="1188.9" r="3.1"/>
<circle cx="974.6" cy="1206.4" r="3.1"/>
<circle cx="1053.8" cy="1236" r="3.1"/>
<circle cx="888.8" cy="1233.7" r="3.1"/>
<circle cx="1009" cy="1212.8" r="3.1"/>
<circle cx="878.9" cy="1236.9" r="3.1"/>
<circle cx="885.9" cy="1224.8" r="3.1"/>
<circle cx="991.7" cy="1202.8" r="3.1"/>
<circle cx="898.2" cy="1231.6" r="3.1"/>
<circle cx="933.7" cy="1232" r="3.1"/>
<circle cx="926.9" cy="1226.2" r="3.1"/>
<circle cx="1005.5" cy="1213.7" r="3.1"/>
<circle cx="884.3" cy="1223.4" r="3.1"/>
<circle cx="926.1" cy="1220.1" r="3.1"/>
<circle cx="932.7" cy="1234" r="3.1"/>
<circle cx="959.5" cy="1221.6" r="3.1"/>
<circle cx="961" cy="1226.9" r="3.1"/>
<circle cx="983" cy="1195" r="3.1"/>
<circle cx="967.6" cy="1221.5" r="3.1"/>
<circle cx="907.7" cy="1225.3" r="3.1"/>
<circle cx="934.3" cy="1231.6" r="3.1"/>
<circle cx="932.4" cy="1204" r="3.1"/>
<circle cx="958" cy="1230.1" r="3.1"/>
<circle cx="1047" cy="1230" r="3.1"/>
<circle cx="987.6" cy="1224.5" r="3.1"/>
<circle cx="998.4" cy="1209.9" r="3.1"/>
<circle cx="909.6" cy="1232.4" r="3.1"/>
<circle cx="985.1" cy="1229.1" r="3.1"/>
<circle cx="983.6" cy="1236.6" r="3.1"/>
<circle cx="936.5" cy="1094.5" r="3.1"/>
<circle cx="933.2" cy="1213.7" r="3.1"/>
<circle cx="991.2" cy="1227.3" r="3.1"/>
<circle cx="987.6" cy="1155.8" r="3.1"/>
<circle cx="872.1" cy="1235.2" r="3.1"/>
<circle cx="893.6" cy="1197" r="3.1"/>
<circle cx="954.9" cy="1222" r="3.1"/>
<circle cx="919.9" cy="1216.2" r="3.1"/>
<circle cx="1050.3" cy="1134.3" r="3.1"/>
<circle cx="951.8" cy="1204.5" r="3.1"/>
<circle cx="971.9" cy="1228.3" r="3.1"/>
<circle cx="947.6" cy="1235.9" r="3.1"/>
<circle cx="945.8" cy="1231.2" r="3.1"/>
<circle cx="1007.2" cy="1220.8" r="3.1"/>
<circle cx="941.1" cy="1169.4" r="3.1"/>
<circle cx="987.6" cy="1223.3" r="3.1"/>
<circle cx="972.2" cy="1227.1" r="3.1"/>
<circle cx="1047.5" cy="1209.9" r="3.1"/>
<circle cx="937.2" cy="1236.6" r="3.1"/>
<circle cx="1007.6" cy="1227.7" r="3.1"/>
<circle cx="987.4" cy="1233.6" r="3.1"/>
<circle cx="935.8" cy="1222" r="3.1"/>
<circle cx="974.1" cy="1228.5" r="3.1"/>
<circle cx="961.9" cy="1221" r="3.1"/>
<circle cx="948.4" cy="1191.4" r="3.1"/>
<circle cx="975.1" cy="1232.6" r="3.1"/>
<circle cx="992.6" cy="1227.9" r="3.1"/>
<circle cx="963.8" cy="1202.6" r="3.1"/>
<circle cx="996.5" cy="1230.3" r="3.1"/>
<circle cx="998.4" cy="1227.7" r="3.1"/>
<circle cx="934.1" cy="1215.8" r="3.1"/>
<circle cx="958.9" cy="1220.7" r="3.1"/>
<circle cx="983.1" cy="1176.7" r="3.1"/>
<circle cx="969.3" cy="1236.2" r="3.1"/>
<circle cx="929.4" cy="1215.9" r="3.1"/>
<circle cx="971.8" cy="1220.6" r="3.1"/>
<circle cx="957.8" cy="1212.6" r="3.1"/>
<circle cx="988.9" cy="1218" r="3.1"/>
<circle cx="980.5" cy="1217.9" r="3.1"/>
<circle cx="909" cy="1230.8" r="3.1"/>
<circle cx="907.9" cy="1235.1" r="3.1"/>
<circle cx="965.9" cy="1213.1" r="3.1"/>
<circle cx="980.9" cy="1214.8" r="3.1"/>
<circle cx="953.8" cy="1221.9" r="3.1"/>
<circle cx="943.8" cy="1233.6" r="3.1"/>
<circle cx="934.4" cy="1221.9" r="3.1"/>
<circle cx="950.7" cy="1218.4" r="3.1"/>
<circle cx="936" cy="1216.7" r="3.1"/>
<circle cx="980" cy="1188.5" r="3.1"/>
<circle cx="976.7" cy="1216.1" r="3.1"/>
<circle cx="958.9" cy="1227.4" r="3.1"/>
<circle cx="945.3" cy="1229.8" r="3.1"/>
<circle cx="925.5" cy="1223.8" r="3.1"/>
<circle cx="996.9" cy="1204.8" r="3.1"/>
<circle cx="975" cy="1211.2" r="3.1"/>
<circle cx="969" cy="1213.7" r="3.1"/>
<circle cx="916.1" cy="1234.7" r="3.1"/>
<circle cx="882.7" cy="1233" r="3.1"/>
<circle cx="985.4" cy="1233.8" r="3.1"/>
<circle cx="895.7" cy="1233.5" r="3.1"/>
<circle cx="923.9" cy="1234" r="3.1"/>
<circle cx="1047.1" cy="1222.9" r="3.1"/>
<circle cx="971.8" cy="1223.6" r="3.1"/>
<circle cx="962.5" cy="1233.7" r="3.1"/>
<circle cx="987.4" cy="1171.8" r="3.1"/>
<circle cx="992" cy="1227.9" r="3.1"/>
<circle cx="934.3" cy="1216.5" r="3.1"/>
<circle cx="888.3" cy="1078.9" r="3.1"/>
<circle cx="966.8" cy="1177.8" r="3.1"/>
<circle cx="948.4" cy="1204.4" r="3.1"/>
<circle cx="972.9" cy="1229.8" r="3.1"/>
<circle cx="911.6" cy="1224" r="3.1"/>
<circle cx="1048.3" cy="1233.2" r="3.1"/>
<circle cx="995.4" cy="1233.6" r="3.1"/>
<circle cx="930.5" cy="1229.5" r="3.1"/>
<circle cx="957.6" cy="1236" r="3.1"/>
<circle cx="1012.5" cy="1195.1" r="3.1"/>
<circle cx="941.7" cy="1229.1" r="3.1"/>
<circle cx="964.2" cy="1024.4" r="3.1"/>
<circle cx="958.9" cy="1224.4" r="3.1"/>
<circle cx="912.8" cy="1234.2" r="3.1"/>
<circle cx="963.5" cy="1223" r="3.1"/>
<circle cx="915.7" cy="1232.8" r="3.1"/>
<circle cx="896.8" cy="1218.9" r="3.1"/>
<circle cx="926.7" cy="1224.7" r="3.1"/>
<circle cx="940.4" cy="1235.7" r="3.1"/>
<circle cx="1065.7" cy="1228.6" r="3.1"/>
<circle cx="898.9" cy="1233.3" r="3.1"/>
<circle cx="976.3" cy="1235.3" r="3.1"/>
<circle cx="888.4" cy="1231.4" r="3.1"/>
<circle cx="1051.7" cy="1233.2" r="3.1"/>
<circle cx="1018.7" cy="1234.9" r="3.1"/>
<circle cx="979.9" cy="1212.3" r="3.1"/>
<circle cx="978.9" cy="1219.6" r="3.1"/>
<circle cx="906" cy="1230.5" r="3.1"/>
<circle cx="1000.6" cy="1206.4" r="3.1"/>
<circle cx="893.7" cy="1218.5" r="3.1"/>
<circle cx="970.1" cy="1230.9" r="3.1"/>
<circle cx="1011.1" cy="1235.1" r="3.1"/>
<circle cx="975.1" cy="1200.7" r="3.1"/>
<circle cx="944.1" cy="1212.3" r="3.1"/>
<circle cx="961" cy="1222" r="3.1"/>
<circle cx="903.5" cy="1224.2" r="3.1"/>
<circle cx="965.6" cy="1195.5" r="3.1"/>
<circle cx="970.4" cy="1224.8" r="3.1"/>
<circle cx="944.5" cy="1230.1" r="3.1"/>
<circle cx="956.8" cy="1203.4" r="3.1"/>
<circle cx="942.9" cy="1214.3" r="3.1"/>
<circle cx="1016.7" cy="1186.1" r="3.1"/>
<circle cx="915.1" cy="1230.7" r="3.1"/>
<circle cx="995.2" cy="1234.5" r="3.1"/>
<circle cx="1049.4" cy="1164.1" r="3.1"/>
<circle cx="975" cy="1188.8" r="3.1"/>
<circle cx="968.3" cy="1235.6" r="3.1"/>
<circle cx="970.3" cy="1215.9" r="3.1"/>
<circle cx="987.7" cy="1219.4" r="3.1"/>
<circle cx="957.6" cy="1211.2" r="3.1"/>
<circle cx="974.3" cy="1236.1" r="3.1"/>
<circle cx="930.6" cy="1203.3" r="3.1"/>
<circle cx="1004.2" cy="1171.3" r="3.1"/>
<circle cx="933.2" cy="1219.7" r="3.1"/>
<circle cx="910.9" cy="1224" r="3.1"/>
<circle cx="928.2" cy="1225.1" r="3.1"/>
<circle cx="977.3" cy="1202.5" r="3.1"/>
<circle cx="983.3" cy="1221.4" r="3.1"/>
<circle cx="872.2" cy="1234.5" r="3.1"/>
<circle cx="967.1" cy="1225.7" r="3.1"/>
<circle cx="1000" cy="1218.5" r="3.1"/>
<circle cx="935.3" cy="1229" r="3.1"/>
<circle cx="1006.2" cy="1231" r="3.1"/>
<circle cx="902.8" cy="1221.7" r="3.1"/>
<circle cx="930.2" cy="1236.5" r="3.1"/>
<circle cx="1036.5" cy="1197" r="3.1"/>
<circle cx="940.5" cy="1181.4" r="3.1"/>
<circle cx="963" cy="1210.9" r="3.1"/>
<circle cx="957.4" cy="1234" r="3.1"/>
<circle cx="1030.3" cy="1234.3" r="3.1"/>
<circle cx="1013" cy="1233.5" r="3.1"/>
<circle cx="990.9" cy="1181" r="3.1"/>
<circle cx="869.3" cy="1234.8" r="3.1"/>
<circle cx="900.8" cy="1234.6" r="3.1"/>
<circle cx="905.2" cy="1231.9" r="3.1"/>
<circle cx="1001.3" cy="1231.1" r="3.1"/>
<circle cx="888" cy="1183.3" r="3.1"/>
<circle cx="932.6" cy="1213.6" r="3.1"/>
<circle cx="951.1" cy="1225.9" r="3.1"/>
<circle cx="973.6" cy="1205.2" r="3.1"/>
<circle cx="957.2" cy="1192.3" r="3.1"/>
<circle cx="997.9" cy="1228.2" r="3.1"/>
<circle cx="956.8" cy="1228.4" r="3.1"/>
<circle cx="947.7" cy="1203.5" r="3.1"/>
<circle cx="984.3" cy="1197.2" r="3.1"/>
<circle cx="969.6" cy="1197.5" r="3.1"/>
<circle cx="962.9" cy="1225.8" r="3.1"/>
<circle cx="986.8" cy="1237" r="3.1"/>
<circle cx="968.7" cy="1208.3" r="3.1"/>
<circle cx="1042.9" cy="1170.8" r="3.1"/>
<circle cx="964.1" cy="1236.2" r="3.1"/>
<circle cx="970.1" cy="1221.7" r="3.1"/>
<circle cx="988" cy="1224.6" r="3.1"/>
<circle cx="1011.1" cy="1221.5" r="3.1"/>
<circle cx="999.4" cy="1215.9" r="3.1"/>
<circle cx="1025.5" cy="1234.2" r="3.1"/>
<circle cx="905.9" cy="1223.1" r="3.1"/>
<circle cx="896.9" cy="1226.6" r="3.1"/>
<circle cx="915.5" cy="1236.9" r="3.1"/>
<circle cx="1008.2" cy="1225.2" r="3.1"/>
<circle cx="940" cy="1236.2" r="3.1"/>
<circle cx="988.9" cy="1232.1" r="3.1"/>
<circle cx="1025.4" cy="1228.8" r="3.1"/>
<circle cx="920.6" cy="1231.3" r="3.1"/>
<circle cx="933.8" cy="1184.4" r="3.1"/>
<circle cx="929.5" cy="1221.9" r="3.1"/>
<circle cx="949" cy="1235" r="3.1"/>
<circle cx="977.6" cy="1195.1" r="3.1"/>
<circle cx="950.7" cy="1191" r="3.1"/>
<circle cx="919.5" cy="1234.6" r="3.1"/>
<circle cx="985.6" cy="1212.3" r="3.1"/>
<circle cx="995.4" cy="1231.6" r="3.1"/>
<circle cx="1030.9" cy="1226.2" r="3.1"/>
<circle cx="910.6" cy="1235.3" r="3.1"/>
<circle cx="930.3" cy="1202.5" r="3.1"/>
<circle cx="987" cy="1208" r="3.1"/>
<circle cx="947.7" cy="1222.2" r="3.1"/>
<circle cx="940.7" cy="1223.4" r="3.1"/>
<circle cx="952.1" cy="1224.7" r="3.1"/>
<circle cx="953" cy="1197.3" r="3.1"/>
<circle cx="1007.6" cy="1213.1" r="3.1"/>
<circle cx="994.7" cy="1200.5" r="3.1"/>
<circle cx="967.2" cy="1221.3" r="3.1"/>
<circle cx="877.4" cy="1236.6" r="3.1"/>
<circle cx="977.9" cy="1172.1" r="3.1"/>
<circle cx="965" cy="1233.2" r="3.1"/>
<circle cx="899.8" cy="1206" r="3.1"/>
<circle cx="985.5" cy="1235.7" r="3.1"/>
<circle cx="975.5" cy="1220.6" r="3.1"/>
<circle cx="972.3" cy="1229" r="3.1"/>
<circle cx="965.3" cy="1194.7" r="3.1"/>
<circle cx="954.2" cy="1185.2" r="3.1"/>
<circle cx="944.8" cy="1210.2" r="3.1"/>
<circle cx="974.3" cy="1218.5" r="3.1"/>
<circle cx="934.6" cy="1235.3" r="3.1"/>
<circle cx="938.4" cy="1232.2" r="3.1"/>
<circle cx="957.6" cy="1234.1" r="3.1"/>
<circle cx="973.2" cy="1215.4" r="3.1"/>
<circle cx="1023.7" cy="1234.9" r="3.1"/>
<circle cx="949.2" cy="1230.8" r="3.1"/>
<circle cx="881.7" cy="1228.6" r="3.1"/>
<circle cx="983.1" cy="1232.3" r="3.1"/>
<circle cx="926" cy="1094.7" r="3.1"/>
<circle cx="942.8" cy="1236.8" r="3.1"/>
<circle cx="960.7" cy="1233.6" r="3.1"/>
<circle cx="983.6" cy="1222.4" r="3.1"/>
<circle cx="992.8" cy="1218.3" r="3.1"/>
<circle cx="946.4" cy="1106.5" r="3.1"/>
<circle cx="1012.6" cy="1221.5" r="3.1"/>
<circle cx="957" cy="1236.3" r="3.1"/>
<circle cx="1039.7" cy="1230.7" r="3.1"/>
<circle cx="946.1" cy="1040.2" r="3.1"/>
<circle cx="975" cy="1204.7" r="3.1"/>
<circle cx="960.5" cy="1220.2" r="3.1"/>
<circle cx="989.1" cy="1236.2" r="3.1"/>
<circle cx="1039" cy="1233.3" r="3.1"/>
<circle cx="1035.5" cy="1222.2" r="3.1"/>
<circle cx="953" cy="1208.4" r="3.1"/>
<circle cx="983.5" cy="1179.1" r="3.1"/>
<circle cx="982.8" cy="1226.3" r="3.1"/>
<circle cx="1034.5" cy="1224.6" r="3.1"/>
<circle cx="955.7" cy="1234.9" r="3.1"/>
<circle cx="1006.6" cy="1204" r="3.1"/>
<circle cx="998" cy="1133.4" r="3.1"/>
<circle cx="923.8" cy="1234.9" r="3.1"/>
<circle cx="1006.1" cy="1203.5" r="3.1"/>
<circle cx="1019.5" cy="1235.9" r="3.1"/>
<circle cx="907.6" cy="1229.1" r="3.1"/>
<circle cx="1011.7" cy="1203.8" r="3.1"/>
<circle cx="1005.8" cy="1234.5" r="3.1"/>
<circle cx="1002.4" cy="1229.8" r="3.1"/>
<circle cx="930.4" cy="1215.1" r="3.1"/>
<circle cx="1018.6" cy="1224.5" r="3.1"/>
<circle cx="982.4" cy="1220.2" r="3.1"/>
<circle cx="962.5" cy="1213.5" r="3.1"/>
<circle cx="937.6" cy="1219.8" r="3.1"/>
<circle cx="933.1" cy="1220.7" r="3.1"/>
<circle cx="1029.8" cy="1220.5" r="3.1"/>
<circle cx="942.1" cy="1228.5" r="3.1"/>
<circle cx="956.7" cy="1066.1" r="3.1"/>
<circle cx="982.4" cy="1220" r="3.1"/>
<circle cx="964.9" cy="1140.8" r="3.1"/>
<circle cx="1040.7" cy="1230" r="3.1"/>
<circle cx="995.6" cy="1214.3" r="3.1"/>
<circle cx="963.1" cy="1234" r="3.1"/>
<circle cx="1003.6" cy="1235.8" r="3.1"/>
<circle cx="1012" cy="1207" r="3.1"/>
<circle cx="926.7" cy="1217.3" r="3.1"/>
<circle cx="944.8" cy="1199.5" r="3.1"/>
<circle cx="964.5" cy="1234.1" r="3.1"/>
<circle cx="908.6" cy="1224.4" r="3.1"/>
<circle cx="992.5" cy="1236.2" r="3.1"/>
<circle cx="899.3" cy="1223.9" r="3.1"/>
<circle cx="955.5" cy="1219.1" r="3.1"/>
<circle cx="1044.1" cy="1218.8" r="3.1"/>
<circle cx="907.5" cy="1234.4" r="3.1"/>
<circle cx="933.2" cy="1225.8" r="3.1"/>
<circle cx="998.4" cy="1165.5" r="3.1"/>
<circle cx="1060.9" cy="1202" r="3.1"/>
<circle cx="938.7" cy="987.6" r="3.1"/>
<circle cx="1033.7" cy="1225.5" r="3.1"/>
<circle cx="1009.8" cy="1229.1" r="3.1"/>
<circle cx="976.7" cy="1233.5" r="3.1"/>
<circle cx="963.5" cy="1223.6" r="3.1"/>
<circle cx="981.6" cy="1213.9" r="3.1"/>
<circle cx="993" cy="1213.7" r="3.1"/>
<circle cx="1038.2" cy="1226.9" r="3.1"/>
<circle cx="995.9" cy="1185.6" r="3.1"/>
<circle cx="916.7" cy="1235.6" r="3.1"/>
<circle cx="993.7" cy="1176" r="3.1"/>
<circle cx="934.3" cy="1210" r="3.1"/>
<circle cx="870.4" cy="1231.2" r="3.1"/>
<circle cx="979.8" cy="1210" r="3.1"/>
<circle cx="939.4" cy="1221.2" r="3.1"/>
<circle cx="961.4" cy="1235.6" r="3.1"/>
<circle cx="995.1" cy="1155" r="3.1"/>
<circle cx="927.8" cy="1218.2" r="3.1"/>
<circle cx="998.1" cy="1225.2" r="3.1"/>
<circle cx="919.8" cy="1233.5" r="3.1"/>
<circle cx="901.2" cy="974.4" r="3.1"/>
<circle cx="927.9" cy="1230.6" r="3.1"/>
<circle cx="917.8" cy="1229.6" r="3.1"/>
<circle cx="915.7" cy="1102.2" r="3.1"/>
<circle cx="917.6" cy="1137" r="3.1"/>
<circle cx="963.5" cy="1189.7" r="3.1"/>
<circle cx="933" cy="1225.6" r="3.1"/>
<circle cx="943.8" cy="1206.4" r="3.1"/>
<circle cx="990.4" cy="1224.5" r="3.1"/>
<circle cx="992.1" cy="1197" r="3.1"/>
<circle cx="931.8" cy="1231.1" r="3.1"/>
<circle cx="1028.7" cy="1229.4" r="3.1"/>
<circle cx="918" cy="1230" r="3.1"/>
<circle cx="969.4" cy="1211.4" r="3.1"/>
<circle cx="976.6" cy="1226.3" r="3.1"/>
<circle cx="996.6" cy="1217.9" r="3.1"/>
<circle cx="994.8" cy="1211.1" r="3.1"/>
<circle cx="1002.1" cy="1197.6" r="3.1"/>
<circle cx="916.2" cy="1237" r="3.1"/>
<circle cx="952.8" cy="1176.2" r="3.1"/>
<circle cx="997" cy="1236.5" r="3.1"/>
<circle cx="955.8" cy="1205.2" r="3.1"/>
<circle cx="953.8" cy="1235.8" r="3.1"/>
<circle cx="1055.6" cy="1230.8" r="3.1"/>
<circle cx="924" cy="1231.9" r="3.1"/>
<circle cx="1000.5" cy="1226.4" r="3.1"/>
<circle cx="1007.7" cy="1189" r="3.1"/>
<circle cx="948.3" cy="1213.8" r="3.1"/>
<circle cx="983.5" cy="1169.3" r="3.1"/>
<circle cx="1057.7" cy="1207.9" r="3.1"/>
<circle cx="1039.7" cy="1210.5" r="3.1"/>
<circle cx="945.6" cy="1198.7" r="3.1"/>
<circle cx="934.2" cy="1234.5" r="3.1"/>
<circle cx="974" cy="1213.2" r="3.1"/>
<circle cx="964.3" cy="1227.1" r="3.1"/>
<circle cx="1011.3" cy="1228.5" r="3.1"/>
<circle cx="926.5" cy="1222.5" r="3.1"/>
<circle cx="921" cy="1234.6" r="3.1"/>
<circle cx="911.6" cy="1207.7" r="3.1"/>
<circle cx="1012.1" cy="1234.3" r="3.1"/>
<circle cx="892" cy="1236.4" r="3.1"/>
<circle cx="921.1" cy="1227.2" r="3.1"/>
<circle cx="948.7" cy="1226.4" r="3.1"/>
<circle cx="997.5" cy="1137" r="3.1"/>
<circle cx="936.8" cy="1220.6" r="3.1"/>
<circle cx="976" cy="1214.5" r="3.1"/>
<circle cx="959.5" cy="1174.3" r="3.1"/>
<circle cx="1030.1" cy="1201.2" r="3.1"/>
<circle cx="1047.4" cy="1229" r="3.1"/>
<circle cx="967.2" cy="1177.1" r="3.1"/>
<circle cx="1037.8" cy="1209.4" r="3.1"/>
<circle cx="964.9" cy="1231.8" r="3.1"/>
<circle cx="938.8" cy="1200" r="3.1"/>
<circle cx="931.7" cy="1228.8" r="3.1"/>
<circle cx="959.9" cy="1223.8" r="3.1"/>
<circle cx="934.9" cy="1187.9" r="3.1"/>
<circle cx="901.7" cy="1081" r="3.1"/>
<circle cx="940.8" cy="1226.9" r="3.1"/>
<circle cx="1038.6" cy="1236.4" r="3.1"/>
<circle cx="892.4" cy="1236.2" r="3.1"/>
<circle cx="980.8" cy="1223.2" r="3.1"/>
<circle cx="935.9" cy="1230.6" r="3.1"/>
<circle cx="952.4" cy="1234.8" r="3.1"/>
<circle cx="991.1" cy="1221.4" r="3.1"/>
<circle cx="1028.2" cy="1228.7" r="3.1"/>
<circle cx="932.4" cy="1234.2" r="3.1"/>
<circle cx="1033.2" cy="1192.5" r="3.1"/>
<circle cx="964.2" cy="1189" r="3.1"/>
<circle cx="1036.4" cy="1213.6" r="3.1"/>
<circle cx="923.7" cy="1221.9" r="3.1"/>
<circle cx="982.4" cy="1232.5" r="3.1"/>
<circle cx="920.7" cy="1236" r="3.1"/>
<circle cx="960.4" cy="1224.2" r="3.1"/>
<circle cx="977.8" cy="1174.7" r="3.1"/>
<circle cx="962.5" cy="1232.8" r="3.1"/>
<circle cx="944.3" cy="1220.2" r="3.1"/>
<circle cx="948.1" cy="1222.9" r="3.1"/>
<circle cx="952.2" cy="1234" r="3.1"/>
<circle cx="927.8" cy="1206.5" r="3.1"/>
<circle cx="928.3" cy="1232" r="3.1"/>
<circle cx="946.9" cy="1237.1" r="3.1"/>
<circle cx="951.3" cy="1235.7" r="3.1"/>
<circle cx="951" cy="1157.2" r="3.1"/>
<circle cx="954.4" cy="1213.8" r="3.1"/>
<circle cx="928.4" cy="1209.9" r="3.1"/>
<circle cx="985.3" cy="1226.6" r="3.1"/>
<circle cx="960.5" cy="1220.3" r="3.1"/>
<circle cx="974.6" cy="1230.6" r="3.1"/>
<circle cx="974.9" cy="1170.4" r="3.1"/>
<circle cx="939.1" cy="1216" r="3.1"/>
<circle cx="1002.3" cy="1183" r="3.1"/>
<circle cx="982.6" cy="1191.3" r="3.1"/>
<circle cx="914.2" cy="1229.4" r="3.1"/>
<circle cx="939.8" cy="1208.1" r="3.1"/>
<circle cx="1007.2" cy="1192.1" r="3.1"/>
<circle cx="935.2" cy="1170.2" r="3.1"/>
<circle cx="946.3" cy="1216.1" r="3.1"/>
<circle cx="987.2" cy="1230.8" r="3.1"/>
<circle cx="1021.1" cy="1153.3" r="3.1"/>
<circle cx="961.2" cy="1236.1" r="3.1"/>
<circle cx="1017.8" cy="1198.3" r="3.1"/>
<circle cx="978.6" cy="1209.9" r="3.1"/>
<circle cx="977" cy="1223.9" r="3.1"/>
<circle cx="949.3" cy="1209.8" r="3.1"/>
<circle cx="945.2" cy="1115.6" r="3.1"/>
<circle cx="996.2" cy="1213.3" r="3.1"/>
<circle cx="980.2" cy="1127.9" r="3.1"/>
<circle cx="969.6" cy="1204.7" r="3.1"/>
<circle cx="951.1" cy="1218.2" r="3.1"/>
<circle cx="981.4" cy="1209.5" r="3.1"/>
<circle cx="939.1" cy="1234.2" r="3.1"/>
<circle cx="932.9" cy="1214.3" r="3.1"/>
<circle cx="1006.6" cy="1205.6" r="3.1"/>
<circle cx="876.6" cy="1232.4" r="3.1"/>
<circle cx="893.1" cy="1137" r="3.1"/>
<circle cx="874.1" cy="1227.9" r="3.1"/>
<circle cx="984.7" cy="1223.3" r="3.1"/>
<circle cx="986.3" cy="1225" r="3.1"/>
<circle cx="945.7" cy="1214.5" r="3.1"/>
<circle cx="1058.5" cy="1216" r="3.1"/>
<circle cx="955.2" cy="1217.8" r="3.1"/>
<circle cx="994.7" cy="1230.7" r="3.1"/>
<circle cx="982.6" cy="1220.4" r="3.1"/>
<circle cx="979" cy="1175.6" r="3.1"/>
<circle cx="977" cy="1216.7" r="3.1"/>
<circle cx="943.6" cy="1234.7" r="3.1"/>
<circle cx="1013.5" cy="1221.6" r="3.1"/>
<circle cx="896.2" cy="1225.2" r="3.1"/>
<circle cx="946.1" cy="1212.4" r="3.1"/>
<circle cx="1004.3" cy="1224.8" r="3.1"/>
<circle cx="986.6" cy="1226.3" r="3.1"/>
<circle cx="963.5" cy="1199.8" r="3.1"/>
<circle cx="967.6" cy="1208.2" r="3.1"/>
<circle cx="892.1" cy="1230" r="3.1"/>
<circle cx="974.5" cy="1218.9" r="3.1"/>
<circle cx="967.7" cy="1161.8" r="3.1"/>
<circle cx="951.7" cy="1214" r="3.1"/>
<circle cx="907.6" cy="1224.9" r="3.1"/>
<circle cx="872.9" cy="1236.8" r="3.1"/>
<circle cx="962.8" cy="1236.6" r="3.1"/>
<circle cx="900.4" cy="1232.2" r="3.1"/>
<circle cx="991.8" cy="1227.9" r="3.1"/>
<circle cx="955.8" cy="1222.7" r="3.1"/>
<circle cx="988.9" cy="1231.5" r="3.1"/>
<circle cx="917.4" cy="1236.1" r="3.1"/>
<circle cx="986.6" cy="1236" r="3.1"/>
<circle cx="977.3" cy="1228.5" r="3.1"/>
<circle cx="938.4" cy="1223.8" r="3.1"/>
<circle cx="965.3" cy="1204.5" r="3.1"/>
<circle cx="881.5" cy="1235.3" r="3.1"/>
<circle cx="933.4" cy="1212.4" r="3.1"/>
<circle cx="960.8" cy="1192.5" r="3.1"/>
<circle cx="958.3" cy="1233.5" r="3.1"/>
<circle cx="955.5" cy="1206" r="3.1"/>
<circle cx="1016.8" cy="1231.4" r="3.1"/>
<circle cx="977.4" cy="1236.4" r="3.1"/>
<circle cx="1030.2" cy="1231.5" r="3.1"/>
<circle cx="996.9" cy="1207.3" r="3.1"/>
<circle cx="1047.8" cy="1230.3" r="3.1"/>
<circle cx="1010.3" cy="1210.4" r="3.1"/>
<circle cx="893" cy="1216.2" r="3.1"/>
<circle cx="973.9" cy="1224" r="3.1"/>
<circle cx="933" cy="1219.9" r="3.1"/>
<circle cx="906.2" cy="1215.9" r="3.1"/>
<circle cx="928.8" cy="1230.4" r="3.1"/>
<circle cx="1022" cy="1236.9" r="3.1"/>
<circle cx="973.4" cy="1231.9" r="3.1"/>
<circle cx="1125.7" cy="1155.2" r="3.1"/>
<circle cx="887.4" cy="1235.1" r="3.1"/>
<circle cx="973.6" cy="1155.7" r="3.1"/>
<circle cx="932.8" cy="1217.7" r="3.1"/>
<circle cx="941.9" cy="1236.7" r="3.1"/>
<circle cx="872.2" cy="1236.6" r="3.1"/>
<circle cx="910.8" cy="1235" r="3.1"/>
<circle cx="1015" cy="1233.8" r="3.1"/>
<circle cx="964" cy="1219.8" r="3.1"/>
<circle cx="924.1" cy="1221.9" r="3.1"/>
<circle cx="898.3" cy="1236" r="3.1"/>
<circle cx="947.9" cy="1230.2" r="3.1"/>
<circle cx="955.9" cy="1220.7" r="3.1"/>
<circle cx="971.2" cy="1236.2" r="3.1"/>
<circle cx="993" cy="1207.6" r="3.1"/>
<circle cx="928" cy="1235.6" r="3.1"/>
<circle cx="968.8" cy="1229.9" r="3.1"/>
<circle cx="1045.4" cy="1231.6" r="3.1"/>
<circle cx="939.3" cy="1201.7" r="3.1"/>
<circle cx="1046.3" cy="1229.5" r="3.1"/>
<circle cx="968.5" cy="1229.3" r="3.1"/>
<circle cx="909.2" cy="1231.7" r="3.1"/>
<circle cx="947.9" cy="1229.4" r="3.1"/>
<circle cx="1025.7" cy="1202" r="3.1"/>
<circle cx="1057.5" cy="1224" r="3.1"/>
<circle cx="961.5" cy="1198.9" r="3.1"/>
<circle cx="914.9" cy="1222.2" r="3.1"/>
<circle cx="969.1" cy="1228.5" r="3.1"/>
<circle cx="938.6" cy="1234.2" r="3.1"/>
<circle cx="930.3" cy="1125.9" r="3.1"/>
<circle cx="946.3" cy="1151.8" r="3.1"/>
<circle cx="984.2" cy="1234.3" r="3.1"/>
<circle cx="976.5" cy="1230.9" r="3.1"/>
<circle cx="1046.7" cy="1235" r="3.1"/>
<circle cx="923.3" cy="1200.4" r="3.1"/>
<circle cx="962.1" cy="1228.8" r="3.1"/>
<circle cx="974.4" cy="1230.7" r="3.1"/>
<circle cx="988.4" cy="1215.7" r="3.1"/>
<circle cx="1021.7" cy="1235.2" r="3.1"/>
<circle cx="915.3" cy="1205.8" r="3.1"/>
<circle cx="950.6" cy="1234.2" r="3.1"/>
<circle cx="906.7" cy="1228.4" r="3.1"/>
<circle cx="918.9" cy="1232.5" r="3.1"/>
<circle cx="902.2" cy="1230.4" r="3.1"/>
<circle cx="924.7" cy="1226.3" r="3.1"/>
<circle cx="877.8" cy="1234.6" r="3.1"/>
<circle cx="874" cy="1228.6" r="3.1"/>
<circle cx="987" cy="1236" r="3.1"/>
<circle cx="947.4" cy="1204.5" r="3.1"/>
<circle cx="1017.5" cy="1183.5" r="3.1"/>
<circle cx="958" cy="1226.2" r="3.1"/>
<circle cx="1026.3" cy="1195.2" r="3.1"/>
<circle cx="942.7" cy="1235.3" r="3.1"/>
<circle cx="1056.6" cy="1201.3" r="3.1"/>
<circle cx="940.1" cy="1234.4" r="3.1"/>
<circle cx="969.7" cy="1161.1" r="3.1"/>
<circle cx="914.4" cy="1227.4" r="3.1"/>
<circle cx="924.7" cy="1212.7" r="3.1"/>
<circle cx="972.9" cy="1232.5" r="3.1"/>
<circle cx="983.8" cy="1161.8" r="3.1"/>
<circle cx="1005.7" cy="1227.4" r="3.1"/>
<circle cx="1034.7" cy="1227.7" r="3.1"/>
<circle cx="940.6" cy="1231.1" r="3.1"/>
<circle cx="920.9" cy="1226.9" r="3.1"/>
<circle cx="922.8" cy="1234.5" r="3.1"/>
<circle cx="1053.7" cy="1234" r="3.1"/>
<circle cx="956.2" cy="1200.5" r="3.1"/>
<circle cx="899.2" cy="1236.8" r="3.1"/>
<circle cx="940" cy="1201.3" r="3.1"/>
<circle cx="931.8" cy="1205" r="3.1"/>
<circle cx="995.4" cy="1220.9" r="3.1"/>
<circle cx="1055.4" cy="1227.3" r="3.1"/>
<circle cx="950.3" cy="1205.9" r="3.1"/>
<circle cx="1014" cy="1231" r="3.1"/>
<circle cx="973.4" cy="1169.9" r="3.1"/>
<circle cx="1004.6" cy="1215.4" r="3.1"/>
<circle cx="1064.5" cy="1231.6" r="3.1"/>
<circle cx="921.2" cy="1225.1" r="3.1"/>
<circle cx="972.9" cy="1235.6" r="3.1"/>
<circle cx="963.5" cy="1213.7" r="3.1"/>
<circle cx="969.5" cy="1236.2" r="3.1"/>
<circle cx="965.3" cy="1172.9" r="3.1"/>
<circle cx="913.2" cy="1229.7" r="3.1"/>
<circle cx="944" cy="1223" r="3.1"/>
<circle cx="948.6" cy="1227.9" r="3.1"/>
<circle cx="952.1" cy="1235.3" r="3.1"/>
<circle cx="925.7" cy="1234.6" r="3.1"/>
<circle cx="955.1" cy="1174.6" r="3.1"/>
<circle cx="887.1" cy="1198.7" r="3.1"/>
<circle cx="992.4" cy="1209" r="3.1"/>
<circle cx="969.1" cy="1165.4" r="3.1"/>
<circle cx="946.1" cy="1236" r="3.1"/>
<circle cx="982.7" cy="1228.2" r="3.1"/>
<circle cx="979.4" cy="1212.5" r="3.1"/>
<circle cx="990.6" cy="1204.4" r="3.1"/>
<circle cx="896.7" cy="1230.3" r="3.1"/>
<circle cx="1115.9" cy="1208.3" r="3.1"/>
<circle cx="966.4" cy="1214" r="3.1"/>
<circle cx="986.9" cy="1204.6" r="3.1"/>
<circle cx="961.8" cy="1220.4" r="3.1"/>
<circle cx="949.3" cy="1236.6" r="3.1"/>
<circle cx="1014.6" cy="1175" r="3.1"/>
<circle cx="1017.8" cy="1234.6" r="3.1"/>
<circle cx="992.5" cy="1225.7" r="3.1"/>
<circle cx="1062.5" cy="1234" r="3.1"/>
<circle cx="1018.6" cy="1227.4" r="3.1"/>
<circle cx="962" cy="1224.2" r="3.1"/>
<circle cx="885.7" cy="1229.7" r="3.1"/>
<circle cx="986.4" cy="1230" r="3.1"/>
<circle cx="980.5" cy="1236.9" r="3.1"/>
<circle cx="1054.7" cy="1168.9" r="3.1"/>
<circle cx="952.6" cy="1229" r="3.1"/>
<circle cx="1000.8" cy="1223.3" r="3.1"/>
<circle cx="952.8" cy="1189.5" r="3.1"/>
<circle cx="958.7" cy="1234.9" r="3.1"/>
<circle cx="869.6" cy="1233.5" r="3.1"/>
<circle cx="1005.2" cy="1232.1" r="3.1"/>
<circle cx="978.8" cy="1236.4" r="3.1"/>
<circle cx="1048.2" cy="1223.1" r="3.1"/>
<circle cx="1021.2" cy="1174.7" r="3.1"/>
<circle cx="1014.9" cy="1182.9" r="3.1"/>
<circle cx="923.7" cy="1233.6" r="3.1"/>
<circle cx="873.7" cy="1231.2" r="3.1"/>
<circle cx="947.6" cy="1235.6" r="3.1"/>
<circle cx="928.3" cy="1215.6" r="3.1"/>
<circle cx="1026.7" cy="1206.7" r="3.1"/>
<circle cx="993.7" cy="1227.3" r="3.1"/>
<circle cx="938" cy="1220.5" r="3.1"/>
<circle cx="948.9" cy="1234" r="3.1"/>
<circle cx="920.2" cy="1227.2" r="3.1"/>
<circle cx="934.2" cy="1222.1" r="3.1"/>
<circle cx="943.1" cy="1211.7" r="3.1"/>
<circle cx="995.6" cy="1200" r="3.1"/>
<circle cx="953.9" cy="1234.5" r="3.1"/>
<circle cx="981.2" cy="1168.3" r="3.1"/>
<circle cx="998.1" cy="1227.6" r="3.1"/>
<circle cx="938.6" cy="1215.3" r="3.1"/>
<circle cx="970.3" cy="1213.3" r="3.1"/>
<circle cx="965.4" cy="1235.7" r="3.1"/>
<circle cx="934.1" cy="1119" r="3.1"/>
<circle cx="971.3" cy="1215.2" r="3.1"/>
<circle cx="1009.7" cy="1183.9" r="3.1"/>
<circle cx="1013.9" cy="1229.5" r="3.1"/>
<circle cx="1011.2" cy="1218.7" r="3.1"/>
<circle cx="891.1" cy="1235.5" r="3.1"/>
<circle cx="963.4" cy="1232.8" r="3.1"/>
<circle cx="1005.4" cy="1235.7" r="3.1"/>
<circle cx="934.8" cy="1225.2" r="3.1"/>
<circle cx="957.8" cy="1223.3" r="3.1"/>
<circle cx="1031.8" cy="1236.2" r="3.1"/>
<circle cx="879.9" cy="1176.4" r="3.1"/>
<circle cx="984.1" cy="1223.8" r="3.1"/>
<circle cx="1000" cy="1179.2" r="3.1"/>
<circle cx="947.2" cy="1226.3" r="3.1"/>
<circle cx="948.4" cy="1231.4" r="3.1"/>
<circle cx="1002.1" cy="1222.6" r="3.1"/>
<circle cx="918.4" cy="1235.1" r="3.1"/>
<circle cx="934.9" cy="1234.8" r="3.1"/>
<circle cx="977.1" cy="1223.9" r="3.1"/>
<circle cx="963.5" cy="1227.5" r="3.1"/>
<circle cx="954.5" cy="1235" r="3.1"/>
<circle cx="1072.2" cy="1222.2" r="3.1"/>
<circle cx="968.1" cy="1197.6" r="3.1"/>
<circle cx="906.3" cy="1236.3" r="3.1"/>
<circle cx="992" cy="1222.1" r="3.1"/>
<circle cx="964.2" cy="1219.4" r="3.1"/>
<circle cx="967.2" cy="1166.3" r="3.1"/>
<circle cx="969.3" cy="1227.5" r="3.1"/>
<circle cx="988.9" cy="1234" r="3.1"/>
<circle cx="886.8" cy="1230.5" r="3.1"/>
<circle cx="943.6" cy="1229.7" r="3.1"/>
<circle cx="1010.5" cy="1209.5" r="3.1"/>
<circle cx="960.8" cy="1232.8" r="3.1"/>
<circle cx="921" cy="1213.9" r="3.1"/>
<circle cx="927.5" cy="1227.8" r="3.1"/>
<circle cx="988.4" cy="1214.9" r="3.1"/>
<circle cx="979.4" cy="1189.6" r="3.1"/>
<circle cx="930.5" cy="1212" r="3.1"/>
<circle cx="933.6" cy="1185.2" r="3.1"/>
<circle cx="1085.4" cy="1231.3" r="3.1"/>
<circle cx="1001.9" cy="1229.8" r="3.1"/>
<circle cx="936.2" cy="1176.3" r="3.1"/>
<circle cx="889.2" cy="1235.7" r="3.1"/>
<circle cx="1004.9" cy="1200.7" r="3.1"/>
<circle cx="1040.5" cy="1225.1" r="3.1"/>
<circle cx="939.3" cy="1228" r="3.1"/>
<circle cx="1048.7" cy="1236.7" r="3.1"/>
<circle cx="912" cy="1212.4" r="3.1"/>
<circle cx="929.2" cy="1220.3" r="3.1"/>
<circle cx="1019.6" cy="1218" r="3.1"/>
<circle cx="948.9" cy="1218.9" r="3.1"/>
<circle cx="1042.6" cy="1231.8" r="3.1"/>
<circle cx="929.4" cy="1230.9" r="3.1"/>
<circle cx="915.7" cy="1209.5" r="3.1"/>
<circle cx="1017.3" cy="1233.8" r="3.1"/>
<circle cx="1030.9" cy="1155.9" r="3.1"/>
<circle cx="933.4" cy="1143.2" r="3.1"/>
<circle cx="1020.8" cy="1221.1" r="3.1"/>
<circle cx="873.9" cy="1234.6" r="3.1"/>
<circle cx="965.4" cy="1234" r="3.1"/>
<circle cx="995.8" cy="1227" r="3.1"/>
<circle cx="934.5" cy="1203.1" r="3.1"/>
<circle cx="916.3" cy="1235.2" r="3.1"/>
<circle cx="907.3" cy="1232.4" r="3.1"/>
<circle cx="1006.8" cy="1227.9" r="3.1"/>
<circle cx="909.5" cy="1232.8" r="3.1"/>
<circle cx="959" cy="1200.4" r="3.1"/>
<circle cx="1027.4" cy="1232.1" r="3.1"/>
<circle cx="956.5" cy="1190.6" r="3.1"/>
<circle cx="942.9" cy="1222.5" r="3.1"/>
<circle cx="921.3" cy="1235.1" r="3.1"/>
<circle cx="869.7" cy="1231.5" r="3.1"/>
<circle cx="1002" cy="1230.9" r="3.1"/>
<circle cx="902.5" cy="1228.8" r="3.1"/>
<circle cx="998.1" cy="1218.2" r="3.1"/>
<circle cx="947.8" cy="1210.8" r="3.1"/>
<circle cx="931.5" cy="1176.1" r="3.1"/>
<circle cx="936" cy="1225.9" r="3.1"/>
<circle cx="974.9" cy="1233.7" r="3.1"/>
<circle cx="1036.9" cy="1155.5" r="3.1"/>
<circle cx="1015.9" cy="1227.6" r="3.1"/>
<circle cx="1020.6" cy="1216.6" r="3.1"/>
<circle cx="945.9" cy="1217.3" r="3.1"/>
<circle cx="1003.1" cy="1229.2" r="3.1"/>
<circle cx="917.3" cy="1228.5" r="3.1"/>
<circle cx="926.3" cy="1234.8" r="3.1"/>
<circle cx="1003.4" cy="1206.4" r="3.1"/>
<circle cx="902.7" cy="1146.3" r="3.1"/>
<circle cx="952.3" cy="1217.6" r="3.1"/>
<circle cx="942" cy="1234.6" r="3.1"/>
<circle cx="928.5" cy="1219.2" r="3.1"/>
<circle cx="992.8" cy="1187" r="3.1"/>
<circle cx="999.9" cy="1224.6" r="3.1"/>
<circle cx="956.3" cy="1196.9" r="3.1"/>
<circle cx="1000" cy="1149.2" r="3.1"/>
<circle cx="920.3" cy="1184.8" r="3.1"/>
<circle cx="889.9" cy="1231.6" r="3.1"/>
<circle cx="1026.8" cy="1194.3" r="3.1"/>
<circle cx="986.6" cy="1232.5" r="3.1"/>
<circle cx="926.5" cy="1237" r="3.1"/>
<circle cx="995" cy="1179.6" r="3.1"/>
<circle cx="915.9" cy="1234.7" r="3.1"/>
<circle cx="956" cy="1219.6" r="3.1"/>
<circle cx="988.2" cy="1235.2" r="3.1"/>
<circle cx="996.3" cy="1189.1" r="3.1"/>
<circle cx="990.9" cy="1236.5" r="3.1"/>
<circle cx="1014.5" cy="1181.1" r="3.1"/>
<circle cx="979" cy="1234.3" r="3.1"/>
<circle cx="993.1" cy="1180" r="3.1"/>
<circle cx="999.3" cy="1202.9" r="3.1"/>
<circle cx="991.8" cy="1230.5" r="3.1"/>
<circle cx="988.9" cy="1181.2" r="3.1"/>
<circle cx="890.6" cy="1234.4" r="3.1"/>
<circle cx="957" cy="1223.1" r="3.1"/>
<circle cx="936.1" cy="1205.9" r="3.1"/>
<circle cx="933.9" cy="1219.4" r="3.1"/>
<circle cx="945.4" cy="1227" r="3.1"/>
<circle cx="958.5" cy="1224.5" r="3.1"/>
<circle cx="900.9" cy="1227.5" r="3.1"/>
<circle cx="998" cy="1214.5" r="3.1"/>
<circle cx="942.9" cy="1186.4" r="3.1"/>
<circle cx="1016.6" cy="1201.8" r="3.1"/>
<circle cx="908.9" cy="1228.6" r="3.1"/>
<circle cx="896.2" cy="1235.4" r="3.1"/>
<circle cx="961.5" cy="1227.5" r="3.1"/>
<circle cx="990.2" cy="1230.9" r="3.1"/>
<circle cx="894.8" cy="1220.4" r="3.1"/>
<circle cx="982.8" cy="1224.3" r="3.1"/>
<circle cx="1006.6" cy="1226.8" r="3.1"/>
<circle cx="1010.5" cy="1234.4" r="3.1"/>
<circle cx="923" cy="1220.8" r="3.1"/>
<circle cx="947.2" cy="1212.3" r="3.1"/>
<circle cx="896.5" cy="1230" r="3.1"/>
<circle cx="966" cy="1235.2" r="3.1"/>
<circle cx="950.7" cy="1221" r="3.1"/>
<circle cx="932.7" cy="1000.6" r="3.1"/>
<circle cx="958.9" cy="1231.1" r="3.1"/>
<circle cx="905.6" cy="1225.8" r="3.1"/>
<circle cx="996.1" cy="1234" r="3.1"/>
<circle cx="914.8" cy="1235.4" r="3.1"/>
<circle cx="956.3" cy="1236.9" r="3.1"/>
<circle cx="925.8" cy="1236.3" r="3.1"/>
<circle cx="1006.8" cy="1234.3" r="3.1"/>
<circle cx="969.4" cy="1215.9" r="3.1"/>
<circle cx="921.1" cy="1235.7" r="3.1"/>
<circle cx="982.7" cy="1164.8" r="3.1"/>
</g>
<line x1="866.9" y1="1220" x2="1125.3" y2="1184.5" stroke="#d3a11a" stroke-width="1.5"/>
<rect x="858.8" y="964.3" width="274.7" height="280.9" fill="none" stroke="#111" stroke-width="1.1"/>
<line x1="855.3" y1="1023.9" x2="858.8" y2="1023.9" stroke="#222" stroke-width="0.9"/>
<text x="852.3" y="1029.7" font-size="16" text-anchor="end">9</text>
<line x1="855.3" y1="1095" x2="858.8" y2="1095" stroke="#222" stroke-width="0.9"/>
<text x="852.3" y="1100.8" font-size="16" text-anchor="end">6</text>
<line x1="855.3" y1="1166" x2="858.8" y2="1166" stroke="#222" stroke-width="0.9"/>
<text x="852.3" y="1171.8" font-size="16" text-anchor="end">3</text>
<line x1="855.3" y1="1237.1" x2="858.8" y2="1237.1" stroke="#222" stroke-width="0.9"/>
<text x="852.3" y="1242.9" font-size="16" text-anchor="end">0</text>
<line x1="943.3" y1="1245.3" x2="943.3" y2="1248.8" stroke="#222" stroke-width="0.9"/>
<text x="943.3" y="1267.3" font-size="16" text-anchor="middle">2</text>
<line x1="1030.7" y1="1245.3" x2="1030.7" y2="1248.8" stroke="#222" stroke-width="0.9"/>
<text x="1030.7" y="1267.3" font-size="16" text-anchor="middle">4</text>
<line x1="1117.8" y1="1245.3" x2="1117.8" y2="1248.8" stroke="#222" stroke-width="0.9"/>
<text x="1117.8" y="1267.3" font-size="16" text-anchor="middle">6</text>
<text font-size="19.6" text-anchor="middle" transform="translate(994.9 1291.6) scale(1.12 1)"><tspan font-style="italic">IL16</tspan> expression Log<tspan font-size="12.5" dy="4.5">2</tspan><tspan dy="-4.5"> (TPM+1)</tspan></text>
<text font-size="19.8" text-anchor="middle" transform="translate(830.9 1097.4) rotate(-90) scale(1.02 1)"><tspan font-style="italic">HDC</tspan> expression Log<tspan font-size="12.5" dy="4.5">2</tspan><tspan dy="-4.5"> (TPM+1)</tspan></text>
<text x="1125" y="984.5" font-size="17.2" text-anchor="end">Spearman</text>
<text x="1125" y="1004.9" font-size="17.2" text-anchor="end"><tspan font-style="italic">R</tspan> = 0.387</text>
<text x="1125" y="1025.3" font-size="17.2" text-anchor="end"><tspan font-style="italic">P</tspan> &lt; 0.001</text>
<text x="1374.5" y="956.7" font-size="22.4" text-anchor="middle" font-weight="bold">LUAD</text>
<path d="M1253.2 1219.8 L1511.3 1079.6 L1511.3 1099.8 L1253.2 1234.2 Z" fill="#d8d8d8" opacity="0.6"/>
<g fill="#3055d0" stroke="#0a1234" stroke-width="0.95">
<circle cx="1352.1" cy="1193.4" r="3.1"/>
<circle cx="1324.2" cy="1201.8" r="3.1"/>
<circle cx="1455.6" cy="1136.4" r="3.1"/>
<circle cx="1422.7" cy="1234.5" r="3.1"/>
<circle cx="1312.4" cy="1185.5" r="3.1"/>
<circle cx="1312.7" cy="1222.1" r="3.1"/>
<circle cx="1381.9" cy="1112.7" r="3.1"/>
<circle cx="1415.6" cy="1148.7" r="3.1"/>
<circle cx="1359.4" cy="1204.3" r="3.1"/>
<circle cx="1365.8" cy="1193.6" r="3.1"/>
<circle cx="1408.2" cy="1187.1" r="3.1"/>
<circle cx="1428.1" cy="1134.9" r="3.1"/>
<circle cx="1443.3" cy="1128.3" r="3.1"/>
<circle cx="1441.2" cy="1204.1" r="3.1"/>
<circle cx="1315.8" cy="1215.3" r="3.1"/>
<circle cx="1357.5" cy="1201.5" r="3.1"/>
<circle cx="1390.5" cy="1119" r="3.1"/>
<circle cx="1389.5" cy="1133.2" r="3.1"/>
<circle cx="1353.4" cy="1182.9" r="3.1"/>
<circle cx="1433.5" cy="1157.4" r="3.1"/>
<circle cx="1337.1" cy="1180.5" r="3.1"/>
<circle cx="1369.3" cy="1221.5" r="3.1"/>
<circle cx="1427.7" cy="1194.1" r="3.1"/>
<circle cx="1383.7" cy="1168.7" r="3.1"/>
<circle cx="1302.2" cy="1209.4" r="3.1"/>
<circle cx="1381.8" cy="1132.2" r="3.1"/>
<circle cx="1416.3" cy="1028.2" r="3.1"/>
<circle cx="1332.2" cy="1224.5" r="3.1"/>
<circle cx="1369.6" cy="1170.2" r="3.1"/>
<circle cx="1454.1" cy="1104.4" r="3.1"/>
<circle cx="1355.8" cy="1228.7" r="3.1"/>
<circle cx="1459.3" cy="1149.5" r="3.1"/>
<circle cx="1350.1" cy="1175.1" r="3.1"/>
<circle cx="1386.3" cy="1188.2" r="3.1"/>
<circle cx="1410.4" cy="1167.2" r="3.1"/>
<circle cx="1418.2" cy="1231.6" r="3.1"/>
<circle cx="1363" cy="1140.9" r="3.1"/>
<circle cx="1325.7" cy="1211.1" r="3.1"/>
<circle cx="1252.3" cy="1227.5" r="3.1"/>
<circle cx="1415" cy="1127.5" r="3.1"/>
<circle cx="1348.9" cy="1201.7" r="3.1"/>
<circle cx="1388.8" cy="1148.2" r="3.1"/>
<circle cx="1359.5" cy="1230.2" r="3.1"/>
<circle cx="1432.7" cy="1107.9" r="3.1"/>
<circle cx="1302.6" cy="1215" r="3.1"/>
<circle cx="1373.7" cy="1152.6" r="3.1"/>
<circle cx="1417" cy="1099" r="3.1"/>
<circle cx="1461.2" cy="1085.3" r="3.1"/>
<circle cx="1327.8" cy="1212.1" r="3.1"/>
<circle cx="1436.2" cy="1231.9" r="3.1"/>
<circle cx="1338.3" cy="1218.6" r="3.1"/>
<circle cx="1374.6" cy="1175.5" r="3.1"/>
<circle cx="1299.1" cy="1228.1" r="3.1"/>
<circle cx="1371.2" cy="1172.1" r="3.1"/>
<circle cx="1366.3" cy="1175.2" r="3.1"/>
<circle cx="1444.8" cy="1183.2" r="3.1"/>
<circle cx="1361.3" cy="1170" r="3.1"/>
<circle cx="1452.5" cy="1164.6" r="3.1"/>
<circle cx="1402.9" cy="1137.4" r="3.1"/>
<circle cx="1351" cy="1178" r="3.1"/>
<circle cx="1318.5" cy="1221.3" r="3.1"/>
<circle cx="1400.8" cy="1204.1" r="3.1"/>
<circle cx="1380.9" cy="1163.7" r="3.1"/>
<circle cx="1368.2" cy="1166.1" r="3.1"/>
<circle cx="1419.9" cy="1195.5" r="3.1"/>
<circle cx="1388.8" cy="1180.8" r="3.1"/>
<circle cx="1347.5" cy="1202.8" r="3.1"/>
<circle cx="1396.7" cy="1150" r="3.1"/>
<circle cx="1351.4" cy="1169" r="3.1"/>
<circle cx="1324.2" cy="1222.3" r="3.1"/>
<circle cx="1376.9" cy="1188.2" r="3.1"/>
<circle cx="1333.9" cy="1199.3" r="3.1"/>
<circle cx="1398.5" cy="1142.3" r="3.1"/>
<circle cx="1372.5" cy="1134.8" r="3.1"/>
<circle cx="1385.7" cy="1130.6" r="3.1"/>
<circle cx="1395.9" cy="1155.3" r="3.1"/>
<circle cx="1417.8" cy="1134" r="3.1"/>
<circle cx="1353.1" cy="1213.9" r="3.1"/>
<circle cx="1317.1" cy="1204.9" r="3.1"/>
<circle cx="1349.9" cy="1187" r="3.1"/>
<circle cx="1357" cy="1141.1" r="3.1"/>
<circle cx="1372.1" cy="1155.8" r="3.1"/>
<circle cx="1355.6" cy="1137.2" r="3.1"/>
<circle cx="1455.5" cy="1100.5" r="3.1"/>
<circle cx="1441.7" cy="1097.8" r="3.1"/>
<circle cx="1440.7" cy="1217.9" r="3.1"/>
<circle cx="1336" cy="1222.6" r="3.1"/>
<circle cx="1396.1" cy="1198.5" r="3.1"/>
<circle cx="1447.7" cy="1138.6" r="3.1"/>
<circle cx="1445.1" cy="1103.2" r="3.1"/>
<circle cx="1365.1" cy="1160.2" r="3.1"/>
<circle cx="1414.4" cy="1089.5" r="3.1"/>
<circle cx="1371.1" cy="1173.8" r="3.1"/>
<circle cx="1297.2" cy="1209.1" r="3.1"/>
<circle cx="1349" cy="1212.7" r="3.1"/>
<circle cx="1330.7" cy="1219.6" r="3.1"/>
<circle cx="1389" cy="1080.8" r="3.1"/>
<circle cx="1381.4" cy="1163.7" r="3.1"/>
<circle cx="1353.9" cy="1161.4" r="3.1"/>
<circle cx="1441.6" cy="1125.5" r="3.1"/>
<circle cx="1355.7" cy="1220.7" r="3.1"/>
<circle cx="1352.9" cy="1171.4" r="3.1"/>
<circle cx="1316.3" cy="1224.4" r="3.1"/>
<circle cx="1352.9" cy="1205.3" r="3.1"/>
<circle cx="1382" cy="1168.4" r="3.1"/>
<circle cx="1395.8" cy="1141.9" r="3.1"/>
<circle cx="1347.2" cy="1204.9" r="3.1"/>
<circle cx="1379.8" cy="1137.6" r="3.1"/>
<circle cx="1330" cy="1216.3" r="3.1"/>
<circle cx="1386.3" cy="1197.3" r="3.1"/>
<circle cx="1371.4" cy="972.5" r="3.1"/>
<circle cx="1446.9" cy="1127.1" r="3.1"/>
<circle cx="1426.9" cy="1185" r="3.1"/>
<circle cx="1343.8" cy="1190.3" r="3.1"/>
<circle cx="1409.8" cy="1103.4" r="3.1"/>
<circle cx="1343.2" cy="1155.1" r="3.1"/>
<circle cx="1425.6" cy="1165.7" r="3.1"/>
<circle cx="1438.8" cy="1100.9" r="3.1"/>
<circle cx="1365.4" cy="1133.9" r="3.1"/>
<circle cx="1284.6" cy="1218.3" r="3.1"/>
<circle cx="1373.1" cy="1124.9" r="3.1"/>
<circle cx="1322.6" cy="1223.1" r="3.1"/>
<circle cx="1367.2" cy="1146.6" r="3.1"/>
<circle cx="1397.2" cy="1128" r="3.1"/>
<circle cx="1432.9" cy="1153.5" r="3.1"/>
<circle cx="1372.7" cy="1110.2" r="3.1"/>
<circle cx="1400.8" cy="1189.7" r="3.1"/>
<circle cx="1436.6" cy="1172.2" r="3.1"/>
<circle cx="1414.2" cy="1154.6" r="3.1"/>
<circle cx="1401.3" cy="1148.4" r="3.1"/>
<circle cx="1348.7" cy="1178.4" r="3.1"/>
<circle cx="1414.5" cy="1149.6" r="3.1"/>
<circle cx="1381.1" cy="1103.4" r="3.1"/>
<circle cx="1406.5" cy="1076.7" r="3.1"/>
<circle cx="1343.2" cy="1195.3" r="3.1"/>
<circle cx="1383.2" cy="1175.7" r="3.1"/>
<circle cx="1425.4" cy="1118.8" r="3.1"/>
<circle cx="1352.3" cy="1116.9" r="3.1"/>
<circle cx="1389.8" cy="1184.2" r="3.1"/>
<circle cx="1438.1" cy="1076" r="3.1"/>
<circle cx="1369.9" cy="1221.5" r="3.1"/>
<circle cx="1419.5" cy="1080.9" r="3.1"/>
<circle cx="1407.1" cy="1188.6" r="3.1"/>
<circle cx="1407.1" cy="1173.7" r="3.1"/>
<circle cx="1386.1" cy="1160.5" r="3.1"/>
<circle cx="1407" cy="1148.1" r="3.1"/>
<circle cx="1401.1" cy="1114.8" r="3.1"/>
<circle cx="1472.2" cy="1026.1" r="3.1"/>
<circle cx="1362.5" cy="1136.7" r="3.1"/>
<circle cx="1348.8" cy="1173.2" r="3.1"/>
<circle cx="1325.2" cy="1216.8" r="3.1"/>
<circle cx="1351.8" cy="1210.4" r="3.1"/>
<circle cx="1354.8" cy="1146.3" r="3.1"/>
<circle cx="1499.8" cy="1182.8" r="3.1"/>
<circle cx="1431.1" cy="1147.2" r="3.1"/>
<circle cx="1410.9" cy="1158.2" r="3.1"/>
<circle cx="1422.2" cy="1123.1" r="3.1"/>
<circle cx="1446.5" cy="1050.8" r="3.1"/>
<circle cx="1325.4" cy="1227.6" r="3.1"/>
<circle cx="1335.8" cy="1146.1" r="3.1"/>
<circle cx="1378.3" cy="1137.8" r="3.1"/>
<circle cx="1477" cy="1129.5" r="3.1"/>
<circle cx="1368.7" cy="1209.7" r="3.1"/>
<circle cx="1350.1" cy="1149" r="3.1"/>
<circle cx="1421.2" cy="1135.3" r="3.1"/>
<circle cx="1326.8" cy="1210.4" r="3.1"/>
<circle cx="1346" cy="1193" r="3.1"/>
<circle cx="1437.8" cy="1125" r="3.1"/>
<circle cx="1311.6" cy="1190.6" r="3.1"/>
<circle cx="1397.5" cy="1207.8" r="3.1"/>
<circle cx="1450.3" cy="1061.3" r="3.1"/>
<circle cx="1448.7" cy="1144.3" r="3.1"/>
<circle cx="1265.5" cy="1222.2" r="3.1"/>
<circle cx="1375.5" cy="1187.2" r="3.1"/>
<circle cx="1302.6" cy="1216.3" r="3.1"/>
<circle cx="1356.4" cy="1144.2" r="3.1"/>
<circle cx="1348.3" cy="1151.4" r="3.1"/>
<circle cx="1336" cy="1129.9" r="3.1"/>
<circle cx="1404.3" cy="1080.8" r="3.1"/>
<circle cx="1408.7" cy="1176.8" r="3.1"/>
<circle cx="1350.7" cy="1117.7" r="3.1"/>
<circle cx="1458" cy="1156.2" r="3.1"/>
<circle cx="1359.3" cy="1212.4" r="3.1"/>
<circle cx="1312.4" cy="1219.1" r="3.1"/>
<circle cx="1353" cy="1232.8" r="3.1"/>
<circle cx="1462.8" cy="1142.5" r="3.1"/>
<circle cx="1372.4" cy="1175.6" r="3.1"/>
<circle cx="1469.8" cy="1088" r="3.1"/>
<circle cx="1321.3" cy="1223.7" r="3.1"/>
<circle cx="1389.3" cy="1162.1" r="3.1"/>
<circle cx="1396.7" cy="1157.6" r="3.1"/>
<circle cx="1352.8" cy="1192.6" r="3.1"/>
<circle cx="1413" cy="1116.1" r="3.1"/>
<circle cx="1363.4" cy="1128.7" r="3.1"/>
<circle cx="1354.6" cy="1170.8" r="3.1"/>
<circle cx="1358" cy="1183.1" r="3.1"/>
<circle cx="1421.4" cy="1104.1" r="3.1"/>
<circle cx="1335.8" cy="1231.3" r="3.1"/>
<circle cx="1418.3" cy="1111.6" r="3.1"/>
<circle cx="1365" cy="1183.1" r="3.1"/>
<circle cx="1389.5" cy="1139.6" r="3.1"/>
<circle cx="1439" cy="1095.5" r="3.1"/>
<circle cx="1287.1" cy="1191.6" r="3.1"/>
<circle cx="1335.9" cy="1202.1" r="3.1"/>
<circle cx="1443.7" cy="1113.3" r="3.1"/>
<circle cx="1425.1" cy="1050.3" r="3.1"/>
<circle cx="1318.3" cy="1177.3" r="3.1"/>
<circle cx="1313.3" cy="1217.4" r="3.1"/>
<circle cx="1278.4" cy="1234.9" r="3.1"/>
<circle cx="1387.1" cy="1156.4" r="3.1"/>
<circle cx="1357.7" cy="1175.5" r="3.1"/>
<circle cx="1346.1" cy="1148.8" r="3.1"/>
<circle cx="1403.8" cy="1117.3" r="3.1"/>
<circle cx="1392" cy="1117.6" r="3.1"/>
<circle cx="1431.5" cy="1162.5" r="3.1"/>
<circle cx="1282" cy="1234.5" r="3.1"/>
<circle cx="1351.5" cy="1207.8" r="3.1"/>
<circle cx="1319.2" cy="1155.4" r="3.1"/>
<circle cx="1397" cy="1216.7" r="3.1"/>
<circle cx="1318.5" cy="1198.8" r="3.1"/>
<circle cx="1356.6" cy="1197" r="3.1"/>
<circle cx="1389.5" cy="1176.9" r="3.1"/>
<circle cx="1345.5" cy="1218" r="3.1"/>
<circle cx="1418.4" cy="1180.5" r="3.1"/>
<circle cx="1352.4" cy="1185" r="3.1"/>
<circle cx="1398.6" cy="1105.1" r="3.1"/>
<circle cx="1386.6" cy="1189.2" r="3.1"/>
<circle cx="1371.6" cy="1185.8" r="3.1"/>
<circle cx="1305.8" cy="1233.1" r="3.1"/>
<circle cx="1441.3" cy="1093.1" r="3.1"/>
<circle cx="1431.3" cy="1142.2" r="3.1"/>
<circle cx="1364.7" cy="1233.6" r="3.1"/>
<circle cx="1361.7" cy="1214.1" r="3.1"/>
<circle cx="1466.1" cy="1100.8" r="3.1"/>
<circle cx="1406.7" cy="1227.5" r="3.1"/>
<circle cx="1389.3" cy="1163.4" r="3.1"/>
<circle cx="1330.4" cy="1189.5" r="3.1"/>
<circle cx="1394.7" cy="1170.6" r="3.1"/>
<circle cx="1375.9" cy="1205.8" r="3.1"/>
<circle cx="1402.2" cy="1106.6" r="3.1"/>
<circle cx="1326.2" cy="1186.1" r="3.1"/>
<circle cx="1355.4" cy="1131.2" r="3.1"/>
<circle cx="1415.9" cy="1055.2" r="3.1"/>
<circle cx="1319.4" cy="1207.8" r="3.1"/>
<circle cx="1358.4" cy="1231.8" r="3.1"/>
<circle cx="1336" cy="1230.4" r="3.1"/>
<circle cx="1369.8" cy="1197" r="3.1"/>
<circle cx="1396" cy="1213.3" r="3.1"/>
<circle cx="1372.7" cy="1149.6" r="3.1"/>
<circle cx="1374.7" cy="1177.5" r="3.1"/>
<circle cx="1409.9" cy="1194.6" r="3.1"/>
<circle cx="1430.7" cy="1110.9" r="3.1"/>
<circle cx="1404.8" cy="1151.3" r="3.1"/>
<circle cx="1373.2" cy="1205.5" r="3.1"/>
<circle cx="1320.3" cy="1189" r="3.1"/>
<circle cx="1364.8" cy="1215.9" r="3.1"/>
<circle cx="1419" cy="1105.4" r="3.1"/>
<circle cx="1399.8" cy="1213.4" r="3.1"/>
<circle cx="1409.2" cy="1158.1" r="3.1"/>
<circle cx="1368.6" cy="1163.3" r="3.1"/>
<circle cx="1374.1" cy="1165.8" r="3.1"/>
<circle cx="1330.4" cy="1202" r="3.1"/>
<circle cx="1420" cy="1127.3" r="3.1"/>
<circle cx="1400.9" cy="1142.3" r="3.1"/>
<circle cx="1385.6" cy="1201.9" r="3.1"/>
<circle cx="1416.4" cy="1168.3" r="3.1"/>
<circle cx="1396" cy="1207.3" r="3.1"/>
<circle cx="1418.5" cy="1173" r="3.1"/>
<circle cx="1510.9" cy="1168.2" r="3.1"/>
<circle cx="1352.7" cy="1203.6" r="3.1"/>
<circle cx="1287.3" cy="1139.9" r="3.1"/>
<circle cx="1360.6" cy="1126.1" r="3.1"/>
<circle cx="1325.9" cy="1165" r="3.1"/>
<circle cx="1355.2" cy="1187.6" r="3.1"/>
<circle cx="1343.4" cy="1211.1" r="3.1"/>
<circle cx="1416.6" cy="1142.1" r="3.1"/>
<circle cx="1329.8" cy="1215.7" r="3.1"/>
<circle cx="1377" cy="1178.6" r="3.1"/>
<circle cx="1349.6" cy="1191.6" r="3.1"/>
<circle cx="1384.2" cy="1107.4" r="3.1"/>
<circle cx="1374.6" cy="1210.6" r="3.1"/>
<circle cx="1379.1" cy="1214.6" r="3.1"/>
<circle cx="1353.8" cy="1192.8" r="3.1"/>
<circle cx="1396.9" cy="1113.9" r="3.1"/>
<circle cx="1370" cy="1187.2" r="3.1"/>
<circle cx="1311.4" cy="1192" r="3.1"/>
<circle cx="1413.7" cy="1219.9" r="3.1"/>
<circle cx="1345.1" cy="1176.8" r="3.1"/>
<circle cx="1379" cy="1224.8" r="3.1"/>
<circle cx="1337.5" cy="1169.7" r="3.1"/>
<circle cx="1416.3" cy="1111.1" r="3.1"/>
<circle cx="1387.1" cy="1231.7" r="3.1"/>
<circle cx="1339.4" cy="1161" r="3.1"/>
<circle cx="1357.5" cy="1216.2" r="3.1"/>
<circle cx="1388.3" cy="1191.8" r="3.1"/>
<circle cx="1385.7" cy="1122.6" r="3.1"/>
<circle cx="1384.7" cy="1224.5" r="3.1"/>
<circle cx="1274.1" cy="1226.5" r="3.1"/>
<circle cx="1344.2" cy="1191.3" r="3.1"/>
<circle cx="1324.9" cy="1231.6" r="3.1"/>
<circle cx="1352.6" cy="1182.3" r="3.1"/>
<circle cx="1310.6" cy="1156.8" r="3.1"/>
<circle cx="1308.4" cy="1192.9" r="3.1"/>
<circle cx="1411.9" cy="1177.1" r="3.1"/>
<circle cx="1452.3" cy="1118.7" r="3.1"/>
<circle cx="1373.7" cy="1127.1" r="3.1"/>
<circle cx="1411.3" cy="1078" r="3.1"/>
<circle cx="1418.6" cy="1090.9" r="3.1"/>
<circle cx="1344.4" cy="1148.3" r="3.1"/>
<circle cx="1406" cy="1154" r="3.1"/>
<circle cx="1378.7" cy="1188" r="3.1"/>
<circle cx="1348" cy="1203.7" r="3.1"/>
<circle cx="1427.5" cy="1226.1" r="3.1"/>
<circle cx="1282.3" cy="1228.1" r="3.1"/>
<circle cx="1373.5" cy="1172.9" r="3.1"/>
<circle cx="1344.6" cy="1128.6" r="3.1"/>
<circle cx="1440.5" cy="1188.2" r="3.1"/>
<circle cx="1442.2" cy="1099.3" r="3.1"/>
<circle cx="1349.4" cy="1192.8" r="3.1"/>
<circle cx="1420.6" cy="1152.8" r="3.1"/>
<circle cx="1353.8" cy="1119.8" r="3.1"/>
<circle cx="1426.1" cy="1128.2" r="3.1"/>
<circle cx="1427.3" cy="1171.7" r="3.1"/>
<circle cx="1393.2" cy="1192.3" r="3.1"/>
<circle cx="1441.4" cy="1136.2" r="3.1"/>
<circle cx="1409.4" cy="1130.2" r="3.1"/>
<circle cx="1346.5" cy="1139.4" r="3.1"/>
<circle cx="1339.7" cy="1221.3" r="3.1"/>
<circle cx="1349.7" cy="1146.2" r="3.1"/>
<circle cx="1382.8" cy="1199.6" r="3.1"/>
<circle cx="1374.4" cy="1132.2" r="3.1"/>
<circle cx="1346.4" cy="1205.8" r="3.1"/>
<circle cx="1385.9" cy="1178.3" r="3.1"/>
<circle cx="1368.3" cy="1155.5" r="3.1"/>
<circle cx="1395.5" cy="1213.1" r="3.1"/>
<circle cx="1369.9" cy="1136.1" r="3.1"/>
<circle cx="1366" cy="1145.9" r="3.1"/>
<circle cx="1373.8" cy="1187.3" r="3.1"/>
<circle cx="1331.5" cy="1204.5" r="3.1"/>
<circle cx="1435.4" cy="1098.8" r="3.1"/>
<circle cx="1405.4" cy="1122.2" r="3.1"/>
<circle cx="1389.1" cy="1195.8" r="3.1"/>
<circle cx="1352.2" cy="1223.6" r="3.1"/>
<circle cx="1442.9" cy="1121.3" r="3.1"/>
<circle cx="1435" cy="1119.7" r="3.1"/>
<circle cx="1376.6" cy="1195.7" r="3.1"/>
<circle cx="1426.3" cy="1169.8" r="3.1"/>
<circle cx="1340.8" cy="1217.9" r="3.1"/>
<circle cx="1458.5" cy="1156.1" r="3.1"/>
<circle cx="1321.5" cy="1175.4" r="3.1"/>
<circle cx="1401.2" cy="1143.5" r="3.1"/>
<circle cx="1376.9" cy="1135.1" r="3.1"/>
<circle cx="1324" cy="1191.6" r="3.1"/>
<circle cx="1403.3" cy="1193" r="3.1"/>
<circle cx="1400.2" cy="1199.3" r="3.1"/>
<circle cx="1356.8" cy="1179" r="3.1"/>
<circle cx="1354.7" cy="1155.3" r="3.1"/>
<circle cx="1363.6" cy="1227.1" r="3.1"/>
<circle cx="1396.2" cy="1159.4" r="3.1"/>
<circle cx="1414" cy="1135.2" r="3.1"/>
<circle cx="1361.6" cy="1180" r="3.1"/>
<circle cx="1399.5" cy="1195.4" r="3.1"/>
<circle cx="1300.5" cy="1221.1" r="3.1"/>
<circle cx="1383.2" cy="1140.3" r="3.1"/>
<circle cx="1345.6" cy="1235.1" r="3.1"/>
<circle cx="1343.9" cy="1140.1" r="3.1"/>
<circle cx="1511.3" cy="1129.1" r="3.1"/>
<circle cx="1370.3" cy="1180.4" r="3.1"/>
<circle cx="1409.3" cy="1137.1" r="3.1"/>
<circle cx="1321.3" cy="1222.2" r="3.1"/>
<circle cx="1338.7" cy="1156.9" r="3.1"/>
<circle cx="1362.8" cy="1181" r="3.1"/>
<circle cx="1446.3" cy="1075.8" r="3.1"/>
<circle cx="1383.3" cy="1094.5" r="3.1"/>
<circle cx="1384" cy="1178.2" r="3.1"/>
<circle cx="1411.8" cy="1169" r="3.1"/>
<circle cx="1453.6" cy="1178.2" r="3.1"/>
<circle cx="1413.2" cy="1167.1" r="3.1"/>
<circle cx="1325.7" cy="1181.5" r="3.1"/>
<circle cx="1323.7" cy="1159.9" r="3.1"/>
<circle cx="1435.5" cy="1133.5" r="3.1"/>
<circle cx="1434.7" cy="1108.2" r="3.1"/>
<circle cx="1373.8" cy="1182" r="3.1"/>
<circle cx="1376.6" cy="1193" r="3.1"/>
<circle cx="1411.7" cy="1109.3" r="3.1"/>
<circle cx="1454.4" cy="1080" r="3.1"/>
<circle cx="1414.2" cy="1207.8" r="3.1"/>
<circle cx="1407.5" cy="1187.5" r="3.1"/>
<circle cx="1382.8" cy="1167" r="3.1"/>
<circle cx="1388.7" cy="1224.2" r="3.1"/>
<circle cx="1302" cy="1173.8" r="3.1"/>
<circle cx="1388.5" cy="1133.3" r="3.1"/>
<circle cx="1384.1" cy="1229" r="3.1"/>
<circle cx="1452.2" cy="1208.6" r="3.1"/>
<circle cx="1419.6" cy="1111.2" r="3.1"/>
<circle cx="1390.3" cy="1103.7" r="3.1"/>
<circle cx="1367.4" cy="1214.3" r="3.1"/>
<circle cx="1391.1" cy="1214.2" r="3.1"/>
<circle cx="1348.3" cy="1159.7" r="3.1"/>
<circle cx="1311.1" cy="1167.1" r="3.1"/>
<circle cx="1377.4" cy="1205.4" r="3.1"/>
<circle cx="1403.8" cy="1157.9" r="3.1"/>
<circle cx="1420.4" cy="1121.1" r="3.1"/>
<circle cx="1377.2" cy="1190.8" r="3.1"/>
<circle cx="1315.1" cy="1217.6" r="3.1"/>
<circle cx="1409.4" cy="1099.2" r="3.1"/>
<circle cx="1326.2" cy="1197.4" r="3.1"/>
<circle cx="1394.8" cy="1166.3" r="3.1"/>
<circle cx="1393" cy="1180.5" r="3.1"/>
<circle cx="1302.5" cy="1220.7" r="3.1"/>
<circle cx="1440.1" cy="1121.2" r="3.1"/>
<circle cx="1306.7" cy="1218.6" r="3.1"/>
<circle cx="1372.3" cy="1142.6" r="3.1"/>
<circle cx="1379.4" cy="1171.6" r="3.1"/>
<circle cx="1337.6" cy="1179.8" r="3.1"/>
<circle cx="1380" cy="1148.2" r="3.1"/>
<circle cx="1350.7" cy="1182.7" r="3.1"/>
<circle cx="1426.2" cy="1131.1" r="3.1"/>
<circle cx="1368.5" cy="1153.6" r="3.1"/>
<circle cx="1380" cy="1226.3" r="3.1"/>
<circle cx="1370" cy="1234" r="3.1"/>
<circle cx="1440.2" cy="1141.7" r="3.1"/>
<circle cx="1303.1" cy="1177.1" r="3.1"/>
<circle cx="1374.9" cy="1136.1" r="3.1"/>
<circle cx="1391.7" cy="1193.6" r="3.1"/>
<circle cx="1457.5" cy="1100.4" r="3.1"/>
<circle cx="1374.3" cy="1107.2" r="3.1"/>
<circle cx="1374.4" cy="1194.9" r="3.1"/>
<circle cx="1407.4" cy="1155.7" r="3.1"/>
<circle cx="1467.2" cy="1131.9" r="3.1"/>
<circle cx="1371.8" cy="1215.4" r="3.1"/>
<circle cx="1433.1" cy="1091.3" r="3.1"/>
<circle cx="1370.8" cy="1195.3" r="3.1"/>
<circle cx="1374.9" cy="1173.7" r="3.1"/>
<circle cx="1369.8" cy="1168.1" r="3.1"/>
<circle cx="1393.1" cy="1173.8" r="3.1"/>
<circle cx="1446.3" cy="1172.8" r="3.1"/>
<circle cx="1413.7" cy="1186.1" r="3.1"/>
<circle cx="1414.9" cy="1173.1" r="3.1"/>
<circle cx="1413.6" cy="1160.6" r="3.1"/>
<circle cx="1370.7" cy="1198.1" r="3.1"/>
<circle cx="1391.2" cy="1179.7" r="3.1"/>
<circle cx="1307.5" cy="1205.8" r="3.1"/>
<circle cx="1354.6" cy="1192.1" r="3.1"/>
<circle cx="1397.9" cy="1081.2" r="3.1"/>
<circle cx="1409.9" cy="1104.3" r="3.1"/>
<circle cx="1351.5" cy="1141" r="3.1"/>
<circle cx="1412.7" cy="1093.5" r="3.1"/>
<circle cx="1394.9" cy="1201.3" r="3.1"/>
<circle cx="1307.4" cy="1209.6" r="3.1"/>
<circle cx="1353.8" cy="1149.2" r="3.1"/>
<circle cx="1431.4" cy="1149.1" r="3.1"/>
<circle cx="1425.7" cy="1102.1" r="3.1"/>
<circle cx="1367.7" cy="1116.8" r="3.1"/>
<circle cx="1445.6" cy="1188" r="3.1"/>
<circle cx="1404.7" cy="976.6" r="3.1"/>
<circle cx="1376.1" cy="1162.6" r="3.1"/>
<circle cx="1322.6" cy="1201.1" r="3.1"/>
<circle cx="1490.7" cy="1086.8" r="3.1"/>
<circle cx="1300.1" cy="1230.3" r="3.1"/>
<circle cx="1334.3" cy="1190.9" r="3.1"/>
<circle cx="1358.5" cy="1223.1" r="3.1"/>
<circle cx="1393.2" cy="1142.4" r="3.1"/>
<circle cx="1300.8" cy="1187.4" r="3.1"/>
<circle cx="1299.1" cy="1209.8" r="3.1"/>
<circle cx="1358.1" cy="1162.6" r="3.1"/>
<circle cx="1365.7" cy="1221" r="3.1"/>
<circle cx="1319.3" cy="1091.1" r="3.1"/>
<circle cx="1412" cy="1133.4" r="3.1"/>
<circle cx="1350.4" cy="1123.6" r="3.1"/>
<circle cx="1335.5" cy="1224.3" r="3.1"/>
<circle cx="1396.8" cy="1190.2" r="3.1"/>
<circle cx="1285.5" cy="1220" r="3.1"/>
<circle cx="1421.4" cy="1146.3" r="3.1"/>
<circle cx="1322.8" cy="1180.5" r="3.1"/>
<circle cx="1328.2" cy="1196" r="3.1"/>
<circle cx="1418.9" cy="1124.7" r="3.1"/>
<circle cx="1364.6" cy="1156.4" r="3.1"/>
<circle cx="1370.2" cy="1229.5" r="3.1"/>
<circle cx="1408.6" cy="1165.9" r="3.1"/>
<circle cx="1345" cy="1185.8" r="3.1"/>
<circle cx="1303.2" cy="1232.1" r="3.1"/>
<circle cx="1394.7" cy="1152" r="3.1"/>
<circle cx="1388.4" cy="1156.1" r="3.1"/>
<circle cx="1374.1" cy="1156.6" r="3.1"/>
<circle cx="1415.5" cy="1105.1" r="3.1"/>
<circle cx="1380.7" cy="1152.2" r="3.1"/>
<circle cx="1438.2" cy="1183.3" r="3.1"/>
<circle cx="1458.5" cy="1058" r="3.1"/>
<circle cx="1349.8" cy="1208.9" r="3.1"/>
<circle cx="1347.5" cy="1175.3" r="3.1"/>
<circle cx="1365.9" cy="1158.3" r="3.1"/>
<circle cx="1445.2" cy="1106.4" r="3.1"/>
<circle cx="1356.6" cy="1180.8" r="3.1"/>
<circle cx="1363.1" cy="1166.7" r="3.1"/>
<circle cx="1382.2" cy="1231.3" r="3.1"/>
<circle cx="1373.9" cy="1125.4" r="3.1"/>
<circle cx="1410.8" cy="1169.1" r="3.1"/>
<circle cx="1292" cy="1171.3" r="3.1"/>
<circle cx="1342.9" cy="1198.1" r="3.1"/>
<circle cx="1390.3" cy="1143" r="3.1"/>
<circle cx="1482.8" cy="1150.9" r="3.1"/>
<circle cx="1422.1" cy="1103.4" r="3.1"/>
<circle cx="1403.2" cy="1128.2" r="3.1"/>
<circle cx="1343.9" cy="1165.7" r="3.1"/>
<circle cx="1390.8" cy="1123.3" r="3.1"/>
<circle cx="1446" cy="1191.6" r="3.1"/>
<circle cx="1364.4" cy="1223.4" r="3.1"/>
<circle cx="1330.4" cy="1174.6" r="3.1"/>
<circle cx="1386" cy="1145.3" r="3.1"/>
<circle cx="1431" cy="1091.9" r="3.1"/>
<circle cx="1327" cy="1183.1" r="3.1"/>
<circle cx="1385" cy="1177.7" r="3.1"/>
<circle cx="1390" cy="1165.3" r="3.1"/>
<circle cx="1377.7" cy="1214.3" r="3.1"/>
<circle cx="1354.4" cy="1184" r="3.1"/>
<circle cx="1389" cy="1225.6" r="3.1"/>
<circle cx="1354.4" cy="1176.2" r="3.1"/>
<circle cx="1453.7" cy="1100.3" r="3.1"/>
<circle cx="1313.4" cy="1233.5" r="3.1"/>
<circle cx="1322.7" cy="1181.1" r="3.1"/>
<circle cx="1317.5" cy="1225" r="3.1"/>
<circle cx="1398.7" cy="1205.4" r="3.1"/>
<circle cx="1402.7" cy="1117.5" r="3.1"/>
<circle cx="1421.8" cy="1185.3" r="3.1"/>
<circle cx="1437.7" cy="1057.1" r="3.1"/>
<circle cx="1380.3" cy="1162.7" r="3.1"/>
<circle cx="1392.2" cy="1150.7" r="3.1"/>
<circle cx="1433.5" cy="1116.6" r="3.1"/>
<circle cx="1337.5" cy="1211.3" r="3.1"/>
<circle cx="1340" cy="1205.9" r="3.1"/>
<circle cx="1360.6" cy="1195.5" r="3.1"/>
<circle cx="1414.6" cy="1174.9" r="3.1"/>
<circle cx="1322.9" cy="1190.8" r="3.1"/>
<circle cx="1426.8" cy="1182.4" r="3.1"/>
<circle cx="1393.7" cy="1126.2" r="3.1"/>
<circle cx="1340.9" cy="1228.1" r="3.1"/>
<circle cx="1403.7" cy="1194.3" r="3.1"/>
<circle cx="1347.2" cy="1153.1" r="3.1"/>
<circle cx="1412.9" cy="1160.9" r="3.1"/>
<circle cx="1415.9" cy="1150.2" r="3.1"/>
<circle cx="1429.8" cy="1204.8" r="3.1"/>
<circle cx="1428.5" cy="1077.3" r="3.1"/>
<circle cx="1393.2" cy="1185.4" r="3.1"/>
<circle cx="1361.3" cy="1182.9" r="3.1"/>
<circle cx="1336.9" cy="1176.1" r="3.1"/>
<circle cx="1398.3" cy="1185.6" r="3.1"/>
<circle cx="1374.7" cy="1177.8" r="3.1"/>
<circle cx="1455.7" cy="1135.1" r="3.1"/>
</g>
<line x1="1253.2" y1="1227" x2="1511.3" y2="1089.7" stroke="#d3a11a" stroke-width="1.5"/>
<rect x="1244.3" y="964.3" width="274.7" height="280.9" fill="none" stroke="#111" stroke-width="1.1"/>
<line x1="1240.8" y1="1042.4" x2="1244.3" y2="1042.4" stroke="#222" stroke-width="0.9"/>
<text x="1237.8" y="1048.2" font-size="16" text-anchor="end">4</text>
<line x1="1240.8" y1="1139.1" x2="1244.3" y2="1139.1" stroke="#222" stroke-width="0.9"/>
<text x="1237.8" y="1144.9" font-size="16" text-anchor="end">2</text>
<line x1="1240.8" y1="1235.9" x2="1244.3" y2="1235.9" stroke="#222" stroke-width="0.9"/>
<text x="1237.8" y="1241.7" font-size="16" text-anchor="end">0</text>
<line x1="1291.9" y1="1245.3" x2="1291.9" y2="1248.8" stroke="#222" stroke-width="0.9"/>
<text x="1291.9" y="1267.3" font-size="16" text-anchor="middle">1</text>
<line x1="1347.6" y1="1245.3" x2="1347.6" y2="1248.8" stroke="#222" stroke-width="0.9"/>
<text x="1347.6" y="1267.3" font-size="16" text-anchor="middle">2</text>
<line x1="1403.3" y1="1245.3" x2="1403.3" y2="1248.8" stroke="#222" stroke-width="0.9"/>
<text x="1403.3" y="1267.3" font-size="16" text-anchor="middle">3</text>
<line x1="1458.8" y1="1245.3" x2="1458.8" y2="1248.8" stroke="#222" stroke-width="0.9"/>
<text x="1458.8" y="1267.3" font-size="16" text-anchor="middle">4</text>
<line x1="1514.2" y1="1245.3" x2="1514.2" y2="1248.8" stroke="#222" stroke-width="0.9"/>
<text x="1514.2" y="1267.3" font-size="16" text-anchor="middle">5</text>
<text font-size="19.6" text-anchor="middle" transform="translate(1388.9 1291.6) scale(1.12 1)"><tspan font-style="italic">IL16</tspan> expression Log<tspan font-size="12.5" dy="4.5">2</tspan><tspan dy="-4.5"> (TPM+1)</tspan></text>
<text font-size="19.8" text-anchor="middle" transform="translate(1216.5 1097.4) rotate(-90) scale(1.02 1)"><tspan font-style="italic">HDC</tspan> expression Log<tspan font-size="12.5" dy="4.5">2</tspan><tspan dy="-4.5"> (TPM+1)</tspan></text>
<text x="1252.7" y="984.5" font-size="17.2">Spearman</text>
<text x="1252.7" y="1004.9" font-size="17.2"><tspan font-style="italic">R</tspan> = 0.543</text>
<text x="1252.7" y="1025.3" font-size="17.2"><tspan font-style="italic">P</tspan> &lt; 0.001</text>
</g>
<!-- panel j -->
<g>
<text x="1658" y="951" font-size="48" font-weight="bold">j</text>
<rect x="1793.3" y="1202.5" width="43.8" height="48.2" fill="#666666" stroke="#000" stroke-width="2.6"/>
<rect x="1870.2" y="1034.9" width="43" height="215.9" fill="#66a3ff" stroke="#000" stroke-width="2.6"/>
<line x1="1815.1" y1="1195.5" x2="1815.1" y2="1207.5" stroke="#111" stroke-width="1"/>
<line x1="1804.1" y1="1195.5" x2="1826.1" y2="1195.5" stroke="#111" stroke-width="1"/>
<line x1="1804.1" y1="1207.5" x2="1826.1" y2="1207.5" stroke="#111" stroke-width="1"/>
<line x1="1891.7" y1="991.8" x2="1891.7" y2="1074.9" stroke="#111" stroke-width="1"/>
<line x1="1880.7" y1="991.8" x2="1902.7" y2="991.8" stroke="#111" stroke-width="1"/>
<line x1="1880.7" y1="1074.9" x2="1902.7" y2="1074.9" stroke="#111" stroke-width="1"/>
<g fill="#d0d0d0" stroke="#111" stroke-width="1.8">
<circle cx="1815.1" cy="1195" r="5.1"/>
<circle cx="1797.3" cy="1207" r="5.1"/>
<circle cx="1833.1" cy="1203.1" r="5.1"/>
</g>
<g fill="#d0d0d0" stroke="#111" stroke-width="1.8">
<circle cx="1891.7" cy="990.6" r="5.1"/>
<circle cx="1891.7" cy="1036.9" r="5.1"/>
<circle cx="1891.7" cy="1073.4" r="5.1"/>
</g>
<line x1="1768.9" y1="955.5" x2="1768.9" y2="1251.6" stroke="#000" stroke-width="1.8"/>
<line x1="1759.9" y1="956.4" x2="1768.9" y2="956.4" stroke="#000" stroke-width="1.8"/>
<text x="1757.4" y="963.3" font-size="19" text-anchor="end">6</text>
<line x1="1759.9" y1="1054.5" x2="1768.9" y2="1054.5" stroke="#000" stroke-width="1.8"/>
<text x="1757.4" y="1061.3" font-size="19" text-anchor="end">4</text>
<line x1="1759.9" y1="1152.7" x2="1768.9" y2="1152.7" stroke="#000" stroke-width="1.8"/>
<text x="1757.4" y="1159.5" font-size="19" text-anchor="end">2</text>
<line x1="1759.9" y1="1250.7" x2="1768.9" y2="1250.7" stroke="#000" stroke-width="1.8"/>
<text x="1757.4" y="1257.5" font-size="19" text-anchor="end">0</text>
<line x1="1759.9" y1="1250.7" x2="1939.5" y2="1250.7" stroke="#000" stroke-width="1.7"/>
<line x1="1815.1" y1="1250.7" x2="1815.1" y2="1259.7" stroke="#000" stroke-width="1.7"/>
<line x1="1891.7" y1="1250.7" x2="1891.7" y2="1259.7" stroke="#000" stroke-width="1.7"/>
<text x="1815.1" y="1285.5" font-size="26.2" text-anchor="middle">PBS</text>
<text x="1891.7" y="1285.5" font-size="26.2" text-anchor="middle">His</text>
<text font-size="24.6" text-anchor="middle" transform="translate(1725 1101.1) rotate(-90) scale(0.94 1)">Relative <tspan font-style="italic">Il16</tspan> expression</text>
<text x="1856.1" y="957.7" font-size="18.6" text-anchor="middle"><tspan font-style="italic">P</tspan>=0.0023</text>
<polyline points="1818.9,968.6 1818.9,964.1 1891.7,964.1 1891.7,968.6" fill="none" stroke="#333" stroke-width="1"/>
</g>
<!-- panel k -->
<g>
<text x="2.2" y="1411.5" font-size="48" font-weight="bold">k</text>
<rect x="181.9" y="1511.6" width="36.6" height="192.8" fill="#666666" stroke="#000" stroke-width="1.5"/>
<rect x="251.8" y="1577" width="36.6" height="127.4" fill="#3f8b9b" stroke="#000" stroke-width="1.5"/>
<line x1="200.3" y1="1469" x2="200.3" y2="1552.3" stroke="#111" stroke-width="1"/>
<line x1="190.8" y1="1469" x2="209.8" y2="1469" stroke="#111" stroke-width="1"/>
<line x1="190.8" y1="1552.3" x2="209.8" y2="1552.3" stroke="#111" stroke-width="1"/>
<line x1="270" y1="1538.4" x2="270" y2="1613.9" stroke="#111" stroke-width="1"/>
<line x1="260.5" y1="1538.4" x2="279.5" y2="1538.4" stroke="#111" stroke-width="1"/>
<line x1="260.5" y1="1613.9" x2="279.5" y2="1613.9" stroke="#111" stroke-width="1"/>
<g fill="#d4d4d4" stroke="#111" stroke-width="1.3">
<circle cx="200.3" cy="1453.9" r="6.1"/>
<circle cx="187.4" cy="1480.2" r="6.1"/>
<circle cx="213.7" cy="1490.3" r="6.1"/>
<circle cx="213.7" cy="1509.7" r="6.1"/>
<circle cx="200.3" cy="1516.4" r="6.1"/>
<circle cx="200.3" cy="1546.3" r="6.1"/>
<circle cx="200.3" cy="1578.4" r="6.1"/>
</g>
<g fill="#d4d4d4" stroke="#111" stroke-width="1.3">
<circle cx="256.8" cy="1530.8" r="6.1"/>
<circle cx="270" cy="1535.3" r="6.1"/>
<circle cx="270" cy="1551.4" r="6.1"/>
<circle cx="256.8" cy="1582.8" r="6.1"/>
<circle cx="270" cy="1589.9" r="6.1"/>
<circle cx="256.8" cy="1622.8" r="6.1"/>
<circle cx="283.2" cy="1619.9" r="6.1"/>
</g>
<line x1="162.2" y1="1411.2" x2="162.2" y2="1705.4" stroke="#000" stroke-width="1.9"/>
<line x1="153.2" y1="1412.2" x2="162.2" y2="1412.2" stroke="#000" stroke-width="1.9"/>
<text x="150.7" y="1418.5" font-size="17.5" text-anchor="end">200</text>
<line x1="153.2" y1="1485.2" x2="162.2" y2="1485.2" stroke="#000" stroke-width="1.9"/>
<text x="150.7" y="1491.5" font-size="17.5" text-anchor="end">150</text>
<line x1="153.2" y1="1558.3" x2="162.2" y2="1558.3" stroke="#000" stroke-width="1.9"/>
<text x="150.7" y="1564.6" font-size="17.5" text-anchor="end">100</text>
<line x1="153.2" y1="1631.4" x2="162.2" y2="1631.4" stroke="#000" stroke-width="1.9"/>
<text x="150.7" y="1637.7" font-size="17.5" text-anchor="end">50</text>
<line x1="153.2" y1="1704.5" x2="162.2" y2="1704.5" stroke="#000" stroke-width="1.9"/>
<text x="150.7" y="1710.8" font-size="17.5" text-anchor="end">0</text>
<line x1="153.2" y1="1704.5" x2="309.8" y2="1704.5" stroke="#000" stroke-width="1.7"/>
<line x1="200.3" y1="1704.5" x2="200.3" y2="1713.5" stroke="#000" stroke-width="1.7"/>
<line x1="270" y1="1704.5" x2="270" y2="1713.5" stroke="#000" stroke-width="1.7"/>
<text x="200.3" y="1740.9" font-size="28" text-anchor="middle">WT</text>
<text x="239.6" y="1740.9" font-size="28">MC<tspan font-size="23" dy="-12.5">Δ</tspan></text>
<text font-size="24.9" text-anchor="middle" transform="translate(105.2 1559.5) rotate(-90) scale(0.9 1)">Serum IL-16 (pg/ml)</text>
<text x="234.3" y="1420.6" font-size="19.8" text-anchor="middle"><tspan font-style="italic">P</tspan>=0.0096</text>
<polyline points="201.2,1433.2 201.2,1428.7 267.1,1428.7 267.1,1433.2" fill="none" stroke="#333" stroke-width="1"/>
</g>
<!-- panel l -->
<g>
<text x="375.6" y="1411.5" font-size="48" font-weight="bold">l</text>
<rect x="498.4" y="1531.5" width="36.6" height="173.4" fill="#666666" stroke="#000" stroke-width="1.5"/>
<rect x="567.9" y="1595" width="36.6" height="109.9" fill="#440d5f" stroke="#000" stroke-width="1.5"/>
<line x1="516.6" y1="1478.5" x2="516.6" y2="1582.3" stroke="#111" stroke-width="1"/>
<line x1="507.1" y1="1478.5" x2="526.1" y2="1478.5" stroke="#111" stroke-width="1"/>
<line x1="507.1" y1="1582.3" x2="526.1" y2="1582.3" stroke="#111" stroke-width="1"/>
<line x1="586" y1="1554.5" x2="586" y2="1633.8" stroke="#111" stroke-width="1"/>
<line x1="576.5" y1="1554.5" x2="595.5" y2="1554.5" stroke="#111" stroke-width="1"/>
<line x1="576.5" y1="1633.8" x2="595.5" y2="1633.8" stroke="#111" stroke-width="1"/>
<g fill="#d4d4d4" stroke="#111" stroke-width="1.3">
<circle cx="516.6" cy="1449.1" r="6.1"/>
<circle cx="516.6" cy="1492.9" r="6.1"/>
<circle cx="503.9" cy="1536.5" r="6.1"/>
<circle cx="516.6" cy="1542.5" r="6.1"/>
<circle cx="516.6" cy="1570.8" r="6.1"/>
<circle cx="516.6" cy="1590.7" r="6.1"/>
</g>
<g fill="#d4d4d4" stroke="#111" stroke-width="1.3">
<circle cx="599.2" cy="1548.7" r="6.1"/>
<circle cx="586" cy="1559.5" r="6.1"/>
<circle cx="599.2" cy="1584" r="6.1"/>
<circle cx="586" cy="1593.5" r="6.1"/>
<circle cx="586" cy="1628.8" r="6.1"/>
<circle cx="586" cy="1651.5" r="6.1"/>
</g>
<line x1="478.7" y1="1412.9" x2="478.7" y2="1705.9" stroke="#000" stroke-width="1.9"/>
<line x1="469.7" y1="1413.9" x2="478.7" y2="1413.9" stroke="#000" stroke-width="1.9"/>
<text x="467.2" y="1420.2" font-size="17.5" text-anchor="end">200</text>
<line x1="469.7" y1="1486.7" x2="478.7" y2="1486.7" stroke="#000" stroke-width="1.9"/>
<text x="467.2" y="1493" font-size="17.5" text-anchor="end">150</text>
<line x1="469.7" y1="1559.8" x2="478.7" y2="1559.8" stroke="#000" stroke-width="1.9"/>
<text x="467.2" y="1566.1" font-size="17.5" text-anchor="end">100</text>
<line x1="469.7" y1="1632.3" x2="478.7" y2="1632.3" stroke="#000" stroke-width="1.9"/>
<text x="467.2" y="1638.6" font-size="17.5" text-anchor="end">50</text>
<line x1="469.7" y1="1704.9" x2="478.7" y2="1704.9" stroke="#000" stroke-width="1.9"/>
<text x="467.2" y="1711.2" font-size="17.5" text-anchor="end">0</text>
<line x1="469.7" y1="1704.9" x2="625.6" y2="1704.9" stroke="#000" stroke-width="1.7"/>
<line x1="516.6" y1="1704.9" x2="516.6" y2="1713.9" stroke="#000" stroke-width="1.7"/>
<line x1="586" y1="1704.9" x2="586" y2="1713.9" stroke="#000" stroke-width="1.7"/>
<text x="514.6" y="1736.6" font-size="22.8" text-anchor="middle">PBS</text>
<text x="589.2" y="1736.6" font-size="22.8" text-anchor="middle">DSCG</text>
<text font-size="24.2" text-anchor="middle" transform="translate(422.9 1560) rotate(-90) scale(0.9 1)">Serum IL-16 (pg/ml)</text>
<text x="550.6" y="1418.6" font-size="19.8" text-anchor="middle"><tspan font-style="italic">P</tspan>=0.0378</text>
<polyline points="517.8,1430.3 517.8,1425.8 583.6,1425.8 583.6,1430.3" fill="none" stroke="#333" stroke-width="1"/>
</g>
<!-- panel m -->
<g>
<text x="747" y="1411.5" font-size="48" font-weight="bold">m</text>
<rect x="881.7" y="1509.5" width="36.1" height="196.7" fill="#666666" stroke="#000" stroke-width="1.5"/>
<rect x="951.5" y="1557.4" width="36.4" height="148.8" fill="#440d5f" stroke="#000" stroke-width="1.5"/>
<line x1="899.7" y1="1472.1" x2="899.7" y2="1545.7" stroke="#111" stroke-width="1"/>
<line x1="890.2" y1="1472.1" x2="909.2" y2="1472.1" stroke="#111" stroke-width="1"/>
<line x1="890.2" y1="1545.7" x2="909.2" y2="1545.7" stroke="#111" stroke-width="1"/>
<line x1="969.6" y1="1527.7" x2="969.6" y2="1586.4" stroke="#111" stroke-width="1"/>
<line x1="960.1" y1="1527.7" x2="979.1" y2="1527.7" stroke="#111" stroke-width="1"/>
<line x1="960.1" y1="1586.4" x2="979.1" y2="1586.4" stroke="#111" stroke-width="1"/>
<g fill="#d4d4d4" stroke="#111" stroke-width="1.3">
<circle cx="899.7" cy="1452.9" r="6.1"/>
<circle cx="899.7" cy="1485.8" r="6.1"/>
<circle cx="913.1" cy="1506.1" r="6.1"/>
<circle cx="899.7" cy="1515.7" r="6.1"/>
<circle cx="899.7" cy="1540.4" r="6.1"/>
<circle cx="899.7" cy="1554.5" r="6.1"/>
</g>
<g fill="#d4d4d4" stroke="#111" stroke-width="1.3">
<circle cx="956.5" cy="1523.6" r="6.1"/>
<circle cx="969.6" cy="1528.2" r="6.1"/>
<circle cx="969.6" cy="1547.3" r="6.1"/>
<circle cx="982.8" cy="1566.8" r="6.1"/>
<circle cx="969.6" cy="1576.3" r="6.1"/>
<circle cx="969.6" cy="1600.8" r="6.1"/>
</g>
<line x1="861.3" y1="1405.3" x2="861.3" y2="1707.2" stroke="#000" stroke-width="1.9"/>
<line x1="852.3" y1="1406.2" x2="861.3" y2="1406.2" stroke="#000" stroke-width="1.9"/>
<text x="849.8" y="1412.5" font-size="17.5" text-anchor="end">35</text>
<line x1="852.3" y1="1449.1" x2="861.3" y2="1449.1" stroke="#000" stroke-width="1.9"/>
<text x="849.8" y="1455.4" font-size="17.5" text-anchor="end">30</text>
<line x1="852.3" y1="1492" x2="861.3" y2="1492" stroke="#000" stroke-width="1.9"/>
<text x="849.8" y="1498.3" font-size="17.5" text-anchor="end">25</text>
<line x1="852.3" y1="1534.9" x2="861.3" y2="1534.9" stroke="#000" stroke-width="1.9"/>
<text x="849.8" y="1541.2" font-size="17.5" text-anchor="end">20</text>
<line x1="852.3" y1="1577.8" x2="861.3" y2="1577.8" stroke="#000" stroke-width="1.9"/>
<text x="849.8" y="1584.1" font-size="17.5" text-anchor="end">15</text>
<line x1="852.3" y1="1620.7" x2="861.3" y2="1620.7" stroke="#000" stroke-width="1.9"/>
<text x="849.8" y="1627" font-size="17.5" text-anchor="end">10</text>
<line x1="852.3" y1="1663.3" x2="861.3" y2="1663.3" stroke="#000" stroke-width="1.9"/>
<text x="849.8" y="1669.6" font-size="17.5" text-anchor="end">5</text>
<line x1="852.3" y1="1706.2" x2="861.3" y2="1706.2" stroke="#000" stroke-width="1.9"/>
<text x="849.8" y="1712.5" font-size="17.5" text-anchor="end">0</text>
<line x1="852.3" y1="1706.2" x2="1009.2" y2="1706.2" stroke="#000" stroke-width="1.7"/>
<line x1="899.7" y1="1706.2" x2="899.7" y2="1715.2" stroke="#000" stroke-width="1.7"/>
<line x1="969.6" y1="1706.2" x2="969.6" y2="1715.2" stroke="#000" stroke-width="1.7"/>
<text x="897.7" y="1738.1" font-size="22.8" text-anchor="middle">PBS</text>
<text x="972.8" y="1738.1" font-size="22.8" text-anchor="middle">DSCG</text>
<text font-size="26.4" text-anchor="middle" transform="translate(814.4 1555.7) rotate(-90)">Th1 cells (%)</text>
<text x="932.5" y="1418.7" font-size="19.8" text-anchor="middle"><tspan font-style="italic">P</tspan>=0.0314</text>
<polyline points="901.3,1429.2 901.3,1424.7 968.9,1424.7 968.9,1429.2" fill="none" stroke="#333" stroke-width="1"/>
</g>
<!-- panel n -->
<g>
<text x="1122" y="1410.5" font-size="48" font-weight="bold">n</text>
<line x1="1421.7" y1="1685.3" x2="1421.7" y2="1678.4" stroke="#000" stroke-width="2.1"/>
<line x1="1414.7" y1="1678.4" x2="1428.7" y2="1678.4" stroke="#000" stroke-width="2.1"/>
<line x1="1491.9" y1="1639.4" x2="1491.9" y2="1617.9" stroke="#000" stroke-width="2.1"/>
<line x1="1484.9" y1="1617.9" x2="1498.9" y2="1617.9" stroke="#000" stroke-width="2.1"/>
<line x1="1562" y1="1575.6" x2="1562" y2="1534" stroke="#000" stroke-width="2.1"/>
<line x1="1555" y1="1534" x2="1569" y2="1534" stroke="#000" stroke-width="2.1"/>
<line x1="1421.7" y1="1674.3" x2="1421.7" y2="1662.2" stroke="#000" stroke-width="2.1"/>
<line x1="1414.7" y1="1662.2" x2="1428.7" y2="1662.2" stroke="#000" stroke-width="2.1"/>
<line x1="1491.9" y1="1608.3" x2="1491.9" y2="1573.4" stroke="#000" stroke-width="2.1"/>
<line x1="1484.9" y1="1573.4" x2="1498.9" y2="1573.4" stroke="#000" stroke-width="2.1"/>
<line x1="1562" y1="1521.1" x2="1562" y2="1482.6" stroke="#000" stroke-width="2.1"/>
<line x1="1555" y1="1482.6" x2="1569" y2="1482.6" stroke="#000" stroke-width="2.1"/>
<polyline points="1282,1704 1351.6,1700.4 1421.7,1674.3 1491.9,1608.3 1562,1521.1" fill="none" stroke="#000" stroke-width="2.1"/>
<polyline points="1282,1704 1351.6,1699.9 1421.7,1685.3 1491.9,1639.4 1562,1575.6" fill="none" stroke="#000" stroke-width="2.1"/>
<line x1="1247.1" y1="1410.2" x2="1247.1" y2="1704.9" stroke="#000" stroke-width="1.9"/>
<line x1="1237.1" y1="1411.1" x2="1247.1" y2="1411.1" stroke="#000" stroke-width="1.9"/>
<text x="1234.1" y="1416.8" font-size="15.8" text-anchor="end">1500</text>
<line x1="1237.1" y1="1508.7" x2="1247.1" y2="1508.7" stroke="#000" stroke-width="1.9"/>
<text x="1234.1" y="1514.4" font-size="15.8" text-anchor="end">1000</text>
<line x1="1237.1" y1="1606.4" x2="1247.1" y2="1606.4" stroke="#000" stroke-width="1.9"/>
<text x="1234.1" y="1612.1" font-size="15.8" text-anchor="end">500</text>
<line x1="1237.1" y1="1704" x2="1247.1" y2="1704" stroke="#000" stroke-width="1.9"/>
<text x="1234.1" y="1709.7" font-size="15.8" text-anchor="end">0</text>
<line x1="1237.1" y1="1704" x2="1598.3" y2="1704" stroke="#000" stroke-width="1.9"/>
<line x1="1282" y1="1704" x2="1282" y2="1713.5" stroke="#000" stroke-width="1.9"/>
<line x1="1351.6" y1="1704" x2="1351.6" y2="1713.5" stroke="#000" stroke-width="1.9"/>
<line x1="1421.7" y1="1704" x2="1421.7" y2="1713.5" stroke="#000" stroke-width="1.9"/>
<line x1="1491.9" y1="1704" x2="1491.9" y2="1713.5" stroke="#000" stroke-width="1.9"/>
<line x1="1562" y1="1704" x2="1562" y2="1713.5" stroke="#000" stroke-width="1.9"/>
<g fill="#8b1c9e" stroke="#111" stroke-width="1">
<circle cx="1282" cy="1704" r="6.3"/>
<circle cx="1351.6" cy="1700.4" r="6.3"/>
<circle cx="1421.7" cy="1674.3" r="6.3"/>
<circle cx="1491.9" cy="1608.3" r="6.3"/>
<circle cx="1562" cy="1521.1" r="6.3"/>
</g>
<g fill="#666666" stroke="#111" stroke-width="1">
<circle cx="1282" cy="1704" r="6.3"/>
<circle cx="1351.6" cy="1699.9" r="6.3"/>
<circle cx="1421.7" cy="1685.3" r="6.3"/>
<circle cx="1491.9" cy="1639.4" r="6.3"/>
<circle cx="1562" cy="1575.6" r="6.3"/>
</g>
<text x="1282" y="1738.1" font-size="24.8" text-anchor="middle">0</text>
<text x="1351.6" y="1738.1" font-size="24.8" text-anchor="middle">7</text>
<text x="1421.7" y="1738.1" font-size="24.8" text-anchor="middle">11</text>
<text x="1491.9" y="1738.1" font-size="24.8" text-anchor="middle">15</text>
<text x="1562" y="1738.1" font-size="24.8" text-anchor="middle">18</text>
<text font-size="27.2" transform="translate(1590.3 1738.1) scale(1.05 1)">day</text>
<text font-size="27" text-anchor="middle" transform="translate(1186.1 1558.8) rotate(-90) scale(0.93 1)">Tumor volume (mm<tspan font-size="18.5" dy="-11">3</tspan><tspan dy="11">)</tspan></text>
<line x1="1265" y1="1418.5" x2="1290.6" y2="1418.5" stroke="#000" stroke-width="1.5"/>
<circle cx="1277.9" cy="1418.5" r="6.3" fill="#666666" stroke="#111" stroke-width="1"/>
<text x="1304.3" y="1426.5" font-size="26.6">PBS</text>
<line x1="1265" y1="1455.7" x2="1290.6" y2="1455.7" stroke="#000" stroke-width="1.5"/>
<circle cx="1277.9" cy="1455.7" r="6.3" fill="#8b1c9e" stroke="#111" stroke-width="1"/>
<text x="1304.3" y="1463.6" font-size="26.6">DSCG</text>
<text x="1561.2" y="1474.4" font-size="23" text-anchor="middle"><tspan font-style="italic">P</tspan>=0.039</text>
</g>
<!-- panel o -->
<g>
<text x="1657" y="1410.5" font-size="48" font-weight="bold">o</text>
<rect x="1792.2" y="1509.1" width="37.8" height="194.6" fill="#333333" stroke="#000" stroke-width="2.2"/>
<rect x="1861" y="1582.6" width="36.8" height="121.1" fill="#53a8b6" stroke="#000" stroke-width="2.2"/>
<line x1="1810.8" y1="1485.7" x2="1810.8" y2="1531.9" stroke="#111" stroke-width="1"/>
<line x1="1801.3" y1="1485.7" x2="1820.3" y2="1485.7" stroke="#111" stroke-width="1"/>
<line x1="1801.3" y1="1531.9" x2="1820.3" y2="1531.9" stroke="#111" stroke-width="1"/>
<line x1="1879" y1="1569.5" x2="1879" y2="1594.7" stroke="#111" stroke-width="1"/>
<line x1="1869.5" y1="1569.5" x2="1888.5" y2="1569.5" stroke="#111" stroke-width="1"/>
<line x1="1869.5" y1="1594.7" x2="1888.5" y2="1594.7" stroke="#111" stroke-width="1"/>
<g fill="#d0d0d0" stroke="#111" stroke-width="1.7">
<circle cx="1810.8" cy="1485.7" r="5.5"/>
<circle cx="1810.8" cy="1509.6" r="5.5"/>
<circle cx="1810.8" cy="1531.7" r="5.5"/>
</g>
<g fill="#d0d0d0" stroke="#111" stroke-width="1.7">
<circle cx="1892.7" cy="1572.4" r="5.5"/>
<circle cx="1879" cy="1577.4" r="5.5"/>
<circle cx="1879" cy="1595.4" r="5.5"/>
</g>
<line x1="1772.5" y1="1408.7" x2="1772.5" y2="1704.8" stroke="#000" stroke-width="2.2"/>
<line x1="1760.5" y1="1409.8" x2="1772.5" y2="1409.8" stroke="#000" stroke-width="2.2"/>
<text x="1757" y="1416.4" font-size="18.4" text-anchor="end">1.5</text>
<line x1="1760.5" y1="1508.4" x2="1772.5" y2="1508.4" stroke="#000" stroke-width="2.2"/>
<text x="1757" y="1515.1" font-size="18.4" text-anchor="end">1.0</text>
<line x1="1760.5" y1="1606.2" x2="1772.5" y2="1606.2" stroke="#000" stroke-width="2.2"/>
<text x="1757" y="1612.8" font-size="18.4" text-anchor="end">0.5</text>
<line x1="1760.5" y1="1703.7" x2="1772.5" y2="1703.7" stroke="#000" stroke-width="2.2"/>
<text x="1757" y="1710.3" font-size="18.4" text-anchor="end">0.0</text>
<line x1="1760.5" y1="1703.7" x2="1919.8" y2="1703.7" stroke="#000" stroke-width="2.2"/>
<line x1="1810.8" y1="1703.7" x2="1810.8" y2="1716.2" stroke="#000" stroke-width="2.2"/>
<line x1="1879" y1="1703.7" x2="1879" y2="1716.2" stroke="#000" stroke-width="2.2"/>
<text x="1810.8" y="1744.4" font-size="26.6" text-anchor="middle">Ctrl</text>
<text x="1879" y="1744.4" font-size="26.6" text-anchor="middle">TIF</text>
<text font-size="23.6" text-anchor="middle" transform="translate(1715 1558) rotate(-90)">Relative <tspan font-style="italic">Hdc</tspan> expression</text>
<text x="1844.3" y="1445.7" font-size="19.8" text-anchor="middle"><tspan font-style="italic">P</tspan>=0.0084</text>
<polyline points="1815.6,1461.1 1815.6,1454.6 1876.6,1454.6 1876.6,1461.1" fill="none" stroke="#222" stroke-width="1.1"/>
</g>
</svg>
</body>
</html>
